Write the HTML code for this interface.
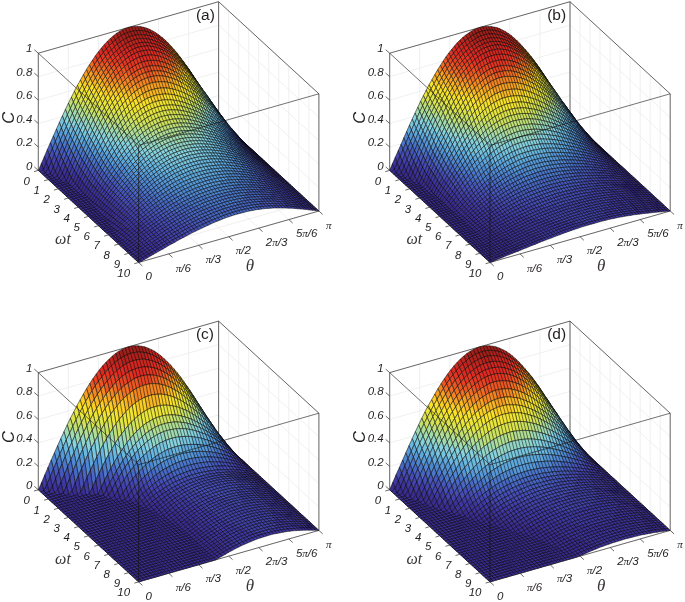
<!DOCTYPE html>
<html><head><meta charset="utf-8"><title>Concurrence surfaces</title>
<style>
html,body{margin:0;padding:0;background:#fff}
svg{display:block}
text{fill:#231f20}
.ti{font:italic 11.5px "Liberation Sans",Arial,sans-serif}
.pi{font-family:"Liberation Serif","DejaVu Serif",serif;font-size:11px}
.ax{font-family:"Liberation Serif","DejaVu Serif",serif;font-style:italic;fill:#3a3536}
.cc{font:italic 16.5px "Liberation Sans",Arial,sans-serif}
.lb{font:15.5px "Liberation Sans",Arial,sans-serif}
.a{fill:#392c8e}.b{fill:#3c3297}.c{fill:#3f38a0}.d{fill:#4242aa}.e{fill:#454cb4}.f{fill:#4659bb}.g{fill:#4767c2}.h{fill:#4a77ca}.i{fill:#4f88d1}.j{fill:#5698d7}.k{fill:#5fa8dc}.l{fill:#6ab7df}.m{fill:#78c5de}.n{fill:#86d2de}.o{fill:#93d6c7}.p{fill:#a0dbb0}.q{fill:#afde94}.r{fill:#bee077}.s{fill:#cde25e}.t{fill:#dbe44b}.u{fill:#e8e63a}.v{fill:#f1e431}.w{fill:#fae228}.x{fill:#f9cd26}.y{fill:#f7b724}.z{fill:#f59f23}.za{fill:#f28623}.zb{fill:#ee6e23}.zc{fill:#eb5723}.zd{fill:#e74323}.ze{fill:#e23623}.zf{fill:#de2a23}.zg{fill:#d02721}.zh{fill:#c2241f}.zi{fill:#b1211c}.zj{fill:#9f1f1a}
</style></head><body>
<svg width="685" height="602" viewBox="0 0 685 602"><rect width="685" height="602" fill="#fff"/><g stroke="#eaeaea" stroke-width=".7" fill="none"><path d="M38.3 170.4L218.6 118.9"/><path d="M218.6 118.9L218.6 1.7"/><path d="M48.3 179.6L228.6 128.1"/><path d="M228.6 128.1L228.6 10.9"/><path d="M58.4 188.8L238.7 137.3"/><path d="M238.7 137.3L238.7 20.1"/><path d="M68.4 198L248.7 146.5"/><path d="M248.7 146.5L248.7 29.3"/><path d="M78.4 207.2L258.7 155.7"/><path d="M258.7 155.7L258.7 38.5"/><path d="M88.4 216.4L268.8 164.9"/><path d="M268.8 164.9L268.8 47.7"/><path d="M98.5 225.7L278.8 174.2"/><path d="M278.8 174.2L278.8 57"/><path d="M108.5 234.9L288.8 183.4"/><path d="M288.8 183.4L288.8 66.2"/><path d="M118.5 244.1L298.8 192.6"/><path d="M298.8 192.6L298.8 75.4"/><path d="M128.6 253.3L308.9 201.8"/><path d="M308.9 201.8L308.9 84.6"/><path d="M138.6 262.5L318.9 211"/><path d="M318.9 211L318.9 93.8"/><path d="M38.3 170.4L138.6 262.5"/><path d="M38.3 170.4L38.3 53.2"/><path d="M68.3 161.8L168.7 253.9"/><path d="M68.3 161.8L68.3 44.6"/><path d="M98.4 153.2L198.7 245.3"/><path d="M98.4 153.2L98.4 36"/><path d="M128.4 144.7L228.8 236.8"/><path d="M128.4 144.7L128.4 27.5"/><path d="M158.5 136.1L258.8 228.2"/><path d="M158.5 136.1L158.5 18.9"/><path d="M188.6 127.5L288.9 219.6"/><path d="M188.6 127.5L188.6 10.3"/><path d="M218.6 118.9L318.9 211"/><path d="M218.6 118.9L218.6 1.7"/><path d="M38.3 170.4L218.6 118.9"/><path d="M218.6 118.9L318.9 211"/><path d="M38.3 147L218.6 95.5"/><path d="M218.6 95.5L318.9 187.6"/><path d="M38.3 123.5L218.6 72"/><path d="M218.6 72L318.9 164.1"/><path d="M38.3 100.1L218.6 48.6"/><path d="M218.6 48.6L318.9 140.7"/><path d="M38.3 76.6L218.6 25.1"/><path d="M218.6 25.1L318.9 117.2"/><path d="M38.3 53.2L218.6 1.7"/><path d="M218.6 1.7L318.9 93.8"/></g><g stroke="#3c3838" stroke-width=".75" fill="none"><path d="M38.3 170.4L218.6 118.9"/><path d="M218.6 118.9L318.9 211"/><path d="M218.6 118.9L218.6 1.7"/><path d="M38.3 53.2L218.6 1.7"/><path d="M218.6 1.7L318.9 93.8"/><path d="M38.3 170.4L38.3 53.2"/><path d="M318.9 211L318.9 93.8"/><path d="M38.3 170.4L138.6 262.5"/><path d="M138.6 262.5L318.9 211"/></g><g transform="scale(0.2)" stroke="#000" stroke-width="2.5" stroke-linejoin="round"><path class=s d="M943 344l15 23 10 15-15-22z"/><path class=t d="M928 323l15 21 10 16-15-22z"/><path class=v d="M913 302l15 21 10 15-15-20z"/><path class=w d="M898 282l15 20 10 16-15-20z"/><path class=y d="M883 262l15 20 10 16-15-18z"/><path class=z d="M868 245l15 17 10 18-15-18z"/><path class=za d="M853 228l15 17 10 17-15-16z"/><path class=zb d="M838 212l15 16 10 18-15-15z"/><path class=zd d="M823 198l15 14 10 19-15-14z"/><path class=ze d="M808 185l15 13 10 19-15-13z"/><path class=zf d="M792 173l16 12 10 19-15-12z"/><path class=zg d="M762 154l15 8 15 11 11 19-15-10-16-8z"/><path class=zh d="M747 146l15 8 10 20-15-8z"/><path class=zi d="M717 136l15 4 15 6 10 20-15-5-15-5z"/><path class=zj d="M582 167l15-10 15-8 15-7 15-5 15-3 15-2 15 0 15 1 15 3 10 20-15-3-15-1-15 1-15 2-15 3-15 5-15 7-15 8-15 10z"/><path class=zi d="M552 192l15-13 15-12 10 21-15 12-15 13z"/><path class=zh d="M537 206l15-14 10 21-15 15z"/><path class=zg d="M507 240l15-18 15-16 10 22-15 16-15 18z"/><path class=zf d="M492 259l15-19 10 22-15 19z"/><path class=ze d="M477 279l15-20 10 22-15 20z"/><path class=zd d="M462 301l15-22 10 22-15 22z"/><path class=zb d="M447 324l15-23 10 22-15 24z"/><path class=za d="M432 348l15-24 10 23-15 24z"/><path class=z d="M417 373l15-25 10 23-15 26z"/><path class=y d="M402 400l15-27 10 24-15 27z"/><path class=w d="M387 427l15-27 10 24-15 28z"/><path class=v d="M372 456l15-29 10 25-15 29z"/><path class=t d="M357 486l15-30 10 25-15 30z"/><path class=r d="M342 516l15-30 10 25-15 31z"/><path class=q d="M327 547l15-31 10 26-15 32z"/><path class=o d="M312 579l15-32 10 27-15 33z"/><path class=m d="M297 612l15-33 10 28-15 33z"/><path class=l d="M282 645l15-33 10 28-15 34z"/><path class=j d="M267 679l15-34 10 29-15 34z"/><path class=h d="M252 713l15-34 10 29-15 35z"/><path class=f d="M237 747l15-34 10 30-15 35z"/><path class=d d="M222 782l15-35 10 31-15 35z"/><path class=b d="M207 817l15-35 10 31-15 35z"/><path class=a d="M192 852l15-35 10 31-15 13z"/><path class=r d="M953 360l15 22 10 15-15-22z"/><path class=t d="M938 338l15 22 10 15-15-21z"/><path class=u d="M923 318l15 20 10 16-15-20z"/><path class=w d="M908 298l15 20 10 16-15-19z"/><path class=x d="M893 280l15 18 10 17-15-18z"/><path class=y d="M878 262l15 18 10 17-15-17z"/><path class=za d="M863 246l15 16 10 18-15-16z"/><path class=zb d="M848 231l15 15 10 18-15-15z"/><path class=zc d="M833 217l15 14 10 18-15-13z"/><path class=zd d="M818 204l15 13 10 19-15-13z"/><path class=ze d="M803 192l15 12 10 19-15-11z"/><path class=zf d="M788 182l15 10 10 20-15-10z"/><path class=zg d="M757 166l15 8 16 8 10 20-15-9-16-7z"/><path class=zh d="M742 161l15 5 10 20-15-5z"/><path class=zi d="M697 152l15 1 15 3 15 5 10 20-15-4-15-3-15-1z"/><path class=zj d="M622 170l15-7 15-5 15-3 15-2 15-1 10 21-15 0-15 2-15 4-15 5-15 7z"/><path class=zi d="M577 200l15-12 15-10 15-8 10 21-15 8-15 10-15 12z"/><path class=zh d="M562 213l15-13 10 21-15 13z"/><path class=zg d="M532 244l15-16 15-15 10 21-15 15-15 16z"/><path class=zf d="M517 262l15-18 10 21-15 18z"/><path class=ze d="M502 281l15-19 10 21-15 19z"/><path class=zd d="M487 301l15-20 10 21-15 21z"/><path class=zc d="M472 323l15-22 10 22-15 22z"/><path class=zb d="M457 347l15-24 10 22-15 24z"/><path class=z d="M442 371l15-24 10 22-15 25z"/><path class=y d="M427 397l15-26 10 23-15 26z"/><path class=x d="M412 424l15-27 10 23-15 27z"/><path class=v d="M397 452l15-28 10 23-15 29z"/><path class=u d="M382 481l15-29 10 24-15 29z"/><path class=s d="M367 511l15-30 10 24-15 31z"/><path class=q d="M352 542l15-31 10 25-15 31z"/><path class=p d="M337 574l15-32 10 25-15 33z"/><path class=n d="M322 607l15-33 10 26-15 33z"/><path class=l d="M307 640l15-33 10 26-15 33z"/><path class=j d="M292 674l15-34 10 26-15 35z"/><path class=i d="M277 708l15-34 10 27-15 35z"/><path class=g d="M262 743l15-35 10 28-15 35z"/><path class=e d="M247 778l15-35 10 28-15 36z"/><path class=c d="M232 813l15-35 10 29-15 35z"/><path class=a d="M202 861l15-13 15-35 10 29-15 24-15 4z"/><path class=r d="M963 375l15 22 10 14-15-21z"/><path class=s d="M948 354l15 21 10 15-15-20z"/><path class=u d="M933 334l15 20 10 16-15-19z"/><path class=v d="M918 315l15 19 10 17-15-19z"/><path class=x d="M903 297l15 18 10 17-15-18z"/><path class=y d="M888 280l15 17 10 17-15-16z"/><path class=z d="M873 264l15 16 10 18-15-16z"/><path class=za d="M858 249l15 15 10 18-15-14z"/><path class=zb d="M843 236l15 13 10 19-15-14z"/><path class=zc d="M828 223l15 13 10 18-15-12z"/><path class=zd d="M813 212l15 11 10 19-15-11z"/><path class=ze d="M798 202l15 10 10 19-15-10z"/><path class=zf d="M783 193l15 9 10 19-15-8z"/><path class=zg d="M752 181l15 5 16 7 10 20-15-7-16-6z"/><path class=zh d="M722 174l15 3 15 4 10 19-15-4-15-2z"/><path class=zi d="M617 199l15-8 15-7 15-5 15-4 15-2 15 0 15 1 10 20-15-1-15 0-15 2-15 4-15 5-15 7-15 8z"/><path class=zh d="M587 221l15-12 15-10 10 20-15 10-15 12z"/><path class=zg d="M557 249l15-15 15-13 10 20-15 13-15 15z"/><path class=zf d="M542 265l15-16 10 20-15 16z"/><path class=ze d="M527 283l15-18 10 20-15 18z"/><path class=zd d="M512 302l15-19 10 20-15 20z"/><path class=zc d="M497 323l15-21 10 21-15 21z"/><path class=zb d="M482 345l15-22 10 21-15 22z"/><path class=za d="M467 369l15-24 10 21-15 24z"/><path class=z d="M452 394l15-25 10 21-15 25z"/><path class=x d="M437 420l15-26 10 21-15 26z"/><path class=w d="M422 447l15-27 10 21-15 28z"/><path class=u d="M407 476l15-29 10 22-15 29z"/><path class=t d="M392 505l15-29 10 22-15 30z"/><path class=r d="M377 536l15-31 10 23-15 31z"/><path class=p d="M362 567l15-31 10 23-15 32z"/><path class=o d="M347 600l15-33 10 24-15 33z"/><path class=m d="M332 633l15-33 10 24-15 33z"/><path class=k d="M317 666l15-33 10 24-15 34z"/><path class=i d="M302 701l15-35 10 25-15 35z"/><path class=g d="M287 736l15-35 10 25-15 36z"/><path class=f d="M272 771l15-35 10 26-15 35z"/><path class=d d="M257 807l15-36 10 26-15 36z"/><path class=b d="M242 842l15-35 10 26-15 37z"/><path class=a d="M212 870l15-4 15-24 10 28-15 5-15 5z"/><path class=p d="M988 411l15 22 10 14-15-21z"/><path class=q d="M973 390l15 21 10 15-15-21z"/><path class=s d="M958 370l15 20 10 15-15-19z"/><path class=t d="M943 351l15 19 10 16-15-19z"/><path class=v d="M928 332l15 19 10 16-15-18z"/><path class=w d="M913 314l15 18 10 17-15-18z"/><path class=x d="M898 298l15 16 10 17-15-16z"/><path class=z d="M883 282l15 16 10 17-15-15z"/><path class=za d="M868 268l15 14 10 18-15-14z"/><path class=zb d="M853 254l15 14 10 18-15-14z"/><path class=zc d="M838 242l15 12 10 18-15-12z"/><path class=zd d="M823 231l15 11 10 18-15-10z"/><path class=ze d="M793 213l15 8 15 10 10 19-15-10-15-8z"/><path class=zf d="M778 206l15 7 10 19-15-7z"/><path class=zg d="M747 196l15 4 16 6 10 19-15-5-16-4z"/><path class=zh d="M612 229l15-10 15-8 15-7 15-5 15-4 15-2 15 0 15 1 15 2 10 20-15-3-15-1-15 0-15 2-15 4-15 5-15 7-15 8-15 10z"/><path class=zg d="M582 254l15-13 15-12 10 19-15 12-15 13z"/><path class=zf d="M567 269l15-15 10 19-15 15z"/><path class=ze d="M552 285l15-16 10 19-15 16z"/><path class=zd d="M537 303l15-18 10 19-15 18z"/><path class=zc d="M522 323l15-20 10 19-15 20z"/><path class=zb d="M507 344l15-21 10 19-15 21z"/><path class=za d="M492 366l15-22 10 19-15 23z"/><path class=z d="M477 390l15-24 10 20-15 24z"/><path class=y d="M462 415l15-25 10 20-15 25z"/><path class=w d="M447 441l15-26 10 20-15 27z"/><path class=v d="M432 469l15-28 10 21-15 28z"/><path class=u d="M417 498l15-29 10 21-15 29z"/><path class=s d="M402 528l15-30 10 21-15 30z"/><path class=q d="M387 559l15-31 10 21-15 31z"/><path class=p d="M372 591l15-32 10 21-15 33z"/><path class=n d="M357 624l15-33 10 22-15 33z"/><path class=l d="M342 657l15-33 10 22-15 34z"/><path class=j d="M327 691l15-34 10 23-15 34z"/><path class=h d="M312 726l15-35 10 23-15 36z"/><path class=f d="M297 762l15-36 10 24-15 35z"/><path class=d d="M282 797l15-35 10 23-15 37z"/><path class=c d="M267 833l15-36 10 25-15 36z"/><path class=a d="M222 880l15-5 15-5 15-37 10 25-15 22-15 5-15 4z"/><path class=q d="M983 405l15 21 10 14-15-20z"/><path class=r d="M968 386l15 19 10 15-15-19z"/><path class=t d="M953 367l15 19 10 15-15-19z"/><path class=u d="M938 349l15 18 10 15-15-17z"/><path class=w d="M923 331l15 18 10 16-15-17z"/><path class=x d="M908 315l15 16 10 17-15-16z"/><path class=y d="M893 300l15 15 10 17-15-15z"/><path class=z d="M878 286l15 14 10 17-15-14z"/><path class=za d="M863 272l15 14 10 17-15-13z"/><path class=zb d="M848 260l15 12 10 18-15-12z"/><path class=zc d="M833 250l15 10 10 18-15-10z"/><path class=zd d="M818 240l15 10 10 18-15-10z"/><path class=ze d="M803 232l15 8 10 18-15-8z"/><path class=zf d="M773 220l15 5 15 7 10 18-15-7-15-5z"/><path class=zg d="M727 212l15 1 15 3 16 4 10 18-15-4-16-3-15-1z"/><path class=zh d="M652 230l15-7 15-5 15-4 15-2 15 0 10 18-15 1-15 2-15 3-15 5-15 7z"/><path class=zg d="M607 260l15-12 15-10 15-8 10 18-15 8-15 10-15 12z"/><path class=zf d="M592 273l15-13 10 18-15 13z"/><path class=ze d="M562 304l15-16 15-15 10 18-15 15-15 16z"/><path class=zd d="M547 322l15-18 10 18-15 18z"/><path class=zc d="M532 342l15-20 10 18-15 20z"/><path class=zb d="M517 363l15-21 10 18-15 21z"/><path class=za d="M502 386l15-23 10 18-15 23z"/><path class=y d="M487 410l15-24 10 18-15 24z"/><path class=x d="M472 435l15-25 10 18-15 25z"/><path class=w d="M457 462l15-27 10 18-15 27z"/><path class=u d="M442 490l15-28 10 18-15 28z"/><path class=t d="M427 519l15-29 10 18-15 30z"/><path class=r d="M412 549l15-30 10 19-15 30z"/><path class=q d="M397 580l15-31 10 19-15 32z"/><path class=o d="M382 613l15-33 10 20-15 32z"/><path class=m d="M367 646l15-33 10 19-15 34z"/><path class=k d="M352 680l15-34 10 20-15 34z"/><path class=i d="M337 714l15-34 10 20-15 35z"/><path class=g d="M322 750l15-36 10 21-15 36z"/><path class=f d="M307 785l15-35 10 21-15 36z"/><path class=d d="M292 822l15-37 10 22-15 36z"/><path class=b d="M277 858l15-36 10 21-15 37z"/><path class=a d="M232 889l15-4 15-5 15-22 10 22-15 9-15 5-15 4z"/><path class=l d="M1038 481l15 22 10 14-15-21z"/><path class=n d="M1023 460l15 21 10 15-15-21z"/><path class=o d="M1008 440l15 20 10 15-15-20z"/><path class=q d="M993 420l15 20 10 15-15-19z"/><path class=r d="M978 401l15 19 10 16-15-18z"/><path class=t d="M963 382l15 19 10 17-15-18z"/><path class=u d="M948 365l15 17 10 18-15-18z"/><path class=v d="M933 348l15 17 10 17-15-16z"/><path class=w d="M918 332l15 16 10 18-15-15z"/><path class=y d="M903 317l15 15 10 19-15-15z"/><path class=z d="M888 303l15 14 10 19-15-14z"/><path class=za d="M873 290l15 13 10 19-15-12z"/><path class=zb d="M858 278l15 12 10 20-15-12z"/><path class=zc d="M843 268l15 10 10 20-15-10z"/><path class=zd d="M813 250l15 8 15 10 10 20-15-9-15-8z"/><path class=ze d="M798 243l15 7 10 21-15-7z"/><path class=zf d="M752 231l16 3 15 4 15 5 10 21-15-5-15-4-15-3z"/><path class=zg d="M647 256l15-8 15-7 15-5 15-3 15-2 15-1 15 1 11 21-15-1-16 0-15 2-15 3-15 5-15 7-15 8z"/><path class=zf d="M617 278l15-12 15-10 10 20-15 10-15 11z"/><path class=ze d="M587 306l15-15 15-13 10 19-15 13-15 15z"/><path class=zd d="M572 322l15-16 10 19-15 16z"/><path class=zc d="M557 340l15-18 10 19-15 18z"/><path class=zb d="M542 360l15-20 10 19-15 20z"/><path class=za d="M527 381l15-21 10 19-15 21z"/><path class=z d="M512 404l15-23 10 19-15 23z"/><path class=y d="M497 428l15-24 10 19-15 24z"/><path class=x d="M482 453l15-25 10 19-15 25z"/><path class=v d="M467 480l15-27 10 19-15 27z"/><path class=u d="M452 508l15-28 10 19-15 28z"/><path class=s d="M437 538l15-30 10 19-15 30z"/><path class=r d="M422 568l15-30 10 19-15 30z"/><path class=p d="M407 600l15-32 10 19-15 32z"/><path class=n d="M392 632l15-32 10 19-15 33z"/><path class=l d="M377 666l15-34 10 20-15 34z"/><path class=k d="M362 700l15-34 10 20-15 34z"/><path class=i d="M347 735l15-35 10 20-15 35z"/><path class=g d="M332 771l15-36 10 20-15 36z"/><path class=e d="M317 807l15-36 10 20-15 37z"/><path class=c d="M302 843l15-36 10 21-15 37z"/><path class=a d="M242 898l15-4 15-5 15-9 15-37 10 22-15 29-15 5-15 4-15 4z"/><path class=j d="M1063 517l15 21 10 14-15-20z"/><path class=l d="M1048 496l15 21 10 15-15-20z"/><path class=m d="M1033 475l15 21 10 16-15-20z"/><path class=o d="M1018 455l15 20 10 17-15-19z"/><path class=p d="M1003 436l15 19 10 18-15-18z"/><path class=r d="M988 418l15 18 10 19-15-18z"/><path class=s d="M973 400l15 18 10 19-15-17z"/><path class=t d="M958 382l15 18 10 20-15-17z"/><path class=v d="M943 366l15 16 10 21-15-16z"/><path class=w d="M928 351l15 15 10 21-15-14z"/><path class=x d="M913 336l15 15 10 22-15-15z"/><path class=y d="M898 322l15 14 10 22-15-13z"/><path class=z d="M883 310l15 12 10 23-15-12z"/><path class=za d="M868 298l15 12 10 23-15-11z"/><path class=zb d="M853 288l15 10 10 24-15-10z"/><path class=zc d="M838 279l15 9 10 24-15-9z"/><path class=zd d="M808 264l15 7 15 8 10 24-15-8-15-6z"/><path class=ze d="M778 255l15 4 15 5 10 25-15-6-15-4z"/><path class=zf d="M732 251l16 0 15 1 15 3 10 24-15-2-15-2-15 1z"/><path class=zg d="M687 261l15-5 15-3 15-2 11 25-16 1-15 4-15 4z"/><path class=zf d="M642 286l15-10 15-8 15-7 10 24-15 7-15 8-15 9z"/><path class=ze d="M612 310l15-13 15-11 10 23-15 11-15 13z"/><path class=zd d="M597 325l15-15 10 23-15 15z"/><path class=zc d="M567 359l15-18 15-16 10 23-15 16-15 18z"/><path class=zb d="M552 379l15-20 10 23-15 19z"/><path class=za d="M537 400l15-21 10 22-15 21z"/><path class=z d="M522 423l15-23 10 22-15 22z"/><path class=x d="M507 447l15-24 10 21-15 24z"/><path class=w d="M492 472l15-25 10 21-15 26z"/><path class=v d="M477 499l15-27 10 22-15 27z"/><path class=t d="M462 527l15-28 10 22-15 28z"/><path class=s d="M447 557l15-30 10 22-15 29z"/><path class=q d="M432 587l15-30 10 21-15 31z"/><path class=o d="M417 619l15-32 10 22-15 31z"/><path class=n d="M402 652l15-33 10 21-15 33z"/><path class=l d="M387 686l15-34 10 21-15 34z"/><path class=j d="M372 720l15-34 10 21-15 35z"/><path class=h d="M357 755l15-35 10 22-15 35z"/><path class=f d="M342 791l15-36 10 22-15 36z"/><path class=d d="M327 828l15-37 10 22-15 36z"/><path class=b d="M312 865l15-37 10 21-15 37z"/><path class=a d="M252 907l15-4 15-4 15-5 15-29 10 21-15 18-15 4-15 4-15 4z"/><path class=h d="M1088 552l15 21 10 13-15-19z"/><path class=j d="M1073 532l15 20 10 15-15-20z"/><path class=k d="M1058 512l15 20 10 15-15-19z"/><path class=m d="M1043 492l15 20 10 16-15-18z"/><path class=n d="M1028 473l15 19 10 18-15-18z"/><path class=p d="M1013 455l15 18 10 19-15-18z"/><path class=q d="M998 437l15 18 10 19-15-17z"/><path class=r d="M983 420l15 17 10 20-15-16z"/><path class=t d="M968 403l15 17 10 21-15-16z"/><path class=u d="M953 387l15 16 10 22-15-15z"/><path class=v d="M938 373l15 14 10 23-15-14z"/><path class=w d="M923 358l15 15 10 23-15-14z"/><path class=x d="M908 345l15 13 10 24-15-12z"/><path class=y d="M893 333l15 12 10 25-15-12z"/><path class=z d="M878 322l15 11 10 25-15-11z"/><path class=za d="M863 312l15 10 10 25-15-9z"/><path class=zb d="M848 303l15 9 10 26-15-9z"/><path class=zc d="M818 289l15 6 15 8 10 26-15-8-15-6z"/><path class=zd d="M788 279l15 4 15 6 10 26-15-5-15-4z"/><path class=ze d="M743 276l15-1 15 2 15 2 10 27-15-3-15-1-15 0z"/><path class=zf d="M697 285l15-4 15-4 16-1 10 26-15 2-16 3-15 5z"/><path class=ze d="M637 320l15-11 15-9 15-8 15-7 10 27-15 6-15 7-15 10-15 11z"/><path class=zd d="M622 333l15-13 10 26-15 12z"/><path class=zc d="M592 364l15-16 15-15 10 25-15 15-15 15z"/><path class=zb d="M577 382l15-18 10 24-15 18z"/><path class=za d="M562 401l15-19 10 24-15 19z"/><path class=z d="M547 422l15-21 10 24-15 21z"/><path class=y d="M532 444l15-22 10 24-15 22z"/><path class=x d="M517 468l15-24 10 24-15 23z"/><path class=v d="M502 494l15-26 10 23-15 26z"/><path class=u d="M487 521l15-27 10 23-15 26z"/><path class=s d="M472 549l15-28 10 22-15 28z"/><path class=r d="M457 578l15-29 10 22-15 29z"/><path class=p d="M442 609l15-31 10 22-15 31z"/><path class=o d="M427 640l15-31 10 22-15 31z"/><path class=m d="M412 673l15-33 10 22-15 33z"/><path class=k d="M397 707l15-34 10 22-15 33z"/><path class=i d="M382 742l15-35 10 21-15 35z"/><path class=g d="M367 777l15-35 10 21-15 35z"/><path class=e d="M352 813l15-36 10 21-15 36z"/><path class=c d="M337 849l15-36 10 21-15 36z"/><path class=a d="M262 916l15-4 15-4 15-4 15-18 15-37 10 21-15 37-15 6-15 4-15 4-15 5z"/><path class=g d="M1113 586l15 20 10 13-15-19z"/><path class=h d="M1098 567l15 19 10 14-15-19z"/><path class=j d="M1083 547l15 20 10 14-15-18z"/><path class=k d="M1068 528l15 19 10 16-15-18z"/><path class=l d="M1053 510l15 18 10 17-15-18z"/><path class=n d="M1038 492l15 18 10 17-15-17z"/><path class=o d="M1023 474l15 18 10 18-15-17z"/><path class=p d="M1008 457l15 17 10 19-15-16z"/><path class=r d="M993 441l15 16 10 20-15-15z"/><path class=s d="M978 425l15 16 10 21-15-15z"/><path class=t d="M963 410l15 15 10 22-15-15z"/><path class=u d="M948 396l15 14 10 22-15-13z"/><path class=v d="M933 382l15 14 10 23-15-13z"/><path class=w d="M918 370l15 12 10 24-15-12z"/><path class=x d="M903 358l15 12 10 24-15-11z"/><path class=y d="M888 347l15 11 10 25-15-10z"/><path class=z d="M873 338l15 9 10 26-15-10z"/><path class=za d="M858 329l15 9 10 25-15-8z"/><path class=zb d="M828 315l15 6 15 8 10 26-15-7-15-7z"/><path class=zc d="M798 306l15 4 15 5 10 26-15-5-15-3z"/><path class=zd d="M753 302l15 0 15 1 15 3 10 27-15-3-15-1-15 0z"/><path class=ze d="M707 312l15-5 16-3 15-2 10 27-15 1-15 3-16 5z"/><path class=zd d="M647 346l15-11 15-10 15-7 15-6 10 26-15 6-15 7-15 10-15 10z"/><path class=zc d="M632 358l15-12 10 25-15 13z"/><path class=zb d="M602 388l15-15 15-15 10 26-15 14-15 15z"/><path class=za d="M587 406l15-18 10 25-15 17z"/><path class=z d="M572 425l15-19 10 24-15 19z"/><path class=y d="M557 446l15-21 10 24-15 20z"/><path class=x d="M542 468l15-22 10 23-15 22z"/><path class=w d="M527 491l15-23 10 23-15 23z"/><path class=u d="M512 517l15-26 10 23-15 25z"/><path class=t d="M497 543l15-26 10 22-15 26z"/><path class=s d="M482 571l15-28 10 22-15 28z"/><path class=q d="M467 600l15-29 10 22-15 29z"/><path class=o d="M452 631l15-31 10 22-15 30z"/><path class=n d="M437 662l15-31 10 21-15 31z"/><path class=l d="M422 695l15-33 10 21-15 32z"/><path class=j d="M407 728l15-33 10 20-15 33z"/><path class=h d="M392 763l15-35 10 20-15 34z"/><path class=g d="M377 798l15-35 10 19-15 35z"/><path class=e d="M362 834l15-36 10 19-15 36z"/><path class=c d="M347 870l15-36 10 19-15 36z"/><path class=a d="M272 926l15-5 15-4 15-4 15-6 15-37 10 19-15 29-15 4-15 4-15 5-15 4z"/><path class=h d="M1108 581l15 19 10 12-15-18z"/><path class=i d="M1093 563l15 18 10 13-15-17z"/><path class=k d="M1078 545l15 18 10 14-15-17z"/><path class=l d="M1063 527l15 18 10 15-15-17z"/><path class=m d="M1048 510l15 17 10 16-15-16z"/><path class=n d="M1033 493l15 17 10 17-15-16z"/><path class=p d="M1018 477l15 16 10 18-15-16z"/><path class=q d="M1003 462l15 15 10 18-15-14z"/><path class=r d="M988 447l15 15 10 19-15-15z"/><path class=s d="M973 432l15 15 10 19-15-13z"/><path class=t d="M958 419l15 13 10 21-15-13z"/><path class=u d="M943 406l15 13 10 21-15-13z"/><path class=v d="M928 394l15 12 10 21-15-11z"/><path class=w d="M913 383l15 11 10 22-15-11z"/><path class=x d="M898 373l15 10 10 22-15-10z"/><path class=y d="M883 363l15 10 10 22-15-9z"/><path class=z d="M868 355l15 8 10 23-15-8z"/><path class=za d="M838 341l15 7 15 7 10 23-15-7-15-5z"/><path class=zb d="M808 333l15 3 15 5 10 25-15-5-15-4z"/><path class=zc d="M748 330l15-1 15 0 15 1 15 3 10 24-15-2-15-1-15 0-15 1z"/><path class=zd d="M717 338l16-5 15-3 10 25-15 3-15 5z"/><path class=zc d="M657 371l15-10 15-10 15-7 15-6 11 25-16 6-15 7-15 9-15 10z"/><path class=zb d="M642 384l15-13 10 24-15 12z"/><path class=za d="M612 413l15-15 15-14 10 23-15 14-15 15z"/><path class=z d="M597 430l15-17 10 23-15 17z"/><path class=y d="M582 449l15-19 10 23-15 18z"/><path class=x d="M567 469l15-20 10 22-15 20z"/><path class=w d="M552 491l15-22 10 22-15 22z"/><path class=v d="M537 514l15-23 10 22-15 23z"/><path class=u d="M522 539l15-25 10 22-15 24z"/><path class=s d="M507 565l15-26 10 21-15 26z"/><path class=r d="M492 593l15-28 10 21-15 27z"/><path class=p d="M477 622l15-29 10 20-15 28z"/><path class=o d="M462 652l15-30 10 19-15 30z"/><path class=m d="M447 683l15-31 10 19-15 30z"/><path class=k d="M432 715l15-32 10 18-15 32z"/><path class=j d="M417 748l15-33 10 18-15 33z"/><path class=h d="M402 782l15-34 10 18-15 33z"/><path class=f d="M387 817l15-35 10 17-15 35z"/><path class=d d="M372 853l15-36 10 17-15 34z"/><path class=b d="M357 889l15-36 10 15-15 36z"/><path class=a d="M282 935l15-4 15-5 15-4 15-4 15-29 10 15-15 23-15 4-15 5-15 4-15 4z"/><path class=g d="M1118 594l15 18 10 13-15-17z"/><path class=i d="M1103 577l15 17 10 14-15-17z"/><path class=j d="M1088 560l15 17 10 14-15-16z"/><path class=k d="M1073 543l15 17 10 15-15-16z"/><path class=m d="M1058 527l15 16 10 16-15-16z"/><path class=n d="M1043 511l15 16 10 16-15-15z"/><path class=o d="M1028 495l15 16 10 17-15-14z"/><path class=p d="M1013 481l15 14 10 19-15-14z"/><path class=q d="M998 466l15 15 10 19-15-14z"/><path class=s d="M983 453l15 13 10 20-15-13z"/><path class=t d="M968 440l15 13 10 20-15-12z"/><path class=u d="M953 427l15 13 10 21-15-12z"/><path class=v d="M938 416l15 11 10 22-15-11z"/><path class=w d="M908 395l15 10 15 11 10 22-15-10-15-9z"/><path class=x d="M893 386l15 9 10 24-15-9z"/><path class=y d="M878 378l15 8 10 24-15-8z"/><path class=z d="M848 366l15 5 15 7 10 24-15-6-15-6z"/><path class=za d="M818 357l15 4 15 5 10 24-15-4-15-4z"/><path class=zb d="M758 355l15-1 15 0 15 1 15 2 10 25-15-2-15-1-15 0-15 2z"/><path class=zc d="M728 363l15-5 15-3 10 26-15 3-15 4z"/><path class=zb d="M667 395l15-10 15-9 15-7 16-6 10 25-15 6-15 7-16 9-15 10z"/><path class=za d="M637 421l15-14 15-12 10 25-15 12-15 14z"/><path class=z d="M622 436l15-15 10 25-15 14z"/><path class=y d="M607 453l15-17 10 24-15 17z"/><path class=x d="M592 471l15-18 10 24-15 18z"/><path class=w d="M577 491l15-20 10 24-15 19z"/><path class=v d="M562 513l15-22 10 23-15 21z"/><path class=u d="M547 536l15-23 10 22-15 23z"/><path class=t d="M532 560l15-24 10 22-15 23z"/><path class=s d="M517 586l15-26 10 21-15 25z"/><path class=q d="M502 613l15-27 10 20-15 27z"/><path class=p d="M487 641l15-28 10 20-15 27z"/><path class=n d="M472 671l15-30 10 19-15 29z"/><path class=m d="M457 701l15-30 10 18-15 30z"/><path class=k d="M442 733l15-32 10 18-15 31z"/><path class=i d="M427 766l15-33 10 17-15 32z"/><path class=g d="M412 799l15-33 10 16-15 33z"/><path class=e d="M397 834l15-35 10 16-15 33z"/><path class=d d="M382 868l15-34 10 14-15 34z"/><path class=b d="M367 904l15-36 10 14-15 35z"/><path class=a d="M292 944l15-4 15-4 15-5 15-4 15-23 10 13-15 19-15 4-15 5-15 4-15 4z"/><path class=e d="M1158 642l15 18 10 11-15-16z"/><path class=f d="M1143 625l15 17 10 13-15-16z"/><path class=g d="M1128 608l15 17 10 14-15-16z"/><path class=h d="M1113 591l15 17 10 15-15-16z"/><path class=j d="M1098 575l15 16 10 16-15-15z"/><path class=k d="M1083 559l15 16 10 17-15-15z"/><path class=l d="M1068 543l15 16 10 18-15-15z"/><path class=m d="M1053 528l15 15 10 19-15-14z"/><path class=o d="M1038 514l15 14 10 20-15-14z"/><path class=p d="M1023 500l15 14 10 20-15-13z"/><path class=q d="M1008 486l15 14 10 21-15-13z"/><path class=r d="M993 473l15 13 10 22-15-12z"/><path class=s d="M978 461l15 12 10 23-15-11z"/><path class=t d="M963 449l15 12 10 24-15-11z"/><path class=u d="M948 438l15 11 10 25-15-11z"/><path class=v d="M933 428l15 10 10 25-15-9z"/><path class=w d="M903 410l15 9 15 9 10 26-15-9-15-8z"/><path class=x d="M888 402l15 8 10 27-15-7z"/><path class=y d="M858 390l15 6 15 6 10 28-15-6-15-5z"/><path class=z d="M828 382l15 4 15 4 10 29-15-5-15-3z"/><path class=za d="M768 381l15-2 15 0 15 1 15 2 10 29-15-2-15 0-15 0-15 2z"/><path class=zb d="M738 388l15-4 15-3 10 30-15 2-15 5z"/><path class=za d="M677 420l15-10 16-9 15-7 15-6 10 30-15 5-15 8-15 8-16 10z"/><path class=z d="M647 446l15-14 15-12 10 29-15 11-15 13z"/><path class=y d="M632 460l15-14 10 27-15 15z"/><path class=x d="M617 477l15-17 10 28-15 16z"/><path class=w d="M602 495l15-18 10 27-15 17z"/><path class=v d="M587 514l15-19 10 26-15 19z"/><path class=u d="M572 535l15-21 10 26-15 20z"/><path class=t d="M557 558l15-23 10 25-15 22z"/><path class=s d="M542 581l15-23 10 24-15 23z"/><path class=r d="M527 606l15-25 10 24-15 24z"/><path class=p d="M512 633l15-27 10 23-15 26z"/><path class=o d="M497 660l15-27 10 22-15 26z"/><path class=n d="M482 689l15-29 10 21-15 28z"/><path class=l d="M467 719l15-30 10 20-15 29z"/><path class=j d="M452 750l15-31 10 19-15 30z"/><path class=i d="M437 782l15-32 10 18-15 31z"/><path class=g d="M422 815l15-33 10 17-15 32z"/><path class=e d="M407 848l15-33 10 16-15 32z"/><path class=c d="M392 882l15-34 10 15-15 33z"/><path class=a d="M302 953l15-4 15-4 15-5 15-4 15-19 15-35 10 14-15 34-15 15-15 5-15 4-15 4-15 5z"/><path class=c d="M1183 671l15 17 10 11-15-16z"/><path class=d d="M1168 655l15 16 10 12-15-15z"/><path class=f d="M1153 639l15 16 10 13-15-15z"/><path class=g d="M1138 623l15 16 10 14-15-15z"/><path class=h d="M1123 607l15 16 10 15-15-15z"/><path class=i d="M1108 592l15 15 10 16-15-14z"/><path class=j d="M1093 577l15 15 10 17-15-14z"/><path class=l d="M1078 562l15 15 10 18-15-13z"/><path class=m d="M1063 548l15 14 10 20-15-13z"/><path class=n d="M1048 534l15 14 10 21-15-13z"/><path class=o d="M1033 521l15 13 10 22-15-12z"/><path class=p d="M1018 508l15 13 10 23-15-12z"/><path class=q d="M1003 496l15 12 10 24-15-11z"/><path class=r d="M988 485l15 11 10 25-15-11z"/><path class=s d="M973 474l15 11 10 25-15-10z"/><path class=t d="M958 463l15 11 10 26-15-10z"/><path class=u d="M928 445l15 9 15 9 10 27-15-9-15-8z"/><path class=v d="M913 437l15 8 10 28-15-7z"/><path class=w d="M898 430l15 7 10 29-15-7z"/><path class=x d="M868 419l15 5 15 6 10 29-15-5-15-5z"/><path class=y d="M838 411l15 3 15 5 10 30-15-4-15-3z"/><path class=z d="M703 439l15-8 15-8 15-5 15-5 15-2 15-2 15 0 15 0 15 2 10 31-15-2-15 0-15 0-15 2-15 3-15 4-15 5-15 7-15 8z"/><path class=y d="M672 460l15-11 16-10 10 30-15 10-16 11z"/><path class=x d="M642 488l15-15 15-13 10 30-15 12-15 14z"/><path class=w d="M627 504l15-16 10 28-15 16z"/><path class=v d="M612 521l15-17 10 28-15 16z"/><path class=u d="M597 540l15-19 10 27-15 18z"/><path class=t d="M582 560l15-20 10 26-15 20z"/><path class=s d="M567 582l15-22 10 26-15 21z"/><path class=r d="M552 605l15-23 10 25-15 22z"/><path class=q d="M537 629l15-24 10 24-15 23z"/><path class=p d="M522 655l15-26 10 23-15 25z"/><path class=n d="M507 681l15-26 10 22-15 26z"/><path class=m d="M492 709l15-28 10 22-15 27z"/><path class=k d="M477 738l15-29 10 21-15 28z"/><path class=j d="M462 768l15-30 10 20-15 29z"/><path class=h d="M447 799l15-31 10 19-15 29z"/><path class=f d="M432 831l15-32 10 17-15 31z"/><path class=e d="M417 863l15-32 10 16-15 31z"/><path class=c d="M402 896l15-33 10 15-15 32z"/><path class=a d="M312 963l15-5 15-4 15-4 15-5 15-15 15-34 10 14-15 32-15 13-15 4-15 4-15 4-15 5z"/><path class=c d="M1193 683l15 16 10 10-15-14z"/><path class=d d="M1178 668l15 15 10 12-15-14z"/><path class=e d="M1163 653l15 15 10 13-15-14z"/><path class=g d="M1148 638l15 15 10 14-15-14z"/><path class=h d="M1133 623l15 15 10 15-15-13z"/><path class=i d="M1118 609l15 14 10 17-15-13z"/><path class=j d="M1103 595l15 14 10 18-15-13z"/><path class=k d="M1088 582l15 13 10 19-15-13z"/><path class=l d="M1073 569l15 13 10 19-15-12z"/><path class=m d="M1058 556l15 13 10 20-15-11z"/><path class=n d="M1043 544l15 12 10 22-15-12z"/><path class=o d="M1028 532l15 12 10 22-15-11z"/><path class=p d="M1013 521l15 11 10 23-15-10z"/><path class=q d="M998 510l15 11 10 24-15-10z"/><path class=r d="M983 500l15 10 10 25-15-9z"/><path class=s d="M968 490l15 10 10 26-15-9z"/><path class=t d="M938 473l15 8 15 9 10 27-15-8-15-8z"/><path class=u d="M923 466l15 7 10 28-15-7z"/><path class=v d="M893 454l15 5 15 7 10 28-15-6-15-5z"/><path class=w d="M863 445l15 4 15 5 10 29-15-4-15-4z"/><path class=x d="M818 440l15 0 15 2 15 3 10 30-15-3-15-1-15-1z"/><path class=y d="M713 469l15-8 15-7 15-5 15-4 15-3 15-2 15 0 10 30-15 1-15 2-15 2-15 4-15 6-15 6-15 8z"/><path class=x d="M682 490l16-11 15-10 10 30-15 10-15 10z"/><path class=w d="M652 516l15-14 15-12 11 29-16 12-15 13z"/><path class=v d="M637 532l15-16 10 28-15 15z"/><path class=u d="M622 548l15-16 10 27-15 16z"/><path class=t d="M607 566l15-18 10 27-15 18z"/><path class=s d="M592 586l15-20 10 27-15 18z"/><path class=r d="M577 607l15-21 10 25-15 20z"/><path class=q d="M562 629l15-22 10 24-15 22z"/><path class=p d="M547 652l15-23 10 24-15 22z"/><path class=o d="M532 677l15-25 10 23-15 24z"/><path class=n d="M517 703l15-26 10 22-15 25z"/><path class=l d="M502 730l15-27 10 21-15 26z"/><path class=k d="M487 758l15-28 10 20-15 27z"/><path class=i d="M472 787l15-29 10 19-15 27z"/><path class=h d="M457 816l15-29 10 17-15 29z"/><path class=f d="M442 847l15-31 10 17-15 30z"/><path class=d d="M427 878l15-31 10 16-15 30z"/><path class=c d="M412 910l15-32 10 15-15 30z"/><path class=a d="M322 972l15-5 15-4 15-4 15-4 15-13 15-32 10 13-15 31-15 10-15 4-15 4-15 5-15 4z"/><path class=b d="M1218 709l15 14 10 10-15-14z"/><path class=c d="M1203 695l15 14 10 10-15-13z"/><path class=d d="M1188 681l15 14 10 11-15-13z"/><path class=e d="M1173 667l15 14 10 12-15-13z"/><path class=f d="M1158 653l15 14 10 13-15-12z"/><path class=g d="M1143 640l15 13 10 15-15-13z"/><path class=h d="M1128 627l15 13 10 15-15-12z"/><path class=i d="M1113 614l15 13 10 16-15-12z"/><path class=j d="M1098 601l15 13 10 17-15-11z"/><path class=k d="M1083 589l15 12 10 19-15-11z"/><path class=l d="M1068 578l15 11 10 20-15-11z"/><path class=m d="M1053 566l15 12 10 20-15-11z"/><path class=n d="M1038 555l15 11 10 21-15-10z"/><path class=o d="M1023 545l15 10 10 22-15-9z"/><path class=p d="M1008 535l15 10 10 23-15-9z"/><path class=q d="M993 526l15 9 10 24-15-9z"/><path class=r d="M963 509l15 8 15 9 10 24-15-8-15-8z"/><path class=s d="M948 501l15 8 10 25-15-7z"/><path class=t d="M918 488l15 6 15 7 10 26-15-6-15-6z"/><path class=u d="M903 483l15 5 10 27-15-5z"/><path class=v d="M873 475l15 4 15 4 10 27-15-4-15-3z"/><path class=w d="M813 471l15-1 15 1 15 1 15 3 10 28-15-2-15-2-15 0-15 0z"/><path class=x d="M753 485l15-6 15-4 15-2 15-2 10 28-15 2-15 3-15 4-15 5z"/><path class=w d="M693 519l15-10 15-10 15-8 15-6 10 28-15 6-15 8-15 9-15 10z"/><path class=v d="M662 544l15-13 16-12 10 27-15 12-16 12z"/><path class=u d="M647 559l15-15 10 26-15 15z"/><path class=t d="M632 575l15-16 10 26-15 15z"/><path class=s d="M617 593l15-18 10 25-15 17z"/><path class=r d="M602 611l15-18 10 24-15 18z"/><path class=q d="M587 631l15-20 10 24-15 19z"/><path class=p d="M572 653l15-22 10 23-15 21z"/><path class=o d="M557 675l15-22 10 22-15 21z"/><path class=n d="M542 699l15-24 10 21-15 23z"/><path class=m d="M527 724l15-25 10 20-15 24z"/><path class=l d="M512 750l15-26 10 19-15 25z"/><path class=j d="M497 777l15-27 10 18-15 26z"/><path class=i d="M482 804l15-27 10 17-15 27z"/><path class=g d="M467 833l15-29 10 17-15 28z"/><path class=f d="M452 863l15-30 10 16-15 28z"/><path class=d d="M437 893l15-30 10 14-15 29z"/><path class=b d="M422 923l15-30 10 13-15 30z"/><path class=a d="M332 981l15-4 15-5 15-4 15-4 15-10 15-31 10 13-15 30-15 7-15 4-15 5-15 4-15 4z"/><path class=b d="M1228 719l15 14 10 9-15-13z"/><path class=c d="M1213 706l15 13 10 10-15-12z"/><path class=d d="M1198 693l15 13 10 11-15-12z"/><path class=e d="M1183 680l15 13 10 12-15-12z"/><path class=f d="M1168 668l15 12 10 13-15-12z"/><path class=g d="M1153 655l15 13 10 13-15-11z"/><path class=h d="M1138 643l15 12 10 15-15-11z"/><path class=i d="M1123 631l15 12 10 16-15-11z"/><path class=j d="M1108 620l15 11 10 17-15-11z"/><path class=k d="M1093 609l15 11 10 17-15-10z"/><path class=l d="M1078 598l15 11 10 18-15-11z"/><path class=m d="M1048 577l15 10 15 11 10 18-15-9-15-10z"/><path class=n d="M1033 568l15 9 10 20-15-9z"/><path class=o d="M1018 559l15 9 10 20-15-8z"/><path class=p d="M1003 550l15 9 10 21-15-8z"/><path class=q d="M973 534l15 8 15 8 10 22-15-8-15-7z"/><path class=r d="M958 527l15 7 10 23-15-6z"/><path class=s d="M928 515l15 6 15 6 10 24-15-6-15-5z"/><path class=t d="M898 506l15 4 15 5 10 25-15-5-15-4z"/><path class=u d="M868 501l15 2 15 3 10 25-15-3-15-2z"/><path class=v d="M718 536l15-9 15-8 15-6 15-5 15-4 15-3 15-2 15 0 15 0 15 2 10 25-15-1-15 0-15 1-15 1-15 3-15 4-15 5-15 6-15 8-15 8z"/><path class=u d="M688 558l15-12 15-10 10 25-15 10-15 11z"/><path class=t d="M657 585l15-15 16-12 10 24-15 13-15 13z"/><path class=s d="M642 600l15-15 11 23-16 15z"/><path class=r d="M612 635l15-18 15-17 10 23-15 17-15 17z"/><path class=q d="M597 654l15-19 10 22-15 19z"/><path class=p d="M582 675l15-21 10 22-15 19z"/><path class=o d="M567 696l15-21 10 20-15 21z"/><path class=m d="M552 719l15-23 10 20-15 22z"/><path class=l d="M537 743l15-24 10 19-15 24z"/><path class=k d="M522 768l15-25 10 19-15 24z"/><path class=j d="M507 794l15-26 10 18-15 25z"/><path class=h d="M492 821l15-27 10 17-15 26z"/><path class=g d="M477 849l15-28 10 16-15 26z"/><path class=e d="M462 877l15-28 10 14-15 28z"/><path class=d d="M447 906l15-29 10 14-15 28z"/><path class=b d="M432 936l15-30 10 13-15 28z"/><path class=a d="M342 990l15-4 15-4 15-5 15-4 15-7 15-30 10 11-15 29-15 6-15 4-15 5-15 4-15 4z"/><path class=b d="M1238 729l15 13 11 9-16-12z"/><path class=c d="M1223 717l15 12 10 10-15-11z"/><path class=d d="M1208 705l15 12 10 11-15-12z"/><path class=e d="M1193 693l15 12 10 11-15-11z"/><path class=f d="M1178 681l15 12 10 12-15-11z"/><path class=g d="M1148 659l15 11 15 11 10 13-15-11-15-10z"/><path class=h d="M1133 648l15 11 10 14-15-10z"/><path class=i d="M1118 637l15 11 10 15-15-10z"/><path class=j d="M1103 627l15 10 10 16-15-10z"/><path class=k d="M1088 616l15 11 10 16-15-10z"/><path class=l d="M1073 607l15 9 10 17-15-9z"/><path class=m d="M1058 597l15 10 10 17-15-8z"/><path class=n d="M1028 580l15 8 15 9 10 19-15-9-15-8z"/><path class=o d="M1013 572l15 8 10 19-15-7z"/><path class=p d="M998 564l15 8 10 20-15-7z"/><path class=q d="M968 551l15 6 15 7 10 21-15-7-15-6z"/><path class=r d="M938 540l15 5 15 6 10 21-15-5-15-5z"/><path class=s d="M908 531l15 4 15 5 10 22-15-4-15-3z"/><path class=t d="M878 526l15 2 15 3 10 24-15-3-15-2z"/><path class=u d="M728 561l15-8 15-8 15-6 15-5 15-4 15-3 15-1 15-1 15 0 15 1 10 24-15 0-15-1-15 1-15 2-15 3-15 4-15 5-15 6-15 8-15 8z"/><path class=t d="M683 595l15-13 15-11 15-10 10 25-15 10-15 11-15 12z"/><path class=s d="M668 608l15-13 10 24-15 13z"/><path class=r d="M637 640l15-17 16-15 10 24-15 14-16 16z"/><path class=q d="M622 657l15-17 10 22-15 17z"/><path class=p d="M607 676l15-19 10 22-15 18z"/><path class=o d="M592 695l15-19 10 21-15 19z"/><path class=n d="M577 716l15-21 10 21-15 20z"/><path class=m d="M562 738l15-22 10 20-15 21z"/><path class=l d="M547 762l15-24 10 19-15 23z"/><path class=j d="M532 786l15-24 10 18-15 23z"/><path class=i d="M517 811l15-25 10 17-15 24z"/><path class=h d="M502 837l15-26 10 16-15 25z"/><path class=f d="M487 863l15-26 10 15-15 25z"/><path class=e d="M472 891l15-28 10 14-15 27z"/><path class=d d="M457 919l15-28 10 13-15 26z"/><path class=b d="M442 947l15-28 10 11-15 28z"/><path class=a d="M352 999l15-4 15-4 15-5 15-4 15-6 15-29 10 11-15 28-15 5-15 5-15 4-15 4-15 5z"/><path class=a d="M1248 739l16 12 10 9-15-11z"/><path class=b d="M1233 728l15 11 11 10-16-11z"/><path class=c d="M1218 716l15 12 10 10-15-11z"/><path class=d d="M1203 705l15 11 10 11-15-10z"/><path class=e d="M1188 694l15 11 10 12-15-11z"/><path class=f d="M1173 683l15 11 10 12-15-10z"/><path class=g d="M1158 673l15 10 10 13-15-10z"/><path class=h d="M1143 663l15 10 10 13-15-9z"/><path class=i d="M1128 653l15 10 10 14-15-10z"/><path class=j d="M1113 643l15 10 10 14-15-9z"/><path class=k d="M1083 624l15 9 15 10 10 15-15-9-15-8z"/><path class=l d="M1068 616l15 8 10 17-15-8z"/><path class=m d="M1053 607l15 9 10 17-15-8z"/><path class=n d="M1038 599l15 8 10 18-15-8z"/><path class=o d="M1008 585l15 7 15 7 10 18-15-7-15-6z"/><path class=p d="M978 572l15 6 15 7 10 19-15-6-15-6z"/><path class=q d="M963 567l15 5 10 20-15-4z"/><path class=r d="M933 558l15 4 15 5 10 21-15-5-15-3z"/><path class=s d="M888 550l15 2 15 3 15 3 10 22-15-3-15-2-15-2z"/><path class=t d="M723 596l15-10 15-8 15-8 15-6 15-5 15-4 15-3 15-2 15-1 15 1 15 0 10 23-15 0-15 0-15 1-15 2-15 3-15 4-15 5-15 6-15 8-15 8-15 10z"/><path class=s d="M693 619l15-12 15-11 10 24-15 10-15 12z"/><path class=r d="M678 632l15-13 10 23-15 13z"/><path class=q d="M647 662l16-16 15-14 10 23-15 14-15 15z"/><path class=p d="M632 679l15-17 11 22-16 16z"/><path class=o d="M617 697l15-18 10 21-15 18z"/><path class=n d="M602 716l15-19 10 21-15 18z"/><path class=m d="M587 736l15-20 10 20-15 19z"/><path class=l d="M572 757l15-21 10 19-15 21z"/><path class=k d="M557 780l15-23 10 19-15 21z"/><path class=j d="M542 803l15-23 10 17-15 22z"/><path class=i d="M527 827l15-24 10 16-15 24z"/><path class=h d="M512 852l15-25 10 16-15 23z"/><path class=f d="M497 877l15-25 10 14-15 25z"/><path class=e d="M482 904l15-27 10 14-15 25z"/><path class=c d="M467 930l15-26 10 12-15 26z"/><path class=b d="M452 958l15-28 10 12-15 26z"/><path class=a d="M362 1009l15-5 15-4 15-4 15-5 15-5 15-28 10 10-15 27-15 6-15 4-15 4-15 4-15 5z"/><path class=a d="M1259 749l15 11 10 9-15-10z"/><path class=b d="M1243 738l16 11 10 10-15-10z"/><path class=c d="M1228 727l15 11 11 11-16-11z"/><path class=d d="M1213 717l15 10 10 11-15-10z"/><path class=e d="M1198 706l15 11 10 11-15-10z"/><path class=f d="M1183 696l15 10 10 12-15-9z"/><path class=g d="M1168 686l15 10 10 13-15-10z"/><path class=h d="M1153 677l15 9 10 13-15-9z"/><path class=i d="M1123 658l15 9 15 10 10 13-15-9-15-8z"/><path class=j d="M1108 649l15 9 10 15-15-9z"/><path class=k d="M1093 641l15 8 10 15-15-8z"/><path class=l d="M1078 633l15 8 10 15-15-7z"/><path class=m d="M1048 617l15 8 15 8 10 16-15-8-15-7z"/><path class=n d="M1033 610l15 7 10 17-15-6z"/><path class=o d="M1003 598l15 6 15 6 10 18-15-6-15-6z"/><path class=p d="M973 588l15 4 15 6 10 18-15-5-15-4z"/><path class=q d="M943 580l15 3 15 5 10 19-15-4-15-3z"/><path class=r d="M913 575l15 2 15 3 10 20-15-3-15-1z"/><path class=s d="M838 576l15-2 15-1 15 0 15 0 15 2 10 21-15-1-15-1-15 1-15 1-15 3z"/><path class=t d="M793 588l15-5 15-4 15-3 10 23-15 3-15 4-15 5z"/><path class=s d="M733 620l15-10 15-8 15-8 15-6 10 23-15 6-15 8-15 8-15 9z"/><path class=r d="M703 642l15-12 15-10 10 22-15 11-15 11z"/><path class=q d="M673 669l15-14 15-13 10 22-15 13-15 13z"/><path class=p d="M658 684l15-15 10 21-15 15z"/><path class=o d="M642 700l16-16 10 21-15 16z"/><path class=n d="M612 736l15-18 15-18 11 21-16 16-15 18z"/><path class=m d="M597 755l15-19 10 19-15 19z"/><path class=l d="M582 776l15-21 10 19-15 20z"/><path class=k d="M567 797l15-21 10 18-15 20z"/><path class=j d="M552 819l15-22 10 17-15 21z"/><path class=h d="M537 843l15-24 10 16-15 23z"/><path class=g d="M522 866l15-23 10 15-15 22z"/><path class=f d="M507 891l15-25 10 14-15 24z"/><path class=e d="M492 916l15-25 10 13-15 24z"/><path class=c d="M477 942l15-26 10 12-15 25z"/><path class=b d="M462 968l15-26 10 11-15 25z"/><path class=a d="M372 1018l15-5 15-4 15-4 15-4 15-6 15-27 10 10-15 25-15 7-15 4-15 4-15 5-15 4z"/><path class=a d="M1269 759l15 10 10 10-15-10z"/><path class=b d="M1254 749l15 10 10 10-15-10z"/><path class=c d="M1238 738l16 11 10 10-15-10z"/><path class=d d="M1223 728l15 10 11 11-15-10z"/><path class=e d="M1208 718l15 10 11 11-16-9z"/><path class=f d="M1193 709l15 9 10 12-15-9z"/><path class=g d="M1163 690l15 9 15 10 10 12-15-9-15-9z"/><path class=h d="M1148 681l15 9 10 13-15-8z"/><path class=i d="M1133 673l15 8 10 14-15-8z"/><path class=j d="M1118 664l15 9 10 14-15-8z"/><path class=k d="M1088 649l15 7 15 8 10 15-15-8-15-7z"/><path class=l d="M1073 641l15 8 10 15-15-7z"/><path class=m d="M1043 628l15 6 15 7 10 16-15-6-15-6z"/><path class=n d="M1028 622l15 6 10 17-15-6z"/><path class=o d="M998 611l15 5 15 6 10 17-15-5-15-4z"/><path class=p d="M968 603l15 4 15 4 10 19-15-4-15-4z"/><path class=q d="M938 597l15 3 15 3 10 19-15-3-15-2z"/><path class=r d="M878 595l15-1 15 1 15 1 15 1 10 20-15-1-15-1-15 0-15 1z"/><path class=s d="M788 617l15-6 15-5 15-4 15-3 15-3 15-1 10 21-15 1-15 3-15 3-15 5-15 5-15 6z"/><path class=r d="M743 642l15-9 15-8 15-8 10 22-15 7-15 8-15 10z"/><path class=q d="M713 664l15-11 15-11 10 22-15 10-15 11z"/><path class=p d="M683 690l15-13 15-13 10 21-15 12-15 13z"/><path class=o d="M653 721l15-16 15-15 10 20-15 15-15 15z"/><path class=n d="M637 737l16-16 10 19-15 16z"/><path class=m d="M622 755l15-18 11 19-16 17z"/><path class=l d="M607 774l15-19 10 18-15 18z"/><path class=k d="M592 794l15-20 10 17-15 19z"/><path class=j d="M577 814l15-20 10 16-15 20z"/><path class=i d="M562 835l15-21 10 16-15 21z"/><path class=h d="M547 858l15-23 10 16-15 21z"/><path class=g d="M532 880l15-22 10 14-15 22z"/><path class=f d="M517 904l15-24 10 14-15 22z"/><path class=d d="M502 928l15-24 10 12-15 24z"/><path class=c d="M487 953l15-25 10 12-15 23z"/><path class=b d="M472 978l15-25 10 10-15 24z"/><path class=a d="M382 1027l15-4 15-5 15-4 15-4 15-7 15-25 10 9-15 25-15 7-15 4-15 5-15 4-15 4z"/><path class=a d="M1279 769l15 10 10 9-15-10z"/><path class=b d="M1264 759l15 10 10 9-15-9z"/><path class=c d="M1249 749l15 10 10 10-15-9z"/><path class=d d="M1234 739l15 10 10 11-15-10z"/><path class=e d="M1218 730l16 9 10 11-15-8z"/><path class=f d="M1188 712l15 9 15 9 11 12-16-9-15-9z"/><path class=g d="M1173 703l15 9 10 12-15-8z"/><path class=h d="M1158 695l15 8 10 13-15-8z"/><path class=i d="M1143 687l15 8 10 13-15-8z"/><path class=j d="M1113 671l15 8 15 8 10 13-15-7-15-7z"/><path class=k d="M1098 664l15 7 10 15-15-7z"/><path class=l d="M1068 651l15 6 15 7 10 15-15-6-15-6z"/><path class=m d="M1053 645l15 6 10 16-15-6z"/><path class=n d="M1023 634l15 5 15 6 10 16-15-5-15-5z"/><path class=o d="M993 626l15 4 15 4 10 17-15-4-15-4z"/><path class=p d="M948 617l15 2 15 3 15 4 10 17-15-3-15-2-15-2z"/><path class=q d="M903 615l15 0 15 1 15 1 10 19-15-1-15-1-15 0z"/><path class=r d="M783 646l15-7 15-6 15-5 15-5 15-3 15-3 15-1 15-1 10 19-15 1-15 2-15 3-15 3-15 5-15 5-15 6-15 7z"/><path class=q d="M738 674l15-10 15-10 15-8 10 20-15 8-15 10-15 10z"/><path class=p d="M708 697l15-12 15-11 10 20-15 10-15 12z"/><path class=o d="M678 725l15-15 15-13 10 19-15 13-15 14z"/><path class=n d="M663 740l15-15 10 18-15 15z"/><path class=m d="M648 756l15-16 10 18-15 16z"/><path class=l d="M617 791l15-18 16-17 10 18-15 16-15 18z"/><path class=k d="M602 810l15-19 11 17-16 18z"/><path class=j d="M587 830l15-20 10 16-15 19z"/><path class=i d="M572 851l15-21 10 15-15 20z"/><path class=h d="M557 872l15-21 10 14-15 20z"/><path class=g d="M542 894l15-22 10 13-15 22z"/><path class=e d="M527 916l15-22 10 13-15 21z"/><path class=d d="M512 940l15-24 10 12-15 23z"/><path class=c d="M497 963l15-23 10 11-15 22z"/><path class=b d="M482 987l15-24 10 10-15 23z"/><path class=a d="M392 1036l15-4 15-4 15-5 15-4 15-7 15-25 10 9-15 24-15 8-15 5-15 4-15 4-15 4z"/><path class=a d="M1289 778l15 10 10 9-15-9z"/><path class=b d="M1274 769l15 9 10 10-15-9z"/><path class=c d="M1259 760l15 9 10 10-15-9z"/><path class=d d="M1244 750l15 10 10 10-15-9z"/><path class=e d="M1213 733l16 9 15 8 10 11-15-8-15-8z"/><path class=f d="M1198 724l15 9 11 12-16-9z"/><path class=g d="M1183 716l15 8 10 12-15-7z"/><path class=h d="M1168 708l15 8 10 13-15-8z"/><path class=i d="M1138 693l15 7 15 8 10 13-15-7-15-7z"/><path class=j d="M1123 686l15 7 10 14-15-7z"/><path class=k d="M1093 673l15 6 15 7 10 14-15-7-15-6z"/><path class=l d="M1078 667l15 6 10 14-15-5z"/><path class=m d="M1048 656l15 5 15 6 10 15-15-6-15-4z"/><path class=n d="M1018 647l15 4 15 5 10 16-15-5-15-4z"/><path class=o d="M988 640l15 3 15 4 10 16-15-3-15-3z"/><path class=p d="M943 635l15 1 15 2 15 2 10 17-15-2-15-1-15-1z"/><path class=q d="M778 674l15-8 15-7 15-6 15-5 15-5 15-3 15-3 15-2 15-1 15 0 15 1 10 18-15 0-15 0-15 1-15 2-15 3-15 4-15 4-15 5-15 7-15 7-15 8z"/><path class=p d="M733 704l15-10 15-10 15-10 10 20-15 9-15 9-15 11z"/><path class=o d="M703 729l15-13 15-12 10 19-15 12-15 12z"/><path class=n d="M688 743l15-14 10 18-15 14z"/><path class=m d="M658 774l15-16 15-15 10 18-15 14-15 15z"/><path class=l d="M643 790l15-16 10 16-15 17z"/><path class=k d="M628 808l15-18 10 17-15 16z"/><path class=j d="M612 826l16-18 10 15-15 18z"/><path class=i d="M597 845l15-19 11 15-16 19z"/><path class=h d="M582 865l15-20 10 15-15 19z"/><path class=g d="M567 885l15-20 10 14-15 19z"/><path class=f d="M552 907l15-22 10 13-15 21z"/><path class=e d="M537 928l15-21 10 12-15 21z"/><path class=d d="M522 951l15-23 10 12-15 21z"/><path class=c d="M507 973l15-22 10 10-15 22z"/><path class=b d="M492 996l15-23 10 10-15 22z"/><path class=a d="M402 1045l15-4 15-4 15-4 15-5 15-8 15-24 10 9-15 23-15 9-15 5-15 4-15 4-15 5z"/><path class=a d="M1299 788l15 9 10 9-15-8z"/><path class=b d="M1284 779l15 9 10 10-15-9z"/><path class=c d="M1269 770l15 9 10 10-15-9z"/><path class=d d="M1254 761l15 9 10 10-15-8z"/><path class=e d="M1224 745l15 8 15 8 10 11-15-8-15-8z"/><path class=f d="M1208 736l16 9 10 11-15-8z"/><path class=g d="M1193 729l15 7 11 12-16-7z"/><path class=h d="M1163 714l15 7 15 8 10 12-15-8-15-7z"/><path class=i d="M1148 707l15 7 10 12-15-6z"/><path class=j d="M1118 693l15 7 15 7 10 13-15-7-15-6z"/><path class=k d="M1103 687l15 6 10 14-15-6z"/><path class=l d="M1073 676l15 6 15 5 10 14-15-5-15-5z"/><path class=m d="M1043 667l15 5 15 4 10 15-15-4-15-4z"/><path class=n d="M1013 660l15 3 15 4 10 16-15-4-15-3z"/><path class=o d="M968 654l15 1 15 2 15 3 10 16-15-2-15-2-15-1z"/><path class=p d="M908 654l15-1 15 0 15 0 15 1 10 17-15-1-15 0-15 1-15 1z"/><path class=q d="M833 672l15-5 15-4 15-4 15-3 15-2 10 18-15 2-15 3-15 4-15 5-15 5z"/><path class=p d="M773 703l15-9 15-8 15-7 15-7 10 19-15 6-15 7-15 8-15 9z"/><path class=o d="M728 735l15-12 15-11 15-9 10 18-15 10-15 10-15 11z"/><path class=n d="M698 761l15-14 15-12 10 17-15 13-15 13z"/><path class=m d="M683 775l15-14 10 17-15 14z"/><path class=l d="M653 807l15-17 15-15 10 17-15 15-15 15z"/><path class=k d="M638 823l15-16 10 15-15 17z"/><path class=j d="M623 841l15-18 10 16-15 17z"/><path class=i d="M607 860l16-19 10 15-15 17z"/><path class=h d="M592 879l15-19 11 13-16 19z"/><path class=g d="M577 898l15-19 10 13-15 19z"/><path class=f d="M562 919l15-21 10 13-15 20z"/><path class=e d="M547 940l15-21 10 12-15 20z"/><path class=d d="M532 961l15-21 10 11-15 20z"/><path class=c d="M517 983l15-22 10 10-15 21z"/><path class=b d="M502 1005l15-22 10 9-15 22z"/><path class=a d="M412 1055l15-5 15-4 15-4 15-5 15-9 15-23 10 9-15 21-15 12-15 4-15 4-15 5-15 4z"/><path class=a d="M1309 798l15 8 10 10-15-9z"/><path class=b d="M1294 789l15 9 10 9-15-8z"/><path class=c d="M1279 780l15 9 10 10-15-8z"/><path class=d d="M1249 764l15 8 15 8 10 11-15-8-15-8z"/><path class=e d="M1234 756l15 8 10 11-15-8z"/><path class=f d="M1219 748l15 8 10 11-15-7z"/><path class=g d="M1188 733l15 8 16 7 10 12-15-7-16-7z"/><path class=h d="M1173 726l15 7 10 13-15-7z"/><path class=i d="M1143 713l15 7 15 6 10 13-15-6-15-7z"/><path class=j d="M1128 707l15 6 10 13-15-5z"/><path class=k d="M1098 696l15 5 15 6 10 14-15-6-15-5z"/><path class=l d="M1068 687l15 4 15 5 10 14-15-4-15-4z"/><path class=m d="M1038 679l15 4 15 4 10 15-15-4-15-3z"/><path class=n d="M1008 674l15 2 15 3 10 16-15-3-15-2z"/><path class=o d="M948 670l15 0 15 1 15 1 15 2 10 16-15-2-15-1-15 0-15 0z"/><path class=p d="M798 712l15-8 15-7 15-6 15-5 15-5 15-4 15-3 15-2 15-1 15-1 10 17-15 1-15 2-15 2-15 3-15 4-15 4-15 6-15 6-15 7-15 8z"/><path class=o d="M753 741l15-10 15-10 15-9 10 18-15 9-15 9-15 10z"/><path class=n d="M723 765l15-13 15-11 10 17-15 12-15 12z"/><path class=m d="M708 778l15-13 10 17-15 12z"/><path class=l d="M678 807l15-15 15-14 10 16-15 14-15 14z"/><path class=k d="M663 822l15-15 10 15-15 15z"/><path class=j d="M633 856l15-17 15-17 10 15-15 16-15 17z"/><path class=i d="M618 873l15-17 10 14-15 17z"/><path class=h d="M602 892l16-19 10 14-15 18z"/><path class=g d="M587 911l15-19 11 13-16 18z"/><path class=f d="M572 931l15-20 10 12-15 19z"/><path class=e d="M557 951l15-20 10 11-15 19z"/><path class=d d="M542 971l15-20 10 10-15 20z"/><path class=c d="M527 992l15-21 10 10-15 21z"/><path class=b d="M512 1014l15-22 10 10-15 20z"/><path class=a d="M422 1064l15-4 15-5 15-4 15-4 15-12 15-21 10 8-15 21-15 13-15 4-15 4-15 5-15 4z"/><path class=a d="M1319 807l15 9 10 9-15-8z"/><path class=b d="M1304 799l15 8 10 10-15-8z"/><path class=c d="M1289 791l15 8 10 10-15-8z"/><path class=d d="M1259 775l15 8 15 8 10 10-15-8-15-7z"/><path class=e d="M1244 767l15 8 10 11-15-8z"/><path class=f d="M1214 753l15 7 15 7 10 11-15-7-15-7z"/><path class=g d="M1198 746l16 7 10 11-15-6z"/><path class=h d="M1183 739l15 7 11 12-15-7z"/><path class=i d="M1153 726l15 7 15 6 11 12-16-6-15-5z"/><path class=j d="M1123 715l15 6 15 5 10 14-15-6-15-5z"/><path class=k d="M1093 706l15 4 15 5 10 14-15-5-15-4z"/><path class=l d="M1063 698l15 4 15 4 10 14-15-4-15-3z"/><path class=m d="M1033 692l15 3 15 3 10 15-15-3-15-3z"/><path class=n d="M988 687l15 1 15 2 15 2 10 15-15-1-15-2-15-1z"/><path class=o d="M913 692l15-2 15-2 15-1 15 0 15 0 10 16-15 0-15 1-15 1-15 2-15 2z"/><path class=p d="M868 703l15-4 15-4 15-3 10 17-15 3-15 4-15 5z"/><path class=o d="M793 739l15-9 15-8 15-7 15-6 15-6 10 18-15 5-15 6-15 7-15 8-15 9z"/><path class=n d="M748 770l15-12 15-10 15-9 10 17-15 9-15 10-15 11z"/><path class=m d="M718 794l15-12 15-12 10 16-15 12-15 12z"/><path class=l d="M703 808l15-14 10 16-15 14z"/><path class=k d="M673 837l15-15 15-14 10 16-15 14-15 14z"/><path class=j d="M658 853l15-16 10 15-15 16z"/><path class=i d="M628 887l15-17 15-17 10 15-15 16-15 16z"/><path class=h d="M613 905l15-18 10 13-15 17z"/><path class=g d="M597 923l16-18 10 12-15 18z"/><path class=f d="M582 942l15-19 11 12-16 18z"/><path class=e d="M567 961l15-19 10 11-15 19z"/><path class=d d="M552 981l15-20 10 11-15 19z"/><path class=c d="M537 1002l15-21 10 10-15 20z"/><path class=b d="M522 1022l15-20 10 9-15 20z"/><path class=a d="M432 1073l15-4 15-5 15-4 15-4 15-13 15-21 10 9-15 20-15 14-15 4-15 5-15 4-15 4z"/><path class=a d="M1329 817l15 8 10 9-15-8z"/><path class=b d="M1314 809l15 8 10 9-15-7z"/><path class=c d="M1284 793l15 8 15 8 10 10-15-8-15-7z"/><path class=d d="M1269 786l15 7 10 11-15-8z"/><path class=e d="M1254 778l15 8 10 10-15-7z"/><path class=f d="M1224 764l15 7 15 7 10 11-15-6-15-7z"/><path class=g d="M1209 758l15 6 10 12-15-6z"/><path class=h d="M1178 745l16 6 15 7 10 12-15-6-15-6z"/><path class=i d="M1148 734l15 6 15 5 11 13-16-6-15-5z"/><path class=j d="M1133 729l15 5 10 13-15-5z"/><path class=k d="M1103 720l15 4 15 5 10 13-15-4-15-4z"/><path class=l d="M1073 713l15 3 15 4 10 14-15-4-15-3z"/><path class=m d="M1028 706l15 1 15 3 15 3 10 14-15-2-15-3-15-1z"/><path class=n d="M983 703l15 0 15 1 15 2 10 15-15-1-15-1-15 0z"/><path class=o d="M833 739l15-7 15-6 15-5 15-5 15-4 15-3 15-2 15-2 15-1 15-1 10 16-15 1-15 1-15 2-15 3-15 3-15 4-15 5-15 5-15 6-15 7z"/><path class=n d="M773 775l15-10 15-9 15-9 15-8 10 17-15 8-15 9-15 9-15 10z"/><path class=m d="M743 798l15-12 15-11 10 17-15 10-15 12z"/><path class=l d="M713 824l15-14 15-12 10 16-15 12-15 13z"/><path class=k d="M698 838l15-14 10 15-15 14z"/><path class=j d="M668 868l15-16 15-14 10 15-15 14-15 15z"/><path class=i d="M653 884l15-16 10 14-15 15z"/><path class=h d="M638 900l15-16 10 13-15 16z"/><path class=g d="M608 935l15-18 15-17 10 13-15 17-15 17z"/><path class=f d="M592 953l16-18 10 12-15 18z"/><path class=e d="M577 972l15-19 11 12-15 18z"/><path class=d d="M562 991l15-19 11 11-16 18z"/><path class=c d="M547 1011l15-20 10 10-15 19z"/><path class=b d="M532 1031l15-20 10 9-15 19z"/><path class=a d="M442 1082l15-4 15-4 15-5 15-4 15-14 15-20 10 8-15 19-15 16-15 5-15 4-15 4-15 4z"/><path class=a d="M1339 826l15 8 10 9-15-7z"/><path class=b d="M1324 819l15 7 10 10-15-8z"/><path class=c d="M1294 804l15 7 15 8 10 9-15-7-15-7z"/><path class=d d="M1279 796l15 8 10 10-15-7z"/><path class=e d="M1249 783l15 6 15 7 10 11-15-7-15-6z"/><path class=f d="M1234 776l15 7 10 11-15-6z"/><path class=g d="M1204 764l15 6 15 6 10 12-15-7-15-5z"/><path class=h d="M1189 758l15 6 10 12-15-6z"/><path class=i d="M1158 747l15 5 16 6 10 12-15-5-16-5z"/><path class=j d="M1128 738l15 4 15 5 10 13-15-4-15-5z"/><path class=k d="M1098 730l15 4 15 4 10 13-15-3-15-4z"/><path class=l d="M1068 725l15 2 15 3 10 14-15-3-15-2z"/><path class=m d="M1023 720l15 1 15 1 15 3 10 14-15-2-15-1-15-1z"/><path class=n d="M948 723l15-2 15-1 15-1 15 0 15 1 10 15-15 0-15 0-15 1-15 1-15 2z"/><path class=o d="M873 743l15-5 15-5 15-4 15-3 15-3 10 16-15 3-15 3-15 4-15 5-15 6z"/><path class=n d="M813 773l15-9 15-8 15-7 15-6 10 17-15 6-15 7-15 7-15 9z"/><path class=m d="M768 802l15-10 15-10 15-9 10 16-15 9-15 10-15 10z"/><path class=l d="M738 826l15-12 15-12 10 16-15 11-15 12z"/><path class=k d="M708 853l15-14 15-13 10 15-15 13-15 13z"/><path class=j d="M693 867l15-14 10 14-15 14z"/><path class=i d="M663 897l15-15 15-15 10 14-15 14-15 15z"/><path class=h d="M648 913l15-16 10 13-15 16z"/><path class=g d="M633 930l15-17 10 13-15 16z"/><path class=f d="M603 965l15-18 15-17 10 12-15 17-15 17z"/><path class=e d="M588 983l15-18 10 11-15 17z"/><path class=d d="M572 1001l16-18 10 10-15 18z"/><path class=c d="M557 1020l15-19 11 10-16 18z"/><path class=b d="M542 1039l15-19 10 9-15 19z"/><path class=a d="M452 1091l15-4 15-4 15-4 15-5 15-16 15-19 10 9-15 18-15 18-15 4-15 4-15 4-15 5z"/><path class=a d="M1349 836l15 7 10 9-15-7z"/><path class=b d="M1334 828l15 8 10 9-15-7z"/><path class=c d="M1304 814l15 7 15 7 10 10-15-7-15-7z"/><path class=d d="M1289 807l15 7 10 10-15-6z"/><path class=e d="M1259 794l15 6 15 7 10 11-15-7-15-6z"/><path class=f d="M1244 788l15 6 10 11-15-6z"/><path class=g d="M1214 776l15 5 15 7 10 11-15-6-15-5z"/><path class=h d="M1184 765l15 5 15 6 10 12-15-6-15-5z"/><path class=i d="M1168 760l16 5 10 12-15-4z"/><path class=j d="M1138 751l15 5 15 4 11 13-16-4-15-4z"/><path class=k d="M1093 741l15 3 15 4 15 3 10 14-15-4-15-3-15-3z"/><path class=l d="M1063 737l15 2 15 2 10 14-15-2-15-1z"/><path class=m d="M1003 735l15 0 15 0 15 1 15 1 10 15-15-2-15 0-15 0-15 0z"/><path class=n d="M838 780l15-7 15-7 15-6 15-6 15-5 15-4 15-3 15-3 15-2 15-1 15-1 10 15-15 1-15 2-15 2-15 3-15 3-15 4-15 5-15 6-15 6-15 7-15 7z"/><path class=m d="M793 808l15-10 15-9 15-9 10 16-15 9-15 9-15 9z"/><path class=l d="M763 829l15-11 15-10 10 15-15 11-15 11z"/><path class=k d="M733 854l15-13 15-12 10 16-15 11-15 12z"/><path class=j d="M703 881l15-14 15-13 10 14-15 13-15 14z"/><path class=i d="M688 895l15-14 10 14-15 14z"/><path class=h d="M658 926l15-16 15-15 10 14-15 15-15 15z"/><path class=g d="M643 942l15-16 10 13-15 15z"/><path class=f d="M613 976l15-17 15-17 10 12-15 16-15 17z"/><path class=e d="M598 993l15-17 10 11-15 17z"/><path class=d d="M583 1011l15-18 10 11-15 17z"/><path class=c d="M567 1029l16-18 10 10-15 18z"/><path class=b d="M552 1048l15-19 11 10-16 17z"/><path class=a d="M462 1101l15-5 15-4 15-4 15-4 15-18 15-18 10 8-15 18-15 19-15 4-15 4-15 5-15 4z"/><path class=a d="M1359 845l15 7 10 10-15-7z"/><path class=b d="M1344 838l15 7 10 10-15-7z"/><path class=c d="M1314 824l15 7 15 7 10 10-15-7-15-6z"/><path class=d d="M1299 818l15 6 10 11-15-7z"/><path class=e d="M1269 805l15 6 15 7 10 10-15-6-15-6z"/><path class=f d="M1254 799l15 6 10 11-15-6z"/><path class=g d="M1224 788l15 5 15 6 10 11-15-5-15-5z"/><path class=h d="M1194 777l15 5 15 6 10 12-15-5-15-5z"/><path class=i d="M1163 769l16 4 15 4 10 13-15-4-15-4z"/><path class=j d="M1133 761l15 4 15 4 11 13-16-4-15-3z"/><path class=k d="M1103 755l15 3 15 3 10 14-15-3-15-3z"/><path class=l d="M1058 750l15 2 15 1 15 2 10 14-15-2-15-1-15-1z"/><path class=m d="M983 753l15-2 15-1 15 0 15 0 15 0 10 15-15 0-15 0-15 0-15 1-15 2z"/><path class=n d="M878 782l15-6 15-6 15-5 15-4 15-3 15-3 15-2 10 15-15 3-15 2-15 4-15 4-15 5-15 6-15 6z"/><path class=m d="M818 814l15-9 15-9 15-7 15-7 10 16-15 7-15 7-15 8-15 9z"/><path class=l d="M773 845l15-11 15-11 15-9 10 15-15 10-15 10-15 11z"/><path class=k d="M743 868l15-12 15-11 10 15-15 11-15 12z"/><path class=j d="M728 881l15-13 10 15-15 12z"/><path class=i d="M698 909l15-14 15-14 10 14-15 14-15 13z"/><path class=h d="M668 939l15-15 15-15 10 13-15 14-15 15z"/><path class=g d="M653 954l15-15 10 12-15 15z"/><path class=f d="M638 970l15-16 10 12-15 16z"/><path class=e d="M608 1004l15-17 15-17 10 12-15 16-15 16z"/><path class=d d="M593 1021l15-17 10 10-15 17z"/><path class=c d="M578 1039l15-18 10 10-15 17z"/><path class=b d="M562 1056l16-17 10 9-15 17z"/><path class=a d="M472 1110l15-4 15-5 15-4 15-4 15-19 15-18 11 9-16 17-15 18-15 6-15 5-15 4-15 4z"/><path class=a d="M1369 855l15 7 10 9-15-7z"/><path class=b d="M1354 848l15 7 10 9-15-6z"/><path class=c d="M1324 835l15 6 15 7 10 10-15-7-15-6z"/><path class=d d="M1309 828l15 7 10 10-15-6z"/><path class=e d="M1279 816l15 6 15 6 10 11-15-6-15-6z"/><path class=f d="M1249 805l15 5 15 6 10 11-15-5-15-5z"/><path class=g d="M1234 800l15 5 10 12-15-5z"/><path class=h d="M1204 790l15 5 15 5 10 12-15-5-15-4z"/><path class=i d="M1174 782l15 4 15 4 10 13-15-5-15-3z"/><path class=j d="M1128 772l15 3 15 3 16 4 10 13-15-4-15-3-16-2z"/><path class=k d="M1098 767l15 2 15 3 10 14-15-2-15-2z"/><path class=l d="M1053 765l15 0 15 1 15 1 10 15-15-1-15-1-15 0z"/><path class=m d="M843 820l15-8 15-7 15-7 15-6 15-6 15-5 15-4 15-4 15-2 15-3 15-2 15-1 15 0 15 0 10 15-15 0-15 1-15 1-15 2-15 2-15 3-15 4-15 4-15 5-15 6-15 6-15 7-15 7-15 8z"/><path class=l d="M798 849l15-10 15-10 15-9 10 16-15 9-15 9-15 10z"/><path class=k d="M768 871l15-11 15-11 10 15-15 11-15 11z"/><path class=j d="M738 895l15-12 15-12 10 15-15 11-15 13z"/><path class=i d="M708 922l15-13 15-14 10 15-15 12-15 14z"/><path class=h d="M693 936l15-14 10 14-15 13z"/><path class=g d="M663 966l15-15 15-15 10 13-15 15-15 14z"/><path class=f d="M648 982l15-16 10 12-15 15z"/><path class=e d="M618 1014l15-16 15-16 10 11-15 16-15 15z"/><path class=d d="M603 1031l15-17 10 10-15 17z"/><path class=c d="M588 1048l15-17 10 10-15 16z"/><path class=b d="M573 1065l15-17 10 9-15 16z"/><path class=a d="M482 1119l15-4 15-4 15-5 15-6 15-18 16-17 10 8-15 17-16 17-15 8-15 5-15 4-15 4z"/><path class=a d="M1379 864l15 7 10 9-15-6z"/><path class=b d="M1349 851l15 7 15 6 10 10-15-6-15-6z"/><path class=c d="M1334 845l15 6 10 11-15-6z"/><path class=d d="M1304 833l15 6 15 6 10 11-15-6-15-6z"/><path class=e d="M1289 827l15 6 10 11-15-5z"/><path class=f d="M1259 817l15 5 15 5 10 12-15-5-15-5z"/><path class=g d="M1229 807l15 5 15 5 10 12-15-5-15-4z"/><path class=h d="M1199 798l15 5 15 4 10 13-15-5-15-3z"/><path class=i d="M1169 791l15 4 15 3 10 14-15-4-15-3z"/><path class=j d="M1138 786l16 2 15 3 10 14-15-3-15-2z"/><path class=k d="M1093 781l15 1 15 2 15 2 11 14-16-2-15-2-15-1z"/><path class=l d="M1033 781l15-1 15 0 15 0 15 1 10 14-15 0-15 0-15 0-15 1z"/><path class=m d="M883 821l15-7 15-6 15-6 15-5 15-4 15-4 15-3 15-2 15-2 15-1 10 15-15 2-15 2-15 2-15 4-15 3-15 5-15 5-15 5-15 6-15 7z"/><path class=l d="M823 854l15-9 15-9 15-8 15-7 10 16-15 7-15 8-15 9-15 9z"/><path class=k d="M793 875l15-11 15-10 10 16-15 10-15 10z"/><path class=j d="M763 897l15-11 15-11 10 15-15 11-15 11z"/><path class=i d="M733 922l15-12 15-13 10 15-15 12-15 12z"/><path class=h d="M703 949l15-13 15-14 10 14-15 13-15 13z"/><path class=g d="M673 978l15-14 15-15 10 13-15 14-15 14z"/><path class=f d="M658 993l15-15 10 12-15 15z"/><path class=e d="M628 1024l15-15 15-16 10 12-15 14-15 16z"/><path class=d d="M613 1041l15-17 10 11-15 15z"/><path class=c d="M598 1057l15-16 10 9-15 16z"/><path class=b d="M568 1090l15-17 15-16 10 9-15 16-15 16z"/><path class=a d="M492 1128l15-4 15-4 15-5 15-8 16-17 10 8-15 16-15 11-16 4-15 4-15 5z"/><path class=a d="M1389 874l15 6 10 9-15-6z"/><path class=b d="M1359 862l15 6 15 6 10 9-15-5-15-6z"/><path class=c d="M1344 856l15 6 10 10-15-6z"/><path class=d d="M1314 844l15 6 15 6 10 10-15-5-15-6z"/><path class=e d="M1284 834l15 5 15 5 10 11-15-5-15-5z"/><path class=f d="M1269 829l15 5 10 11-15-4z"/><path class=g d="M1239 820l15 4 15 5 10 12-15-5-15-4z"/><path class=h d="M1209 812l15 3 15 5 10 12-15-4-15-3z"/><path class=i d="M1164 802l15 3 15 3 15 4 10 13-15-3-15-3-15-3z"/><path class=j d="M1133 798l16 2 15 2 10 14-15-2-15-1z"/><path class=k d="M1088 795l15 0 15 1 15 2 11 15-16-2-15-1-15 0z"/><path class=l d="M863 852l15-8 15-7 15-7 15-6 15-5 15-5 15-5 15-3 15-4 15-2 15-2 15-2 15-1 15 0 15 0 10 15-15 0-15 1-15 1-15 2-15 2-15 3-15 3-15 4-15 4-15 5-15 6-15 6-15 6-15 8-15 7z"/><path class=k d="M818 880l15-10 15-9 15-9 10 16-15 9-15 9-15 9z"/><path class=j d="M773 912l15-11 15-11 15-10 10 15-15 10-15 11-15 11z"/><path class=i d="M743 936l15-12 15-12 10 15-15 11-15 12z"/><path class=h d="M713 962l15-13 15-13 10 14-15 12-15 13z"/><path class=g d="M698 976l15-14 10 13-15 13z"/><path class=f d="M668 1005l15-15 15-14 10 12-15 14-15 14z"/><path class=e d="M653 1019l15-14 10 11-15 14z"/><path class=d d="M623 1050l15-15 15-16 10 11-15 15-15 15z"/><path class=c d="M608 1066l15-16 10 10-15 15z"/><path class=b d="M578 1098l15-16 15-16 10 9-15 15-15 15z"/><path class=a d="M502 1138l15-5 15-4 16-4 15-11 15-16 10 7-15 16-15 13-15 4-16 4-15 5z"/><path class=a d="M1399 883l15 6 10 9-15-5z"/><path class=b d="M1369 872l15 6 15 5 10 10-15-6-15-5z"/><path class=c d="M1354 866l15 6 10 10-15-5z"/><path class=d d="M1324 855l15 6 15 5 10 11-15-5-15-5z"/><path class=e d="M1294 845l15 5 15 5 10 12-15-5-15-5z"/><path class=f d="M1264 836l15 5 15 4 10 12-15-4-15-4z"/><path class=g d="M1234 828l15 4 15 4 10 13-15-4-15-4z"/><path class=h d="M1204 822l15 3 15 3 10 13-15-3-15-3z"/><path class=i d="M1174 816l15 3 15 3 10 13-15-2-15-3z"/><path class=j d="M1128 811l16 2 15 1 15 2 10 14-15-1-15-2-15-1z"/><path class=k d="M1068 811l15-1 15 0 15 0 15 1 11 15-16 0-15-1-15 1-15 1z"/><path class=l d="M903 853l15-6 15-6 15-6 15-5 15-4 15-4 15-3 15-3 15-2 15-2 15-1 10 16-15 1-15 2-15 2-15 3-15 3-15 4-15 5-15 4-15 6-15 6-15 7z"/><path class=k d="M843 886l15-9 15-9 15-7 15-8 10 17-15 7-15 7-15 9-15 8z"/><path class=j d="M798 916l15-11 15-10 15-9 10 15-15 9-15 10-15 10z"/><path class=i d="M768 938l15-11 15-11 10 14-15 11-15 11z"/><path class=h d="M738 962l15-12 15-12 10 14-15 12-15 12z"/><path class=g d="M708 988l15-13 15-13 10 14-15 12-15 13z"/><path class=f d="M678 1016l15-14 15-14 10 13-15 13-15 13z"/><path class=e d="M663 1030l15-14 10 11-15 14z"/><path class=d d="M633 1060l15-15 15-15 10 11-15 14-15 14z"/><path class=c d="M618 1075l15-15 10 9-15 14z"/><path class=b d="M588 1105l15-15 15-15 10 8-15 15-15 15z"/><path class=a d="M512 1147l15-5 16-4 15-4 15-13 15-16 10 8-15 15-15 15-15 4-15 5-16 4z"/><path class=a d="M1409 893l15 5 10 10-15-6z"/><path class=b d="M1379 882l15 5 15 6 10 9-15-5-15-5z"/><path class=c d="M1349 872l15 5 15 5 10 10-15-5-15-5z"/><path class=d d="M1334 867l15 5 10 10-15-4z"/><path class=e d="M1304 857l15 5 15 5 10 11-15-5-15-4z"/><path class=f d="M1274 849l15 4 15 4 10 12-15-4-15-4z"/><path class=g d="M1244 841l15 4 15 4 10 12-15-4-15-3z"/><path class=h d="M1214 835l15 3 15 3 10 13-15-3-15-2z"/><path class=i d="M1169 829l15 1 15 3 15 2 10 14-15-3-15-2-15-1z"/><path class=j d="M1123 826l16 0 15 1 15 2 10 14-15-1-15-1-15-1z"/><path class=k d="M1033 832l15-2 15-2 15-1 15-1 15-1 15 1 11 14-16 0-15 1-15 1-15 2-15 1-15 3z"/><path class=l d="M958 851l15-4 15-5 15-4 15-3 15-3 10 16-15 3-15 3-15 4-15 5-15 5z"/><path class=k d="M868 893l15-9 15-7 15-7 15-7 15-6 15-6 10 17-15 5-15 6-15 7-15 7-15 7-15 8z"/><path class=j d="M823 920l15-10 15-9 15-8 10 15-15 9-15 9-15 9z"/><path class=i d="M778 952l15-11 15-11 15-10 10 15-15 10-15 10-15 11z"/><path class=h d="M748 976l15-12 15-12 10 14-15 11-15 12z"/><path class=g d="M718 1001l15-13 15-12 10 13-15 12-15 12z"/><path class=f d="M688 1027l15-13 15-13 10 12-15 13-15 12z"/><path class=e d="M673 1041l15-14 10 11-15 14z"/><path class=d d="M643 1069l15-14 15-14 10 11-15 13-15 14z"/><path class=c d="M628 1083l15-14 10 10-15 13z"/><path class=b d="M598 1113l15-15 15-15 10 9-15 14-15 15z"/><path class=a d="M522 1156l16-4 15-5 15-4 15-15 15-15 10 8-15 14-15 14-15 8-15 4-15 4z"/><path class=a d="M1419 902l15 6 10 9-15-5z"/><path class=b d="M1389 892l15 5 15 5 10 10-15-5-15-5z"/><path class=c d="M1359 882l15 5 15 5 10 10-15-4-15-5z"/><path class=d d="M1329 873l15 5 15 4 10 11-15-4-15-4z"/><path class=e d="M1299 865l15 4 15 4 10 12-15-4-15-4z"/><path class=f d="M1269 857l15 4 15 4 10 12-15-4-15-3z"/><path class=g d="M1239 851l15 3 15 3 10 13-15-3-15-3z"/><path class=h d="M1209 846l15 3 15 2 10 13-15-2-15-2z"/><path class=i d="M1164 842l15 1 15 1 15 2 10 14-15-2-15-1-15-1z"/><path class=j d="M1103 841l15-1 16 0 15 1 15 1 10 14-15-1-15 0-15 0-15 1z"/><path class=k d="M908 893l15-7 15-7 15-6 15-5 15-5 15-5 15-4 15-3 15-3 15-3 15-1 15-2 15-1 11 15-16 1-15 2-15 2-15 2-15 4-15 3-15 4-15 5-15 5-15 5-15 6-15 7-15 6z"/><path class=j d="M848 926l15-9 15-9 15-8 15-7 10 15-15 8-15 8-15 8-15 9z"/><path class=i d="M803 955l15-10 15-10 15-9 10 15-15 9-15 10-15 10z"/><path class=h d="M773 977l15-11 15-11 10 15-15 10-15 11z"/><path class=g d="M743 1001l15-12 15-12 10 14-15 11-15 12z"/><path class=f d="M713 1026l15-13 15-12 10 13-15 11-15 13z"/><path class=e d="M683 1052l15-14 15-12 10 12-15 12-15 13z"/><path class=d d="M653 1079l15-14 15-13 10 11-15 13-15 13z"/><path class=c d="M623 1106l15-14 15-13 10 10-15 13-15 13z"/><path class=b d="M608 1121l15-15 10 9-15 14z"/><path class=a d="M533 1165l15-4 15-4 15-8 15-14 15-14 10 8-15 14-15 13-15 10-15 4-15 4z"/><path class=a d="M1429 912l15 5 10 9-15-5z"/><path class=b d="M1399 902l15 5 15 5 10 9-15-4-15-5z"/><path class=c d="M1369 893l15 5 15 4 10 10-15-4-15-4z"/><path class=d d="M1339 885l15 4 15 4 10 11-15-4-15-4z"/><path class=e d="M1309 877l15 4 15 4 10 11-15-4-15-3z"/><path class=f d="M1279 870l15 3 15 4 10 12-15-4-15-3z"/><path class=g d="M1249 864l15 3 15 3 10 12-15-2-15-3z"/><path class=h d="M1204 858l15 2 15 2 15 2 10 13-15-2-15-2-15-1z"/><path class=i d="M1159 855l15 1 15 1 15 1 10 14-15-2-15 0-15-1z"/><path class=j d="M1083 859l15-2 16-1 15-1 15 0 15 0 10 14-15 0-15 1-15 1-15 1-16 2z"/><path class=k d="M948 895l15-6 15-5 15-5 15-5 15-4 15-3 15-4 15-2 15-2 10 15-15 2-15 3-15 3-15 4-15 4-15 4-15 5-15 6-15 6z"/><path class=j d="M873 932l15-8 15-8 15-8 15-6 15-7 10 16-15 6-15 7-15 7-15 8-15 8z"/><path class=i d="M828 960l15-10 15-9 15-9 10 15-15 9-15 9-15 9z"/><path class=h d="M783 991l15-11 15-10 15-10 10 14-15 10-15 10-15 11z"/><path class=g d="M753 1014l15-12 15-11 10 14-15 10-15 12z"/><path class=f d="M723 1038l15-13 15-11 10 13-15 11-15 12z"/><path class=e d="M693 1063l15-13 15-12 10 12-15 12-15 12z"/><path class=d d="M663 1089l15-13 15-13 10 11-15 12-15 13z"/><path class=c d="M633 1115l15-13 15-13 10 10-15 13-15 13z"/><path class=b d="M618 1129l15-14 10 10-15 13z"/><path class=a d="M543 1174l15-4 15-4 15-10 15-13 15-14 10 9-15 13-15 13-15 11-15 4-15 5z"/><path class=a d="M1439 921l15 5 10 9-15-4z"/><path class=b d="M1409 912l15 5 15 4 10 10-15-4-15-4z"/><path class=c d="M1379 904l15 4 15 4 10 11-15-5-15-3z"/><path class=d d="M1349 896l15 4 15 4 10 11-15-4-15-4z"/><path class=e d="M1319 889l15 3 15 4 10 11-15-3-15-4z"/><path class=f d="M1289 882l15 3 15 4 10 11-15-3-15-2z"/><path class=g d="M1244 875l15 2 15 3 15 2 10 13-15-3-15-2-15-2z"/><path class=h d="M1199 870l15 2 15 1 15 2 10 13-15-2-15-1-15-1z"/><path class=i d="M1139 870l15-1 15 0 15 1 15 0 10 14-15 0-15-1-15 1-15 0z"/><path class=j d="M913 931l15-7 15-7 15-6 15-6 15-6 15-5 15-4 15-4 15-4 15-3 15-3 15-2 16-2 15-1 15-1 10 14-15 1-15 2-15 2-16 2-15 3-15 3-15 4-15 4-15 5-15 5-15 5-15 6-15 6-15 7-15 7z"/><path class=i d="M853 965l15-9 15-9 15-8 15-8 10 15-15 8-15 8-15 9-15 8z"/><path class=h d="M808 994l15-10 15-10 15-9 10 14-15 10-15 9-15 10z"/><path class=g d="M778 1015l15-10 15-11 10 14-15 10-15 11z"/><path class=f d="M733 1050l15-12 15-11 15-12 10 14-15 10-15 12-15 11z"/><path class=e d="M703 1074l15-12 15-12 10 12-15 12-15 11z"/><path class=d d="M673 1099l15-13 15-12 10 11-15 12-15 12z"/><path class=c d="M643 1125l15-13 15-13 10 10-15 13-15 12z"/><path class=b d="M628 1138l15-13 10 9-15 13z"/><path class=a d="M553 1184l15-5 15-4 15-11 15-13 15-13 10 9-15 12-15 13-15 12-15 4-15 5z"/><path class=a d="M1449 931l15 4 10 9-15-4z"/><path class=b d="M1419 923l15 4 15 4 10 9-15-4-15-3z"/><path class=c d="M1389 915l15 3 15 5 10 10-15-4-15-4z"/><path class=d d="M1359 907l15 4 15 4 10 10-15-3-15-4z"/><path class=e d="M1314 897l15 3 15 4 15 3 10 11-15-3-15-3-15-3z"/><path class=f d="M1284 892l15 3 15 2 10 12-15-2-15-3z"/><path class=g d="M1239 886l15 2 15 2 15 2 10 12-15-2-15-1-15-2z"/><path class=h d="M1194 884l15 0 15 1 15 1 10 13-15-1-15 0-15-1z"/><path class=i d="M1134 885l15-1 15 0 15-1 15 1 10 13-15 0-15 1-15 1-15 1z"/><path class=j d="M953 932l15-6 15-6 15-5 15-5 15-5 15-4 15-4 15-3 15-3 16-2 15-2 15-2 10 15-15 1-15 3-15 2-16 3-15 3-15 4-15 4-15 5-15 5-15 5-15 6-15 7z"/><path class=i d="M878 971l15-9 15-8 15-8 15-7 15-7 10 16-15 6-15 7-15 8-15 8-15 8z"/><path class=h d="M833 998l15-9 15-10 15-8 10 14-15 9-15 9-15 9z"/><path class=g d="M788 1029l15-11 15-10 15-10 10 14-15 10-15 10-15 10z"/><path class=f d="M758 1051l15-12 15-10 10 13-15 10-15 11z"/><path class=e d="M728 1074l15-12 15-11 10 12-15 11-15 11z"/><path class=d d="M683 1109l15-12 15-12 15-11 10 11-15 12-15 11-15 12z"/><path class=c d="M653 1134l15-12 15-13 10 11-15 12-15 12z"/><path class=b d="M638 1147l15-13 10 10-15 12z"/><path class=a d="M563 1193l15-5 15-4 15-12 15-13 15-12 10 9-15 12-15 12-15 13-15 5-15 4z"/><path class=a d="M1459 940l15 4 10 10-15-4z"/><path class=b d="M1429 933l15 3 15 4 10 10-15-4-15-3z"/><path class=c d="M1384 922l15 3 15 4 15 4 10 10-15-4-15-3-15-4z"/><path class=d d="M1354 915l15 3 15 4 10 10-15-3-15-3z"/><path class=e d="M1324 909l15 3 15 3 10 11-15-3-15-2z"/><path class=f d="M1294 904l15 3 15 2 10 12-15-2-15-3z"/><path class=g d="M1249 899l15 2 15 1 15 2 10 12-15-1-15-2-15-1z"/><path class=h d="M1189 897l15 0 15 1 15 0 15 1 10 13-15-1-15 0-15 0-15 0z"/><path class=i d="M1099 906l15-2 15-3 15-1 15-1 15-1 15-1 10 14-15 0-15 1-15 2-15 2-15 2-15 2z"/><path class=j d="M1008 930l15-5 15-5 15-4 15-4 15-3 16-3 10 14-15 3-16 4-15 4-15 4-15 5-15 5z"/><path class=i d="M903 977l15-8 15-8 15-7 15-6 15-7 15-6 15-5 10 15-15 5-15 6-15 6-15 7-15 7-15 7-15 8z"/><path class=h d="M858 1003l15-9 15-9 15-8 10 14-15 8-15 9-15 9z"/><path class=g d="M813 1032l15-10 15-10 15-9 10 14-15 9-15 9-15 10z"/><path class=f d="M768 1063l15-11 15-10 15-10 10 13-15 10-15 10-15 10z"/><path class=e d="M738 1085l15-11 15-11 10 12-15 11-15 11z"/><path class=d d="M708 1108l15-11 15-12 10 12-15 11-15 11z"/><path class=c d="M678 1132l15-12 15-12 10 11-15 12-15 11z"/><path class=b d="M633 1168l15-12 15-12 15-12 10 10-15 12-15 11-15 12z"/><path class=a d="M573 1202l15-4 15-5 15-13 15-12 10 9-15 12-15 12-15 6-15 4z"/><path class=a d="M1454 946l15 4 15 4 10 9-15-4-15-3z"/><path class=b d="M1424 939l15 4 15 3 10 10-15-4-15-3z"/><path class=c d="M1394 932l15 4 15 3 10 10-15-3-15-3z"/><path class=d d="M1364 926l15 3 15 3 10 11-15-3-15-3z"/><path class=e d="M1334 921l15 2 15 3 10 11-15-2-15-3z"/><path class=f d="M1289 915l15 1 15 3 15 2 10 11-15-2-15-2-15-1z"/><path class=g d="M1244 911l15 1 15 1 15 2 10 12-15-1-15-1-15-1z"/><path class=h d="M1184 911l15 0 15 0 15 0 15 0 10 13-15 0-15 0-15 0-15 1z"/><path class=i d="M943 976l15-7 15-7 15-6 15-6 15-5 15-5 15-5 15-4 15-4 16-4 15-3 15-2 15-2 15-2 15-2 15-1 10 14-15 1-15 1-15 2-15 3-15 2-15 4-15 3-15 4-16 4-15 5-15 5-15 6-15 5-15 7-15 6-15 7z"/><path class=h d="M883 1008l15-9 15-8 15-8 15-7 10 14-15 8-15 7-15 8-15 9z"/><path class=g d="M823 1045l15-10 15-9 15-9 15-9 10 14-15 8-15 9-15 9-15 10z"/><path class=f d="M793 1065l15-10 15-10 10 13-15 9-15 10z"/><path class=e d="M748 1097l15-11 15-11 15-10 10 12-15 11-15 10-15 10z"/><path class=d d="M718 1119l15-11 15-11 10 11-15 11-15 11z"/><path class=c d="M688 1142l15-11 15-12 10 11-15 11-15 11z"/><path class=b d="M643 1177l15-12 15-11 15-12 10 10-15 11-15 12-15 11z"/><path class=a d="M583 1211l15-4 15-6 15-12 15-12 10 9-15 12-15 11-15 7-15 4z"/><path class=a d="M1464 956l15 3 15 4 10 9-15-3-15-3z"/><path class=b d="M1434 949l15 3 15 4 10 10-15-4-15-3z"/><path class=c d="M1404 943l15 3 15 3 10 10-15-3-15-3z"/><path class=d d="M1374 937l15 3 15 3 10 10-15-2-15-3z"/><path class=e d="M1329 930l15 2 15 3 15 2 10 11-15-2-15-3-15-1z"/><path class=f d="M1284 926l15 1 15 1 15 2 10 12-15-2-15-1-15-2z"/><path class=g d="M1239 924l15 0 15 1 15 1 10 11-15 0-15-1-15 0z"/><path class=h d="M1164 927l15-1 15-1 15-1 15 0 15 0 10 12-15 0-15 1-15 1-15 1-15 2z"/><path class=i d="M983 977l15-7 15-5 15-6 15-5 15-5 16-4 15-4 15-3 15-4 15-2 15-3 15-2 10 14-15 2-15 2-15 3-15 3-15 4-15 4-15 4-16 5-15 5-15 5-15 6-15 6z"/><path class=h d="M908 1013l15-8 15-7 15-8 15-7 15-6 10 13-15 7-15 7-15 7-15 8-15 8z"/><path class=g d="M848 1048l15-9 15-9 15-8 15-9 10 14-15 8-15 8-15 9-15 9z"/><path class=f d="M803 1077l15-10 15-9 15-10 10 13-15 9-15 10-15 10z"/><path class=e d="M773 1098l15-10 15-11 10 13-15 9-15 11z"/><path class=d d="M728 1130l15-11 15-11 15-10 10 12-15 10-15 10-15 11z"/><path class=c d="M698 1152l15-11 15-11 10 11-15 11-15 10z"/><path class=b d="M653 1186l15-11 15-12 15-11 10 10-15 11-15 11-15 11z"/><path class=a d="M593 1220l15-4 15-7 15-11 15-12 10 9-15 11-15 12-15 7-15 5z"/><path class=a d="M1474 966l15 3 15 3 10 9-15-3-15-3z"/><path class=b d="M1444 959l15 3 15 4 10 9-15-3-15-3z"/><path class=c d="M1414 953l15 3 15 3 10 10-15-3-15-2z"/><path class=d d="M1369 946l15 2 15 3 15 2 10 11-15-3-15-2-15-2z"/><path class=e d="M1339 942l15 1 15 3 10 11-15-2-15-2z"/><path class=f d="M1294 937l15 2 15 1 15 2 10 11-15-2-15-1-15-1z"/><path class=g d="M1234 936l15 0 15 0 15 1 15 0 10 12-15 0-15-1-15 0-15 1z"/><path class=h d="M1144 945l15-2 15-2 15-2 15-1 15-1 15-1 10 13-15 0-15 1-15 2-15 1-15 3-15 2z"/><path class=i d="M1023 978l15-5 15-5 16-5 15-4 15-4 15-4 15-3 15-3 10 13-15 3-15 3-15 4-15 4-15 4-15 5-16 5-15 6z"/><path class=h d="M933 1019l15-8 15-7 15-7 15-7 15-6 15-6 10 14-15 6-15 6-15 7-15 6-15 8-15 7z"/><path class=g d="M873 1052l15-9 15-8 15-8 15-8 10 13-15 8-15 8-15 8-15 9z"/><path class=f d="M828 1080l15-10 15-9 15-9 10 13-15 9-15 9-15 9z"/><path class=e d="M783 1110l15-11 15-9 15-10 10 12-15 10-15 9-15 10z"/><path class=d d="M738 1141l15-11 15-10 15-10 10 11-15 10-15 10-15 11z"/><path class=c d="M708 1162l15-10 15-11 10 11-15 10-15 10z"/><path class=b d="M663 1195l15-11 15-11 15-11 10 10-15 11-15 11-15 11z"/><path class=a d="M603 1230l15-5 15-7 15-12 15-11 10 10-15 10-15 11-15 9-15 4z"/><path class=a d="M1484 975l15 3 15 3 10 10-15-3-15-3z"/><path class=b d="M1454 969l15 3 15 3 10 10-15-3-15-3z"/><path class=c d="M1424 964l15 2 15 3 10 10-15-3-15-2z"/><path class=d d="M1379 957l15 2 15 2 15 3 10 10-15-3-15-2-15-2z"/><path class=e d="M1349 953l15 2 15 2 10 10-15-2-15-1z"/><path class=f d="M1289 949l15 0 15 1 15 1 15 2 10 11-15-1-15-2-15 0-15-1z"/><path class=g d="M1229 949l15 0 15-1 15 0 15 1 10 11-15 0-15 0-15 1-15 1z"/><path class=h d="M958 1025l15-8 15-6 15-7 15-6 15-6 15-6 16-5 15-5 15-4 15-4 15-4 15-3 15-3 15-2 15-3 15-1 15-2 15-1 10 13-15 1-15 1-15 2-15 2-15 3-15 3-15 3-15 4-15 4-15 5-15 4-15 6-16 5-15 6-15 6-15 7-15 7-15 7z"/><path class=g d="M898 1056l15-8 15-8 15-8 15-7 10 13-15 7-15 8-15 8-15 8z"/><path class=f d="M838 1092l15-9 15-9 15-9 15-9 10 13-15 8-15 9-15 9-15 9z"/><path class=e d="M793 1121l15-10 15-9 15-10 10 12-15 9-15 10-15 9z"/><path class=d d="M763 1141l15-10 15-10 10 11-15 10-15 10z"/><path class=c d="M718 1172l15-10 15-10 15-11 10 11-15 10-15 10-15 11z"/><path class=b d="M673 1205l15-11 15-11 15-11 10 11-15 10-15 10-15 11z"/><path class=a d="M613 1239l15-4 15-9 15-11 15-10 10 9-15 10-15 11-15 9-15 4z"/><path class=a d="M1494 985l15 3 15 3 10 9-15-3-15-3z"/><path class=b d="M1464 979l15 3 15 3 10 9-15-2-15-3z"/><path class=c d="M1434 974l15 2 15 3 10 10-15-3-15-2z"/><path class=d d="M1389 967l15 2 15 2 15 3 10 10-15-2-15-2-15-2z"/><path class=e d="M1344 963l15 1 15 1 15 2 10 11-15-2-15-1-15-1z"/><path class=f d="M1299 960l15 1 15 0 15 2 10 11-15-1-15-1-15 0z"/><path class=g d="M1224 963l15-1 15-1 15-1 15 0 15 0 10 12-15 0-15 0-15 1-15 1-15 1z"/><path class=h d="M983 1031l15-7 15-7 15-6 15-6 16-5 15-6 15-4 15-5 15-4 15-4 15-3 15-3 15-3 15-2 15-2 15-1 10 12-15 2-15 2-15 2-15 3-15 3-15 3-15 4-15 4-15 5-15 5-15 5-15 5-16 6-15 6-15 7-15 7z"/><path class=g d="M923 1061l15-8 15-8 15-7 15-7 10 13-15 7-15 7-15 8-15 7z"/><path class=f d="M863 1095l15-9 15-9 15-8 15-8 10 12-15 8-15 9-15 8-15 9z"/><path class=e d="M818 1123l15-10 15-9 15-9 10 12-15 9-15 9-15 9z"/><path class=d d="M773 1152l15-10 15-10 15-9 10 11-15 10-15 9-15 10z"/><path class=c d="M728 1183l15-11 15-10 15-10 10 11-15 10-15 10-15 10z"/><path class=b d="M683 1214l15-11 15-10 15-10 10 10-15 10-15 10-15 10z"/><path class=a d="M623 1248l15-4 15-9 15-11 15-10 10 9-15 10-15 11-15 9-15 4z"/><path class=a d="M1504 994l15 3 15 3 10 9-15-3-15-2z"/><path class=b d="M1474 989l15 3 15 2 10 10-15-3-15-2z"/><path class=c d="M1429 982l15 2 15 2 15 3 10 10-15-3-15-2-15-2z"/><path class=d d="M1399 978l15 2 15 2 10 10-15-2-15-1z"/><path class=e d="M1354 974l15 1 15 1 15 2 10 11-15-2-15-1-15-1z"/><path class=f d="M1294 972l15 0 15 0 15 1 15 1 10 11-15-1-15 0-15-1-15 0z"/><path class=g d="M1219 977l15-2 15-1 15-1 15-1 15 0 10 11-15 1-15 1-15 1-15 1-15 2z"/><path class=h d="M1023 1030l15-6 16-6 15-5 15-5 15-5 15-5 15-4 15-4 15-3 15-3 15-3 15-2 15-2 10 12-15 2-15 2-15 3-15 3-15 4-15 4-15 4-15 5-15 5-15 5-15 5-15 6-15 6z"/><path class=g d="M933 1073l15-7 15-8 15-7 15-7 15-7 15-7 11 13-16 7-15 6-15 7-15 8-15 7-15 8z"/><path class=f d="M873 1107l15-9 15-8 15-9 15-8 10 13-15 8-15 8-15 9-15 8z"/><path class=e d="M828 1134l15-9 15-9 15-9 10 12-15 9-15 9-15 9z"/><path class=d d="M783 1163l15-10 15-9 15-10 10 12-15 9-15 10-15 9z"/><path class=c d="M738 1193l15-10 15-10 15-10 10 11-15 10-15 9-15 10z"/><path class=b d="M693 1223l15-10 15-10 15-10 10 10-15 10-15 10-15 9z"/><path class=a d="M633 1257l15-4 15-9 15-11 15-10 10 9-15 10-15 10-15 10-15 4z"/><path class=a d="M1514 1004l15 2 15 3 10 9-15-2-15-3z"/><path class=b d="M1484 999l15 2 15 3 10 9-15-2-15-2z"/><path class=c d="M1439 992l15 2 15 2 15 3 10 10-15-2-15-3-15-1z"/><path class=d d="M1394 987l15 2 15 1 15 2 10 11-15-2-15-2-15-1z"/><path class=e d="M1349 984l15 1 15 1 15 1 10 11-15-1-15-1-15-1z"/><path class=f d="M1304 983l15 0 15 1 15 0 10 11-15 0-15 0-15 0z"/><path class=g d="M1214 991l15-2 15-2 15-1 15-1 15-1 15-1 10 12-15 1-15 1-15 1-15 1-15 2-15 2z"/><path class=h d="M1064 1031l15-5 15-5 15-5 15-5 15-4 15-4 15-4 15-3 15-3 15-2 10 12-15 3-15 3-15 3-15 4-15 4-15 4-15 5-15 4-15 6-15 5z"/><path class=g d="M958 1078l15-7 15-8 15-7 15-6 16-7 15-6 15-6 10 13-15 6-15 6-15 7-16 6-15 7-15 8-15 7z"/><path class=f d="M898 1111l15-9 15-8 15-8 15-8 10 13-15 8-15 8-15 8-15 8z"/><path class=e d="M853 1137l15-9 15-9 15-8 10 12-15 8-15 9-15 9z"/><path class=d d="M793 1174l15-9 15-10 15-9 15-9 10 12-15 9-15 9-15 9-15 9z"/><path class=c d="M748 1203l15-10 15-9 15-10 10 11-15 9-15 10-15 9z"/><path class=b d="M703 1232l15-9 15-10 15-10 10 10-15 10-15 9-15 10z"/><path class=a d="M643 1266l15-4 15-10 15-10 15-10 10 10-15 10-15 9-15 10-15 5z"/><path class=a d="M1524 1013l15 3 15 2 10 9-15-2-15-2z"/><path class=b d="M1494 1009l15 2 15 2 10 10-15-2-15-2z"/><path class=c d="M1449 1003l15 1 15 3 15 2 10 10-15-3-15-1-15-2z"/><path class=d d="M1404 998l15 1 15 2 15 2 10 10-15-2-15-1-15-1z"/><path class=e d="M1359 995l15 1 15 1 15 1 10 11-15-1-15-1-15-1z"/><path class=f d="M1299 996l15-1 15 0 15 0 15 0 10 11-15 0-15 0-15 1-15 0z"/><path class=g d="M1179 1012l15-3 15-3 15-3 15-2 15-2 15-1 15-1 15-1 10 11-15 1-15 2-15 1-15 2-15 3-15 2-15 3-15 4z"/><path class=h d="M1119 1029l15-5 15-4 15-4 15-4 10 13-15 3-15 4-15 5-15 4z"/><path class=g d="M983 1084l15-8 15-7 16-6 15-7 15-6 15-6 15-5 15-6 15-4 10 12-15 5-15 6-15 5-15 6-15 6-15 7-15 6-16 7-15 7z"/><path class=f d="M923 1115l15-8 15-8 15-8 15-7 10 12-15 8-15 7-15 8-15 8z"/><path class=e d="M863 1149l15-9 15-9 15-8 15-8 10 12-15 8-15 8-15 9-15 8z"/><path class=d d="M818 1176l15-9 15-9 15-9 10 11-15 9-15 9-15 9z"/><path class=c d="M773 1204l15-10 15-9 15-9 10 11-15 9-15 9-15 9z"/><path class=b d="M713 1242l15-10 15-9 15-10 15-9 10 10-15 9-15 10-15 9-15 9z"/><path class=a d="M653 1276l15-5 15-10 15-9 15-10 10 9-15 10-15 9-15 10-15 5z"/><path class=a d="M1534 1023l15 2 15 2 10 10-15-3-15-2z"/><path class=b d="M1489 1016l15 3 15 2 15 2 10 9-15-2-15-2-15-2z"/><path class=c d="M1459 1013l15 2 15 1 10 10-15-1-15-2z"/><path class=d d="M1414 1009l15 1 15 1 15 2 10 10-15-1-15-2-15-1z"/><path class=e d="M1354 1006l15 0 15 1 15 1 15 1 10 10-15 0-15-1-15 0-15 0z"/><path class=f d="M1294 1008l15-1 15 0 15-1 15 0 10 12-15 0-15 0-15 1-15 1z"/><path class=g d="M1024 1082l15-6 15-7 15-6 15-6 15-5 15-6 15-5 15-4 15-5 15-4 15-3 15-4 15-3 15-2 15-3 15-2 15-1 15-2 10 12-15 2-15 1-15 2-15 3-15 3-15 3-15 3-15 4-15 4-15 4-15 5-15 5-15 5-15 6-15 6-15 6-15 6-15 7z"/><path class=f d="M948 1119l15-8 15-7 15-8 15-7 16-7 10 13-15 7-16 7-15 7-15 8-15 7z"/><path class=e d="M888 1152l15-9 15-8 15-8 15-8 10 12-15 8-15 8-15 8-15 9z"/><path class=d d="M828 1187l15-9 15-9 15-9 15-8 10 12-15 8-15 9-15 8-15 9z"/><path class=c d="M783 1214l15-9 15-9 15-9 10 11-15 9-15 9-15 9z"/><path class=b d="M723 1251l15-9 15-9 15-10 15-9 10 11-15 9-15 9-15 9-15 9z"/><path class=a d="M663 1285l15-5 15-10 15-9 15-10 10 10-15 9-15 9-15 9-15 6z"/><path class=a d="M1544 1032l15 2 15 3 10 9-15-2-15-2z"/><path class=b d="M1499 1026l15 2 15 2 15 2 10 10-15-2-15-2-15-2z"/><path class=c d="M1469 1023l15 2 15 1 10 10-15-1-15-2z"/><path class=d d="M1424 1019l15 1 15 2 15 1 10 10-15-1-15-1-15-1z"/><path class=e d="M1364 1018l15 0 15 0 15 1 15 0 10 11-15-1-15 0-15 0-15 0z"/><path class=f d="M1289 1022l15-2 15-1 15-1 15 0 15 0 10 11-15 0-15 1-15 1-15 1-15 1z"/><path class=g d="M1049 1088l15-6 15-6 15-6 15-6 15-5 15-5 15-5 15-4 15-4 15-4 15-3 15-3 15-3 15-3 15-2 15-1 10 11-15 2-15 2-15 3-15 3-15 3-15 3-15 4-15 4-15 5-15 5-15 5-15 5-15 6-15 5-15 7-15 6z"/><path class=f d="M973 1124l15-8 15-7 16-7 15-7 15-7 10 13-15 7-15 6-15 7-16 8-15 7z"/><path class=e d="M898 1164l15-9 15-8 15-8 15-8 15-7 10 12-15 8-15 7-15 8-15 8-15 8z"/><path class=d d="M838 1198l15-9 15-8 15-9 15-8 10 11-15 9-15 8-15 8-15 9z"/><path class=c d="M793 1225l15-9 15-9 15-9 10 11-15 9-15 8-15 9z"/><path class=b d="M748 1252l15-9 15-9 15-9 10 10-15 9-15 9-15 9z"/><path class=a d="M673 1294l15-6 15-9 15-9 15-9 15-9 10 10-15 8-15 9-15 9-15 9-15 6z"/><path class=a d="M1554 1042l15 2 15 2 10 9-15-2-15-2z"/><path class=b d="M1509 1036l15 2 15 2 15 2 10 9-15-1-15-2-15-2z"/><path class=c d="M1464 1032l15 1 15 2 15 1 10 10-15-1-15-1-15-2z"/><path class=d d="M1419 1029l15 1 15 1 15 1 10 10-15-1-15 0-15-1z"/><path class=e d="M1359 1029l15 0 15 0 15 0 15 0 10 11-15 0-15 0-15 0-15 0z"/><path class=f d="M1284 1035l15-2 15-1 15-1 15-1 15-1 10 11-15 1-15 1-15 1-15 2-15 2z"/><path class=g d="M1089 1088l15-5 15-6 15-5 15-5 15-5 15-5 15-4 15-4 15-3 15-3 15-3 15-3 15-2 10 12-15 2-15 3-15 3-15 3-15 4-15 4-15 4-15 4-15 5-15 5-15 5-15 6-15 6z"/><path class=f d="M983 1136l15-7 16-8 15-7 15-6 15-7 15-6 15-7 10 13-15 6-15 6-15 7-15 7-15 7-15 7-15 7z"/><path class=e d="M923 1167l15-8 15-8 15-7 15-8 11 12-16 8-15 7-15 8-15 8z"/><path class=d d="M863 1200l15-8 15-8 15-9 15-8 10 12-15 8-15 8-15 8-15 9z"/><path class=c d="M803 1235l15-9 15-8 15-9 15-9 10 12-15 8-15 8-15 9-15 9z"/><path class=b d="M758 1262l15-9 15-9 15-9 10 11-15 8-15 9-15 8z"/><path class=a d="M683 1303l15-6 15-9 15-9 15-9 15-8 10 9-15 9-15 9-15 8-15 9-15 6z"/><path fill="none" d="M217 848l10 18 10 9 10 10 10 9 10 9 10 9 10 9 10 10 10 9 10 9 10 9 10 9 10 10 10 9 10 9 10 9 10 9 10 10 10 9 10 9 10 9 10 10 10 9 10 9 10 9 10 9 10 10 10 9 10 9 10 9 10 9 11 10 10 9 10 9 10 9 10 9 10 10 10 9 10 9 10 9 10 10 10 9 10 9 10 9 10 9 10 9 10 8 10 9 10 9M252 870l10 10 10 9 10 10 10 9 10 9 10 9 10 10 10 9 10 9 10 9 10 9 10 10 10 9 10 9 10 9 10 9 10 10 10 9 10 9 10 9 10 9 10 10 10 9 10 9 10 9 10 10 10 9 10 9 11 9 10 9 10 10 10 9 10 9 10 9 10 9 10 8 10 8 10 9 10 8 10 9 10 9 10 8 10 9 10 9 10 9 10 9 10 9M287 880l10 14 10 10 10 9 10 9 10 9 10 9 10 10 10 9 10 9 10 9 10 9 10 10 10 9 10 9 10 9 10 10 10 9 10 9 10 9 10 9 10 10 10 9 10 9 10 9 10 9 11 10 10 9 10 9 10 6 10 7 10 8 10 8 10 8 10 9 10 9 10 8 10 9 10 9 10 9 10 9 10 10 10 9 10 9 10 9 10 10M322 886l10 21 10 11 10 9 10 9 10 9 10 10 10 9 10 9 10 9 10 9 10 10 10 9 10 9 10 9 10 9 10 10 10 9 10 9 10 9 10 10 10 9 10 7 10 7 11 7 10 7 10 7 10 7 10 8 10 8 10 8 10 9M733 1261l10 9 10 10M377 917l10 13 10 12 10 12 10 12 10 10 10 10 10 9 10 8 10 9 10 8 10 8 10 7 10 8 10 8 10 7 10 8 10 8 10 8 11 8M648 1156l10 9 10 10 10 9 10 10 10 9 10 10 10 10 10 9 10 10 10 10M583 1073l10 9 10 8 10 8 10 8M663 1144l10 10 10 9 10 10 10 10 10 10 10 10 10 10 10 10 10 10 10 10 10 10 10 10M638 1092l10 10 10 10 10 10 10 10M758 1213l10 10 10 11 10 10 10 10M693 1120l10 11 10 10 10 11 10 10 10 10 10 11 10 10 10 11M638 1035l10 10 10 10 10 10 10 11 10 10 10 11 10 11M748 1152l10 10 10 11 10 11 10 10 10 11 10 11 10 10 10 11M623 987l10 11 10 11 10 10M713 1085l10 12 10 11 10 11 10 11 10 11M803 1185l10 11 10 11 10 11 10 10M618 947l10 12 10 11M698 1038l10 12 10 12 10 12M758 1108l10 12 10 11 10 11 10 11 10 12 10 11M848 1209l10 11M623 917l10 13M683 990l10 12 10 12 10 12M743 1062l10 12 10 12 10 12M803 1132l10 12 10 11 10 12 10 11 10 11 10 11M678 951l10 13 10 12M728 1013l10 12 10 13 10 13M778 1075l10 13 10 11 10 12 10 12M838 1146l10 12 10 11 10 12 10 11 10 11M643 870l10 14M673 910l10 14 10 12M723 975l10 13 10 13M763 1027l10 12 10 13 10 13M813 1090l10 12 10 11 10 12 10 12M873 1160l10 12 10 12 10 11M648 839l10 14M678 882l10 13M718 936l10 13 10 13M758 989l10 13 10 13M798 1042l10 13 10 12 10 13M848 1104l10 12 10 12 10 12 10 12M908 1175l10 12M632 773l11 17M683 852l10 15M713 895l10 14 10 13M753 950l10 14 10 13M793 1005l10 13 10 14M833 1058l10 12 10 13 10 12M883 1119l10 12 10 12 10 12 10 12M627 718l10 19M668 790l10 17M688 822l10 16M718 867l10 14M748 910l10 14 10 14M788 966l10 14 10 14M818 1008l10 14 10 13 10 13M858 1061l10 13 10 12 10 12 10 13M908 1123l10 12 10 12 10 12 10 12M673 758l10 17M693 792l10 16M723 839l10 15M753 883l10 14M783 927l10 14 10 14M813 970l10 14 10 14M843 1012l10 14 10 13 10 13M883 1065l10 12 10 13 10 12 10 13M933 1127l10 12 10 12 10 12M627 617l10 23M668 705l10 20M728 810l10 16M748 841l10 15 10 15M778 886l10 15 10 15M808 930l10 15 10 15M838 974l10 15 10 14M868 1017l10 13 10 13 10 13M908 1069l10 12 10 13 10 13 10 12M958 1131l10 13 10 12M652 623l11 23 10 23M693 710l10 19M713 747l10 18M733 782l10 16M753 814l10 15M783 860l10 15M803 890l10 15 10 15M833 935l10 15 10 15M863 979l10 15 10 14M893 1022l10 13 10 13 10 13M943 1086l10 13 10 12 10 13M688 655l10 22 10 20M718 716l10 19M738 752l10 18M758 786l10 16M778 818l10 16 10 15M808 864l10 16M828 895l10 15 10 16M858 941l10 15 10 15M888 985l10 14 10 14M918 1027l10 13 10 13 10 13 10 12M968 1091l10 13 10 12 10 13 11 12M522 222l10 22M582 341l10 23M672 570l11 25M723 685l10 19M743 723l10 18M763 758l10 17M783 792l10 16M803 823l10 16 10 15M833 870l10 16M853 901l10 16 10 15M883 947l10 15 10 15M913 991l10 14 10 14M943 1032l10 13 10 13 10 13 10 13M993 1096l10 13 11 12 10 13M547 228l10 21M577 288l10 18M607 348l10 25 10 25 10 23M657 473l10 29 10 29 11 27M698 582l10 25 10 23 10 23 10 21M748 694l10 18 10 19 10 17 10 17 10 17 10 16 10 16M828 829l10 16 10 16 10 16 10 16M878 908l10 16 10 15 10 15 10 15 10 14 10 15 10 13 10 14M968 1038l10 13 10 12 10 13 10 13 11 13 10 12 10 13M572 234l10 20M602 291l10 19M652 407l10 25 10 28M703 546l10 25 10 25M753 664l10 20 10 19M783 721l10 18M803 756l10 17M823 789l10 16 10 15M853 836l10 16M873 868l10 16 10 16 10 16 10 15M923 946l10 15 10 15M953 990l10 14 10 13 10 14M993 1044l10 12 10 13 11 13M1034 1095l10 13 10 12M567 179l10 21M597 241l10 19M627 297l10 23M687 449l11 30 10 30 10 27M738 586l10 24 10 23 10 21 10 20M788 694l10 18M808 730l10 17 10 17 10 16M848 796l10 16 10 16 10 16 10 17 10 16 10 16M918 908l10 16 10 15 10 15 10 15 10 14 10 14 10 14 10 13 10 13 10 13 11 13 10 13 10 12M1059 1101l10 12M592 188l10 21 10 20M622 248l10 18 10 20M652 309l10 26 10 26 10 24 10 25 11 29M723 499l10 28 10 26 10 25 10 24 10 23 10 21M793 666l10 20 10 18 10 18 10 17M843 756l10 17 10 16 10 16 10 16M893 837l10 16M913 870l10 16 10 16 10 15 10 15M963 948l10 14 10 15M993 990l10 14 10 13 10 13M1034 1043l10 13 10 13 10 13 10 13 10 12M597 157l10 21 10 21M627 219l10 19 10 18M657 276l10 24 10 25 10 26 10 25 11 25 10 30 10 30 10 30 10 28 10 26 10 25 10 24 10 23M798 639l10 20 10 20 10 18 10 18 10 17 10 17 10 17 10 16M888 798l10 16 10 16 10 17 10 16 10 16 10 16M958 911l10 15 10 15 10 15 10 14 10 14 10 14 10 13 10 13 11 13 10 13 10 13 10 13 10 12M612 149l10 21M632 191l10 20 10 19M662 248l10 20 10 24 10 26 10 26 10 25 11 25 10 29 10 31 10 31M763 513l10 26 10 25 10 24M803 611l10 22 10 20 10 19M843 691l10 18 10 17 10 17M883 760l10 16 10 16 10 16 10 16 10 17 10 16 10 16 10 16 10 16 10 15 10 15 10 15 10 15 10 13M1033 992l10 13 11 13 10 13M1074 1044l10 13 10 13 10 13 10 12M627 142l10 21 10 21 10 20 10 19 10 18 10 20M748 418l10 31 10 30 10 29 10 26 10 25 10 24 10 23 10 22 10 20 10 19 10 19 10 17M878 721l10 17 10 16 10 16 10 16 10 16 10 17 10 16 10 16M968 868l10 16 10 15 10 16 10 15M1018 945l10 14 10 14 10 13 11 14 10 13 10 13 10 13 10 13 10 12 10 13 10 12M642 137l10 21 10 21 10 20 10 19 10 18 10 20 10 25 10 26 11 26 10 25 10 26 10 29 10 32 10 30 10 29 10 26 10 25 10 24 10 23 10 21 10 20 10 20 10 18 10 18 10 17 10 17 10 16 10 16 10 16 10 16 10 17 10 16 10 17 10 16 10 16 10 15 10 16 10 15 10 15 10 14 10 14 11 13 10 13 10 14 10 13 10 12 10 13 10 13 10 13 10 12M657 134l10 21 10 20 10 20 10 19 10 19 10 20 10 24 11 27 10 26M778 411l10 31 10 31 10 28 10 26 10 25 10 24M848 599l10 21 10 20 10 19 10 18 10 18 10 17 10 17 10 16 10 16 10 16 10 16 10 16 10 17 10 16 10 16 10 16 10 16 10 15 10 15 10 15 10 14 11 14 10 13 10 14 10 13 10 13 10 13M1129 1041l10 13 10 13 10 12M672 132l10 21 10 20 10 20 10 19 10 19 10 20M763 329l10 25 10 25 10 30 10 31 10 31M823 499l10 27 10 24 10 24 10 22 10 21 10 20 10 19 10 18 10 18M923 709l10 17 10 16 10 16 10 15 10 16 10 17 10 16 10 16 10 16 10 16 10 16 10 15 10 15 10 15 11 14 10 14 10 13 10 13 10 13 10 13 10 13 10 13 10 12 10 13 10 12M687 132l10 20M707 173l10 20 10 19M737 230l11 21 10 24 10 27 10 27 10 25 10 25 10 30 10 31M828 470l10 29 10 26 10 24 10 24 10 22M888 616l10 19 10 19M918 672l10 18 10 17 10 16M958 739l10 16 10 16 10 15 10 16 10 17 10 16 10 16 10 16 10 15 10 15 10 15 10 15 11 14 10 14 10 13 10 13 10 13 10 13 10 13 10 12 10 13 10 12 10 13M702 133l10 20 10 21M732 194l10 19 10 18M763 252l10 25 10 26 10 27 10 25 10 25 10 29 10 31 10 31 10 28 10 26 10 25 10 23 10 21 10 21M913 634l10 19 10 18 10 17 10 17 10 16 10 16 10 16M993 768l10 16 10 16 10 16 10 16M1043 848l10 15 10 16 10 15 10 15 11 14 10 15 10 13 10 13 10 13 10 13 10 13 10 13 10 12 10 13 10 12 10 13M727 156l10 21 10 19M757 216l11 18 10 21M848 442l10 30 10 29M898 573l10 22 10 20 10 19 10 19 10 17M958 687l10 17 10 16 10 16 10 15 10 15 10 16 10 16 10 16 10 16 10 15 10 16 10 15 10 15 11 15M1109 920l10 14 10 14 10 13 10 13 10 13 10 12 10 13M1189 1025l10 12 10 12 10 13M732 140l10 21M762 200l11 20M783 238l10 21 10 24 10 27 10 26 10 25 10 25 10 28 10 31M883 503l10 25 10 24 10 23M923 596l10 20 10 19M953 653l10 17 10 17 10 16M993 719l10 16M1013 750l10 15 10 16M1043 796l10 16 10 16 10 16 10 15M1093 874l11 15 10 15 10 14 10 14 10 13M1154 958l10 13 10 13 10 12 10 13 10 12 10 13 10 12 10 12M767 186l11 20M788 225l10 18M878 449l10 30 10 27M918 555l10 22 10 20M958 636l10 18M978 671l10 16M998 703l10 16 10 16 10 15 10 15 10 15 10 15 10 16M1078 827l10 15 10 15 11 15 10 15 10 14 10 15 10 13 10 14 10 13 10 12 10 13 10 12 10 13 10 12 10 13 10 12 10 12M772 174l11 19M823 271l10 24 10 26 10 27 10 23 10 25 10 28 10 30M913 510l10 25 10 23M953 600l10 19 10 19 10 17 10 17 10 16 10 16 10 16M1033 735l10 15 10 15M1063 780l10 15 10 15 10 16 10 15M1114 856l10 15 10 14M1144 900l10 14 10 13M1174 941l10 12 10 13 10 13 10 12M1224 1003l10 13 10 12 10 12 10 12M777 162l11 20M808 221l10 19M828 258l10 21M908 459l10 29M948 562l10 21 10 20M978 622l10 18M998 657l10 17M1018 690l10 16M1038 721l10 15 10 14M1068 765l10 15 10 15M1098 810l10 15 10 15 11 15 10 15M1149 884l10 15 10 13 10 14 10 13 10 13 10 12 10 13M1229 989l10 12 10 12 10 12 10 12 10 12M933 494l10 27 10 24 10 22M983 607l10 19M1003 643l10 17M1023 676l10 16M1043 707l10 15 10 15M1073 752l10 14 10 15M1103 795l10 15 10 16M1134 840l10 15 10 14 10 15 10 14 10 13M1194 925l10 13 10 12 10 13M1234 975l10 12 10 12 10 12 10 12 10 12M918 419l10 26M988 592l10 19M1008 630l10 17M1028 663l10 16M1048 695l10 15 10 15M1078 739l10 14 10 14M1108 782l10 14 10 15M1139 826l10 15 10 14M1169 869l10 14 10 14M1199 911l10 13 10 13 10 12M1239 962l10 12 10 12 10 12 10 12 10 12M1299 1033l10 12M923 405l10 23M943 454l10 27 10 28M983 557l10 21 10 20M1013 616l10 18M1033 651l10 16M1053 683l10 15M1083 727l10 14M1113 769l10 15 10 14M1144 813l10 14 10 15M1174 856l10 14 10 14M1204 897l10 14 10 13 10 12M1244 949l10 12 10 12 10 12 10 12 10 11M1304 1020l10 12 10 11M978 517l10 25 10 22M1018 604l10 18M1038 639l10 17M1058 672l10 15M1078 702l10 14 10 14M1108 744l10 14 10 14M1149 800l10 14 10 15M1179 843l10 14 10 13M1209 884l10 14 10 13 10 13M1249 936l10 12 10 12 10 12 10 12 10 12M1309 1007l10 12 10 12 10 11M1023 592l10 18M1063 661l10 15M1083 691l10 15M1113 734l10 14 10 13M1143 775l11 13 10 14M1184 830l10 14 10 14M1214 872l10 13 10 13 10 13M1254 924l10 12 10 12 10 12 10 12M1314 995l10 12 10 11 10 12 10 11M1058 634l10 17M1088 682l10 14M1108 710l10 14 10 14M1148 765l10 13 11 13M1179 805l10 14 10 14 10 13M1219 860l10 13 10 13M1259 912l10 13 10 12 10 12M1309 972l10 11 10 12 10 11 10 12 10 11M1043 588l10 19M1063 625l10 16M1083 657l10 16M1113 701l10 14M1143 742l10 14 10 13M1184 795l10 13 10 14M1224 849l10 13 10 13M1254 888l10 13 10 12 10 13M1304 949l10 12 10 11 10 12 10 11 10 11M1374 1029l10 11M1108 679l10 14M1138 721l10 13M1179 773l10 13 10 12M1219 825l10 13 10 13M1259 877l10 13 10 12 10 13M1299 927l10 12 10 11 10 11 10 12 10 11M1369 1006l10 12 10 11 10 11M1063 587l10 20M1103 656l10 15M1133 700l10 13M1163 740l10 12 11 13M1214 803l10 12 10 13M1254 854l10 13 10 13 10 12M1304 916l10 12 10 12 10 11 10 12M1364 985l10 11 10 11 10 11 10 11 10 11M1098 633l10 16M1128 679l10 14M1158 720l10 13 10 12M1199 770l10 12 10 13 10 12M1249 832l10 13 10 12M1299 895l10 12 10 12 10 11M1359 964l10 11 10 11 10 11 10 11 10 11 10 10M1153 700l10 14M1194 751l10 13M1244 812l10 12 10 12M1284 861l10 12 10 12 10 12M1344 932l10 11 10 12 10 10 10 11 10 11M1434 1030l10 11M1138 667l10 14M1178 721l10 12M1219 770l10 11 10 12 10 12M1279 841l10 12 10 12M1329 900l10 12 10 11 10 12 10 11M1409 989l10 10 10 11 10 10 10 11 10 10M1203 741l11 12M1264 810l10 12 10 12M1314 869l10 12 10 11 10 12 10 11M1384 948l10 11 10 10 10 11 10 10 10 11 10 10 10 11 10 10M1178 699l10 13M1229 760l10 11 10 12M1299 839l10 11 10 12 10 11M1369 918l10 11 10 11 10 11 10 10 10 10 10 11M1479 1033l10 11M1163 670l10 13M1203 721l10 12M1264 789l10 11 10 11 10 11 10 11M1344 878l10 11 10 11 10 11 10 11M1444 984l10 10 10 10 10 11 10 10 10 10 10 10M1229 742l10 11 10 11M1319 839l10 11 10 11 10 11M1399 925l10 11 10 10 10 10 10 10 10 10 10 10 10 10 10 11 10 9M1264 772l10 11 10 10M1364 877l10 10 10 11 10 10 10 10 10 11 10 10M1504 1019l10 9 10 10 10 10M1299 801l10 10 10 10 10 10 10 10 10 10M1439 943l10 9 10 10 10 10 10 10 10 10 10 9 10 10 10 10 10 9 10 10 10 10M1364 858l10 10 10 10 10 9 10 10 10 10 10 10 10 10 10 9 10 10M1469 950l10 9 10 10 10 9 10 10 10 9 10 9 10 10 10 9 10 9 10 10 10 9"/></g><g stroke="#151212" stroke-width=".6" fill="none"><path d="M38.3 53.2L138.6 145.3"/><path d="M138.6 145.3L318.9 93.8"/><path d="M138.6 262.5L138.6 145.3"/></g><g stroke="#3c3838" stroke-width=".75" fill="none"><path d="M38.3 170.4L34 171.6"/><path d="M48.3 179.6L44 180.8"/><path d="M58.4 188.8L54 190.1"/><path d="M68.4 198L64.1 199.3"/><path d="M78.4 207.2L74.1 208.5"/><path d="M88.4 216.4L84.1 217.7"/><path d="M98.5 225.7L94.2 226.9"/><path d="M108.5 234.9L104.2 236.1"/><path d="M118.5 244.1L114.2 245.3"/><path d="M128.6 253.3L124.2 254.5"/><path d="M138.6 262.5L134.3 263.7"/><path d="M138.6 262.5L142.4 266"/><path d="M168.7 253.9L172.5 257.4"/><path d="M198.7 245.3L202.5 248.9"/><path d="M228.8 236.8L232.6 240.3"/><path d="M258.8 228.2L262.6 231.7"/><path d="M288.9 219.6L292.7 223.1"/><path d="M318.9 211L322.7 214.5"/><path d="M38.3 170.4L34.3 166.9"/><path d="M38.3 147L34.3 143.5"/><path d="M38.3 123.5L34.3 120"/><path d="M38.3 100.1L34.3 96.6"/><path d="M38.3 76.6L34.3 73.1"/><path d="M38.3 53.2L34.3 49.7"/></g><g class="ti" text-anchor="end"><text x="29.8" y="184.9">0</text><text x="39.8" y="194.1">1</text><text x="49.9" y="203.3">2</text><text x="59.9" y="212.5">3</text><text x="69.9" y="221.7">4</text><text x="79.9" y="230.9">5</text><text x="90" y="240.2">6</text><text x="100" y="249.4">7</text><text x="110" y="258.6">8</text><text x="120.1" y="267.8">9</text><text x="130.1" y="277">10</text><text x="32.3" y="169.5">0</text><text x="32.3" y="146.1">0.2</text><text x="32.3" y="122.6">0.4</text><text x="32.3" y="99.2">0.6</text><text x="32.3" y="75.7">0.8</text><text x="32.3" y="52.3">1</text></g><g class="ti"><text x="145.6" y="280.2">0</text><text x="175.7" y="271.6"><tspan class="pi">π</tspan>/6</text><text x="205.7" y="263"><tspan class="pi">π</tspan>/3</text><text x="235.8" y="254.4"><tspan class="pi">π</tspan>/2</text><text x="265.8" y="245.9">2<tspan class="pi">π</tspan>/3</text><text x="295.9" y="237.3">5<tspan class="pi">π</tspan>/6</text><text x="325.9" y="228.7"><tspan class="pi">π</tspan></text></g><text class="ax" x="55.1" y="244.4" font-size="16">ωt</text><text class="ax" x="245.7" y="271.1" font-size="17">θ</text><text class="cc" transform="translate(13.9 117.7) rotate(-90)" text-anchor="middle">C</text><text class="lb" x="195.9" y="19.9">(a)</text><g stroke="#eaeaea" stroke-width=".7" fill="none"><path d="M389.7 170.4L570 118.9"/><path d="M570 118.9L570 1.7"/><path d="M399.7 179.6L580 128.1"/><path d="M580 128.1L580 10.9"/><path d="M409.7 188.8L590 137.3"/><path d="M590 137.3L590 20.1"/><path d="M419.7 198L600 146.5"/><path d="M600 146.5L600 29.3"/><path d="M429.8 207.2L610.1 155.7"/><path d="M610.1 155.7L610.1 38.5"/><path d="M439.8 216.4L620.1 164.9"/><path d="M620.1 164.9L620.1 47.7"/><path d="M449.8 225.7L630.1 174.2"/><path d="M630.1 174.2L630.1 57"/><path d="M459.9 234.9L640.2 183.4"/><path d="M640.2 183.4L640.2 66.2"/><path d="M469.9 244.1L650.2 192.6"/><path d="M650.2 192.6L650.2 75.4"/><path d="M479.9 253.3L660.2 201.8"/><path d="M660.2 201.8L660.2 84.6"/><path d="M490 262.5L670.2 211"/><path d="M670.2 211L670.2 93.8"/><path d="M389.7 170.4L490 262.5"/><path d="M389.7 170.4L389.7 53.2"/><path d="M419.7 161.8L520 253.9"/><path d="M419.7 161.8L419.7 44.6"/><path d="M449.8 153.2L550.1 245.3"/><path d="M449.8 153.2L449.8 36"/><path d="M479.8 144.7L580.1 236.8"/><path d="M479.8 144.7L479.8 27.5"/><path d="M509.9 136.1L610.2 228.2"/><path d="M509.9 136.1L509.9 18.9"/><path d="M539.9 127.5L640.2 219.6"/><path d="M539.9 127.5L539.9 10.3"/><path d="M570 118.9L670.2 211"/><path d="M570 118.9L570 1.7"/><path d="M389.7 170.4L570 118.9"/><path d="M570 118.9L670.2 211"/><path d="M389.7 147L570 95.5"/><path d="M570 95.5L670.2 187.6"/><path d="M389.7 123.5L570 72"/><path d="M570 72L670.2 164.1"/><path d="M389.7 100.1L570 48.6"/><path d="M570 48.6L670.2 140.7"/><path d="M389.7 76.6L570 25.1"/><path d="M570 25.1L670.2 117.2"/><path d="M389.7 53.2L570 1.7"/><path d="M570 1.7L670.2 93.8"/></g><g stroke="#3c3838" stroke-width=".75" fill="none"><path d="M389.7 170.4L570 118.9"/><path d="M570 118.9L670.2 211"/><path d="M570 118.9L570 1.7"/><path d="M389.7 53.2L570 1.7"/><path d="M570 1.7L670.2 93.8"/><path d="M389.7 170.4L389.7 53.2"/><path d="M670.2 211L670.2 93.8"/><path d="M389.7 170.4L490 262.5"/><path d="M490 262.5L670.2 211"/></g><g transform="scale(0.2)" stroke="#000" stroke-width="2.5" stroke-linejoin="round"><path class=s d="M2695 337l14 21 10 15-14-20z"/><path class=u d="M2681 317l14 20 10 16-14-20z"/><path class=v d="M2667 298l14 19 10 16-14-19z"/><path class=w d="M2653 279l14 19 10 16-14-18z"/><path class=y d="M2638 261l15 18 10 17-15-18z"/><path class=z d="M2624 245l14 16 10 17-14-16z"/><path class=za d="M2610 229l14 16 10 17-14-16z"/><path class=zb d="M2596 214l14 15 10 17-14-14z"/><path class=zc d="M2582 200l14 14 10 18-14-13z"/><path class=zd d="M2568 188l14 12 10 19-14-13z"/><path class=ze d="M2554 176l14 12 10 18-14-11z"/><path class=zf d="M2540 166l14 10 10 19-14-10z"/><path class=zg d="M2526 157l14 9 10 19-14-9z"/><path class=zh d="M2498 143l14 7 14 7 10 19-14-7-14-6z"/><path class=zi d="M2469 135l15 3 14 5 10 20-14-5-15-4z"/><path class=zj d="M2343 165l14-9 14-8 14-6 14-5 14-3 14-2 14 0 14 0 14 3 10 19-14-2-14-1-14 0-14 2-14 3-14 5-14 6-14 8-14 9z"/><path class=zi d="M2314 187l15-12 14-10 10 19-14 10-14 12z"/><path class=zh d="M2286 214l14-14 14-13 11 19-15 13-14 14z"/><path class=zg d="M2272 230l14-16 10 19-14 16z"/><path class=zf d="M2258 247l14-17 10 19-14 17z"/><path class=ze d="M2244 265l14-18 10 19-14 18z"/><path class=zd d="M2230 284l14-19 10 19-14 20z"/><path class=zc d="M2216 305l14-21 10 20-14 21z"/><path class=zb d="M2202 327l14-22 10 20-14 22z"/><path class=za d="M2188 349l14-22 10 20-14 23z"/><path class=z d="M2174 373l14-24 10 21-14 24z"/><path class=y d="M2160 398l14-25 10 21-14 25z"/><path class=w d="M2145 424l15-26 10 21-15 26z"/><path class=v d="M2131 451l14-27 10 21-14 28z"/><path class=u d="M2117 478l14-27 10 22-14 27z"/><path class=s d="M2103 506l14-28 10 22-14 29z"/><path class=q d="M2089 536l14-30 10 23-14 30z"/><path class=p d="M2075 565l14-29 10 23-14 30z"/><path class=n d="M2061 596l14-31 10 24-14 31z"/><path class=m d="M2047 626l14-30 10 24-14 31z"/><path class=k d="M2033 658l14-32 10 25-14 32z"/><path class=i d="M2019 689l14-31 10 25-14 32z"/><path class=h d="M2005 722l14-33 10 26-14 33z"/><path class=f d="M1991 754l14-32 10 26-14 33z"/><path class=d d="M1976 787l15-33 10 27-15 33z"/><path class=b d="M1962 819l14-32 10 27-14 33z"/><path class=a d="M1948 852l14-33 10 28-14 14z"/><path class=s d="M2705 353l14 20 10 15-14-20z"/><path class=t d="M2691 333l14 20 10 15-14-19z"/><path class=v d="M2677 314l14 19 10 16-14-19z"/><path class=w d="M2663 296l14 18 10 16-14-18z"/><path class=x d="M2648 278l15 18 10 16-14-17z"/><path class=y d="M2634 262l14 16 11 17-15-16z"/><path class=za d="M2620 246l14 16 10 17-14-15z"/><path class=zb d="M2606 232l14 14 10 18-14-14z"/><path class=zc d="M2592 219l14 13 10 18-14-13z"/><path class=zd d="M2578 206l14 13 10 18-14-12z"/><path class=ze d="M2564 195l14 11 10 19-14-11z"/><path class=zf d="M2536 176l14 9 14 10 10 19-14-10-14-9z"/><path class=zg d="M2522 169l14 7 10 19-14-7z"/><path class=zh d="M2494 158l14 5 14 6 10 19-14-6-14-5z"/><path class=zi d="M2451 151l14 1 14 2 15 4 10 19-15-4-14-2-14-1z"/><path class=zj d="M2367 175l14-8 14-6 14-5 14-3 14-2 14 0 10 19-14 0-14 2-14 3-14 5-14 6-14 8z"/><path class=zi d="M2339 194l14-10 14-9 10 19-14 9-14 10z"/><path class=zh d="M2310 219l15-13 14-12 10 19-14 12-15 13z"/><path class=zg d="M2296 233l14-14 10 19-14 14z"/><path class=zf d="M2268 266l14-17 14-16 10 19-14 16-14 17z"/><path class=ze d="M2254 284l14-18 10 19-14 19z"/><path class=zd d="M2240 304l14-20 10 20-14 19z"/><path class=zc d="M2226 325l14-21 10 19-14 21z"/><path class=zb d="M2212 347l14-22 10 19-14 23z"/><path class=z d="M2198 370l14-23 10 20-14 23z"/><path class=y d="M2184 394l14-24 10 20-14 24z"/><path class=x d="M2170 419l14-25 10 20-14 26z"/><path class=w d="M2155 445l15-26 10 21-14 26z"/><path class=u d="M2141 473l14-28 11 21-15 28z"/><path class=t d="M2127 500l14-27 10 21-14 28z"/><path class=r d="M2113 529l14-29 10 22-14 29z"/><path class=q d="M2099 559l14-30 10 22-14 30z"/><path class=o d="M2085 589l14-30 10 22-14 31z"/><path class=m d="M2071 620l14-31 10 23-14 31z"/><path class=l d="M2057 651l14-31 10 23-14 32z"/><path class=j d="M2043 683l14-32 10 24-14 33z"/><path class=h d="M2029 715l14-32 10 25-14 32z"/><path class=f d="M2015 748l14-33 10 25-14 33z"/><path class=e d="M2001 781l14-33 10 25-14 34z"/><path class=c d="M1986 814l15-33 10 26-15 33z"/><path class=a d="M1958 861l14-14 14-33 10 26-14 26-14 4z"/><path class=r d="M2715 368l14 20 10 15-14-20z"/><path class=t d="M2701 349l14 19 10 15-14-19z"/><path class=u d="M2687 330l14 19 10 15-14-18z"/><path class=v d="M2673 312l14 18 10 16-14-17z"/><path class=x d="M2659 295l14 17 10 17-14-17z"/><path class=y d="M2644 279l15 16 10 17-15-16z"/><path class=z d="M2630 264l14 15 10 17-14-14z"/><path class=za d="M2616 250l14 14 10 18-14-14z"/><path class=zb d="M2602 237l14 13 10 18-14-13z"/><path class=zc d="M2588 225l14 12 10 18-14-12z"/><path class=zd d="M2574 214l14 11 10 18-14-11z"/><path class=ze d="M2560 204l14 10 10 18-14-10z"/><path class=zf d="M2546 195l14 9 10 18-14-8z"/><path class=zg d="M2518 182l14 6 14 7 10 19-14-7-14-7z"/><path class=zh d="M2489 173l15 4 14 5 10 18-14-4-14-4z"/><path class=zi d="M2363 203l14-9 14-8 14-6 14-5 14-3 14-2 14 0 14 1 14 2 11 19-15-2-14-1-14 0-14 2-14 3-14 5-14 6-14 7-14 9z"/><path class=zh d="M2335 225l14-12 14-10 10 18-14 10-14 12z"/><path class=zg d="M2306 252l14-14 15-13 10 18-15 13-14 15z"/><path class=zf d="M2292 268l14-16 10 19-14 16z"/><path class=ze d="M2278 285l14-17 10 19-14 17z"/><path class=zd d="M2264 304l14-19 10 19-14 18z"/><path class=zc d="M2250 323l14-19 10 18-14 20z"/><path class=zb d="M2236 344l14-21 10 19-14 21z"/><path class=za d="M2222 367l14-23 10 19-14 23z"/><path class=z d="M2208 390l14-23 10 19-14 23z"/><path class=y d="M2194 414l14-24 10 19-14 25z"/><path class=w d="M2180 440l14-26 10 20-14 26z"/><path class=v d="M2166 466l14-26 10 20-14 26z"/><path class=t d="M2151 494l15-28 10 20-15 28z"/><path class=s d="M2137 522l14-28 10 20-14 29z"/><path class=q d="M2123 551l14-29 10 21-14 29z"/><path class=p d="M2109 581l14-30 10 21-14 31z"/><path class=n d="M2095 612l14-31 10 22-14 31z"/><path class=l d="M2081 643l14-31 10 22-14 32z"/><path class=k d="M2067 675l14-32 10 23-14 32z"/><path class=i d="M2053 708l14-33 10 23-14 33z"/><path class=g d="M2039 740l14-32 10 23-14 33z"/><path class=e d="M2025 773l14-33 10 24-14 34z"/><path class=d d="M2011 807l14-34 10 25-14 33z"/><path class=b d="M1996 840l15-33 10 24-14 34z"/><path class=a d="M1968 870l14-4 14-26 11 25-15 11-14 4z"/><path class=r d="M2725 383l14 20 10 14-14-19z"/><path class=s d="M2711 364l14 19 10 15-14-18z"/><path class=u d="M2697 346l14 18 10 16-14-18z"/><path class=v d="M2683 329l14 17 10 16-14-17z"/><path class=w d="M2669 312l14 17 10 16-14-16z"/><path class=x d="M2654 296l15 16 10 17-15-16z"/><path class=z d="M2640 282l14 14 10 17-14-14z"/><path class=za d="M2626 268l14 14 10 17-14-14z"/><path class=zb d="M2612 255l14 13 10 17-14-12z"/><path class=zc d="M2598 243l14 12 10 18-14-12z"/><path class=zd d="M2570 222l14 10 14 11 10 18-14-11-14-9z"/><path class=ze d="M2556 214l14 8 10 19-14-9z"/><path class=zf d="M2542 207l14 7 10 18-14-7z"/><path class=zg d="M2514 196l14 4 14 7 10 18-14-6-14-5z"/><path class=zh d="M2471 189l14 1 15 2 14 4 10 18-14-3-15-3-14-1z"/><path class=zi d="M2401 205l14-6 14-5 14-3 14-2 14 0 10 18-14 1-14 1-14 4-14 4-14 6z"/><path class=zh d="M2359 231l14-10 14-9 14-7 10 18-14 7-14 9-14 10z"/><path class=zg d="M2330 256l15-13 14-12 10 18-14 12-14 13z"/><path class=zf d="M2316 271l14-15 11 18-15 15z"/><path class=ze d="M2302 287l14-16 10 18-14 15z"/><path class=zd d="M2274 322l14-18 14-17 10 17-14 18-14 18z"/><path class=zc d="M2260 342l14-20 10 18-14 20z"/><path class=zb d="M2246 363l14-21 10 18-14 21z"/><path class=z d="M2232 386l14-23 10 18-14 23z"/><path class=y d="M2218 409l14-23 10 18-14 24z"/><path class=x d="M2204 434l14-25 10 19-14 25z"/><path class=w d="M2190 460l14-26 10 19-14 25z"/><path class=u d="M2176 486l14-26 10 18-14 28z"/><path class=t d="M2161 514l15-28 10 20-15 28z"/><path class=r d="M2147 543l14-29 10 20-14 29z"/><path class=q d="M2133 572l14-29 10 20-14 29z"/><path class=o d="M2119 603l14-31 10 20-14 31z"/><path class=m d="M2105 634l14-31 10 20-14 32z"/><path class=l d="M2091 666l14-32 10 21-14 32z"/><path class=j d="M2077 698l14-32 10 21-14 32z"/><path class=h d="M2063 731l14-33 10 21-14 34z"/><path class=f d="M2049 764l14-33 10 22-14 33z"/><path class=e d="M2035 798l14-34 10 22-14 34z"/><path class=c d="M2021 831l14-33 10 22-14 34z"/><path class=a d="M1978 880l14-4 15-11 14-34 10 23-14 27-15 4-14 4z"/><path class=p d="M2749 417l14 20 10 14-14-19z"/><path class=r d="M2735 398l14 19 10 15-14-19z"/><path class=s d="M2721 380l14 18 10 15-14-18z"/><path class=t d="M2707 362l14 18 10 15-14-17z"/><path class=v d="M2693 345l14 17 10 16-14-17z"/><path class=w d="M2679 329l14 16 10 16-14-16z"/><path class=x d="M2664 313l15 16 10 16-14-15z"/><path class=y d="M2650 299l14 14 11 17-15-14z"/><path class=z d="M2636 285l14 14 10 17-14-13z"/><path class=za d="M2622 273l14 12 10 18-14-13z"/><path class=zb d="M2608 261l14 12 10 17-14-11z"/><path class=zc d="M2594 250l14 11 10 18-14-11z"/><path class=zd d="M2580 241l14 9 10 18-14-9z"/><path class=ze d="M2552 225l14 7 14 9 10 18-14-9-14-7z"/><path class=zf d="M2538 219l14 6 10 18-14-6z"/><path class=zg d="M2495 208l15 3 14 3 14 5 10 18-14-5-14-3-15-3z"/><path class=zh d="M2397 230l14-7 14-6 14-4 14-4 14-1 14-1 14 1 10 18-14-1-14 0-14 2-14 3-14 5-14 5-14 8z"/><path class=zg d="M2355 261l14-12 14-10 14-9 10 18-14 8-14 11-14 11z"/><path class=zf d="M2341 274l14-13 10 17-14 13z"/><path class=ze d="M2312 304l14-15 15-15 10 17-15 15-14 16z"/><path class=zd d="M2298 322l14-18 10 18-14 17z"/><path class=zc d="M2284 340l14-18 10 17-14 18z"/><path class=zb d="M2270 360l14-20 10 17-14 20z"/><path class=za d="M2256 381l14-21 10 17-14 22z"/><path class=z d="M2242 404l14-23 10 18-14 22z"/><path class=y d="M2228 428l14-24 10 17-14 24z"/><path class=w d="M2214 453l14-25 10 17-14 25z"/><path class=v d="M2200 478l14-25 10 17-14 26z"/><path class=u d="M2186 506l14-28 10 18-14 27z"/><path class=s d="M2171 534l15-28 10 17-14 29z"/><path class=r d="M2157 563l14-29 11 18-15 29z"/><path class=p d="M2143 592l14-29 10 18-14 30z"/><path class=n d="M2129 623l14-31 10 19-14 31z"/><path class=m d="M2115 655l14-32 10 19-14 32z"/><path class=k d="M2101 687l14-32 10 19-14 32z"/><path class=i d="M2087 719l14-32 10 19-14 33z"/><path class=g d="M2073 753l14-34 10 20-14 34z"/><path class=f d="M2059 786l14-33 10 20-14 34z"/><path class=d d="M2045 820l14-34 10 21-14 34z"/><path class=b d="M2031 854l14-34 10 21-14 35z"/><path class=a d="M1988 889l14-4 15-4 14-27 10 22-14 14-15 4-14 4z"/><path class=n d="M2773 451l14 19 10 15-14-19z"/><path class=p d="M2759 432l14 19 10 15-14-18z"/><path class=q d="M2745 413l14 19 10 16-14-18z"/><path class=s d="M2731 395l14 18 10 17-14-18z"/><path class=t d="M2717 378l14 17 10 17-14-17z"/><path class=u d="M2703 361l14 17 10 17-14-16z"/><path class=v d="M2689 345l14 16 10 18-14-15z"/><path class=x d="M2675 330l14 15 10 19-14-15z"/><path class=y d="M2660 316l15 14 10 19-15-14z"/><path class=z d="M2646 303l14 13 10 19-14-13z"/><path class=za d="M2632 290l14 13 10 19-14-12z"/><path class=zb d="M2618 279l14 11 10 20-14-11z"/><path class=zc d="M2590 259l14 9 14 11 10 20-14-11-14-9z"/><path class=zd d="M2576 250l14 9 10 20-14-8z"/><path class=ze d="M2548 237l14 6 14 7 10 21-14-7-14-6z"/><path class=zf d="M2520 229l14 3 14 5 10 21-14-5-14-4z"/><path class=zg d="M2477 225l14 0 14 1 15 3 10 20-14-2-15-1-14 0z"/><path class=zh d="M2435 235l14-5 14-3 14-2 10 21-14 2-14 3-14 4z"/><path class=zg d="M2379 267l14-11 14-8 14-8 14-5 10 20-14 6-14 7-14 8-14 10z"/><path class=zf d="M2351 291l14-13 14-11 10 19-14 12-14 13z"/><path class=ze d="M2336 306l15-15 10 20-15 14z"/><path class=zd d="M2322 322l14-16 10 19-14 16z"/><path class=zc d="M2294 357l14-18 14-17 10 19-14 17-14 18z"/><path class=zb d="M2280 377l14-20 10 19-14 20z"/><path class=z d="M2266 399l14-22 10 19-14 22z"/><path class=y d="M2252 421l14-22 10 19-14 22z"/><path class=x d="M2238 445l14-24 10 19-14 24z"/><path class=w d="M2224 470l14-25 10 19-14 25z"/><path class=u d="M2210 496l14-26 10 19-14 26z"/><path class=t d="M2196 523l14-27 10 19-14 28z"/><path class=s d="M2182 552l14-29 10 20-14 28z"/><path class=q d="M2167 581l15-29 10 19-15 29z"/><path class=o d="M2153 611l14-30 10 19-14 31z"/><path class=n d="M2139 642l14-31 10 20-14 31z"/><path class=l d="M2125 674l14-32 10 20-14 32z"/><path class=j d="M2111 706l14-32 10 20-14 32z"/><path class=i d="M2097 739l14-33 10 20-14 33z"/><path class=g d="M2083 773l14-34 10 20-14 34z"/><path class=e d="M2069 807l14-34 10 20-14 34z"/><path class=c d="M2055 841l14-34 10 20-14 35z"/><path class=a d="M1998 898l14-4 15-4 14-14 14-35 10 21-14 33-14 4-14 4-15 4z"/><path class=j d="M2825 524l15 21 10 14-15-20z"/><path class=k d="M2811 505l14 19 10 15-14-19z"/><path class=m d="M2797 485l14 20 10 15-14-18z"/><path class=n d="M2783 466l14 19 10 17-14-18z"/><path class=o d="M2769 448l14 18 10 18-14-18z"/><path class=q d="M2755 430l14 18 10 18-14-17z"/><path class=r d="M2741 412l14 18 10 19-14-17z"/><path class=s d="M2727 395l14 17 10 20-14-16z"/><path class=u d="M2713 379l14 16 10 21-14-15z"/><path class=v d="M2699 364l14 15 10 22-14-15z"/><path class=w d="M2685 349l14 15 10 22-14-14z"/><path class=x d="M2670 335l15 14 10 23-15-14z"/><path class=y d="M2656 322l14 13 10 23-14-12z"/><path class=z d="M2642 310l14 12 10 24-14-12z"/><path class=za d="M2628 299l14 11 10 24-14-11z"/><path class=zb d="M2614 288l14 11 10 24-14-10z"/><path class=zc d="M2586 271l14 8 14 9 10 25-14-9-14-8z"/><path class=zd d="M2572 264l14 7 10 25-14-7z"/><path class=ze d="M2544 253l14 5 14 6 10 25-14-6-14-4z"/><path class=zf d="M2501 246l15 1 14 2 14 4 10 26-14-4-14-2-15-2z"/><path class=zg d="M2417 268l14-7 14-6 14-4 14-3 14-2 14 0 10 25-14 1-14 1-14 3-14 4-14 5-14 7z"/><path class=zf d="M2375 298l14-12 14-10 14-8 10 24-14 9-14 10-14 11z"/><path class=ze d="M2361 311l14-13 10 24-14 12z"/><path class=zd d="M2332 341l14-16 15-14 10 23-14 15-15 15z"/><path class=zc d="M2318 358l14-17 10 23-14 17z"/><path class=zb d="M2304 376l14-18 10 23-14 18z"/><path class=za d="M2290 396l14-20 10 23-14 20z"/><path class=z d="M2276 418l14-22 10 23-14 21z"/><path class=y d="M2262 440l14-22 10 22-14 23z"/><path class=x d="M2248 464l14-24 10 23-14 23z"/><path class=v d="M2234 489l14-25 10 22-14 25z"/><path class=u d="M2220 515l14-26 10 22-14 26z"/><path class=s d="M2206 543l14-28 10 22-14 27z"/><path class=r d="M2192 571l14-28 10 21-14 29z"/><path class=p d="M2177 600l15-29 10 22-15 29z"/><path class=o d="M2163 631l14-31 10 22-14 30z"/><path class=m d="M2149 662l14-31 10 21-14 31z"/><path class=k d="M2135 694l14-32 10 21-14 32z"/><path class=j d="M2121 726l14-32 10 21-14 33z"/><path class=h d="M2107 759l14-33 10 22-14 33z"/><path class=f d="M2093 793l14-34 10 22-14 34z"/><path class=d d="M2079 827l14-34 10 22-14 34z"/><path class=b d="M2065 862l14-35 10 22-14 35z"/><path class=a d="M2008 907l15-4 14-4 14-4 14-33 10 22-14 20-14 4-14 4-15 4z"/><path class=h d="M2850 559l14 19 10 14-14-19z"/><path class=i d="M2835 539l15 20 10 14-15-18z"/><path class=k d="M2821 520l14 19 10 16-14-18z"/><path class=l d="M2807 502l14 18 10 17-14-18z"/><path class=m d="M2793 484l14 18 10 17-14-17z"/><path class=o d="M2779 466l14 18 10 18-14-16z"/><path class=p d="M2765 449l14 17 10 20-14-17z"/><path class=q d="M2751 432l14 17 10 20-14-16z"/><path class=s d="M2737 416l14 16 10 21-14-15z"/><path class=t d="M2723 401l14 15 10 22-14-14z"/><path class=u d="M2709 386l14 15 10 23-14-15z"/><path class=v d="M2695 372l14 14 10 23-14-13z"/><path class=w d="M2680 358l15 14 10 24-14-13z"/><path class=x d="M2666 346l14 12 11 25-15-12z"/><path class=y d="M2652 334l14 12 10 25-14-11z"/><path class=z d="M2638 323l14 11 10 26-14-10z"/><path class=za d="M2624 313l14 10 10 27-14-10z"/><path class=zb d="M2596 296l14 8 14 9 10 27-14-9-14-7z"/><path class=zc d="M2582 289l14 7 10 28-14-7z"/><path class=zd d="M2554 279l14 4 14 6 10 28-14-6-14-4z"/><path class=ze d="M2511 271l15 2 14 2 14 4 10 28-14-4-14-2-15-1z"/><path class=zf d="M2427 292l14-7 14-5 14-4 14-3 14-1 14-1 10 29-14 0-14 1-14 3-14 4-14 5-14 7z"/><path class=ze d="M2385 322l14-11 14-10 14-9 10 28-14 8-14 9-14 11z"/><path class=zd d="M2371 334l14-12 10 26-14 13z"/><path class=zc d="M2342 364l15-15 14-15 10 27-14 13-15 16z"/><path class=zb d="M2328 381l14-17 10 26-14 16z"/><path class=za d="M2314 399l14-18 10 25-14 18z"/><path class=z d="M2300 419l14-20 10 25-14 20z"/><path class=y d="M2286 440l14-21 10 25-14 21z"/><path class=x d="M2272 463l14-23 10 25-14 22z"/><path class=w d="M2258 486l14-23 10 24-14 23z"/><path class=u d="M2244 511l14-25 10 24-14 25z"/><path class=t d="M2230 537l14-26 10 24-14 26z"/><path class=s d="M2216 564l14-27 10 24-14 27z"/><path class=q d="M2202 593l14-29 10 24-14 28z"/><path class=p d="M2187 622l15-29 10 23-14 29z"/><path class=n d="M2173 652l14-30 11 23-15 30z"/><path class=l d="M2159 683l14-31 10 23-14 31z"/><path class=k d="M2145 715l14-32 10 23-14 31z"/><path class=i d="M2131 748l14-33 10 22-14 33z"/><path class=g d="M2117 781l14-33 10 22-14 33z"/><path class=e d="M2103 815l14-34 10 22-14 33z"/><path class=c d="M2089 849l14-34 10 21-14 34z"/><path class=b d="M2075 884l14-35 10 21-14 35z"/><path class=a d="M2018 916l15-4 14-4 14-4 14-20 10 21-14 9-14 4-14 4-15 4z"/><path class=h d="M2860 573l14 19 10 13-14-17z"/><path class=i d="M2845 555l15 18 10 15-14-18z"/><path class=j d="M2831 537l14 18 11 15-15-17z"/><path class=l d="M2817 519l14 18 10 16-14-16z"/><path class=m d="M2803 502l14 17 10 18-14-16z"/><path class=n d="M2789 486l14 16 10 19-14-16z"/><path class=o d="M2775 469l14 17 10 19-14-15z"/><path class=q d="M2761 453l14 16 10 21-14-15z"/><path class=r d="M2747 438l14 15 10 22-14-15z"/><path class=s d="M2733 424l14 14 10 22-14-14z"/><path class=t d="M2719 409l14 15 10 22-14-13z"/><path class=u d="M2705 396l14 13 10 24-14-13z"/><path class=v d="M2691 383l14 13 10 24-14-12z"/><path class=w d="M2676 371l15 12 10 25-15-11z"/><path class=x d="M2662 360l14 11 10 26-14-11z"/><path class=y d="M2648 350l14 10 10 26-14-10z"/><path class=z d="M2634 340l14 10 10 26-14-9z"/><path class=za d="M2606 324l14 7 14 9 10 27-14-9-14-7z"/><path class=zb d="M2592 317l14 7 10 27-14-6z"/><path class=zc d="M2564 307l14 4 14 6 10 28-14-6-14-4z"/><path class=zd d="M2521 300l15 1 14 2 14 4 10 28-14-4-14-2-14-1z"/><path class=ze d="M2437 320l14-7 14-5 14-4 14-3 14-1 14 0 11 28-15 0-14 1-14 3-14 4-14 5-14 6z"/><path class=zd d="M2395 348l14-11 14-9 14-8 10 27-14 8-14 10-14 10z"/><path class=zc d="M2381 361l14-13 10 27-14 12z"/><path class=zb d="M2352 390l15-16 14-13 10 26-14 14-15 15z"/><path class=za d="M2338 406l14-16 10 26-14 16z"/><path class=z d="M2324 424l14-18 10 26-14 18z"/><path class=y d="M2310 444l14-20 10 26-14 19z"/><path class=x d="M2296 465l14-21 10 25-14 20z"/><path class=w d="M2282 487l14-22 10 24-14 22z"/><path class=v d="M2268 510l14-23 10 24-14 23z"/><path class=u d="M2254 535l14-25 10 24-14 24z"/><path class=s d="M2240 561l14-26 10 23-14 26z"/><path class=r d="M2226 588l14-27 10 23-14 26z"/><path class=p d="M2212 616l14-28 10 22-14 28z"/><path class=o d="M2198 645l14-29 10 22-14 29z"/><path class=m d="M2183 675l15-30 10 22-15 29z"/><path class=l d="M2169 706l14-31 10 21-14 31z"/><path class=j d="M2155 737l14-31 10 21-14 31z"/><path class=h d="M2141 770l14-33 10 21-14 32z"/><path class=f d="M2127 803l14-33 10 20-14 33z"/><path class=e d="M2113 836l14-33 10 20-14 33z"/><path class=c d="M2099 870l14-34 10 20-14 34z"/><path class=a d="M2028 926l15-4 14-4 14-4 14-9 14-35 10 20-14 29-14 4-14 4-14 4-14 4z"/><path class=g d="M2870 588l14 17 10 13-14-17z"/><path class=i d="M2856 570l14 18 10 13-14-16z"/><path class=j d="M2841 553l15 17 10 15-15-16z"/><path class=k d="M2827 537l14 16 10 16-14-16z"/><path class=l d="M2813 521l14 16 10 16-14-15z"/><path class=n d="M2799 505l14 16 10 17-14-15z"/><path class=o d="M2785 490l14 15 10 18-14-15z"/><path class=p d="M2771 475l14 15 10 18-14-14z"/><path class=q d="M2757 460l14 15 10 19-14-14z"/><path class=r d="M2743 446l14 14 10 20-14-13z"/><path class=s d="M2729 433l14 13 10 21-14-13z"/><path class=t d="M2715 420l14 13 10 21-14-12z"/><path class=u d="M2701 408l14 12 10 22-14-11z"/><path class=v d="M2686 397l15 11 10 23-14-11z"/><path class=w d="M2672 386l14 11 11 23-15-11z"/><path class=x d="M2658 376l14 10 10 23-14-9z"/><path class=y d="M2644 367l14 9 10 24-14-9z"/><path class=z d="M2616 351l14 7 14 9 10 24-14-8-14-7z"/><path class=za d="M2588 339l14 6 14 6 10 25-14-6-14-5z"/><path class=zb d="M2560 331l14 4 14 4 10 26-14-4-14-4z"/><path class=zc d="M2517 328l15 0 14 1 14 2 10 26-14-2-14-1-15 0z"/><path class=zd d="M2461 341l14-5 14-4 14-3 14-1 10 26-14 2-14 2-14 4-14 5z"/><path class=zc d="M2419 365l14-10 14-8 14-6 10 26-14 7-14 7-14 9z"/><path class=zb d="M2391 387l14-12 14-10 10 25-14 11-14 12z"/><path class=za d="M2362 416l15-15 14-14 10 26-14 13-14 14z"/><path class=z d="M2348 432l14-16 11 24-15 16z"/><path class=y d="M2334 450l14-18 10 24-14 18z"/><path class=x d="M2320 469l14-19 10 24-14 18z"/><path class=w d="M2306 489l14-20 10 23-14 20z"/><path class=v d="M2292 511l14-22 10 23-14 22z"/><path class=u d="M2278 534l14-23 10 23-14 22z"/><path class=t d="M2264 558l14-24 10 22-14 24z"/><path class=r d="M2250 584l14-26 10 22-14 25z"/><path class=q d="M2236 610l14-26 10 21-14 26z"/><path class=p d="M2222 638l14-28 10 21-14 27z"/><path class=n d="M2208 667l14-29 10 20-14 28z"/><path class=l d="M2193 696l15-29 10 19-15 29z"/><path class=k d="M2179 727l14-31 10 19-14 30z"/><path class=i d="M2165 758l14-31 10 18-14 31z"/><path class=g d="M2151 790l14-32 10 18-14 31z"/><path class=f d="M2137 823l14-33 10 17-14 32z"/><path class=d d="M2123 856l14-33 10 16-14 33z"/><path class=b d="M2109 890l14-34 10 16-14 33z"/><path class=a d="M2039 935l14-4 14-4 14-4 14-4 14-29 10 15-14 23-14 4-14 4-14 4-14 4z"/><path class=f d="M2894 618l14 17 10 12-14-16z"/><path class=g d="M2880 601l14 17 10 13-14-16z"/><path class=h d="M2866 585l14 16 10 14-14-16z"/><path class=i d="M2851 569l15 16 10 14-15-15z"/><path class=k d="M2837 553l14 16 10 15-14-15z"/><path class=l d="M2823 538l14 15 10 16-14-14z"/><path class=m d="M2809 523l14 15 10 17-14-14z"/><path class=n d="M2795 508l14 15 10 18-14-14z"/><path class=o d="M2781 494l14 14 10 19-14-14z"/><path class=p d="M2767 480l14 14 10 19-14-13z"/><path class=q d="M2753 467l14 13 10 20-14-12z"/><path class=r d="M2739 454l14 13 10 21-14-12z"/><path class=s d="M2725 442l14 12 10 22-14-12z"/><path class=t d="M2711 431l14 11 10 22-14-11z"/><path class=u d="M2697 420l14 11 10 22-14-10z"/><path class=v d="M2682 409l15 11 10 23-15-10z"/><path class=w d="M2668 400l14 9 10 24-14-9z"/><path class=x d="M2654 391l14 9 10 24-14-8z"/><path class=y d="M2626 376l14 7 14 8 10 25-14-7-14-7z"/><path class=z d="M2598 365l14 5 14 6 10 26-14-6-14-5z"/><path class=za d="M2570 357l14 4 14 4 10 26-14-4-14-3z"/><path class=zb d="M2513 356l14-2 15 0 14 1 14 2 10 27-14-2-14 0-14 0-15 1z"/><path class=zc d="M2471 367l14-5 14-4 14-2 10 27-14 3-14 3-14 6z"/><path class=zb d="M2429 390l14-9 14-7 14-7 10 28-14 6-14 7-14 9z"/><path class=za d="M2401 413l14-12 14-11 10 27-14 10-14 12z"/><path class=z d="M2373 440l14-14 14-13 10 26-14 13-14 14z"/><path class=y d="M2358 456l15-16 10 26-15 16z"/><path class=x d="M2344 474l14-18 10 26-14 16z"/><path class=w d="M2330 492l14-18 10 24-14 19z"/><path class=v d="M2316 512l14-20 10 25-14 19z"/><path class=u d="M2302 534l14-22 10 24-14 21z"/><path class=t d="M2288 556l14-22 10 23-14 22z"/><path class=s d="M2274 580l14-24 10 23-14 23z"/><path class=r d="M2260 605l14-25 10 22-14 24z"/><path class=p d="M2246 631l14-26 10 21-14 26z"/><path class=o d="M2232 658l14-27 10 21-14 26z"/><path class=m d="M2218 686l14-28 10 20-14 27z"/><path class=l d="M2203 715l15-29 10 19-14 29z"/><path class=j d="M2189 745l14-30 11 19-15 29z"/><path class=i d="M2175 776l14-31 10 18-14 30z"/><path class=g d="M2161 807l14-31 10 17-14 30z"/><path class=e d="M2147 839l14-32 10 16-14 31z"/><path class=c d="M2133 872l14-33 10 15-14 32z"/><path class=b d="M2119 905l14-33 10 14-14 32z"/><path class=a d="M2049 944l14-4 14-4 14-4 14-4 14-23 10 13-14 19-14 4-14 4-14 4-14 4z"/><path class=d d="M2918 647l14 16 10 11-14-15z"/><path class=e d="M2904 631l14 16 10 12-14-15z"/><path class=g d="M2890 615l14 16 10 13-14-14z"/><path class=h d="M2876 599l14 16 10 15-14-15z"/><path class=i d="M2861 584l15 15 10 16-14-14z"/><path class=j d="M2847 569l14 15 11 17-15-14z"/><path class=k d="M2833 555l14 14 10 18-14-14z"/><path class=m d="M2819 541l14 14 10 18-14-13z"/><path class=n d="M2805 527l14 14 10 19-14-13z"/><path class=o d="M2791 513l14 14 10 20-14-12z"/><path class=p d="M2777 500l14 13 10 22-14-12z"/><path class=q d="M2763 488l14 12 10 23-14-12z"/><path class=r d="M2749 476l14 12 10 23-14-11z"/><path class=s d="M2735 464l14 12 10 24-14-11z"/><path class=t d="M2707 443l14 10 14 11 10 25-14-10-14-10z"/><path class=u d="M2692 433l15 10 10 26-15-9z"/><path class=v d="M2678 424l14 9 10 27-14-8z"/><path class=w d="M2664 416l14 8 10 28-14-8z"/><path class=x d="M2636 402l14 7 14 7 10 28-14-7-14-6z"/><path class=y d="M2608 391l14 5 14 6 10 29-14-5-14-5z"/><path class=z d="M2580 384l14 3 14 4 10 30-14-3-14-3z"/><path class=za d="M2439 417l14-9 14-7 14-6 14-6 14-3 14-3 15-1 14 0 14 0 14 2 10 31-14-2-14 0-14 0-15 2-14 2-14 4-14 5-14 6-14 7-14 9z"/><path class=z d="M2411 439l14-12 14-10 10 31-14 10-14 11z"/><path class=y d="M2383 466l14-14 14-13 10 30-14 12-14 14z"/><path class=x d="M2368 482l15-16 10 29-14 15z"/><path class=w d="M2354 498l14-16 11 28-15 16z"/><path class=v d="M2340 517l14-19 10 28-14 18z"/><path class=u d="M2326 536l14-19 10 27-14 19z"/><path class=t d="M2312 557l14-21 10 27-14 20z"/><path class=s d="M2298 579l14-22 10 26-14 21z"/><path class=r d="M2284 602l14-23 10 25-14 22z"/><path class=q d="M2270 626l14-24 10 24-14 24z"/><path class=p d="M2256 652l14-26 10 24-14 24z"/><path class=n d="M2242 678l14-26 10 22-14 26z"/><path class=m d="M2228 705l14-27 10 22-14 26z"/><path class=k d="M2214 734l14-29 10 21-14 27z"/><path class=j d="M2199 763l15-29 10 19-15 28z"/><path class=h d="M2185 793l14-30 10 18-14 29z"/><path class=g d="M2171 823l14-30 10 17-14 30z"/><path class=e d="M2157 854l14-31 10 17-14 30z"/><path class=c d="M2143 886l14-32 10 16-14 30z"/><path class=a d="M2059 953l14-4 14-4 14-4 14-4 14-19 14-32 10 14-14 31-14 15-14 4-14 4-14 4-14 5z"/><path class=c d="M2942 674l14 16 10 10-14-14z"/><path class=d d="M2928 659l14 15 10 12-14-14z"/><path class=e d="M2914 644l14 15 10 13-14-14z"/><path class=f d="M2900 630l14 14 10 14-14-13z"/><path class=h d="M2886 615l14 15 10 15-14-14z"/><path class=i d="M2872 601l14 14 10 16-14-13z"/><path class=j d="M2857 587l15 14 10 17-15-13z"/><path class=k d="M2843 573l14 14 10 18-14-12z"/><path class=l d="M2829 560l14 13 10 20-14-12z"/><path class=m d="M2815 547l14 13 10 21-14-12z"/><path class=n d="M2801 535l14 12 10 22-14-12z"/><path class=o d="M2787 523l14 12 10 22-14-11z"/><path class=p d="M2773 511l14 12 10 23-14-11z"/><path class=q d="M2759 500l14 11 10 24-14-10z"/><path class=r d="M2745 489l14 11 10 25-14-10z"/><path class=s d="M2717 469l14 10 14 10 10 26-14-9-14-9z"/><path class=t d="M2702 460l15 9 10 28-14-8z"/><path class=u d="M2688 452l14 8 11 29-15-8z"/><path class=v d="M2660 437l14 7 14 8 10 29-14-7-14-6z"/><path class=w d="M2646 431l14 6 10 31-14-6z"/><path class=x d="M2618 421l14 5 14 5 10 31-14-5-14-4z"/><path class=y d="M2576 413l14 2 14 3 14 3 10 32-14-3-14-2-14-2z"/><path class=z d="M2463 439l14-7 14-6 14-5 14-4 14-2 15-2 14 0 14 0 10 33-14 0-14 0-15 2-14 3-14 3-14 5-14 6-14 7z"/><path class=y d="M2421 469l14-11 14-10 14-9 10 33-14 9-14 9-14 11z"/><path class=x d="M2393 495l14-14 14-12 10 32-14 12-14 13z"/><path class=w d="M2379 510l14-15 10 31-14 14z"/><path class=v d="M2364 526l15-16 10 30-15 16z"/><path class=u d="M2350 544l14-18 10 30-14 17z"/><path class=t d="M2336 563l14-19 10 29-14 18z"/><path class=s d="M2322 583l14-20 10 28-14 19z"/><path class=r d="M2308 604l14-21 10 27-14 21z"/><path class=q d="M2294 626l14-22 10 27-14 21z"/><path class=p d="M2280 650l14-24 10 26-14 22z"/><path class=o d="M2266 674l14-24 10 24-14 24z"/><path class=m d="M2252 700l14-26 10 24-14 24z"/><path class=l d="M2238 726l14-26 10 22-14 26z"/><path class=k d="M2224 753l14-27 10 22-14 26z"/><path class=i d="M2209 781l15-28 10 21-15 27z"/><path class=h d="M2195 810l14-29 10 20-14 27z"/><path class=f d="M2181 840l14-30 10 18-14 29z"/><path class=d d="M2167 870l14-30 10 17-14 28z"/><path class=c d="M2153 900l14-30 10 15-14 30z"/><path class=a d="M2069 963l14-5 14-4 14-4 14-4 14-15 14-31 10 15-14 29-14 12-14 4-14 4-14 4-14 4z"/><path class=c d="M2952 686l14 14 10 10-14-13z"/><path class=d d="M2938 672l14 14 10 11-14-12z"/><path class=e d="M2924 658l14 14 10 13-14-13z"/><path class=f d="M2910 645l14 13 10 14-14-12z"/><path class=g d="M2896 631l14 14 10 15-14-13z"/><path class=h d="M2882 618l14 13 10 16-14-11z"/><path class=i d="M2867 605l15 13 10 18-15-12z"/><path class=j d="M2853 593l14 12 10 19-14-12z"/><path class=k d="M2839 581l14 12 10 19-14-11z"/><path class=l d="M2825 569l14 12 10 20-14-11z"/><path class=m d="M2811 557l14 12 10 21-14-10z"/><path class=n d="M2797 546l14 11 10 23-14-10z"/><path class=o d="M2783 535l14 11 10 24-14-10z"/><path class=p d="M2769 525l14 10 10 25-14-10z"/><path class=q d="M2741 506l14 9 14 10 10 25-14-8-14-9z"/><path class=r d="M2727 497l14 9 10 27-14-8z"/><path class=s d="M2713 489l14 8 10 28-14-8z"/><path class=t d="M2684 474l14 7 15 8 10 28-15-7-14-6z"/><path class=u d="M2670 468l14 6 10 30-14-6z"/><path class=v d="M2642 457l14 5 14 6 10 30-14-5-14-4z"/><path class=w d="M2614 450l14 3 14 4 10 32-14-4-14-3z"/><path class=x d="M2558 446l14 0 14 0 14 2 14 2 10 32-14-2-14-1-14 0-14 1z"/><path class=y d="M2501 459l14-5 14-3 14-3 15-2 10 34-14 1-15 3-14 4-14 4z"/><path class=x d="M2445 490l14-9 14-9 14-7 14-6 10 33-14 6-14 7-14 8-14 9z"/><path class=w d="M2417 513l14-12 14-11 10 32-14 11-14 11z"/><path class=v d="M2389 540l14-14 14-13 10 31-14 13-14 14z"/><path class=u d="M2374 556l15-16 10 31-15 15z"/><path class=t d="M2360 573l14-17 10 30-14 16z"/><path class=s d="M2346 591l14-18 10 29-14 17z"/><path class=r d="M2332 610l14-19 10 28-14 19z"/><path class=q d="M2318 631l14-21 10 28-14 19z"/><path class=p d="M2304 652l14-21 10 26-14 21z"/><path class=o d="M2290 674l14-22 10 26-14 21z"/><path class=n d="M2276 698l14-24 10 25-14 22z"/><path class=m d="M2262 722l14-24 10 23-14 24z"/><path class=k d="M2248 748l14-26 10 23-14 24z"/><path class=j d="M2234 774l14-26 10 21-14 25z"/><path class=i d="M2219 801l15-27 10 20-14 26z"/><path class=g d="M2205 828l14-27 11 19-15 26z"/><path class=f d="M2191 857l14-29 10 18-14 27z"/><path class=d d="M2177 885l14-28 10 16-14 28z"/><path class=c d="M2163 915l14-30 10 16-14 28z"/><path class=a d="M2079 972l14-4 14-4 14-4 14-4 14-12 14-29 10 14-14 28-14 8-14 4-14 4-14 4-14 4z"/><path class=b d="M2976 710l14 13 10 10-14-12z"/><path class=c d="M2962 697l14 13 10 11-14-12z"/><path class=d d="M2948 685l14 12 10 12-14-12z"/><path class=e d="M2934 672l14 13 10 12-14-11z"/><path class=f d="M2920 660l14 12 10 14-14-12z"/><path class=g d="M2906 647l14 13 10 14-14-11z"/><path class=h d="M2892 636l14 11 10 16-14-11z"/><path class=i d="M2877 624l15 12 10 16-14-11z"/><path class=j d="M2849 601l14 11 14 12 11 17-15-10-14-10z"/><path class=k d="M2835 590l14 11 10 20-14-10z"/><path class=l d="M2821 580l14 10 10 21-14-10z"/><path class=m d="M2807 570l14 10 10 21-14-9z"/><path class=n d="M2793 560l14 10 10 22-14-9z"/><path class=o d="M2779 550l14 10 10 23-14-8z"/><path class=p d="M2751 533l14 9 14 8 10 25-14-9-14-7z"/><path class=q d="M2737 525l14 8 10 26-14-8z"/><path class=r d="M2723 517l14 8 10 26-14-7z"/><path class=s d="M2694 504l14 6 15 7 10 27-15-6-14-6z"/><path class=t d="M2666 493l14 5 14 6 10 28-14-5-14-4z"/><path class=u d="M2638 485l14 4 14 4 10 30-14-4-14-3z"/><path class=v d="M2596 479l14 1 14 2 14 3 10 31-14-3-14-2-14-1z"/><path class=w d="M2469 513l14-8 14-7 14-6 14-4 14-4 15-3 14-1 14-1 14 0 10 31-14 0-14 1-14 2-15 3-14 3-14 5-14 6-14 6-14 8z"/><path class=v d="M2441 533l14-11 14-9 10 31-14 9-14 10z"/><path class=u d="M2413 557l14-13 14-11 10 30-14 11-14 12z"/><path class=t d="M2384 586l15-15 14-14 10 29-14 14-14 14z"/><path class=s d="M2370 602l14-16 11 28-15 15z"/><path class=r d="M2356 619l14-17 10 27-14 17z"/><path class=q d="M2342 638l14-19 10 27-14 18z"/><path class=p d="M2328 657l14-19 10 26-14 18z"/><path class=o d="M2314 678l14-21 10 25-14 20z"/><path class=n d="M2300 699l14-21 10 24-14 20z"/><path class=m d="M2286 721l14-22 10 23-14 22z"/><path class=l d="M2272 745l14-24 10 23-14 22z"/><path class=k d="M2258 769l14-24 10 21-14 23z"/><path class=i d="M2244 794l14-25 10 20-14 24z"/><path class=h d="M2230 820l14-26 10 19-14 25z"/><path class=g d="M2215 846l15-26 10 18-15 25z"/><path class=e d="M2201 873l14-27 10 17-14 26z"/><path class=d d="M2187 901l14-28 10 16-14 26z"/><path class=b d="M2173 929l14-28 10 14-14 27z"/><path class=a d="M2089 981l14-4 14-4 14-4 14-4 14-8 14-28 10 13-14 27-14 5-14 4-14 4-14 4-14 4z"/><path class=a d="M2986 721l14 12 10 9-14-11z"/><path class=b d="M2972 709l14 12 10 10-14-11z"/><path class=c d="M2958 697l14 12 10 11-14-11z"/><path class=d d="M2944 686l14 11 10 12-14-10z"/><path class=e d="M2930 674l14 12 10 13-14-11z"/><path class=f d="M2916 663l14 11 10 14-14-10z"/><path class=g d="M2902 652l14 11 10 15-14-10z"/><path class=h d="M2888 641l14 11 10 16-14-10z"/><path class=i d="M2873 631l15 10 10 17-15-9z"/><path class=j d="M2859 621l14 10 10 18-14-10z"/><path class=k d="M2845 611l14 10 10 18-14-9z"/><path class=l d="M2817 592l14 9 14 10 10 19-14-9-14-8z"/><path class=m d="M2803 583l14 9 10 21-14-8z"/><path class=n d="M2789 575l14 8 10 22-14-8z"/><path class=o d="M2761 559l14 7 14 9 10 22-14-8-14-7z"/><path class=p d="M2747 551l14 8 10 23-14-6z"/><path class=q d="M2718 538l15 6 14 7 10 25-14-6-14-6z"/><path class=r d="M2704 532l14 6 11 26-15-5z"/><path class=s d="M2676 523l14 4 14 5 10 27-14-5-14-4z"/><path class=t d="M2634 513l14 3 14 3 14 4 10 27-14-4-14-2-14-2z"/><path class=u d="M2592 510l14 0 14 1 14 2 10 29-14-2-14-1-14 1z"/><path class=v d="M2507 530l14-6 14-5 14-3 15-3 14-2 14-1 10 30-14 1-14 1-15 3-14 4-14 4-14 6z"/><path class=u d="M2451 563l14-10 14-9 14-8 14-6 10 29-14 7-14 7-14 9-14 9z"/><path class=t d="M2423 586l14-12 14-11 10 28-14 11-14 12z"/><path class=s d="M2409 600l14-14 10 28-14 13z"/><path class=r d="M2380 629l15-15 14-14 10 27-14 13-15 15z"/><path class=q d="M2366 646l14-17 10 26-14 16z"/><path class=p d="M2352 664l14-18 10 25-14 17z"/><path class=o d="M2338 682l14-18 10 24-14 18z"/><path class=n d="M2324 702l14-20 10 24-14 19z"/><path class=m d="M2310 722l14-20 10 23-14 19z"/><path class=l d="M2296 744l14-22 10 22-14 21z"/><path class=k d="M2282 766l14-22 10 21-14 21z"/><path class=j d="M2268 789l14-23 10 20-14 22z"/><path class=i d="M2254 813l14-24 10 19-14 23z"/><path class=g d="M2240 838l14-25 10 18-14 24z"/><path class=f d="M2225 863l15-25 10 17-14 24z"/><path class=e d="M2211 889l14-26 11 16-15 25z"/><path class=c d="M2197 915l14-26 10 15-14 25z"/><path class=b d="M2183 942l14-27 10 14-14 25z"/><path class=a d="M2099 990l14-4 14-4 14-4 14-4 14-5 14-27 10 12-14 25-14 4-14 4-14 4-14 4-14 4z"/><path class=a d="M2996 731l14 11 10 9-14-10z"/><path class=b d="M2982 720l14 11 10 10-14-10z"/><path class=c d="M2968 709l14 11 10 11-14-10z"/><path class=d d="M2954 699l14 10 10 12-14-10z"/><path class=e d="M2940 688l14 11 10 12-14-9z"/><path class=f d="M2926 678l14 10 10 14-14-10z"/><path class=g d="M2912 668l14 10 10 14-14-9z"/><path class=h d="M2883 649l15 9 14 10 10 15-14-9-15-9z"/><path class=i d="M2869 639l14 10 10 16-14-8z"/><path class=j d="M2855 630l14 9 10 18-14-9z"/><path class=k d="M2841 621l14 9 10 18-14-8z"/><path class=l d="M2813 605l14 8 14 8 10 19-14-7-14-8z"/><path class=m d="M2799 597l14 8 10 20-14-7z"/><path class=n d="M2785 589l14 8 10 21-14-7z"/><path class=o d="M2757 576l14 6 14 7 10 22-14-6-14-6z"/><path class=p d="M2729 564l14 6 14 6 10 23-14-6-14-5z"/><path class=q d="M2700 554l14 5 15 5 10 24-15-4-14-5z"/><path class=r d="M2672 546l14 4 14 4 10 25-14-3-14-3z"/><path class=s d="M2644 542l14 2 14 2 10 27-14-2-14-2z"/><path class=t d="M2559 545l15-3 14-1 14-1 14-1 14 1 14 2 10 27-14-1-14-1-14 1-14 1-14 2-14 3z"/><path class=u d="M2545 549l14-4 11 29-15 4z"/><path class=t d="M2475 582l14-9 14-7 14-7 14-6 14-4 10 29-14 4-14 6-14 6-14 8-14 8z"/><path class=s d="M2447 602l14-11 14-9 10 28-14 9-14 11z"/><path class=r d="M2419 627l14-13 14-12 10 28-14 11-14 12z"/><path class=q d="M2390 655l15-15 14-13 10 26-14 13-15 15z"/><path class=p d="M2376 671l14-16 10 26-14 15z"/><path class=o d="M2362 688l14-17 10 25-14 16z"/><path class=n d="M2348 706l14-18 10 24-14 17z"/><path class=m d="M2334 725l14-19 10 23-14 18z"/><path class=l d="M2320 744l14-19 10 22-14 19z"/><path class=k d="M2306 765l14-21 10 22-14 19z"/><path class=j d="M2292 786l14-21 10 20-14 21z"/><path class=i d="M2278 808l14-22 10 20-14 21z"/><path class=h d="M2264 831l14-23 10 19-14 22z"/><path class=g d="M2250 855l14-24 10 18-14 22z"/><path class=f d="M2236 879l14-24 10 16-14 23z"/><path class=d d="M2221 904l15-25 10 15-15 23z"/><path class=c d="M2207 929l14-25 10 13-14 24z"/><path class=b d="M2193 954l14-25 10 12-14 25z"/><path class=a d="M2109 999l14-4 14-4 14-4 14-4 14-4 14-25 10 12-14 22-14 4-14 4-14 5-14 4-14 4z"/><path class=a d="M3006 741l14 10 10 9-14-9z"/><path class=b d="M2992 731l14 10 10 10-14-9z"/><path class=c d="M2978 721l14 10 10 11-14-9z"/><path class=d d="M2964 711l14 10 10 12-14-9z"/><path class=e d="M2950 702l14 9 10 13-14-9z"/><path class=f d="M2922 683l14 9 14 10 10 13-14-9-14-8z"/><path class=g d="M2908 674l14 9 10 15-14-8z"/><path class=h d="M2893 665l15 9 10 16-14-8z"/><path class=i d="M2879 657l14 8 11 17-15-8z"/><path class=j d="M2851 640l14 8 14 9 10 17-14-8-14-7z"/><path class=k d="M2837 633l14 7 10 19-14-7z"/><path class=l d="M2809 618l14 7 14 8 10 19-14-7-14-6z"/><path class=m d="M2795 611l14 7 10 21-14-7z"/><path class=n d="M2767 599l14 6 14 6 10 21-14-5-14-6z"/><path class=o d="M2739 588l14 5 14 6 10 22-14-5-14-4z"/><path class=p d="M2710 579l14 5 15 4 10 24-15-4-14-4z"/><path class=q d="M2682 573l14 3 14 3 10 25-14-3-14-3z"/><path class=r d="M2640 568l14 1 14 2 14 2 10 25-14-2-14-1-14-1z"/><path class=s d="M2485 610l14-8 14-8 14-6 14-6 14-4 15-4 14-3 14-2 14-1 14-1 14 1 10 26-14 0-14 1-14 2-14 2-14 3-15 3-14 5-14 6-14 6-14 7-14 8z"/><path class=r d="M2457 630l14-11 14-9 10 27-14 9-14 10z"/><path class=q d="M2429 653l14-12 14-11 10 26-14 11-14 12z"/><path class=p d="M2400 681l15-15 14-13 10 26-14 13-14 13z"/><path class=o d="M2386 696l14-15 11 24-15 15z"/><path class=n d="M2372 712l14-16 10 24-14 15z"/><path class=m d="M2344 747l14-18 14-17 10 23-14 17-14 17z"/><path class=l d="M2330 766l14-19 10 22-14 18z"/><path class=k d="M2316 785l14-19 10 21-14 18z"/><path class=j d="M2302 806l14-21 10 20-14 20z"/><path class=i d="M2288 827l14-21 10 19-14 20z"/><path class=h d="M2274 849l14-22 10 18-14 20z"/><path class=f d="M2260 871l14-22 10 16-14 21z"/><path class=e d="M2246 894l14-23 10 15-14 22z"/><path class=d d="M2231 917l15-23 10 14-15 23z"/><path class=c d="M2217 941l14-24 10 14-14 22z"/><path class=b d="M2203 966l14-25 10 12-14 23z"/><path class=a d="M2119 1009l14-4 14-4 14-5 14-4 14-4 14-22 10 10-14 22-14 4-14 4-14 4-14 4-14 4z"/><path class=a d="M3016 751l14 9 10 9-14-8z"/><path class=b d="M3002 742l14 9 10 10-14-9z"/><path class=c d="M2988 733l14 9 10 10-14-8z"/><path class=d d="M2974 724l14 9 10 11-14-8z"/><path class=e d="M2946 706l14 9 14 9 10 12-14-8-14-8z"/><path class=f d="M2932 698l14 8 10 14-14-8z"/><path class=g d="M2918 690l14 8 10 14-14-7z"/><path class=h d="M2889 674l15 8 14 8 10 15-14-8-15-7z"/><path class=i d="M2875 666l14 8 10 16-14-7z"/><path class=j d="M2847 652l14 7 14 7 10 17-14-6-14-7z"/><path class=k d="M2833 645l14 7 10 18-14-6z"/><path class=l d="M2805 632l14 7 14 6 10 19-14-6-14-5z"/><path class=m d="M2777 621l14 6 14 5 10 21-14-5-14-5z"/><path class=n d="M2763 616l14 5 10 22-14-4z"/><path class=o d="M2734 608l15 4 14 4 10 23-14-4-14-4z"/><path class=p d="M2692 598l14 3 14 3 14 4 11 23-15-3-14-3-14-2z"/><path class=q d="M2650 594l14 1 14 1 14 2 10 25-14-1-14-1-14-1z"/><path class=r d="M2509 629l14-7 14-6 14-6 14-5 15-3 14-3 14-2 14-2 14-1 14 0 10 26-14 1-14 1-14 1-14 3-14 3-15 4-14 4-14 6-14 6-14 7z"/><path class=q d="M2467 656l14-10 14-9 14-8 10 27-14 8-14 9-14 10z"/><path class=p d="M2439 679l14-12 14-11 10 27-14 10-14 11z"/><path class=o d="M2411 705l14-13 14-13 10 25-14 13-14 13z"/><path class=n d="M2396 720l15-15 10 25-15 14z"/><path class=m d="M2368 752l14-17 14-15 10 24-14 14-14 16z"/><path class=l d="M2354 769l14-17 10 22-14 16z"/><path class=k d="M2340 787l14-18 10 21-14 17z"/><path class=j d="M2326 805l14-18 10 20-14 18z"/><path class=i d="M2312 825l14-20 10 20-14 18z"/><path class=h d="M2298 845l14-20 10 18-14 19z"/><path class=g d="M2284 865l14-20 10 17-14 20z"/><path class=f d="M2270 886l14-21 10 17-14 20z"/><path class=e d="M2256 908l14-22 10 16-14 20z"/><path class=d d="M2241 931l15-23 10 14-14 21z"/><path class=c d="M2227 953l14-22 11 12-15 22z"/><path class=b d="M2213 976l14-23 10 12-14 22z"/><path class=a d="M2129 1018l14-4 14-4 14-4 14-4 14-4 14-22 10 11-14 20-14 4-14 4-14 4-14 4-14 4z"/><path class=a d="M3026 761l14 8 10 10-14-8z"/><path class=b d="M3012 752l14 9 10 10-14-8z"/><path class=c d="M2998 744l14 8 10 11-14-8z"/><path class=d d="M2970 728l14 8 14 8 10 11-14-7-14-7z"/><path class=e d="M2956 720l14 8 10 13-14-8z"/><path class=f d="M2928 705l14 7 14 8 10 13-14-7-14-6z"/><path class=g d="M2914 697l14 8 10 15-14-7z"/><path class=h d="M2899 690l15 7 10 16-15-6z"/><path class=i d="M2871 677l14 6 14 7 10 17-14-7-14-6z"/><path class=j d="M2843 664l14 6 14 7 10 17-14-5-14-6z"/><path class=k d="M2829 658l14 6 10 19-14-5z"/><path class=l d="M2801 648l14 5 14 5 10 20-14-5-14-4z"/><path class=m d="M2773 639l14 4 14 5 10 21-14-5-14-4z"/><path class=n d="M2745 631l14 4 14 4 10 21-14-3-14-3z"/><path class=o d="M2702 623l14 2 14 3 15 3 10 23-15-3-14-2-14-1z"/><path class=p d="M2660 620l14 1 14 1 14 1 10 25-14-1-14-1-14 0z"/><path class=q d="M2519 656l14-7 14-6 14-6 14-4 15-4 14-3 14-3 14-1 14-1 14-1 10 26-14 1-14 1-14 2-14 2-14 3-14 4-15 5-14 6-14 6-14 7z"/><path class=p d="M2477 683l14-10 14-9 14-8 10 27-14 7-14 9-14 9z"/><path class=o d="M2449 704l14-11 14-10 10 25-14 11-14 10z"/><path class=n d="M2421 730l14-13 14-13 10 25-14 12-14 13z"/><path class=m d="M2392 758l14-14 15-14 10 24-15 13-14 14z"/><path class=l d="M2378 774l14-16 10 23-14 15z"/><path class=k d="M2364 790l14-16 10 22-14 15z"/><path class=j d="M2350 807l14-17 10 21-14 16z"/><path class=i d="M2322 843l14-18 14-18 10 20-14 17-14 18z"/><path class=h d="M2308 862l14-19 10 19-14 18z"/><path class=g d="M2294 882l14-20 10 18-14 18z"/><path class=f d="M2280 902l14-20 10 16-14 19z"/><path class=e d="M2266 922l14-20 10 15-14 20z"/><path class=d d="M2252 943l14-21 10 15-14 20z"/><path class=c d="M2237 965l15-22 10 14-15 20z"/><path class=a d="M2139 1027l14-4 14-4 14-4 14-4 14-4 14-20 14-22 10 12-14 21-14 18-14 4-14 4-14 4-14 4-14 4z"/><path class=a d="M3036 771l14 8 10 9-14-7z"/><path class=b d="M3022 763l14 8 10 10-14-7z"/><path class=c d="M2994 748l14 7 14 8 10 11-14-7-14-7z"/><path class=d d="M2980 741l14 7 10 12-14-7z"/><path class=e d="M2952 726l14 7 14 8 10 12-14-6-14-6z"/><path class=f d="M2938 720l14 6 10 15-14-7z"/><path class=g d="M2909 707l15 6 14 7 10 14-14-6-14-5z"/><path class=h d="M2895 700l14 7 11 16-15-6z"/><path class=i d="M2867 689l14 5 14 6 10 17-14-5-14-5z"/><path class=j d="M2839 678l14 5 14 6 10 18-14-5-14-5z"/><path class=k d="M2811 669l14 4 14 5 10 19-14-4-14-4z"/><path class=l d="M2783 660l14 4 14 5 10 20-14-4-14-3z"/><path class=m d="M2755 654l14 3 14 3 10 22-14-3-14-2z"/><path class=n d="M2712 648l14 1 14 2 15 3 10 23-15-2-14-2-14-1z"/><path class=o d="M2670 646l14 0 14 1 14 1 10 24-14-1-14 0-14 0z"/><path class=p d="M2529 683l14-7 14-6 14-6 15-5 14-4 14-3 14-2 14-2 14-1 14-1 10 25-14 1-14 2-14 2-14 2-14 4-14 4-15 5-14 5-14 6-14 7z"/><path class=o d="M2487 708l14-9 14-9 14-7 10 26-14 8-14 8-14 9z"/><path class=n d="M2459 729l14-10 14-11 10 26-14 10-14 10z"/><path class=m d="M2431 754l14-13 14-12 10 25-14 12-14 12z"/><path class=l d="M2402 781l14-14 15-13 10 24-14 12-15 14z"/><path class=k d="M2388 796l14-15 10 23-14 14z"/><path class=j d="M2360 827l14-16 14-15 10 22-14 15-14 15z"/><path class=i d="M2346 844l14-17 10 21-14 16z"/><path class=h d="M2332 862l14-18 10 20-14 16z"/><path class=g d="M2318 880l14-18 10 18-14 17z"/><path class=f d="M2304 898l14-18 10 17-14 18z"/><path class=e d="M2290 917l14-19 10 17-14 18z"/><path class=d d="M2276 937l14-20 10 16-14 18z"/><path class=c d="M2262 957l14-20 10 14-14 19z"/><path class=b d="M2247 977l15-20 10 13-15 19z"/><path class=a d="M2149 1036l14-4 14-4 14-4 14-4 14-4 14-18 14-21 10 12-14 20-14 16-14 4-14 4-14 4-14 4-14 4z"/><path class=a d="M3046 781l14 7 10 9-14-6z"/><path class=b d="M3032 774l14 7 10 10-14-7z"/><path class=c d="M3004 760l14 7 14 7 10 10-14-6-14-6z"/><path class=d d="M2976 747l14 6 14 7 10 12-14-6-14-6z"/><path class=e d="M2962 741l14 6 10 13-14-5z"/><path class=f d="M2934 728l14 6 14 7 10 14-14-6-14-5z"/><path class=g d="M2920 723l14 5 10 16-14-5z"/><path class=h d="M2891 712l14 5 15 6 10 16-15-5-14-5z"/><path class=i d="M2863 702l14 5 14 5 10 17-14-4-14-5z"/><path class=j d="M2835 693l14 4 14 5 10 18-14-4-14-3z"/><path class=k d="M2807 685l14 4 14 4 10 20-14-4-14-3z"/><path class=l d="M2779 679l14 3 14 3 10 21-14-3-14-2z"/><path class=m d="M2736 673l14 2 15 2 14 2 10 22-14-2-14-2-15-1z"/><path class=n d="M2680 671l14 0 14 0 14 1 14 1 10 23-14 0-14-1-14 0-14 1z"/><path class=o d="M2553 702l14-6 14-5 15-5 14-4 14-4 14-2 14-2 14-2 14-1 10 25-14 1-14 2-14 3-14 2-14 4-14 4-15 5-14 5-14 6z"/><path class=n d="M2497 734l14-9 14-8 14-8 14-7 10 26-14 7-14 8-14 8-14 9z"/><path class=m d="M2469 754l14-10 14-10 10 26-14 9-14 10z"/><path class=l d="M2441 778l14-12 14-12 10 25-14 11-14 11z"/><path class=k d="M2412 804l15-14 14-12 10 23-14 13-15 12z"/><path class=j d="M2384 833l14-15 14-14 10 22-14 14-14 14z"/><path class=i d="M2370 848l14-15 10 21-14 14z"/><path class=h d="M2356 864l14-16 10 20-14 16z"/><path class=g d="M2328 897l14-17 14-16 10 20-14 15-14 16z"/><path class=f d="M2314 915l14-18 10 18-14 17z"/><path class=e d="M2300 933l14-18 10 17-14 17z"/><path class=d d="M2286 951l14-18 10 16-14 17z"/><path class=c d="M2272 970l14-19 10 15-14 18z"/><path class=b d="M2257 989l15-19 10 14-14 18z"/><path class=a d="M2159 1045l14-4 14-4 14-4 14-4 14-4 14-16 14-20 11 13-15 18-14 15-14 4-14 4-14 4-14 4-14 4z"/><path class=a d="M3056 791l14 6 10 9-14-5z"/><path class=b d="M3028 778l14 6 14 7 10 10-14-6-14-6z"/><path class=c d="M3014 772l14 6 10 11-14-5z"/><path class=d d="M2986 760l14 6 14 6 10 12-14-5-14-6z"/><path class=e d="M2958 749l14 6 14 5 10 13-14-5-14-5z"/><path class=f d="M2944 744l14 5 10 14-14-4z"/><path class=g d="M2915 734l15 5 14 5 10 15-14-5-15-4z"/><path class=h d="M2887 725l14 4 14 5 10 16-14-4-14-4z"/><path class=i d="M2859 716l14 4 14 5 10 17-14-4-14-3z"/><path class=j d="M2831 709l14 4 14 3 10 19-14-3-14-3z"/><path class=k d="M2789 701l14 2 14 3 14 3 10 20-14-3-14-2-14-2z"/><path class=l d="M2746 696l15 1 14 2 14 2 10 21-14-1-14-1-15-1z"/><path class=m d="M2690 696l14-1 14 0 14 1 14 0 10 23-14 0-14 0-14 0-14 1z"/><path class=n d="M2563 728l14-6 14-5 15-5 14-4 14-4 14-2 14-3 14-2 14-1 10 24-14 2-14 2-14 3-14 3-14 3-14 5-14 5-15 5-14 6z"/><path class=m d="M2507 760l14-9 14-8 14-8 14-7 10 26-14 7-14 7-14 8-14 8z"/><path class=l d="M2465 790l14-11 14-10 14-9 10 24-14 10-14 9-14 11z"/><path class=k d="M2437 814l14-13 14-11 10 24-14 11-14 11z"/><path class=j d="M2422 826l15-12 10 22-15 13z"/><path class=i d="M2394 854l14-14 14-14 10 23-14 12-14 14z"/><path class=h d="M2366 884l14-16 14-14 10 21-14 14-14 14z"/><path class=g d="M2352 899l14-15 10 19-14 15z"/><path class=f d="M2338 915l14-16 10 19-14 15z"/><path class=e d="M2310 949l14-17 14-17 10 18-14 16-14 16z"/><path class=d d="M2296 966l14-17 10 16-14 16z"/><path class=c d="M2282 984l14-18 10 15-14 17z"/><path class=b d="M2268 1002l14-18 10 14-14 17z"/><path class=a d="M2169 1055l14-4 14-4 14-4 14-4 14-4 14-15 15-18 10 13-15 17-14 12-14 4-14 4-14 4-14 4-14 4z"/><path class=a d="M3066 801l14 5 10 10-14-6z"/><path class=b d="M3038 789l14 6 14 6 10 9-14-5-14-5z"/><path class=c d="M3010 779l14 5 14 5 10 11-14-4-14-5z"/><path class=d d="M2996 773l14 6 10 12-14-5z"/><path class=e d="M2968 763l14 5 14 5 10 13-14-4-14-4z"/><path class=f d="M2940 754l14 5 14 4 10 15-14-5-14-4z"/><path class=g d="M2911 746l14 4 15 4 10 15-14-3-15-4z"/><path class=h d="M2883 738l14 4 14 4 10 16-14-3-14-3z"/><path class=i d="M2841 729l14 3 14 3 14 3 10 18-14-3-14-3-14-2z"/><path class=j d="M2813 724l14 2 14 3 10 19-14-2-14-2z"/><path class=k d="M2771 720l14 1 14 1 14 2 10 20-14-1-14-1-14-1z"/><path class=l d="M2700 720l14-1 14 0 14 0 14 0 15 1 10 21-15 0-14 0-14 0-14 1-14 2z"/><path class=m d="M2573 754l14-6 15-5 14-5 14-5 14-3 14-3 14-3 14-2 14-2 10 24-14 2-14 2-14 3-14 3-14 4-14 4-14 5-15 5-14 6z"/><path class=l d="M2517 784l14-8 14-8 14-7 14-7 10 24-14 7-14 7-14 8-14 8z"/><path class=k d="M2475 814l14-11 14-9 14-10 10 24-14 9-14 10-14 10z"/><path class=j d="M2447 836l14-11 14-11 10 23-14 10-14 11z"/><path class=i d="M2418 861l14-12 15-13 10 22-14 12-15 12z"/><path class=h d="M2390 889l14-14 14-14 10 21-14 13-14 13z"/><path class=g d="M2376 903l14-14 10 19-14 13z"/><path class=f d="M2348 933l14-15 14-15 10 18-14 14-14 15z"/><path class=e d="M2334 949l14-16 10 17-14 15z"/><path class=d d="M2320 965l14-16 10 16-14 15z"/><path class=c d="M2292 998l14-17 14-16 10 15-14 15-14 16z"/><path class=b d="M2278 1015l14-17 10 13-14 16z"/><path class=a d="M2179 1064l14-4 14-4 14-4 14-4 14-4 14-12 15-17 10 12-15 16-14 10-14 4-14 4-14 4-14 4-14 4z"/><path class=a d="M3076 810l14 6 10 9-14-5z"/><path class=b d="M3048 800l14 5 14 5 10 10-14-4-14-5z"/><path class=c d="M3020 791l14 5 14 4 10 11-14-4-14-4z"/><path class=d d="M2992 782l14 4 14 5 10 12-14-4-14-4z"/><path class=e d="M2964 773l14 5 14 4 10 13-14-4-14-3z"/><path class=f d="M2936 766l14 3 14 4 10 15-14-4-14-3z"/><path class=g d="M2907 759l14 3 15 4 10 15-15-3-14-3z"/><path class=h d="M2865 750l14 3 14 3 14 3 10 16-14-2-14-3-14-2z"/><path class=i d="M2837 746l14 2 14 2 10 18-14-2-14-1z"/><path class=j d="M2795 742l14 1 14 1 14 2 10 19-14-1-14-1-14-1z"/><path class=k d="M2724 742l14-1 14 0 14 0 15 0 14 1 10 20-14 0-14 0-15 0-14 1-14 1z"/><path class=l d="M2569 785l14-7 14-6 15-5 14-5 14-4 14-4 14-3 14-3 14-2 14-2 14-2 10 22-14 2-14 2-14 2-14 3-14 4-14 4-14 4-14 5-15 5-14 6-14 7z"/><path class=k d="M2513 817l14-9 14-8 14-8 14-7 10 23-14 7-14 7-14 8-14 9z"/><path class=j d="M2485 837l14-10 14-10 10 22-14 9-14 10z"/><path class=i d="M2443 870l14-12 14-11 14-10 10 21-14 10-14 10-14 12z"/><path class=h d="M2414 895l14-13 15-12 10 20-15 11-14 12z"/><path class=g d="M2400 908l14-13 10 18-14 13z"/><path class=f d="M2372 935l14-14 14-13 10 18-14 13-14 13z"/><path class=e d="M2358 950l14-15 10 17-14 14z"/><path class=d d="M2330 980l14-15 14-15 10 16-14 14-14 14z"/><path class=c d="M2316 995l14-15 10 14-14 14z"/><path class=b d="M2288 1027l14-16 14-16 10 13-14 15-14 15z"/><path class=a d="M2189 1073l14-4 14-4 14-4 14-4 14-4 14-10 15-16 10 11-14 16-15 8-14 4-14 4-14 4-14 4-14 4z"/><path class=a d="M3086 820l14 5 11 9-15-4z"/><path class=b d="M3058 811l14 5 14 4 10 10-14-4-14-4z"/><path class=c d="M3030 803l14 4 14 4 10 11-14-4-14-3z"/><path class=d d="M3002 795l14 4 14 4 10 12-14-4-14-3z"/><path class=e d="M2960 784l14 4 14 3 14 4 10 13-14-3-14-3-14-3z"/><path class=f d="M2931 778l15 3 14 3 10 15-14-3-15-3z"/><path class=g d="M2903 773l14 2 14 3 10 15-14-2-14-2z"/><path class=h d="M2861 766l14 2 14 2 14 3 10 16-14-2-14-2-14-1z"/><path class=i d="M2819 763l14 1 14 1 14 1 10 18-14-1-14-1-14-1z"/><path class=j d="M2748 763l14-1 15 0 14 0 14 0 14 1 10 18-14 0-14 0-14 0-15 1-14 1z"/><path class=k d="M2565 815l14-7 14-7 14-6 15-5 14-5 14-4 14-4 14-4 14-3 14-2 14-2 14-2 14-1 10 20-14 2-14 2-14 2-14 2-14 4-14 3-14 4-14 5-14 4-14 6-15 6-14 6-14 7z"/><path class=j d="M2523 839l14-9 14-8 14-7 10 21-14 7-14 8-14 8z"/><path class=i d="M2481 868l14-10 14-10 14-9 10 20-14 9-14 9-14 10z"/><path class=h d="M2453 890l14-12 14-10 10 19-14 10-14 11z"/><path class=g d="M2424 913l14-12 15-11 10 18-15 11-14 11z"/><path class=f d="M2396 939l14-13 14-13 10 17-14 12-14 13z"/><path class=e d="M2368 966l14-14 14-13 10 16-14 12-14 13z"/><path class=d d="M2354 980l14-14 10 14-14 13z"/><path class=c d="M2326 1008l14-14 14-14 10 13-14 14-14 14z"/><path class=b d="M2312 1023l14-15 10 13-14 14z"/><path class=a d="M2199 1082l14-4 14-4 14-4 14-4 14-4 15-8 14-16 14-15 10 12-14 14-14 14-15 8-14 4-14 4-14 4-14 4-14 4z"/><path class=a d="M3082 826l14 4 15 4 10 9-15-3-14-4z"/><path class=b d="M3054 818l14 4 14 4 10 10-14-3-14-3z"/><path class=c d="M3026 811l14 4 14 3 10 12-14-3-14-3z"/><path class=d d="M2998 805l14 3 14 3 10 13-14-3-14-3z"/><path class=e d="M2970 799l14 3 14 3 10 13-14-3-14-2z"/><path class=f d="M2927 791l14 2 15 3 14 3 10 14-14-2-14-2-15-2z"/><path class=g d="M2885 785l14 2 14 2 14 2 10 16-14-2-14-2-14-1z"/><path class=h d="M2843 782l14 1 14 1 14 1 10 17-14-1-14-1-14 0z"/><path class=i d="M2787 781l14 0 14 0 14 0 14 1 10 18-14 0-14 0-14 0-14 1z"/><path class=j d="M2561 843l14-7 14-7 14-6 15-6 14-6 14-4 14-5 14-4 14-3 14-4 14-2 14-2 14-2 14-2 14-1 15-1 10 20-15 1-14 1-14 2-14 2-14 2-14 3-14 3-14 4-14 4-14 4-14 5-14 5-15 6-14 6-14 7-14 7z"/><path class=i d="M2519 868l14-9 14-8 14-8 10 20-14 8-14 8-14 8z"/><path class=h d="M2477 897l14-10 14-10 14-9 10 19-14 9-14 9-14 10z"/><path class=g d="M2448 919l15-11 14-11 10 18-14 10-14 11z"/><path class=f d="M2420 942l14-12 14-11 11 17-15 11-14 11z"/><path class=e d="M2392 967l14-12 14-13 10 16-14 12-14 12z"/><path class=d d="M2364 993l14-13 14-13 10 15-14 12-14 12z"/><path class=c d="M2336 1021l14-14 14-14 10 13-14 13-14 13z"/><path class=b d="M2322 1035l14-14 10 11-14 14z"/><path class=a d="M2209 1091l14-4 14-4 14-4 14-4 14-4 15-8 14-14 14-14 10 11-14 13-14 14-15 8-14 4-14 4-14 4-14 4-14 4z"/><path class=a d="M3092 836l14 4 15 3 10 9-14-3-15-3z"/><path class=b d="M3064 830l14 3 14 3 10 10-14-2-14-3z"/><path class=c d="M3036 824l14 3 14 3 10 11-14-3-14-2z"/><path class=d d="M2994 815l14 3 14 3 14 3 10 12-14-3-14-2-14-2z"/><path class=e d="M2966 811l14 2 14 2 10 14-14-2-14-2z"/><path class=f d="M2923 805l14 2 15 2 14 2 10 14-14-2-15-1-14-2z"/><path class=g d="M2881 801l14 1 14 1 14 2 10 15-14-1-14-1-14 0z"/><path class=h d="M2825 800l14 0 14 0 14 0 14 1 10 17-14-1-14 0-14 0-14 0z"/><path class=i d="M2740 807l14-2 14-2 14-1 15-1 14-1 14 0 10 17-14 1-14 1-14 1-15 2-14 2-14 2z"/><path class=j d="M2628 837l14-5 14-5 14-4 14-4 14-4 14-3 14-3 14-2 10 19-14 2-14 3-14 4-14 3-14 4-14 5-14 5-14 5z"/><path class=i d="M2557 871l14-8 14-7 14-7 14-6 15-6 10 20-15 6-14 6-14 6-14 7-14 8z"/><path class=h d="M2501 905l14-9 14-9 14-8 14-8 10 19-14 7-14 8-14 9-14 9z"/><path class=g d="M2473 925l14-10 14-10 10 18-14 9-14 10z"/><path class=f d="M2430 958l14-11 15-11 14-11 10 17-14 10-15 10-14 11z"/><path class=e d="M2402 982l14-12 14-12 10 15-14 11-14 12z"/><path class=d d="M2374 1006l14-12 14-12 10 14-14 11-14 12z"/><path class=c d="M2360 1019l14-13 10 13-14 12z"/><path class=b d="M2332 1046l14-14 14-13 10 12-14 13-14 12z"/><path class=a d="M2219 1101l14-4 14-4 14-4 14-4 14-4 15-8 14-14 14-13 10 10-14 13-14 13-14 8-15 4-14 4-14 4-14 4-14 4z"/><path class=a d="M3102 846l15 3 14 3 10 10-14-3-15-2z"/><path class=b d="M3074 841l14 3 14 2 10 11-14-3-14-2z"/><path class=c d="M3032 833l14 3 14 2 14 3 10 11-14-2-14-3-14-2z"/><path class=d d="M3004 829l14 2 14 2 10 12-14-1-14-2z"/><path class=e d="M2962 823l14 2 14 2 14 2 10 13-14-2-14-1-14-2z"/><path class=f d="M2919 819l14 1 14 2 15 1 10 14-14-1-15-1-14 0z"/><path class=g d="M2863 817l14 0 14 1 14 0 14 1 10 16-14-1-14 0-14 0-14 0z"/><path class=h d="M2793 820l14-1 14-1 14-1 14 0 14 0 10 17-14 0-14 1-14 1-14 1-14 1z"/><path class=i d="M2609 869l14-6 15-6 14-5 14-5 14-5 14-4 14-3 14-4 14-3 14-2 14-2 14-2 15-2 10 18-15 2-14 2-14 2-14 3-14 3-14 4-14 3-14 4-14 5-14 5-14 5-14 5-15 6z"/><path class=h d="M2539 905l14-8 14-7 14-8 14-7 14-6 10 18-14 7-14 7-14 7-14 7-14 8z"/><path class=g d="M2497 932l14-9 14-9 14-9 10 18-14 8-14 9-14 9z"/><path class=f d="M2454 962l15-10 14-10 14-10 10 17-14 9-14 10-15 10z"/><path class=e d="M2426 984l14-11 14-11 10 16-14 10-14 10z"/><path class=d d="M2398 1007l14-11 14-12 10 14-14 11-14 11z"/><path class=c d="M2370 1031l14-12 14-12 10 13-14 11-14 12z"/><path class=b d="M2342 1056l14-12 14-13 10 12-14 11-14 12z"/><path class=a d="M2229 1110l14-4 14-4 14-4 14-4 15-4 14-8 14-13 14-13 10 10-14 12-14 12-14 9-15 4-14 4-14 4-14 4-14 4z"/><path class=a d="M3112 857l15 2 14 3 10 9-14-2-15-2z"/><path class=b d="M3070 850l14 2 14 2 14 3 10 10-14-2-14-2-14-2z"/><path class=c d="M3042 845l14 2 14 3 10 11-14-2-14-2z"/><path class=d d="M3000 840l14 2 14 2 14 1 10 12-14-1-14-1-14-2z"/><path class=e d="M2958 836l14 1 14 2 14 1 10 13-14-1-14-1-14-1z"/><path class=f d="M2901 834l14 0 14 1 14 0 15 1 10 14-15 0-14-1-14 0-14 0z"/><path class=g d="M2845 835l14-1 14 0 14 0 14 0 10 15-14 0-14 1-14 0-14 1z"/><path class=h d="M2577 908l14-7 14-7 14-7 15-6 14-5 14-5 14-5 14-5 14-4 14-3 14-4 14-3 14-3 14-2 14-2 15-2 14-1 14-1 14-1 10 16-14 1-14 2-14 1-14 2-15 2-14 3-14 3-14 3-14 3-14 4-14 4-14 5-14 5-14 5-14 5-15 6-14 7-14 6-14 7z"/><path class=g d="M2521 940l14-9 14-8 14-8 14-7 10 17-14 7-14 8-14 8-14 8z"/><path class=f d="M2479 968l14-10 14-9 14-9 10 16-14 9-14 8-14 10z"/><path class=e d="M2450 988l14-10 15-10 10 15-14 9-15 10z"/><path class=d d="M2408 1020l14-11 14-11 14-10 10 14-14 10-14 10-14 11z"/><path class=c d="M2380 1043l14-12 14-11 10 13-14 10-14 11z"/><path class=b d="M2352 1066l14-12 14-11 10 11-14 11-14 12z"/><path class=a d="M2239 1119l14-4 14-4 14-4 14-4 15-4 14-9 14-12 14-12 10 11-14 11-14 11-14 9-15 4-14 4-14 4-14 4-14 4z"/><path class=a d="M3122 867l15 2 14 2 10 9-14-2-14-1z"/><path class=b d="M3080 861l14 2 14 2 14 2 11 10-15-2-14-2-14-1z"/><path class=c d="M3038 856l14 1 14 2 14 2 10 11-14-2-14-1-14-1z"/><path class=d d="M2996 852l14 1 14 2 14 1 10 12-14-1-14-1-14-1z"/><path class=e d="M2953 850l15 0 14 1 14 1 10 13-14 0-14-1-15 0z"/><path class=f d="M2883 850l14-1 14 0 14 0 14 0 14 1 10 14-14 0-14 0-14 0-14 0-14 1z"/><path class=g d="M2813 855l14-1 14-2 14-1 14-1 14 0 10 15-14 1-14 1-14 1-14 2-14 2z"/><path class=h d="M2629 905l15-6 14-5 14-5 14-5 14-5 14-4 14-4 14-3 14-3 14-3 14-3 15-2 14-2 10 17-14 2-15 2-14 3-14 3-14 3-14 4-14 4-14 4-14 4-14 5-14 5-14 6-14 6z"/><path class=g d="M2559 940l14-8 14-7 14-7 14-6 14-7 11 18-15 6-14 6-14 7-14 7-14 7z"/><path class=f d="M2503 973l14-8 14-9 14-8 14-8 10 16-14 8-14 8-14 8-14 9z"/><path class=e d="M2460 1002l15-10 14-9 14-10 10 16-14 8-14 9-15 10z"/><path class=d d="M2432 1022l14-10 14-10 10 14-14 9-14 10z"/><path class=c d="M2390 1054l14-11 14-10 14-11 10 13-14 10-14 10-14 11z"/><path class=b d="M2362 1077l14-12 14-11 10 12-14 10-14 11z"/><path class=a d="M2249 1128l14-4 14-4 14-4 14-4 15-4 14-9 14-11 14-11 10 10-14 11-14 10-14 9-14 4-15 4-14 4-14 4-14 5z"/><path class=a d="M3133 877l14 1 14 2 10 9-14-1-14-2z"/><path class=b d="M3090 872l14 1 14 2 15 2 10 9-15-1-14-1-14-1z"/><path class=c d="M3048 868l14 1 14 1 14 2 10 11-14-1-14-1-14-1z"/><path class=d d="M2992 865l14 0 14 1 14 1 14 1 10 12-14-1-14-1-14 0-14 0z"/><path class=e d="M2935 864l14 0 14 0 15 0 14 1 10 13-14-1-14 0-15 1-14 0z"/><path class=f d="M2865 867l14-1 14-1 14-1 14 0 14 0 10 14-14 0-14 1-14 1-14 1-14 1z"/><path class=g d="M2597 942l14-7 14-6 15-6 14-6 14-6 14-5 14-5 14-4 14-4 14-4 14-4 14-3 14-3 14-3 15-2 14-2 14-2 14-2 14-1 10 15-14 2-14 2-14 2-14 2-15 3-14 2-14 4-14 3-14 4-14 3-14 5-14 4-14 5-14 5-14 6-14 5-15 6-14 6-14 7z"/><path class=f d="M2541 972l14-8 14-8 14-7 14-7 10 16-14 7-14 7-14 7-14 8z"/><path class=e d="M2485 1006l14-9 14-8 14-9 14-8 10 15-14 8-14 8-14 9-14 8z"/><path class=d d="M2442 1035l14-10 14-9 15-10 10 14-15 9-14 9-14 10z"/><path class=c d="M2414 1055l14-10 14-10 10 13-14 9-14 10z"/><path class=b d="M2372 1087l14-11 14-10 14-11 10 12-14 10-14 10-14 10z"/><path class=a d="M2259 1138l14-5 14-4 14-4 15-4 14-4 14-9 14-10 14-11 10 10-14 10-14 10-14 10-14 4-15 4-14 4-14 4-14 4z"/><path class=a d="M3128 885l15 1 14 2 14 1 10 9-14-1-14-1-15-1z"/><path class=b d="M3086 882l14 1 14 1 14 1 10 10-14-1-14 0-14-1z"/><path class=c d="M3044 879l14 1 14 1 14 1 10 11-14-1-14-1-14 0z"/><path class=d d="M2988 877l14 1 14 0 14 0 14 1 10 12-14 0-14-1-14 0-14 0z"/><path class=e d="M2931 878l14 0 14 0 15-1 14 0 10 13-14 1-15 0-14 1-14 0z"/><path class=f d="M2847 886l14-2 14-2 14-1 14-1 14-1 14-1 10 14-14 1-14 1-14 2-14 1-14 2-14 2z"/><path class=g d="M2650 939l14-5 14-6 14-5 14-5 14-4 14-5 14-3 14-4 14-3 14-4 14-2 15-3 14-2 14-2 10 15-14 2-14 3-14 2-15 3-14 4-14 3-14 4-14 4-14 4-14 5-14 4-14 5-14 6-14 5z"/><path class=f d="M2565 979l14-7 14-7 14-7 14-7 14-6 15-6 10 16-15 6-14 6-14 7-14 6-14 7-14 8z"/><path class=e d="M2509 1012l14-9 14-8 14-8 14-8 10 16-14 7-14 8-14 8-14 8z"/><path class=d d="M2466 1038l14-9 15-9 14-8 10 14-14 8-14 8-15 9z"/><path class=c d="M2424 1067l14-10 14-9 14-10 10 13-14 9-14 9-14 9z"/><path class=b d="M2382 1097l14-10 14-10 14-10 10 11-14 10-14 9-14 10z"/><path class=a d="M2269 1147l14-4 14-4 14-4 15-4 14-4 14-10 14-10 14-10 10 10-14 9-14 10-14 10-14 4-15 4-14 4-14 4-14 4z"/><path class=a d="M3138 895l15 1 14 1 14 1 10 10-14-1-14-1-14-1z"/><path class=b d="M3096 893l14 1 14 0 14 1 11 10-15 0-14-1-14 0z"/><path class=c d="M3040 891l14 0 14 0 14 1 14 1 10 11-14-1-14 0-14 0-14 0z"/><path class=d d="M2984 891l14-1 14 0 14 0 14 1 10 12-14 0-14 0-14 0-14 1z"/><path class=e d="M2913 894l14-1 14-1 14 0 14-1 15 0 10 13-15 0-14 1-14 1-14 1-14 1z"/><path class=f d="M2603 980l14-6 14-7 14-6 15-6 14-5 14-6 14-5 14-4 14-5 14-4 14-4 14-4 14-3 14-4 15-3 14-2 14-3 14-2 14-2 14-2 14-1 14-2 10 14-14 2-14 2-14 2-14 2-14 2-14 3-14 3-15 3-14 3-14 4-14 3-14 4-14 5-14 4-14 5-14 5-14 5-14 6-14 6-15 6-14 6-14 7z"/><path class=e d="M2533 1018l14-8 14-8 14-7 14-8 14-7 10 16-14 6-14 7-14 7-14 8-14 7z"/><path class=d d="M2491 1042l14-8 14-8 14-8 10 13-14 8-14 8-14 8z"/><path class=c d="M2434 1078l14-9 14-9 14-9 15-9 10 13-15 9-14 8-14 9-14 9z"/><path class=b d="M2392 1107l14-10 14-9 14-10 10 12-14 9-14 9-14 9z"/><path class=a d="M2279 1156l14-4 14-4 14-4 15-4 14-4 14-10 14-10 14-9 10 10-14 9-14 9-14 9-14 5-14 4-15 4-14 4-14 4z"/><path class=a d="M3149 905l14 1 14 1 14 1 10 9-14-1-14 0-14-1z"/><path class=b d="M3106 904l14 0 14 1 15 0 10 10-15 0-14 0-14-1z"/><path class=c d="M3050 903l14 0 14 0 14 0 14 1 10 10-14 0-14 0-14 0-14 0z"/><path class=d d="M2979 904l15 0 14-1 14 0 14 0 14 0 10 11-14 0-14 1-14 0-14 1-14 1z"/><path class=e d="M2895 912l14-2 14-2 14-1 14-1 14-1 14-1 11 13-15 1-14 1-14 1-14 2-14 1-14 2z"/><path class=f d="M2641 983l15-6 14-6 14-6 14-5 14-5 14-5 14-4 14-5 14-4 14-3 14-4 14-3 15-3 14-3 14-3 14-2 14-2 14-2 10 13-14 3-14 2-14 2-14 3-14 3-15 3-14 4-14 3-14 4-14 4-14 5-14 4-14 5-14 5-14 5-14 6-14 6-15 5z"/><path class=e d="M2571 1016l14-7 14-7 14-6 14-7 14-6 10 14-14 7-14 6-14 7-14 6-14 7z"/><path class=d d="M2501 1055l14-8 14-8 14-8 14-7 14-8 10 14-14 8-14 7-14 7-14 8-14 8z"/><path class=c d="M2458 1081l14-9 14-8 15-9 10 13-14 8-15 8-14 8z"/><path class=b d="M2402 1117l14-9 14-9 14-9 14-9 10 11-14 9-14 8-14 9-14 9z"/><path class=a d="M2289 1165l14-4 14-4 15-4 14-4 14-5 14-9 14-9 14-9 10 10-14 8-14 9-14 9-14 5-14 4-15 4-14 4-14 4z"/><path class=a d="M3159 915l14 1 14 0 14 1 10 9-14 0-14-1-14 0z"/><path class=b d="M3102 914l14 0 14 1 14 0 15 0 10 10-15 0-14 0-14 0-14 0z"/><path class=c d="M3046 914l14 0 14 0 14 0 14 0 10 11-14 0-14 0-14 0-14 1z"/><path class=d d="M2975 918l15-1 14-1 14-1 14 0 14-1 10 12-14 0-14 1-14 1-14 1-15 1z"/><path class=e d="M2863 932l14-2 14-2 14-3 14-2 14-1 14-2 14-1 14-1 10 12-14 1-14 2-14 2-14 2-14 2-14 2-14 2-14 3z"/><path class=f d="M2708 975l14-5 14-5 14-4 14-5 14-4 14-4 14-3 14-4 15-3 14-3 14-3 10 14-14 3-14 3-14 3-15 4-14 4-14 3-14 5-14 4-14 5-14 4-14 6z"/><path class=e d="M2595 1023l14-6 14-7 14-6 14-7 15-5 14-6 14-6 14-5 10 15-14 5-14 5-14 6-15 6-14 6-14 6-14 7-14 6z"/><path class=d d="M2525 1060l14-8 14-7 14-7 14-8 14-7 10 14-14 7-14 7-14 7-14 7-14 8z"/><path class=c d="M2468 1092l14-8 15-8 14-8 14-8 10 13-14 8-14 7-15 8-14 8z"/><path class=b d="M2426 1118l14-9 14-8 14-9 10 12-14 8-14 8-14 9z"/><path class=a d="M2299 1174l14-4 14-4 15-4 14-4 14-5 14-9 14-9 14-8 14-9 10 11-14 8-14 8-14 9-14 8-14 5-14 4-14 5-15 4-14 4z"/><path class=a d="M3169 925l14 0 14 1 14 0 10 9-14 0-14 0-14 0z"/><path class=b d="M3112 925l14 0 14 0 14 0 15 0 10 10-14 0-15 0-14 0-14 0z"/><path class=c d="M3042 926l14 0 14-1 14 0 14 0 14 0 10 10-14 0-14 1-14 0-14 1-14 1z"/><path class=d d="M2971 931l14-1 15-1 14-1 14-1 14-1 10 12-14 1-14 1-14 1-15 1-14 2z"/><path class=e d="M2633 1024l14-6 14-6 15-6 14-6 14-5 14-5 14-6 14-4 14-5 14-4 14-5 14-3 14-4 15-4 14-3 14-3 14-3 14-3 14-2 14-2 14-2 14-2 14-2 14-2 10 13-14 1-14 2-14 2-14 2-14 3-14 2-14 3-14 3-14 4-14 3-15 4-14 3-14 4-14 5-14 4-14 5-14 5-14 5-14 5-14 5-14 6-14 6-15 6-14 6z"/><path class=d d="M2549 1065l14-7 14-7 14-7 14-7 14-6 14-7 10 14-14 6-14 7-14 7-14 6-14 7-14 7z"/><path class=c d="M2492 1096l15-8 14-7 14-8 14-8 10 13-14 8-14 7-14 7-15 8z"/><path class=b d="M2436 1129l14-9 14-8 14-8 14-8 10 12-14 8-14 7-14 8-14 8z"/><path class=a d="M2309 1184l14-4 15-4 14-5 14-4 14-5 14-8 14-9 14-8 14-8 10 10-14 8-14 8-14 8-14 8-14 6-14 4-14 4-15 4-14 4z"/><path class=a d="M3179 935l14 0 14 0 14 0 10 9-14 0-14 1-14 0z"/><path class=b d="M3108 935l14 0 14 0 14 0 15 0 14 0 10 10-14 0-15 0-14 0-14 1-14 0z"/><path class=c d="M3052 938l14-1 14-1 14 0 14-1 10 11-14 0-14 1-14 1-14 1z"/><path class=d d="M2953 947l14-2 14-1 14-2 15-1 14-1 14-1 14-1 10 11-14 1-14 1-14 1-14 2-15 2-14 1-14 2z"/><path class=e d="M2672 1026l14-6 14-6 14-5 14-5 14-5 14-5 14-5 14-4 14-5 14-4 14-3 15-4 14-3 14-4 14-3 14-3 14-2 14-3 14-2 14-2 10 12-14 3-14 2-14 2-14 3-14 3-14 3-14 4-14 3-15 4-14 4-14 4-14 4-14 5-14 4-14 5-14 5-14 6-14 5-14 6-14 5z"/><path class=d d="M2573 1071l14-7 14-6 14-7 14-7 14-6 14-6 15-6 10 13-15 6-14 6-14 7-14 6-14 7-14 6-14 7z"/><path class=c d="M2517 1100l14-7 14-7 14-8 14-7 10 13-14 7-14 7-14 7-14 7z"/><path class=b d="M2446 1139l14-8 14-8 14-7 14-8 15-8 10 12-14 8-15 7-14 8-14 7-14 8z"/><path class=a d="M2319 1193l14-4 15-4 14-4 14-4 14-6 14-8 14-8 14-8 14-8 10 11-14 7-14 8-14 8-14 7-14 6-14 4-14 4-15 4-14 4z"/><path class=a d="M3175 945l14 0 14 0 14-1 14 0 10 10-14 0-14 0-14 0-14 1z"/><path class=b d="M3118 946l14 0 14-1 14 0 15 0 10 10-15 0-14 0-14 1-14 0z"/><path class=c d="M3048 950l14-1 14-1 14-1 14-1 14 0 10 10-14 1-14 1-14 1-14 1-14 1z"/><path class=d d="M2935 964l14-2 14-3 14-2 14-1 15-2 14-2 14-1 14-1 10 11-14 1-14 2-14 1-15 2-14 2-14 2-14 3-14 2z"/><path class=e d="M2710 1028l14-5 14-6 14-5 14-5 14-4 14-5 14-4 14-4 14-4 15-4 14-3 14-4 14-3 14-3 14-3 14-2 10 12-14 3-14 3-14 3-14 3-14 3-14 4-14 4-15 4-14 4-14 4-14 5-14 5-14 4-14 6-14 5-14 5z"/><path class=d d="M2611 1071l14-7 14-6 14-7 14-6 15-6 14-5 14-6 10 13-14 6-14 6-15 5-14 6-14 7-14 6-14 6z"/><path class=c d="M2527 1112l14-7 14-7 14-7 14-7 14-7 14-6 10 12-14 7-14 6-14 7-14 7-14 7-14 7z"/><path class=b d="M2470 1142l14-7 14-8 15-7 14-8 10 12-14 7-15 7-14 7-14 8z"/><path class=a d="M2329 1202l14-4 15-4 14-4 14-4 14-6 14-7 14-8 14-8 14-7 14-8 10 11-14 7-14 7-14 8-14 7-14 8-14 5-14 4-14 4-14 4-15 4z"/><path class=a d="M3185 955l14-1 14 0 14 0 14 0 10 9-14 0-14 1-14 0-14 0z"/><path class=b d="M3128 956l14 0 14-1 14 0 15 0 10 9-14 1-15 0-14 1-14 1z"/><path class=c d="M3044 962l14-1 14-1 14-1 14-1 14-1 14-1 10 11-14 0-14 1-14 1-14 2-14 1-14 1z"/><path class=d d="M2917 982l14-3 14-3 14-2 14-3 14-2 14-2 15-2 14-1 14-2 10 11-14 2-14 2-15 2-14 2-14 2-14 2-14 3-14 3-14 3z"/><path class=e d="M2776 1021l14-5 14-5 14-4 14-4 15-4 14-4 14-4 14-3 14-3 14-3 10 12-14 3-14 3-14 4-14 3-14 4-15 4-14 4-14 5-14 4-14 5z"/><path class=d d="M2635 1077l14-6 14-7 14-6 15-5 14-6 14-6 14-5 14-5 14-6 14-4 10 12-14 5-14 5-14 5-14 6-14 5-14 6-14 6-15 6-14 6-14 6z"/><path class=c d="M2551 1117l14-7 14-7 14-7 14-6 14-7 14-6 10 12-14 6-14 6-14 7-14 7-14 6-14 7z"/><path class=b d="M2480 1153l14-8 14-7 15-7 14-7 14-7 10 11-14 7-14 7-15 7-14 7-14 7z"/><path class=a d="M2339 1211l15-4 14-4 14-4 14-4 14-5 14-8 14-7 14-8 14-7 14-7 10 10-14 7-14 7-14 7-14 7-14 7-14 6-14 4-14 4-14 4-15 4z"/><path class=a d="M3195 964l14 0 14 0 14-1 14 0 10 9-14 1-14 0-14 0-14 1z"/><path class=b d="M3124 967l14 0 14-1 14-1 15 0 14-1 10 10-14 1-15 0-14 1-14 1-14 1z"/><path class=c d="M3040 975l14-2 14-1 14-1 14-2 14-1 14-1 10 11-14 1-14 1-14 1-14 2-14 1-14 2z"/><path class=d d="M2659 1083l14-6 15-6 14-6 14-6 14-5 14-6 14-5 14-5 14-5 14-5 14-4 14-5 14-4 15-4 14-4 14-3 14-4 14-3 14-3 14-3 14-3 14-3 14-2 14-2 14-2 15-2 14-2 10 11-14 2-14 2-15 2-14 2-14 3-14 2-14 3-14 3-14 4-14 3-14 3-14 4-14 4-15 4-14 4-14 5-14 4-14 5-14 5-14 5-14 5-14 6-14 5-14 6-14 5-15 6-14 6z"/><path class=c d="M2575 1121l14-6 14-7 14-7 14-6 14-6 14-6 10 11-14 6-14 6-14 7-14 6-14 7-14 6z"/><path class=b d="M2490 1163l14-7 14-7 15-7 14-7 14-7 14-7 10 11-14 7-14 6-14 7-14 7-15 7-14 6z"/><path class=a d="M2349 1220l15-4 14-4 14-4 14-4 14-6 14-7 14-7 14-7 14-7 14-7 10 9-14 7-14 7-14 7-14 7-14 7-14 7-14 4-14 4-14 4-15 4z"/><path class=a d="M3205 974l14-1 14 0 14 0 14-1 10 9-14 1-14 0-14 1-14 1z"/><path class=b d="M3134 978l14-1 14-1 14-1 15 0 14-1 10 10-14 0-15 1-14 1-14 1-14 1z"/><path class=c d="M3036 988l14-2 14-2 14-1 14-2 14-1 14-1 14-1 10 10-14 1-14 1-14 2-14 1-14 2-14 2-14 2z"/><path class=d d="M2683 1088l15-6 14-5 14-6 14-5 14-6 14-5 14-5 14-5 14-5 14-4 14-5 14-4 15-4 14-4 14-4 14-3 14-3 14-4 14-3 14-3 14-2 14-3 14-2 15-2 14-2 10 11-14 2-15 2-14 2-14 3-14 3-14 3-14 3-14 3-14 3-14 4-14 4-14 4-14 4-15 4-14 4-14 5-14 5-14 5-14 5-14 5-14 5-14 6-14 5-14 6-15 6z"/><path class=c d="M2585 1132l14-6 14-7 14-6 14-7 14-6 14-6 14-6 10 12-14 5-14 6-14 6-14 7-14 6-14 6-14 7z"/><path class=b d="M2500 1172l14-6 15-7 14-7 14-7 14-6 14-7 10 11-14 6-14 7-14 6-14 7-15 6-14 7z"/><path class=a d="M2359 1230l15-4 14-4 14-4 14-4 14-7 14-7 14-7 14-7 14-7 14-7 10 10-14 7-14 7-14 6-14 7-14 7-14 7-14 4-14 4-14 4-14 4z"/><path class=a d="M3215 984l14-1 14-1 14 0 14-1 10 10-14 0-14 1-14 1-14 0z"/><path class=b d="M3130 989l14-1 14-1 14-1 14-1 15-1 14 0 10 9-14 1-14 1-15 1-14 1-14 1-14 1z"/><path class=c d="M3046 999l14-2 14-2 14-2 14-1 14-2 14-1 10 10-14 2-14 1-14 2-14 2-14 2-14 2z"/><path class=d d="M2722 1088l14-5 14-6 14-5 14-5 14-5 14-5 14-5 14-5 14-4 15-4 14-4 14-4 14-4 14-4 14-3 14-3 14-3 14-3 14-3 14-3 14-2 15-2 14-2 10 11-14 2-15 2-14 2-14 3-14 3-14 3-14 3-14 3-14 4-14 3-14 4-14 4-14 4-15 4-14 5-14 4-14 5-14 5-14 5-14 5-14 5-14 6-14 5z"/><path class=c d="M2609 1136l14-6 14-6 14-7 14-6 14-6 14-5 15-6 14-6 10 11-14 6-14 6-15 5-14 6-14 6-14 6-14 6-14 7z"/><path class=b d="M2510 1182l14-7 15-6 14-7 14-6 14-7 14-6 14-7 10 11-14 6-14 6-14 7-14 6-14 7-15 6-14 7z"/><path class=a d="M2370 1239l14-4 14-4 14-4 14-4 14-7 14-7 14-7 14-6 14-7 14-7 10 10-14 6-14 7-14 6-14 7-14 7-14 6-14 5-14 4-14 4-14 4z"/><path class=a d="M3225 993l14 0 14-1 14-1 14 0 10 9-14 1-14 0-14 1-14 1z"/><path class=b d="M3140 999l14-1 14-1 14-1 15-1 14-1 14-1 10 10-14 1-14 1-15 1-14 1-14 1-14 2z"/><path class=c d="M3042 1012l14-2 14-2 14-2 14-2 14-2 14-1 14-2 10 11-14 1-14 2-14 1-14 2-14 2-14 2-14 2z"/><path class=d d="M2746 1094l14-6 14-5 14-5 14-5 14-5 14-5 14-4 14-5 15-4 14-4 14-4 14-4 14-3 14-4 14-3 14-3 14-3 14-3 14-3 14-2 15-2 10 10-14 3-15 2-14 3-14 3-14 3-14 3-14 3-14 4-14 3-14 4-14 4-14 4-15 5-14 4-14 5-14 4-14 5-14 5-14 5-14 5-14 6z"/><path class=c d="M2619 1147l14-7 14-6 14-6 14-6 14-6 15-5 14-6 14-6 14-5 10 11-14 5-14 6-14 5-15 6-14 6-14 6-14 6-14 6-14 6z"/><path class=b d="M2534 1185l15-6 14-7 14-6 14-7 14-6 14-6 10 10-14 6-14 6-14 7-14 6-14 6-14 7z"/><path class=a d="M2380 1248l14-4 14-4 14-4 14-5 14-6 14-7 14-7 14-6 14-7 14-6 14-7 11 10-15 6-14 6-14 7-14 6-14 7-14 6-14 7-14 5-14 4-14 4-14 4z"/><path class=a d="M3221 1004l14-1 14-1 14-1 14 0 14-1 10 9-14 1-14 1-14 1-14 1-14 1z"/><path class=b d="M3150 1010l14-2 14-1 14-1 15-1 14-1 10 10-14 1-15 1-14 1-14 1-14 2z"/><path class=c d="M3038 1025l14-3 14-2 14-2 14-2 14-2 14-1 14-2 14-1 10 10-14 1-14 2-14 2-14 1-14 2-14 3-14 2-14 2z"/><path class=d d="M2770 1099l14-5 14-5 14-5 14-5 14-4 14-5 14-4 15-5 14-4 14-4 14-4 14-3 14-4 14-3 14-3 14-3 14-3 14-3 15-2 10 10-15 3-14 3-14 3-14 3-14 3-14 3-14 4-14 3-14 4-14 4-14 4-14 5-15 4-14 5-14 4-14 5-14 5-14 5-14 5z"/><path class=c d="M2643 1151l14-6 14-6 14-6 14-6 15-6 14-5 14-6 14-5 14-6 10 11-14 6-14 5-14 5-14 6-15 6-14 5-14 6-14 6-14 6z"/><path class=b d="M2545 1195l14-7 14-6 14-6 14-7 14-6 14-6 14-6 10 10-14 6-14 6-14 6-14 6-14 7-14 6-14 6z"/><path class=a d="M2390 1257l14-4 14-4 14-4 14-5 14-7 14-6 14-7 14-6 14-7 14-6 15-6 10 9-15 6-14 7-14 6-14 6-14 6-14 7-14 6-14 6-14 4-14 4-14 4z"/><path class=a d="M3231 1014l14-1 14-1 14-1 14-1 14-1 10 9-14 1-14 1-14 1-14 1-14 1z"/><path class=b d="M3146 1021l14-1 14-2 14-1 14-1 15-1 14-1 10 9-14 1-14 2-15 1-14 1-14 2-14 1z"/><path class=c d="M3019 1041l14-3 15-3 14-2 14-2 14-3 14-2 14-1 14-2 14-2 10 10-14 2-14 2-14 2-14 2-14 2-14 2-14 3-15 2-14 3z"/><path class=d d="M2808 1100l14-5 14-5 14-4 14-5 15-4 14-5 14-4 14-4 14-4 14-3 14-4 14-3 14-3 14-3 14-3 10 10-14 3-14 3-14 3-14 4-14 3-14 4-14 4-14 4-14 4-14 4-15 5-14 4-14 5-14 5-14 5z"/><path class=c d="M2653 1161l14-6 14-6 14-6 14-5 15-6 14-6 14-5 14-5 14-6 14-5 14-5 10 11-14 5-14 5-14 5-14 6-14 5-14 6-14 5-15 6-14 6-14 5-14 6z"/><path class=b d="M2555 1204l14-6 14-6 14-7 14-6 14-6 14-6 14-6 10 10-14 6-14 6-14 6-14 6-14 6-14 6-14 6z"/><path class=a d="M2400 1266l14-4 14-4 14-4 14-6 14-6 14-7 14-6 14-6 14-6 14-7 15-6 10 9-15 6-14 7-14 6-14 6-14 6-14 6-14 7-14 6-14 5-14 4-14 4z"/><path class=a d="M3241 1023l14-1 14-1 14-1 14-1 14-1 10 9-14 1-14 1-14 2-14 1-14 1z"/><path class=b d="M3156 1031l14-1 14-2 14-1 15-1 14-2 14-1 10 10-14 1-14 1-15 2-14 1-14 2-14 1z"/><path class=c d="M3015 1054l14-3 14-3 15-2 14-3 14-2 14-2 14-2 14-2 14-2 14-2 10 10-14 2-14 2-14 2-14 2-14 2-14 3-14 2-14 3-15 3-14 3z"/><path class=d d="M2832 1106l14-5 14-5 14-4 15-5 14-4 14-4 14-4 14-4 14-4 14-3 14-4 14-3 14-3 10 11-14 3-14 3-14 3-14 4-14 4-14 4-14 4-14 4-14 4-15 4-14 5-14 5-14 5z"/><path class=c d="M2677 1165l14-5 14-6 15-6 14-5 14-6 14-5 14-6 14-5 14-5 14-5 14-5 10 11-14 4-14 5-14 6-14 5-14 5-14 5-14 6-14 5-15 6-14 6-14 5z"/><path class=b d="M2565 1213l14-6 14-6 14-6 14-6 14-6 14-6 14-6 14-6 10 10-14 6-14 6-14 6-14 6-14 6-14 6-14 6-14 6z"/><path class=a d="M2410 1276l14-4 14-4 14-5 14-6 14-7 14-6 14-6 14-6 14-6 14-7 15-6 10 10-14 6-15 6-14 6-14 6-14 6-14 6-14 6-14 6-14 6-14 4-14 4z"/><path class=a d="M3251 1033l14-1 14-1 14-2 14-1 14-1 10 10-14 1-14 1-14 1-14 1-14 1z"/><path class=b d="M3166 1041l14-1 14-2 14-1 15-2 14-1 14-1 10 9-14 2-14 1-14 1-15 2-14 1-14 2z"/><path class=c d="M3011 1068l14-3 14-3 15-3 14-3 14-2 14-3 14-2 14-2 14-2 14-2 14-2 10 10-14 2-14 2-14 2-14 2-14 2-14 3-14 2-14 3-15 3-14 3-14 3z"/><path class=d d="M2870 1107l14-5 15-4 14-4 14-4 14-4 14-4 14-4 14-4 14-3 14-3 10 10-14 3-14 4-14 3-14 4-14 4-14 4-14 4-14 5-14 4-15 5z"/><path class=c d="M2687 1175l14-5 14-6 15-6 14-5 14-6 14-5 14-5 14-5 14-6 14-5 14-4 14-5 14-5 10 11-14 4-14 5-14 5-14 5-14 5-14 5-14 5-14 6-14 5-14 6-15 5-14 6-14 5z"/><path class=b d="M2575 1223l14-6 14-6 14-6 14-6 14-6 14-6 14-6 14-6 10 10-14 6-14 6-14 6-14 5-14 6-14 6-14 6-14 6z"/><path class=a d="M2420 1285l14-4 14-4 14-6 14-6 14-6 14-6 14-6 14-6 14-6 15-6 14-6 10 9-14 6-15 6-14 6-14 5-14 6-14 6-14 6-14 6-14 6-14 5-14 4z"/><path class=a d="M3261 1042l14-1 14-1 14-1 14-1 14-1 10 9-14 1-14 1-14 1-14 2-14 1z"/><path class=b d="M3162 1053l14-2 14-2 14-1 15-2 14-1 14-1 14-2 10 10-14 1-14 2-14 1-15 2-14 1-14 2-14 2z"/><path class=c d="M2979 1088l14-3 14-4 14-3 14-3 14-3 15-3 14-3 14-2 14-3 14-2 14-2 14-2 14-2 10 10-14 2-14 2-14 2-14 2-14 3-14 2-14 3-14 3-15 3-14 3-14 4-14 3-14 4z"/><path class=d d="M2923 1104l14-4 14-4 14-4 14-4 10 11-14 4-14 3-14 4-14 5z"/><path class=c d="M2711 1180l14-6 15-5 14-6 14-5 14-6 14-5 14-5 14-5 14-5 14-5 14-5 14-4 15-5 14-4 14-5 10 11-14 4-14 4-15 5-14 5-14 4-14 5-14 5-14 5-14 5-14 6-14 5-14 5-14 6-14 5-15 6z"/><path class=b d="M2585 1232l14-6 14-6 14-6 14-6 14-5 14-6 14-6 14-6 14-5 10 10-14 5-14 6-14 6-14 5-14 6-14 6-14 5-14 6-14 6z"/><path class=a d="M2430 1294l14-4 14-5 14-6 14-6 14-6 14-6 14-6 14-5 14-6 15-6 14-6 10 9-14 6-15 5-14 6-14 6-14 6-14 6-14 5-14 6-14 6-14 6-14 4z"/><path class=a d="M3271 1052l14-1 14-2 14-1 14-1 14-1 10 9-14 1-14 1-14 2-14 1-14 1z"/><path class=b d="M3172 1063l14-2 14-2 14-1 15-2 14-1 14-2 14-1 10 9-14 2-14 1-14 2-15 1-14 2-14 2-14 1z"/><path class=c d="M2721 1190l15-6 14-5 14-6 14-5 14-5 14-6 14-5 14-5 14-5 14-5 14-4 14-5 15-5 14-4 14-4 14-5 14-4 14-3 14-4 14-4 14-3 14-4 14-3 15-3 14-3 14-3 14-2 14-3 14-2 14-2 14-2 14-2 10 9-14 2-14 3-14 2-14 2-14 3-14 2-14 3-14 3-15 3-14 3-14 4-14 3-14 4-14 4-14 4-14 4-14 4-14 4-14 4-15 5-14 5-14 4-14 5-14 5-14 5-14 5-14 6-14 5-14 5-14 6-14 5-15 5z"/><path class=b d="M2581 1247l14-6 14-6 14-6 14-5 14-6 14-6 14-5 14-6 14-6 14-5 10 9-14 6-14 5-14 6-14 6-14 5-14 6-14 6-14 5-14 6-14 6z"/><path class=a d="M2440 1303l14-4 14-6 14-6 14-6 14-5 14-6 14-6 14-6 14-6 15-5 10 9-14 5-15 6-14 6-14 5-14 6-14 6-14 5-14 6-14 6-14 5z"/><path fill="none" d="M1972 847l10 19 10 10 10 9 10 9 11 9 10 9 10 10 10 9 10 9 10 9 10 9 10 10 10 9 10 9 10 9 10 10 10 9 10 9 10 9 10 9 10 10 10 9 10 9 10 9 10 9 10 10 10 9 10 9 10 9 10 9 10 10 10 9 10 9 10 9 10 10 10 9 10 9 11 9 10 9 10 10 10 9 10 9 10 9 10 9 10 10 10 9 10 9 10 9 10 8M2007 865l10 16 10 9 10 9 10 9 10 10 10 9 10 9 10 9 10 9 10 10 10 9 10 9 10 9 10 10 10 9 10 9 10 9 10 9 10 10 10 9 10 9 10 9 10 9 10 10 10 9 10 9 10 9 10 9 10 10 10 9 10 9 10 9 11 10 10 9 10 9 10 9 10 9 10 10 10 9 10 9 10 9 10 9 10 10 10 9 10 8 10 8 10 8M2041 876l10 19 10 9 10 10 10 9 10 9 10 9 10 9 10 10 10 9 10 9 10 9 10 9 10 10 10 9 10 9 10 9 10 10 10 9 10 9 10 9 10 9 10 10 10 9 10 9 10 9 10 9 10 10 10 9 11 9 10 9 10 9 10 10 10 9 10 9 10 9 10 10 10 9 10 9 10 9 10 9 10 9 10 8 10 8 10 8 10 8M2085 905l10 14 10 9 10 9 10 9 10 10 10 9 10 9 10 9 10 9 10 10 10 9 10 9 10 9 10 10 10 9 10 9 10 9 10 9 10 10 10 9 10 9 10 9 11 9 10 10 10 9 10 9 10 9 10 9 10 10 10 9 10 9 10 9 10 10 10 9 10 8 10 9 10 8 10 9 10 8 10 8 10 8 10 9M2129 918l10 13 10 13 10 13 10 12 10 10 10 9 10 10 10 9 10 9 10 9 10 10 10 9 10 9 10 9 10 9 10 10 11 9 10 9 10 9 10 9 10 10 10 9 10 8 10 9 10 9 10 9 10 9 10 10 10 8 10 9 10 9 10 9 10 8 10 9 10 8 10 9 10 8 10 9 10 8M2223 987l10 11 10 11 10 11 10 12 10 11 11 11 10 9 10 10 10 9 10 8 10 9 10 9 10 9 10 9 10 9 10 9 10 10 10 9 10 10 10 9 10 9 10 9 10 9 10 9 10 9 10 8 10 9 10 9 10 8 10 9 10 8M2298 1038l10 11 10 10 10 10 10 9 10 10 10 10 10 9 10 9 10 10 10 9 10 10 10 10 10 10 10 10 10 9 10 9 10 9 10 9 10 9 10 9 10 9 10 9 10 8 10 9 10 9M2302 1011l10 12M2412 1127l10 10 10 10 10 10 10 10 10 10 10 9 10 10 10 9 10 9 10 9 10 9 10 9 10 9 10 8 10 9M2306 981l10 14M2346 1032l10 12 10 10 10 11 10 11 10 11 10 10 10 11 10 10M2456 1150l10 10 10 10 10 9 10 10 10 9 10 9 10 10 10 9 10 9 10 9 10 8 11 9M2340 994l10 13 10 12M2400 1066l10 11 10 11 10 11 10 10 10 11 10 11 10 11M2520 1192l10 9 10 9 10 9 11 10 10 9 10 9M2324 932l10 17M2344 965l10 15M2384 1019l10 12 10 12 10 12M2444 1090l10 11 10 11 10 11 10 12 10 10 10 11 10 10 10 9 10 10M2595 1241l10 9M2378 980l10 14 10 13M2418 1033l10 12 10 12 10 12 10 12M2478 1104l10 12 10 11 10 11 10 11 11 10 10 10 10 10 10 9 10 10 10 9 10 10 10 9 10 9 10 9M2342 880l10 19M2362 918l10 17M2382 952l10 15M2412 996l10 13 10 13M2452 1048l10 12 10 12 10 12 10 12M2502 1108l11 12 10 11 10 11 10 10 10 10 10 10 10 10 10 10 10 9 10 10 10 9 10 9 10 10M2336 825l10 19M2386 921l10 18M2406 955l10 15 10 14M2436 998l10 14 10 13 10 13M2476 1051l10 13 11 12 10 12 10 12M2537 1124l10 11 10 10 10 11 10 10 10 10 10 9 10 10 10 10 10 9 10 10 10 9M2380 868l10 21M2410 926l10 16M2440 973l10 15M2470 1016l10 13 11 13M2511 1068l10 13 10 12 10 12 10 12M2561 1128l10 11 10 10 10 10 10 10 10 10 10 10 10 10 10 9 10 10 10 9M2374 811l10 22M2404 875l10 20M2434 930l10 17 10 15M2464 978l11 14 10 14M2495 1020l10 14 10 13 10 13M2535 1073l10 13 10 12 10 12 10 11M2595 1143l10 10 10 10 10 10 10 10 10 10 10 10 10 9 10 10M2358 729l10 23M2398 818l10 22 10 21M2428 882l10 19 10 18M2459 936l10 16 10 16M2489 983l10 14 10 15M2519 1026l10 13 10 13 10 13M2559 1078l10 13 10 12 10 12 10 11 10 10M2629 1157l10 10 10 10 10 10 10 10 10 10 10 9M2382 735l10 23M2432 849l11 21M2463 908l10 17M2483 942l10 16 10 15M2513 989l10 14 10 15M2543 1031l10 14 10 13 10 13M2583 1084l10 12 10 12 10 11 10 11 10 10 10 11M2663 1171l10 10 10 10 10 10 10 9M2406 744l10 23 11 23 10 24M2457 858l10 20 10 19M2487 915l10 17M2507 949l10 16 10 15 10 15 10 15 10 14 10 14 10 13 10 13 10 13 10 13 10 11 10 12 10 11 10 10 10 11 10 10 10 10M2697 1185l10 10 10 10M2451 801l10 24 10 22 10 21M2491 887l10 18M2511 923l10 17M2531 956l10 16M2551 987l10 15 10 14M2581 1030l10 14 10 14 10 13M2621 1083l10 12 10 11 10 11 10 11 10 11 10 10 10 11 10 10 10 10M2395 614l10 26 10 26 10 26 10 25 10 24 10 25 10 24M2495 858l10 19 10 19 10 18 10 17 10 17 10 16 10 15M2575 995l10 14 10 14M2605 1037l10 14 10 13 10 13M2645 1089l10 11 10 11 10 11 10 11 10 10 10 11 10 10 10 10 11 10 10 10M2288 304l10 18M2308 339l10 19M2399 571l10 29M2479 779l10 24 10 24 10 21 10 20M2529 887l10 18M2549 923l10 17M2569 956l10 16 10 15 10 15 10 15 10 14 10 13 10 14 10 13 10 12M2669 1094l10 11 10 11 10 11 10 11 11 10 10 10 10 11 10 10 10 10M2282 249l10 19M2403 526l10 31M2433 614l10 27 10 26 10 26 10 26 10 25 10 25 10 25 10 23M2533 859l10 20 10 18 10 18 10 17 10 17 10 16 10 15M2613 996l10 14 10 14M2643 1038l10 13 10 13 10 13 10 11M2693 1100l11 11 10 10 10 11 10 11 10 10 10 10 10 10 10 10M2326 289l10 17M2346 325l11 24 10 25 10 27 10 25 10 26 10 29 10 32M2427 544l10 30 10 28M2527 808l10 22 10 21 10 20M2567 890l10 18M2587 925l10 17M2607 958l10 16 10 15 10 15 10 14 10 14 10 13 10 13 11 13 10 11 10 12 10 11 10 11 10 10 10 11 10 10 10 11 10 10 10 10M2300 200l10 19M2320 238l10 18M2431 501l10 32M2461 591l10 28 10 27 10 27 10 26 10 26 10 26 10 25 10 24 10 22 10 21M2571 863l10 19 10 19 10 17 10 17 10 16 10 16 10 16M2651 997l10 15 11 14M2682 1039l10 14 10 12 10 12 10 11M2732 1099l10 11 10 11 10 11 10 10 10 10 10 11 10 10M2325 206l10 19M2345 243l10 18M2365 278l10 20M2405 375l10 26 10 26 10 31 10 32M2455 522l10 31 10 29M2495 637l10 27 10 26 10 27 10 26 10 25 10 24 10 23M2575 836l10 20 10 19 10 19 10 18 10 17 10 16 10 16 11 16 10 15 10 14 10 14 10 14 10 13 10 12 10 12 10 12 10 11M2756 1105l10 11 10 10 10 11 10 10 10 10 10 10M2329 175l10 19M2349 213l10 18M2369 249l10 18M2389 286l10 25 10 26 10 28M2449 448l10 33 10 32M2479 544l10 29 10 29 10 27M2539 709l10 26 10 26 10 24M2579 808l10 21 10 20 10 20M2619 887l10 18M2640 923l10 16M2660 955l10 16 10 15 10 14 10 14 10 14M2720 1041l10 13 10 12 10 11 10 11 10 11M2780 1110l10 11 10 11 10 10 10 10 10 10M2353 184l10 19M2373 221l10 18 10 17 10 20 10 25 10 27 10 27 10 26 10 27 10 31M2473 472l10 33 10 31 10 30 10 28 10 28 10 27 10 27 10 26M2583 778l10 23 10 22 10 20 10 20 11 18 10 18 10 18 10 17 10 16 10 15 10 15 10 15 10 14 10 14 10 13 10 12 10 12 10 12 10 11 10 11 10 11 10 11 10 10 10 11 10 10 10 10M2357 156l10 19M2377 194l10 18 10 18M2407 248l10 20M2447 347l10 27 10 27 10 31 10 33 10 33 10 32M2517 559l10 29 10 28 10 27 10 27 10 26 10 26 10 26 10 24 10 23 11 22 10 20M2638 857l10 19 10 18 10 17 10 17 10 16 10 16 10 15M2718 990l10 14 10 13 10 14 10 12 10 12 10 12 10 11 10 11 10 11M2818 1111l10 10 10 11 10 10 10 10M2371 148l10 19 10 19 10 19M2411 223l10 17 10 21 10 24 10 28 10 28M2481 395l10 31 10 33M2511 492l10 32 10 29 10 29 10 28 10 27 10 27 10 27 10 26 11 26 10 24 10 23 10 21 10 21 10 20 10 19 10 18 10 17 10 17 10 16 10 16 10 15 10 14 10 15 10 13 10 13 10 13 10 12 10 12 10 11 10 11 10 11 10 11M2842 1117l10 10 10 10 10 10M2385 142l10 19 10 19 10 19 10 18 10 18M2445 255l10 25 10 28 10 28 10 26 10 27 10 32 10 33 10 34 10 31 10 30M2555 578l10 27 10 28 11 26 10 27 10 26 10 26 10 24 10 23 10 22 10 20 10 20 10 19 10 18 10 17 10 17 10 17 10 15 10 15 10 15 10 14 10 13 10 14M2786 1033l10 12 10 12 10 11 10 11 10 11 10 11 10 11 10 10 10 11 10 10M2399 137l10 19 10 19 10 19 10 19 10 17 10 21 10 25 10 28 10 28 10 26 10 28 10 31 10 34 10 33 10 32 10 29M2570 574l10 28 10 27 10 26 10 27 10 26 10 25 10 25 10 23 10 21 10 21 10 19 10 19 10 18 10 18 10 17 10 16 10 16 10 15 10 14 10 14 10 14 10 13 10 12 10 12 10 12 10 11 10 12 10 11 10 10 10 11M2880 1118l10 10 10 10M2413 134l10 19 10 19 10 19 10 18 10 18 10 21 10 25 10 28 10 28 10 27M2523 383l10 32 10 33 11 33 10 32 10 29 10 29 10 28 10 27 10 26 10 26 10 26 10 26 10 24 10 23 10 21 10 21 10 19 10 19 10 18 10 18 10 16 10 17 10 15 10 15 10 15 10 14 10 13 10 13 10 13 10 12 10 11 10 12 10 11 10 11 10 11 10 10 11 11 10 10 10 10M2427 132l10 19 10 19 10 19 10 19 10 17M2487 246l10 26 10 28 10 28M2527 354l11 28 10 31 10 33M2568 480l10 31 10 30 10 28 10 28 10 26 10 27 10 26 10 26 10 25 10 24 10 22 10 22 10 20 10 20 10 19 10 17 10 18 10 17 10 16 10 15 10 15 10 14 10 14 10 14 10 13 10 12 10 12 10 12 10 11 10 12 11 11 10 10 10 11 10 11 10 10 10 10M2441 132l10 19M2461 170l10 19M2481 207l10 18 10 21M2532 328l10 26 10 28 10 31 10 33 10 33 10 31M2602 540l10 28 10 27 10 27 10 26 10 26 10 25 10 25 10 24 10 22 10 21 10 21 10 19 10 19 10 18 10 17 10 17 10 16 10 16 10 14 10 15 10 13 10 14 10 13 10 12 10 12 11 12 10 11 10 11 10 11 10 11 10 11 10 10M2933 1115l10 10M2455 132l10 20 10 19 10 19 10 18M2505 226l11 21 10 26 10 28 10 28 10 26 10 27 10 31M2586 446l10 33M2606 510l10 29 10 28 10 27 10 27 10 26 10 25 10 25 10 25 10 24 10 22 10 21 10 20 10 19 10 19 10 18 10 17 10 17 10 16 10 15 10 15 10 14 10 14 10 13 11 13 10 12 10 12 10 12 10 11 10 11 10 11 10 11 10 11 10 10 10 10 10 11M2479 154l10 19M2500 192l10 19 10 18M2530 249l10 26 10 28 10 28M2590 415l10 33 10 32 10 31 10 29 10 28M2710 744l10 22 10 21 10 20M2750 826l10 18 10 18 10 17 10 16 10 16 10 16 10 14 11 14 10 14 10 13 10 13 10 12 10 12 10 12 10 11 10 11 10 11 10 11 10 11 10 10 10 10 10 11M2484 138l10 20M2504 177l10 19M2524 214l10 18 10 21M2574 335l10 26 10 26 10 31 10 32M2624 482l10 31M2654 569l10 26 10 26 10 25 10 25 10 24 10 24 10 23M2734 764l10 21 10 20 10 19 10 18 10 17 10 17 10 17 11 15 10 16 10 14 10 14 10 14 10 13 10 12 10 13 10 11 10 12 10 11 10 11 10 11 10 11 10 11 10 10 10 11 10 10M2508 163l10 19M2528 200l10 19M2558 258l10 25 10 28 10 28M2628 453l10 32M2648 516l10 28 10 27 10 25 10 26 10 25 10 24 10 24 10 24 10 22 10 22M2758 783l10 20 10 19 10 18 11 17 10 17 10 16 10 16 10 15 10 14 10 14 10 13 10 13 10 13 10 12 10 12 10 11 10 12 10 11 10 11 10 10 10 11 10 10M2989 1099l10 10M2512 150l10 19M2532 188l10 19M2562 243l10 21M2602 345l10 25 10 26 10 30 10 31M2652 489l10 30 10 27M2722 672l10 24 10 23 10 22 10 21 10 20 10 20 11 18M2803 838l10 17M2823 872l10 16 10 15 10 15 10 14M2873 946l10 13 10 13 10 13 10 12 10 12 10 11 10 11 10 11 10 11 10 11 10 10 10 11 10 10 10 10M2566 232l10 18M2656 462l10 31M2686 550l10 26 10 25 10 24 10 24 10 24M2756 719l10 22 11 21 10 19M2797 801l10 18 10 18 10 17 10 16 10 16M2857 901l10 15 10 14 10 13 10 13 10 13 10 13M2927 994l10 11 10 12 10 11 10 11 10 11 10 10 10 11 10 10 10 11 10 10M2550 185l10 19M2600 279l10 25 10 27 10 27 10 25 10 26 10 28M2680 498l10 29 10 27M2720 604l10 24 10 23 10 24 11 22 10 23M2781 741l10 21 10 19 10 19 10 18 10 18 10 16 10 16 10 16 10 15 10 15 10 14 10 13 10 13 10 12 10 13 10 12 10 11 10 12 10 11 10 11 10 11 10 10 10 11M3021 1078l10 10 10 10M2584 232l10 18M2604 268l10 20M2674 444l10 30M2714 559l10 25 10 24M2765 677l10 22 10 22 10 21M2805 762l10 19 10 19M2835 817l10 18M2855 851l10 16M2875 882l10 15 10 15M2905 925l10 14 10 12 10 13M2945 976l10 12 10 11 10 12 10 11 10 11 10 11 10 10M3025 1065l10 10 10 10 10 10M2698 481l10 29 10 28M2749 612l10 23 10 22 10 22M2799 722l10 21 10 20M2829 781l10 19 10 17 10 17 10 16 10 16 10 15 10 15 10 14 10 13 10 14 10 12 10 13 10 12 10 11 10 12 10 11 10 11 10 11 10 11M3029 1051l10 11 10 10 11 10 10 10M2733 544l10 26 10 23 10 23M2793 682l10 21 10 21M2823 744l10 20 10 18M2853 800l10 17M2873 834l10 16M2893 865l10 15 10 14M2923 908l10 14 10 13 10 12M2963 959l10 12 10 12 10 11 10 11 10 11 10 11 10 11 10 10 11 11 10 10 10 10 10 10M2787 643l10 21 10 21M2817 706l10 20 10 20M2847 765l10 18 10 17 10 17 10 17 10 15 10 15 10 15 10 14 10 14 10 13 10 13 10 12 10 12 10 12 10 12 10 11 10 11 10 11 11 11M3048 1035l10 11 10 10 10 10 10 10 10 10M2721 453l10 26 10 27M2771 582l10 23 10 22 10 21M2821 689l10 20M2851 748l10 18M2871 784l10 17M2891 818l10 16M2911 849l10 15 10 14M2941 892l10 14 10 13 10 12M2981 944l10 12 10 11 10 12 11 11 10 11 10 11M3052 1022l10 11 10 10 10 11 10 10 10 10 10 10M2755 515l10 27 10 24 10 23M2815 653l10 20 10 20M2845 713l10 19 10 18M2875 768l10 17M2895 802l10 16 10 16 10 15 10 15M2945 878l10 14 10 13 10 13M2985 930l10 12 11 12 10 11 10 12 10 11M3056 1010l10 10 10 11 10 10 10 10 10 10 10 10 10 10M2819 639l10 19M2849 697l10 19M2869 735l10 18 10 17 10 17 10 16 10 16M2929 835l10 14 10 15 10 14 10 13 10 13M2990 917l10 12 10 12 10 11 10 12 10 11M3050 986l10 11 10 11 10 10 10 10 10 11 10 10 10 10 10 10 10 10M2823 625l10 20M2853 683l10 19M2873 720l10 18M2893 756l10 17M2913 789l10 16M2933 820l10 15 10 15M2963 864l11 13 10 14M2994 904l10 12 10 12 10 12 10 11 10 11M3054 973l10 11 10 11 10 11 10 10 10 10 10 11 10 10 10 10 10 10 10 10M2827 613l10 20M2857 670l10 19M2877 707l10 18M2897 742l10 17M2917 775l10 16M2937 807l10 15 11 14M2968 850l10 14 10 13M2998 890l10 13 10 12 10 12 10 12 10 11M3058 961l10 11 10 11 10 10 10 11 10 10 10 11 10 10 10 10 10 10 10 10 10 9M2831 601l10 20M2861 659l10 18M2881 694l10 18M2901 729l10 17M2921 762l10 16M2941 793l11 16 10 14M2972 837l10 14 10 14M3002 878l10 12 10 13 10 12 10 11M3062 949l10 11 10 11 10 10 10 11 10 10 10 11 10 10 10 10 10 10 10 10M2865 648l10 18M2885 683l10 17M2905 717l10 17M2925 750l11 16M2946 781l10 15 10 15M2976 825l10 14 10 13M3006 865l10 13 10 12 10 13 10 11M3056 926l10 11 10 11 10 11 10 10 10 11 10 10 10 11 10 10 10 10M3176 1051l10 10 10 10M2930 739l10 15M2950 769l10 15M2980 813l10 14 10 13M3010 853l10 13 10 12 10 13M3060 914l10 11 10 11 10 11 10 11 10 10 10 11 10 10M3160 1020l10 10 10 10 10 9 10 10 10 10M2863 612l10 19M2904 682l10 15M2924 713l10 15M2954 759l10 14M2974 788l10 14 10 13M3014 842l10 13 10 12 10 12M3054 891l10 12 10 11 10 11 10 11 10 10 10 11 10 10M3144 988l10 10 10 10 10 10 10 10 10 10 10 10 10 10 10 9M2898 658l10 16M2948 734l10 15M2978 778l10 13 10 14M3008 818l10 13 10 13 10 12M3058 880l10 11 10 12 10 11 10 11 10 10M3138 967l10 10 10 10 10 10 10 10 10 10 10 10 10 10 11 9 10 10 10 10M2942 712l10 14M2972 755l10 13 10 14M3012 808l10 13 10 12M3052 857l10 12 10 12 10 11 10 11 10 11M3122 935l10 11 10 10 10 10 10 10 10 10 10 10 10 10 10 10 11 10 10 9 10 10 10 10 10 9M2936 692l10 14M2966 733l10 14M3006 786l10 13 10 12M3046 836l10 11 10 12 10 11 10 12M3116 914l10 11 10 10 10 10 10 10 10 10 10 10 10 10 11 10 10 10 10 10 10 9 10 10 10 10 10 9 10 10M2960 715l10 13M2990 753l10 13 10 13M3040 815l10 12 10 11 10 12M3100 883l10 11 10 10 10 11 10 10 10 10 10 10 10 10 11 10 10 10 10 9 10 10 10 10M2984 736l10 12M3024 784l10 12 10 11 10 11M3084 852l10 11 10 10 10 11 10 10 10 11 10 10 10 10 11 10 10 10M3235 1003l10 10 10 9 10 10 10 9 10 10 10 9M3008 755l10 12 10 11M3068 822l10 11 10 11 10 10 10 11 10 10 10 10M3189 945l10 9 10 10 10 9 10 10 10 10 10 9 10 10 10 9 10 10 10 9 10 9 10 10M3042 784l10 11 10 10 10 11 10 10M3143 886l10 10 10 10 10 10 10 9 10 10 10 10 10 9 10 10 10 9 10 9 10 10 10 9 10 10 10 9 10 9 10 10 10 9 10 9M3096 830l10 10 11 9 10 10 10 10 10 9 10 10 10 9 10 10 10 9 10 10 10 9 10 9 10 10 10 9 10 10 10 9 10 9 10 10 10 9 10 9 10 9 10 10 10 9 10 9"/></g><g stroke="#151212" stroke-width=".6" fill="none"><path d="M389.7 53.2L490 145.3"/><path d="M490 145.3L670.2 93.8"/><path d="M490 262.5L490 145.3"/></g><g stroke="#3c3838" stroke-width=".75" fill="none"><path d="M389.7 170.4L385.3 171.6"/><path d="M399.7 179.6L395.4 180.8"/><path d="M409.7 188.8L405.4 190.1"/><path d="M419.7 198L415.4 199.3"/><path d="M429.8 207.2L425.4 208.5"/><path d="M439.8 216.4L435.5 217.7"/><path d="M449.8 225.7L445.5 226.9"/><path d="M459.9 234.9L455.5 236.1"/><path d="M469.9 244.1L465.6 245.3"/><path d="M479.9 253.3L475.6 254.5"/><path d="M490 262.5L485.6 263.7"/><path d="M490 262.5L493.8 266"/><path d="M520 253.9L523.8 257.4"/><path d="M550.1 245.3L553.9 248.9"/><path d="M580.1 236.8L583.9 240.3"/><path d="M610.2 228.2L614 231.7"/><path d="M640.2 219.6L644 223.1"/><path d="M670.2 211L674.1 214.5"/><path d="M389.7 170.4L385.7 166.9"/><path d="M389.7 147L385.7 143.5"/><path d="M389.7 123.5L385.7 120"/><path d="M389.7 100.1L385.7 96.6"/><path d="M389.7 76.6L385.7 73.1"/><path d="M389.7 53.2L385.7 49.7"/></g><g class="ti" text-anchor="end"><text x="381.2" y="184.9">0</text><text x="391.2" y="194.1">1</text><text x="401.2" y="203.3">2</text><text x="411.2" y="212.5">3</text><text x="421.3" y="221.7">4</text><text x="431.3" y="230.9">5</text><text x="441.3" y="240.2">6</text><text x="451.4" y="249.4">7</text><text x="461.4" y="258.6">8</text><text x="471.4" y="267.8">9</text><text x="481.5" y="277">10</text><text x="383.7" y="169.5">0</text><text x="383.7" y="146.1">0.2</text><text x="383.7" y="122.6">0.4</text><text x="383.7" y="99.2">0.6</text><text x="383.7" y="75.7">0.8</text><text x="383.7" y="52.3">1</text></g><g class="ti"><text x="497" y="280.2">0</text><text x="527" y="271.6"><tspan class="pi">π</tspan>/6</text><text x="557.1" y="263"><tspan class="pi">π</tspan>/3</text><text x="587.1" y="254.4"><tspan class="pi">π</tspan>/2</text><text x="617.2" y="245.9">2<tspan class="pi">π</tspan>/3</text><text x="647.2" y="237.3">5<tspan class="pi">π</tspan>/6</text><text x="677.2" y="228.7"><tspan class="pi">π</tspan></text></g><text class="ax" x="406.5" y="244.4" font-size="16">ωt</text><text class="ax" x="597.1" y="271.1" font-size="17">θ</text><text class="cc" transform="translate(365.2 117.7) rotate(-90)" text-anchor="middle">C</text><text class="lb" x="547.2" y="19.9">(b)</text><g stroke="#eaeaea" stroke-width=".7" fill="none"><path d="M38.3 489.8L218.6 438.3"/><path d="M218.6 438.3L218.6 321.1"/><path d="M48.3 499L228.6 447.5"/><path d="M228.6 447.5L228.6 330.3"/><path d="M58.4 508.2L238.7 456.7"/><path d="M238.7 456.7L238.7 339.5"/><path d="M68.4 517.4L248.7 465.9"/><path d="M248.7 465.9L248.7 348.7"/><path d="M78.4 526.6L258.7 475.1"/><path d="M258.7 475.1L258.7 357.9"/><path d="M88.4 535.8L268.8 484.3"/><path d="M268.8 484.3L268.8 367.1"/><path d="M98.5 545.1L278.8 493.6"/><path d="M278.8 493.6L278.8 376.4"/><path d="M108.5 554.3L288.8 502.8"/><path d="M288.8 502.8L288.8 385.6"/><path d="M118.5 563.5L298.8 512"/><path d="M298.8 512L298.8 394.8"/><path d="M128.6 572.7L308.9 521.2"/><path d="M308.9 521.2L308.9 404"/><path d="M138.6 581.9L318.9 530.4"/><path d="M318.9 530.4L318.9 413.2"/><path d="M38.3 489.8L138.6 581.9"/><path d="M38.3 489.8L38.3 372.6"/><path d="M68.3 481.2L168.7 573.3"/><path d="M68.3 481.2L68.3 364"/><path d="M98.4 472.6L198.7 564.7"/><path d="M98.4 472.6L98.4 355.4"/><path d="M128.4 464L228.8 556.1"/><path d="M128.4 464L128.4 346.8"/><path d="M158.5 455.5L258.8 547.6"/><path d="M158.5 455.5L158.5 338.3"/><path d="M188.6 446.9L288.9 539"/><path d="M188.6 446.9L188.6 329.7"/><path d="M218.6 438.3L318.9 530.4"/><path d="M218.6 438.3L218.6 321.1"/><path d="M38.3 489.8L218.6 438.3"/><path d="M218.6 438.3L318.9 530.4"/><path d="M38.3 466.4L218.6 414.9"/><path d="M218.6 414.9L318.9 507"/><path d="M38.3 442.9L218.6 391.4"/><path d="M218.6 391.4L318.9 483.5"/><path d="M38.3 419.5L218.6 368"/><path d="M218.6 368L318.9 460.1"/><path d="M38.3 396L218.6 344.5"/><path d="M218.6 344.5L318.9 436.6"/><path d="M38.3 372.6L218.6 321.1"/><path d="M218.6 321.1L318.9 413.2"/></g><g stroke="#3c3838" stroke-width=".75" fill="none"><path d="M38.3 489.8L218.6 438.3"/><path d="M218.6 438.3L318.9 530.4"/><path d="M218.6 438.3L218.6 321.1"/><path d="M38.3 372.6L218.6 321.1"/><path d="M218.6 321.1L318.9 413.2"/><path d="M38.3 489.8L38.3 372.6"/><path d="M318.9 530.4L318.9 413.2"/><path d="M38.3 489.8L138.6 581.9"/><path d="M138.6 581.9L318.9 530.4"/></g><g transform="scale(0.2)" stroke="#000" stroke-width="2.5" stroke-linejoin="round"><path class=p d="M964 1974l16 25 11 18-16-24z"/><path class=r d="M948 1949l16 25 11 19-16-24z"/><path class=t d="M932 1926l16 23 11 20-16-22z"/><path class=u d="M916 1903l16 23 11 21-16-22z"/><path class=w d="M900 1881l16 22 11 22-16-20z"/><path class=x d="M884 1861l16 20 11 24-16-20z"/><path class=z d="M868 1842l16 19 11 24-16-18z"/><path class=za d="M852 1824l16 18 11 25-16-17z"/><path class=zc d="M835 1807l17 17 11 26-16-16z"/><path class=zd d="M819 1792l16 15 12 27-17-15z"/><path class=ze d="M803 1778l16 14 11 27-16-13z"/><path class=zf d="M787 1766l16 12 11 28-16-11z"/><path class=zg d="M771 1755l16 11 11 29-16-10z"/><path class=zh d="M739 1740l16 7 16 8 11 30-16-8-16-7z"/><path class=zi d="M723 1734l16 6 11 30-16-5z"/><path class=zj d="M578 1767l16-11 16-9 16-7 16-6 16-3 16-2 17 0 16 2 16 3 11 31-16-3-16-1-16 0-17 2-16 4-16 6-16 8-16 9-16 11z"/><path class=zi d="M562 1780l16-13 11 34-16 14z"/><path class=zh d="M530 1811l16-16 16-15 11 35-16 14-16 17z"/><path class=zg d="M513 1829l17-18 11 35-16 18z"/><path class=zf d="M497 1849l16-20 12 35-16 21z"/><path class=ze d="M481 1870l16-21 12 36-17 21z"/><path class=zd d="M465 1893l16-23 11 36-16 24z"/><path class=zc d="M449 1917l16-24 11 37-16 24z"/><path class=za d="M433 1943l16-26 11 37-16 27z"/><path class=z d="M417 1970l16-27 11 38-16 27z"/><path class=x d="M401 1999l16-29 11 38-16 30z"/><path class=w d="M385 2028l16-29 11 39-16 30z"/><path class=u d="M369 2059l16-31 11 40-16 31z"/><path class=t d="M352 2091l17-32 11 40-16 33z"/><path class=r d="M336 2124l16-33 12 41-16 34z"/><path class=p d="M320 2158l16-34 12 42-17 34z"/><path class=n d="M304 2193l16-35 11 42-16 35z"/><path class=l d="M288 2228l16-35 11 42-16 36z"/><path class=j d="M272 2264l16-36 11 43-16 37z"/><path class=i d="M256 2300l16-36 11 44-16 37z"/><path class=g d="M240 2337l16-37 11 45-16 38z"/><path class=e d="M224 2374l16-37 11 46-16 37z"/><path class=c d="M208 2412l16-38 11 46-16 35z"/><path class=a d="M192 2449l16-37 11 43-16 4z"/><path class=n d="M991 2017l17 25 11 18-16-24z"/><path class=p d="M975 1993l16 24 12 19-16-23z"/><path class=q d="M959 1969l16 24 12 20-17-22z"/><path class=s d="M943 1947l16 22 11 22-16-22z"/><path class=u d="M927 1925l16 22 11 22-16-20z"/><path class=v d="M911 1905l16 20 11 24-16-20z"/><path class=x d="M895 1885l16 20 11 24-16-18z"/><path class=y d="M879 1867l16 18 11 26-16-17z"/><path class=z d="M863 1850l16 17 11 27-16-17z"/><path class=zb d="M847 1834l16 16 11 27-16-14z"/><path class=zc d="M830 1819l17 15 11 29-16-14z"/><path class=zd d="M814 1806l16 13 12 30-16-12z"/><path class=ze d="M798 1795l16 11 12 31-17-11z"/><path class=zf d="M782 1785l16 10 11 31-16-9z"/><path class=zg d="M750 1770l16 7 16 8 11 32-16-7-16-6z"/><path class=zh d="M718 1762l16 3 16 5 11 34-16-4-16-3z"/><path class=zi d="M605 1790l16-9 16-8 16-6 16-4 17-2 16 0 16 1 11 35-16-1-16 1-16 3-16 4-17 6-16 8-16 10z"/><path class=zh d="M573 1815l16-14 16-11 11 38-16 12-16 13z"/><path class=zg d="M557 1829l16-14 11 38-16 16z"/><path class=zf d="M541 1846l16-17 11 40-16 17z"/><path class=ze d="M525 1864l16-18 11 40-16 19z"/><path class=zd d="M509 1885l16-21 11 41-16 20z"/><path class=zc d="M492 1906l17-21 11 40-16 22z"/><path class=zb d="M476 1930l16-24 12 41-17 24z"/><path class=za d="M460 1954l16-24 11 41-16 26z"/><path class=z d="M444 1981l16-27 11 43-16 26z"/><path class=x d="M428 2008l16-27 11 42-16 29z"/><path class=w d="M412 2038l16-30 11 44-16 29z"/><path class=u d="M396 2068l16-30 11 43-16 31z"/><path class=s d="M380 2099l16-31 11 44-16 33z"/><path class=r d="M364 2132l16-33 11 46-16 33z"/><path class=p d="M348 2166l16-34 11 46-16 34z"/><path class=n d="M331 2200l17-34 11 46-16 35z"/><path class=l d="M315 2235l16-35 12 47-17 36z"/><path class=j d="M299 2271l16-36 11 48-16 37z"/><path class=h d="M283 2308l16-37 11 49-16 37z"/><path class=f d="M267 2345l16-37 11 49-16 38z"/><path class=d d="M251 2383l16-38 11 50-16 38z"/><path class=b d="M235 2420l16-37 11 50-16 27z"/><path class=a d="M203 2459l16-4 16-35 11 40-16 5-16 4z"/><path class=l d="M1019 2060l16 24 11 16-16-22z"/><path class=m d="M1003 2036l16 24 11 18-16-23z"/><path class=o d="M987 2013l16 23 11 19-16-21z"/><path class=q d="M970 1991l17 22 11 21-16-21z"/><path class=r d="M954 1969l16 22 12 22-17-20z"/><path class=t d="M938 1949l16 20 11 24-16-20z"/><path class=u d="M922 1929l16 20 11 24-16-18z"/><path class=w d="M906 1911l16 18 11 26-16-17z"/><path class=x d="M890 1894l16 17 11 27-16-16z"/><path class=y d="M874 1877l16 17 11 28-16-15z"/><path class=z d="M858 1863l16 14 11 30-16-14z"/><path class=zb d="M842 1849l16 14 11 30-16-12z"/><path class=zc d="M826 1837l16 12 11 32-16-11z"/><path class=zd d="M793 1817l16 9 17 11 11 33-16-10-17-8z"/><path class=ze d="M777 1810l16 7 11 35-16-7z"/><path class=zf d="M745 1800l16 4 16 6 11 35-16-5-16-3z"/><path class=zg d="M616 1828l16-10 16-8 17-6 16-4 16-3 16-1 16 1 16 3 11 37-16-2-16-1-16 2-16 3-16 5-16 7-17 8-16 11z"/><path class=zf d="M584 1853l16-13 16-12 11 42-16 12-16 14z"/><path class=ze d="M568 1869l16-16 11 43-16 16z"/><path class=zd d="M536 1905l16-19 16-17 11 43-16 18-16 19z"/><path class=zc d="M520 1925l16-20 11 44-16 21z"/><path class=za d="M504 1947l16-22 11 45-16 23z"/><path class=z d="M487 1971l17-24 11 46-16 24z"/><path class=y d="M471 1997l16-26 12 46-16 26z"/><path class=x d="M455 2023l16-26 12 46-17 28z"/><path class=v d="M439 2052l16-29 11 48-16 28z"/><path class=u d="M423 2081l16-29 11 47-16 31z"/><path class=s d="M407 2112l16-31 11 49-16 31z"/><path class=q d="M391 2145l16-33 11 49-16 33z"/><path class=p d="M375 2178l16-33 11 49-16 34z"/><path class=n d="M359 2212l16-34 11 50-16 35z"/><path class=l d="M343 2247l16-35 11 51-16 36z"/><path class=j d="M326 2283l17-36 11 52-16 36z"/><path class=h d="M310 2320l16-37 12 52-16 38z"/><path class=f d="M294 2357l16-37 12 53-17 38z"/><path class=d d="M278 2395l16-38 11 54-16 38z"/><path class=b d="M262 2433l16-38 11 54-16 17z"/><path class=a d="M214 2469l16-4 16-5 16-27 11 33-16 5-16 4-16 5z"/><path class=i d="M1046 2100l16 24 11 15-16-22z"/><path class=k d="M1030 2078l16 22 11 17-16-21z"/><path class=m d="M1014 2055l16 23 11 18-16-21z"/><path class=n d="M998 2034l16 21 11 20-16-20z"/><path class=p d="M982 2013l16 21 11 21-16-20z"/><path class=q d="M965 1993l17 20 11 22-16-18z"/><path class=s d="M949 1973l16 20 12 24-17-18z"/><path class=t d="M933 1955l16 18 11 26-16-17z"/><path class=v d="M917 1938l16 17 11 27-16-16z"/><path class=w d="M901 1922l16 16 11 28-16-14z"/><path class=x d="M885 1907l16 15 11 30-16-14z"/><path class=y d="M869 1893l16 14 11 31-16-13z"/><path class=z d="M853 1881l16 12 11 32-16-11z"/><path class=za d="M837 1870l16 11 11 33-16-10z"/><path class=zb d="M821 1860l16 10 11 34-16-8z"/><path class=zc d="M804 1852l17 8 11 36-16-8z"/><path class=zd d="M772 1840l16 5 16 7 12 36-16-5-17-5z"/><path class=ze d="M724 1834l16 1 16 2 16 3 11 38-16-2-16-1-16 0z"/><path class=zf d="M660 1851l16-7 16-5 16-3 16-2 11 41-16 2-16 4-16 6-16 7z"/><path class=ze d="M627 1870l16-11 17-8 11 43-16 10-16 11z"/><path class=zd d="M595 1896l16-14 16-12 12 45-17 12-16 15z"/><path class=zc d="M579 1912l16-16 11 46-16 16z"/><path class=zb d="M563 1930l16-18 11 46-16 19z"/><path class=za d="M547 1949l16-19 11 47-16 20z"/><path class=z d="M531 1970l16-21 11 48-16 21z"/><path class=y d="M515 1993l16-23 11 48-16 24z"/><path class=x d="M499 2017l16-24 11 49-16 25z"/><path class=w d="M483 2043l16-26 11 50-16 26z"/><path class=u d="M466 2071l17-28 11 50-16 28z"/><path class=t d="M450 2099l16-28 12 50-17 30z"/><path class=r d="M434 2130l16-31 11 52-16 31z"/><path class=q d="M418 2161l16-31 11 52-16 32z"/><path class=o d="M402 2194l16-33 11 53-16 34z"/><path class=m d="M386 2228l16-34 11 54-16 34z"/><path class=k d="M370 2263l16-35 11 54-16 36z"/><path class=i d="M354 2299l16-36 11 55-16 36z"/><path class=g d="M338 2335l16-36 11 55-16 38z"/><path class=e d="M322 2373l16-38 11 57-16 37z"/><path class=c d="M305 2411l17-38 11 56-16 38z"/><path class=a d="M225 2480l16-5 16-4 16-5 16-17 16-38 12 56-17 5-16 4-16 5-16 4-16 5z"/><path class=i d="M1057 2117l16 22 11 16-16-20z"/><path class=k d="M1041 2096l16 21 11 18-16-20z"/><path class=l d="M1025 2075l16 21 11 19-16-19z"/><path class=n d="M1009 2055l16 20 11 21-16-19z"/><path class=o d="M993 2035l16 20 11 22-16-18z"/><path class=q d="M977 2017l16 18 11 24-16-17z"/><path class=r d="M960 1999l17 18 11 25-16-16z"/><path class=s d="M944 1982l16 17 12 27-16-15z"/><path class=u d="M928 1966l16 16 12 29-17-15z"/><path class=v d="M912 1952l16 14 11 30-16-13z"/><path class=w d="M896 1938l16 14 11 31-16-12z"/><path class=x d="M880 1925l16 13 11 33-16-11z"/><path class=y d="M864 1914l16 11 11 35-16-10z"/><path class=z d="M848 1904l16 10 11 36-16-9z"/><path class=za d="M816 1888l16 8 16 8 11 37-16-7-16-6z"/><path class=zb d="M783 1878l17 5 16 5 11 40-16-5-16-3z"/><path class=zc d="M751 1875l16 1 16 2 12 42-17-2-16 0z"/><path class=zd d="M687 1887l16-6 16-4 16-2 16 0 11 43-16 2-16 3-16 5-16 6z"/><path class=zc d="M639 1915l16-11 16-10 16-7 11 47-16 8-16 10-16 12z"/><path class=zb d="M606 1942l16-15 17-12 11 49-16 14-17 15z"/><path class=za d="M590 1958l16-16 11 51-16 17z"/><path class=z d="M574 1977l16-19 11 52-16 19z"/><path class=y d="M558 1997l16-20 11 52-16 21z"/><path class=x d="M542 2018l16-21 11 53-16 22z"/><path class=w d="M526 2042l16-24 11 54-16 24z"/><path class=v d="M510 2067l16-25 11 54-16 26z"/><path class=t d="M494 2093l16-26 11 55-16 27z"/><path class=s d="M478 2121l16-28 11 56-16 29z"/><path class=q d="M461 2151l17-30 11 57-16 31z"/><path class=p d="M445 2182l16-31 12 58-17 31z"/><path class=n d="M429 2214l16-32 11 58-16 33z"/><path class=l d="M413 2248l16-34 11 59-16 35z"/><path class=j d="M397 2282l16-34 11 60-16 35z"/><path class=i d="M381 2318l16-36 11 61-16 36z"/><path class=g d="M365 2354l16-36 11 61-16 37z"/><path class=e d="M349 2392l16-38 11 62-16 38z"/><path class=c d="M333 2429l16-37 11 62-16 19z"/><path class=a d="M236 2490l16-5 16-4 16-5 16-4 17-5 16-38 11 44-16 4-16 5-16 4-17 5-16 5-16 4z"/><path class=e d="M1100 2176l17 22 11 14-16-20z"/><path class=g d="M1084 2155l16 21 12 16-17-20z"/><path class=i d="M1068 2135l16 20 11 17-16-18z"/><path class=j d="M1052 2115l16 20 11 19-16-18z"/><path class=l d="M1036 2096l16 19 11 21-16-18z"/><path class=m d="M1020 2077l16 19 11 22-16-16z"/><path class=n d="M1004 2059l16 18 11 25-16-16z"/><path class=p d="M988 2042l16 17 11 27-16-15z"/><path class=q d="M972 2026l16 16 11 29-16-14z"/><path class=r d="M956 2011l16 15 11 31-16-13z"/><path class=s d="M939 1996l17 15 11 33-16-12z"/><path class=t d="M923 1983l16 13 12 36-17-12z"/><path class=u d="M907 1971l16 12 11 37-16-10z"/><path class=v d="M891 1960l16 11 11 39-16-9z"/><path class=w d="M875 1950l16 10 11 41-16-8z"/><path class=x d="M859 1941l16 9 11 43-16-7z"/><path class=y d="M827 1928l16 6 16 7 11 45-16-6-16-4z"/><path class=z d="M811 1923l16 5 11 48-16-3z"/><path class=za d="M666 1952l16-10 16-8 16-6 16-5 16-3 16-2 16 0 17 2 16 3 11 50-16-2-16 0-16 1-17 3-16 5-16 6-16 8-16 9-16 11z"/><path class=z d="M634 1978l16-14 16-12 11 62-16 13-16 15z"/><path class=y d="M617 1993l17-15 11 64-16 17z"/><path class=x d="M585 2029l16-19 16-17 12 66-16 18-17 20z"/><path class=w d="M569 2050l16-21 11 68-16 22z"/><path class=u d="M553 2072l16-22 11 69-16 23z"/><path class=t d="M537 2096l16-24 11 70-16 26z"/><path class=s d="M521 2122l16-26 11 72-16 27z"/><path class=r d="M505 2149l16-27 11 73-16 28z"/><path class=p d="M489 2178l16-29 11 74-16 30z"/><path class=n d="M473 2209l16-31 11 75-16 32z"/><path class=m d="M456 2240l17-31 11 76-16 33z"/><path class=k d="M440 2273l16-33 12 78-16 34z"/><path class=i d="M424 2308l16-35 12 79-17 35z"/><path class=g d="M408 2343l16-35 11 79-16 37z"/><path class=e d="M392 2379l16-36 11 81-16 37z"/><path class=c d="M376 2416l16-37 11 82-16 13z"/><path class=a d="M247 2500l16-4 16-5 17-5 16-4 16-5 16-4 16-19 16-38 11 58-16 4-16 5-16 4-16 5-16 5-16 4-17 5-16 4z"/><path class=e d="M1112 2192l16 20 11 13-16-18z"/><path class=g d="M1095 2172l17 20 11 15-16-17z"/><path class=h d="M1079 2154l16 18 12 18-16-17z"/><path class=i d="M1063 2136l16 18 12 19-17-15z"/><path class=k d="M1047 2118l16 18 11 22-16-16z"/><path class=l d="M1031 2102l16 16 11 24-16-14z"/><path class=m d="M1015 2086l16 16 11 26-16-14z"/><path class=n d="M999 2071l16 15 11 28-16-12z"/><path class=p d="M983 2057l16 14 11 31-16-12z"/><path class=q d="M967 2044l16 13 11 33-16-11z"/><path class=r d="M951 2032l16 12 11 35-16-10z"/><path class=s d="M934 2020l17 12 11 37-16-9z"/><path class=t d="M918 2010l16 10 12 40-16-9z"/><path class=u d="M886 1993l16 8 16 9 12 41-17-7-16-6z"/><path class=v d="M870 1986l16 7 11 45-16-5z"/><path class=w d="M838 1976l16 4 16 6 11 47-16-3-16-3z"/><path class=x d="M790 1971l16 0 16 2 16 3 11 51-16-1-16 0-16 2z"/><path class=y d="M725 1986l16-6 16-5 17-3 16-1 11 57-16 3-16 4-17 6-16 8z"/><path class=x d="M677 2014l16-11 16-9 16-8 11 63-16 9-16 11-16 12z"/><path class=w d="M661 2027l16-13 11 67-16 15z"/><path class=v d="M629 2059l16-17 16-15 11 69-16 16-16 17z"/><path class=u d="M613 2077l16-18 11 70-16 20z"/><path class=t d="M596 2097l17-20 11 72-16 21z"/><path class=s d="M580 2119l16-22 12 73-17 23z"/><path class=r d="M564 2142l16-23 11 74-16 25z"/><path class=p d="M548 2168l16-26 11 76-16 27z"/><path class=o d="M532 2195l16-27 11 77-16 28z"/><path class=n d="M516 2223l16-28 11 78-16 30z"/><path class=l d="M500 2253l16-30 11 80-16 31z"/><path class=j d="M484 2285l16-32 11 81-16 33z"/><path class=i d="M468 2318l16-33 11 82-16 34z"/><path class=g d="M452 2352l16-34 11 83-16 35z"/><path class=e d="M435 2387l17-35 11 84-16 34z"/><path class=c d="M419 2424l16-37 12 83-17 5z"/><path class=a d="M258 2510l16-4 17-5 16-4 16-5 16-5 16-4 16-5 16-4 16-13 16-37 11 51-16 4-16 5-16 4-16 5-16 5-16 4-16 5-16 4-16 5-16 5z"/><path class=c d="M1139 2225l16 19 11 12-16-17z"/><path class=e d="M1123 2207l16 18 11 14-16-16z"/><path class=f d="M1107 2190l16 17 11 16-16-16z"/><path class=g d="M1091 2173l16 17 11 17-16-15z"/><path class=i d="M1074 2158l17 15 11 19-16-14z"/><path class=j d="M1058 2142l16 16 12 20-17-13z"/><path class=k d="M1042 2128l16 14 11 23-16-12z"/><path class=l d="M1026 2114l16 14 11 25-16-12z"/><path class=m d="M1010 2102l16 12 11 27-16-10z"/><path class=n d="M994 2090l16 12 11 29-16-10z"/><path class=o d="M978 2079l16 11 11 31-16-9z"/><path class=p d="M962 2069l16 10 11 33-16-8z"/><path class=q d="M946 2060l16 9 11 35-16-8z"/><path class=r d="M913 2044l17 7 16 9 11 36-16-6-16-5z"/><path class=s d="M897 2038l16 6 12 41-17-5z"/><path class=t d="M865 2030l16 3 16 5 11 42-16-3-16-2z"/><path class=u d="M801 2028l16-2 16 0 16 1 16 3 11 45-16-1-16 1-16 1-16 3z"/><path class=v d="M769 2035l16-4 16-3 11 51-16 5-16 5z"/><path class=u d="M704 2069l16-11 16-9 16-8 17-6 11 54-16 8-16 9-17 10-16 12z"/><path class=t d="M672 2096l16-15 16-12 11 59-16 14-16 15z"/><path class=s d="M656 2112l16-16 11 61-16 17z"/><path class=r d="M640 2129l16-17 11 62-16 19z"/><path class=q d="M624 2149l16-20 11 64-16 20z"/><path class=p d="M608 2170l16-21 11 64-16 23z"/><path class=o d="M591 2193l17-23 11 66-16 24z"/><path class=n d="M575 2218l16-25 12 67-16 25z"/><path class=l d="M559 2245l16-27 12 67-17 28z"/><path class=k d="M543 2273l16-28 11 68-16 29z"/><path class=i d="M527 2303l16-30 11 69-16 30z"/><path class=h d="M511 2334l16-31 11 69-16 32z"/><path class=f d="M495 2367l16-33 11 70-16 34z"/><path class=d d="M479 2401l16-34 11 71-16 33z"/><path class=b d="M463 2436l16-35 11 70-16 5z"/><path class=a d="M270 2521l16-5 16-5 16-4 16-5 16-4 16-5 16-5 16-4 16-5 16-4 17-5 16-34 11 40-16 4-16 5-16 4-17 5-16 5-16 4-16 5-16 4-16 5-16 5-16 4-16 5z"/><path class=c d="M1150 2239l16 17 11 11-16-15z"/><path class=d d="M1134 2223l16 16 11 13-16-15z"/><path class=f d="M1118 2207l16 16 11 14-16-14z"/><path class=g d="M1102 2192l16 15 11 16-16-14z"/><path class=h d="M1086 2178l16 14 11 17-16-12z"/><path class=i d="M1069 2165l17 13 11 19-16-12z"/><path class=j d="M1053 2153l16 12 12 20-16-11z"/><path class=k d="M1037 2141l16 12 12 21-17-10z"/><path class=l d="M1021 2131l16 10 11 23-16-9z"/><path class=m d="M1005 2121l16 10 11 24-16-9z"/><path class=n d="M989 2112l16 9 11 25-16-8z"/><path class=o d="M957 2096l16 8 16 8 11 26-16-6-16-6z"/><path class=p d="M941 2090l16 6 11 30-16-5z"/><path class=q d="M908 2080l17 5 16 5 11 31-16-5-16-3z"/><path class=r d="M860 2074l16 1 16 2 16 3 12 33-16-2-17-1-16 0z"/><path class=s d="M764 2097l16-8 16-5 16-5 16-3 16-1 16-1 11 36-16 2-16 2-16 4-16 5-16 6-16 8z"/><path class=r d="M715 2128l16-12 17-10 16-9 11 40-16 10-16 10-17 13z"/><path class=q d="M699 2142l16-14 11 42-16 14z"/><path class=p d="M667 2174l16-17 16-15 11 42-16 16-16 17z"/><path class=o d="M651 2193l16-19 11 43-16 19z"/><path class=n d="M635 2213l16-20 11 43-16 21z"/><path class=m d="M619 2236l16-23 11 44-16 22z"/><path class=l d="M603 2260l16-24 11 43-16 24z"/><path class=j d="M587 2285l16-25 11 43-16 26z"/><path class=i d="M570 2313l17-28 11 44-16 27z"/><path class=g d="M554 2342l16-29 12 43-17 29z"/><path class=f d="M538 2372l16-30 11 43-16 31z"/><path class=d d="M522 2404l16-32 11 44-16 32z"/><path class=b d="M506 2438l16-34 11 44-16 29z"/><path class=a d="M281 2531l16-5 16-4 16-5 16-5 16-4 16-5 16-4 16-5 17-5 16-4 16-5 16-4 16-5 16-33 11 39-16 4-16 5-16 5-16 4-16 5-16 4-17 5-16 5-16 4-16 5-16 4-16 5-16 5-16 4z"/><path class=c d="M1161 2252l16 15 11 12-16-14z"/><path class=d d="M1145 2237l16 15 11 13-16-14z"/><path class=e d="M1129 2223l16 14 11 14-16-12z"/><path class=f d="M1113 2209l16 14 11 16-16-12z"/><path class=h d="M1097 2197l16 12 11 18-16-11z"/><path class=i d="M1065 2174l16 11 16 12 11 19-16-11-16-10z"/><path class=j d="M1048 2164l17 10 11 21-16-8z"/><path class=k d="M1032 2155l16 9 12 23-17-9z"/><path class=l d="M1016 2146l16 9 11 23-16-7z"/><path class=m d="M1000 2138l16 8 11 25-16-6z"/><path class=n d="M968 2126l16 6 16 6 11 27-16-6-16-5z"/><path class=o d="M936 2116l16 5 16 5 11 28-16-4-16-3z"/><path class=p d="M904 2111l16 2 16 3 11 31-16-3-16-1z"/><path class=q d="M759 2147l16-10 16-8 16-6 16-5 16-4 16-2 16-2 16 0 17 1 11 32-16 0-17 1-16 2-16 3-16 4-16 5-16 7-16 8-16 10z"/><path class=p d="M726 2170l17-13 16-10 11 36-16 10-16 13z"/><path class=o d="M710 2184l16-14 12 36-17 14z"/><path class=n d="M678 2217l16-17 16-16 11 36-16 15-16 17z"/><path class=m d="M662 2236l16-19 11 35-16 19z"/><path class=l d="M646 2257l16-21 11 35-16 20z"/><path class=k d="M630 2279l16-22 11 34-16 22z"/><path class=i d="M614 2303l16-24 11 34-16 23z"/><path class=h d="M598 2329l16-26 11 33-16 25z"/><path class=g d="M582 2356l16-27 11 32-16 27z"/><path class=e d="M565 2385l17-29 11 32-16 28z"/><path class=d d="M549 2416l16-31 12 31-16 29z"/><path class=b d="M533 2448l16-32 12 29-17 31z"/><path class=a d="M292 2541l16-4 16-5 16-5 16-4 16-5 16-4 16-5 17-5 16-4 16-5 16-4 16-5 16-5 16-4 16-29 11 28-16 11-16 5-16 4-16 5-16 4-16 5-16 5-16 4-16 5-17 4-16 5-16 5-16 4-16 5-16 4z"/><path class=b d="M1188 2279l16 15 12 10-17-13z"/><path class=c d="M1172 2265l16 14 11 12-16-12z"/><path class=d d="M1156 2251l16 14 11 14-16-12z"/><path class=e d="M1140 2239l16 12 11 16-16-11z"/><path class=f d="M1124 2227l16 12 11 17-16-10z"/><path class=g d="M1108 2216l16 11 11 19-16-9z"/><path class=h d="M1092 2205l16 11 11 21-16-9z"/><path class=i d="M1076 2195l16 10 11 23-16-8z"/><path class=j d="M1043 2178l17 9 16 8 11 25-16-7-16-6z"/><path class=k d="M1027 2171l16 7 12 29-16-6z"/><path class=l d="M995 2159l16 6 16 6 12 30-17-5-16-5z"/><path class=m d="M979 2154l16 5 11 32-16-3z"/><path class=n d="M931 2144l16 3 16 3 16 4 11 34-16-3-16-2-16-1z"/><path class=o d="M882 2144l17-1 16 0 16 1 11 38-16 0-16 1-16 1z"/><path class=p d="M818 2158l16-5 16-4 16-3 16-2 12 40-16 3-17 4-16 5-16 6z"/><path class=o d="M754 2193l16-10 16-10 16-8 16-7 11 44-16 7-16 8-16 10-16 11z"/><path class=n d="M721 2220l17-14 16-13 11 45-16 12-16 14z"/><path class=m d="M705 2235l16-15 12 44-16 15z"/><path class=l d="M689 2252l16-17 12 44-17 16z"/><path class=k d="M673 2271l16-19 11 43-16 18z"/><path class=j d="M657 2291l16-20 11 42-16 20z"/><path class=i d="M641 2313l16-22 11 42-16 21z"/><path class=h d="M625 2336l16-23 11 41-16 22z"/><path class=g d="M609 2361l16-25 11 40-16 24z"/><path class=e d="M593 2388l16-27 11 39-16 25z"/><path class=d d="M577 2416l16-28 11 37-16 27z"/><path class=c d="M561 2445l16-29 11 36-16 27z"/><path class=a d="M303 2551l16-4 16-5 16-4 16-5 16-5 17-4 16-5 16-4 16-5 16-5 16-4 16-5 16-4 16-5 16-11 17-31 11 34-16 14-17 4-16 5-16 4-16 5-16 5-16 4-16 5-16 4-16 5-16 5-17 4-16 5-16 4-16 5-16 5z"/><path class=b d="M1199 2291l17 13 11 10-16-11z"/><path class=c d="M1183 2279l16 12 12 12-16-10z"/><path class=d d="M1167 2267l16 12 12 14-17-9z"/><path class=e d="M1135 2246l16 10 16 11 11 17-16-9-16-8z"/><path class=f d="M1119 2237l16 9 11 21-16-8z"/><path class=g d="M1103 2228l16 9 11 22-16-7z"/><path class=h d="M1087 2220l16 8 11 24-16-6z"/><path class=i d="M1055 2207l16 6 16 7 11 26-16-5-16-5z"/><path class=j d="M1039 2201l16 6 11 29-16-4z"/><path class=k d="M1006 2191l16 5 17 5 11 31-16-4-17-2z"/><path class=l d="M958 2183l16 2 16 3 16 3 11 35-16-2-16-2-16 0z"/><path class=m d="M894 2184l16-1 16-1 16 0 16 1 11 39-16 0-16 1-16 2-16 2z"/><path class=n d="M829 2202l16-6 16-5 17-4 16-3 11 43-16 4-16 4-17 6-16 6z"/><path class=m d="M781 2227l16-10 16-8 16-7 11 45-16 8-16 9-16 9z"/><path class=l d="M749 2250l16-12 16-11 11 46-16 11-16 13z"/><path class=k d="M717 2279l16-15 16-14 11 47-16 13-16 15z"/><path class=j d="M700 2295l17-16 11 46-16 16z"/><path class=i d="M684 2313l16-18 12 46-17 17z"/><path class=h d="M668 2333l16-20 11 45-16 18z"/><path class=g d="M652 2354l16-21 11 43-16 20z"/><path class=f d="M636 2376l16-22 11 42-16 21z"/><path class=e d="M620 2400l16-24 11 41-16 23z"/><path class=d d="M604 2425l16-25 11 40-16 23z"/><path class=b d="M588 2452l16-27 11 38-16 25z"/><path class=a d="M314 2562l16-5 16-5 16-4 16-5 17-4 16-5 16-5 16-4 16-5 16-4 16-5 16-5 16-4 16-5 17-4 16-14 16-27 11 36-16 10-16 5-16 4-16 5-17 5-16 4-16 5-16 4-16 5-16 5-16 4-16 5-16 4-16 5-17 5-16 4-16 5z"/><path class=a d="M1211 2303l16 11 11 11-16-9z"/><path class=b d="M1195 2293l16 10 11 13-16-9z"/><path class=c d="M1178 2284l17 9 11 14-16-7z"/><path class=d d="M1162 2275l16 9 12 16-17-8z"/><path class=e d="M1146 2267l16 8 11 17-16-6z"/><path class=f d="M1114 2252l16 7 16 8 11 19-16-6-16-5z"/><path class=g d="M1098 2246l16 6 11 23-16-4z"/><path class=h d="M1066 2236l16 5 16 5 11 25-16-4-16-3z"/><path class=i d="M1034 2228l16 4 16 4 11 28-16-3-16-2z"/><path class=j d="M985 2222l16 2 16 2 17 2 11 31-16-1-16-1-17 0z"/><path class=k d="M905 2227l16-2 16-2 16-1 16 0 16 0 11 35-16 0-16 2-16 2-16 3-16 3z"/><path class=l d="M856 2241l17-6 16-4 16-4 11 40-16 4-16 6-16 6z"/><path class=k d="M792 2273l16-9 16-9 16-8 16-6 12 42-16 7-17 8-16 8-16 10z"/><path class=j d="M760 2297l16-13 16-11 11 43-16 11-16 12z"/><path class=i d="M728 2325l16-15 16-13 11 42-16 13-16 15z"/><path class=h d="M712 2341l16-16 11 42-16 15z"/><path class=g d="M695 2358l17-17 11 41-16 16z"/><path class=f d="M679 2376l16-18 12 40-16 18z"/><path class=e d="M663 2396l16-20 12 40-17 19z"/><path class=d d="M647 2417l16-21 11 39-16 20z"/><path class=c d="M631 2440l16-23 11 38-16 21z"/><path class=b d="M615 2463l16-23 11 36-16 22z"/><path class=a d="M325 2572l16-5 16-4 17-5 16-5 16-4 16-5 16-4 16-5 16-5 16-4 16-5 16-4 17-5 16-5 16-4 16-5 16-10 16-25 11 35-16 6-16 4-16 5-16 5-16 4-16 5-17 4-16 5-16 5-16 4-16 5-16 4-16 5-16 5-16 4-16 5-17 4-16 5z"/><path class=a d="M1222 2316l16 9 11 10-16-8z"/><path class=b d="M1206 2307l16 9 11 11-16-7z"/><path class=c d="M1190 2300l16 7 11 13-16-6z"/><path class=d d="M1157 2286l16 6 17 8 11 14-16-5-16-5z"/><path class=e d="M1141 2280l16 6 12 18-17-5z"/><path class=f d="M1109 2271l16 4 16 5 11 19-16-4-16-3z"/><path class=g d="M1077 2264l16 3 16 4 11 21-16-3-16-2z"/><path class=h d="M1029 2258l16 1 16 2 16 3 11 23-16-1-16-1-16-1z"/><path class=i d="M964 2259l16-2 16 0 17 0 16 1 11 26-16 1-16 1-17 1-16 2z"/><path class=j d="M868 2283l16-6 16-6 16-4 16-3 16-3 16-2 11 30-16 3-16 3-16 4-16 5-16 6-16 6z"/><path class=i d="M803 2316l16-10 16-8 17-8 16-7 11 33-16 8-16 8-17 9-16 9z"/><path class=h d="M771 2339l16-12 16-11 11 34-16 11-16 12z"/><path class=g d="M739 2367l16-15 16-13 11 34-16 13-16 14z"/><path class=f d="M723 2382l16-15 11 33-16 14z"/><path class=e d="M707 2398l16-16 11 32-16 16z"/><path class=d d="M674 2435l17-19 16-18 11 32-16 17-16 18z"/><path class=c d="M658 2455l16-20 12 30-17 19z"/><path class=b d="M642 2476l16-21 11 29-16 19z"/><path class=a d="M336 2582l16-5 17-4 16-5 16-4 16-5 16-5 16-4 16-5 16-4 16-5 16-5 17-4 16-5 16-4 16-5 16-5 16-4 16-6 16-22 11 27-16 6-16 5-16 5-16 4-16 5-16 4-16 5-16 5-16 4-17 5-16 4-16 5-16 5-16 4-16 5-16 4-16 5-16 5-16 4z"/><path class=a d="M1233 2327l16 8 11 10-16-6z"/><path class=b d="M1217 2320l16 7 11 12-16-6z"/><path class=c d="M1185 2309l16 5 16 6 11 13-16-4-16-5z"/><path class=d d="M1152 2299l17 5 16 5 11 15-16-4-16-3z"/><path class=e d="M1120 2292l16 3 16 4 12 18-17-2-16-3z"/><path class=f d="M1088 2287l16 2 16 3 11 20-16-1-16-1z"/><path class=g d="M1040 2284l16 1 16 1 16 1 11 23-16-1-16 0-16 0z"/><path class=h d="M847 2332l16-8 16-8 16-6 16-6 16-5 16-4 16-3 16-3 16-2 17-1 16-1 16-1 11 25-16 1-16 2-16 2-17 3-16 3-16 4-16 4-16 5-16 6-16 7-16 7-16 8z"/><path class=g d="M798 2361l16-11 16-9 17-9 11 29-16 9-16 9-17 11z"/><path class=f d="M766 2386l16-13 16-12 11 29-16 11-16 12z"/><path class=e d="M734 2414l16-14 16-14 11 27-16 13-16 14z"/><path class=d d="M718 2430l16-16 11 26-16 15z"/><path class=c d="M702 2447l16-17 11 25-16 15z"/><path class=b d="M669 2484l17-19 16-18 11 23-16 17-16 17z"/><path class=a d="M348 2592l16-4 16-5 16-5 16-4 16-5 16-4 16-5 16-5 16-4 17-5 16-4 16-5 16-5 16-4 16-5 16-4 16-5 16-5 16-6 16-19 12 20-16 11-17 5-16 4-16 5-16 5-16 4-16 5-16 4-16 5-16 5-16 4-17 5-16 4-16 5-16 5-16 4-16 5-16 4-16 5-16 4z"/><path class=a d="M1244 2339l16 6 11 10-16-5z"/><path class=b d="M1212 2329l16 4 16 6 11 11-16-4-16-3z"/><path class=c d="M1180 2320l16 4 16 5 11 14-16-4-16-2z"/><path class=d d="M1147 2315l17 2 16 3 11 17-16-3-16-1z"/><path class=e d="M1099 2310l16 1 16 1 16 3 12 18-16-2-17 0-16-1z"/><path class=f d="M1051 2309l16 0 16 0 16 1 11 20-16 0-16 1-16 1z"/><path class=g d="M858 2361l16-8 16-7 16-7 16-6 16-5 16-4 16-4 16-3 17-3 16-2 16-2 16-1 11 23-16 2-16 2-16 2-16 3-16 4-17 4-16 5-16 5-16 6-16 6-16 7-16 8z"/><path class=f d="M809 2390l17-11 16-9 16-9 11 25-16 9-16 9-16 10z"/><path class=e d="M777 2413l16-12 16-11 12 24-17 10-16 12z"/><path class=d d="M745 2440l16-14 16-13 11 23-16 12-16 13z"/><path class=c d="M729 2455l16-15 11 21-16 13z"/><path class=b d="M697 2487l16-17 16-15 11 19-16 15-16 15z"/><path class=a d="M359 2602l16-4 16-5 16-4 16-5 16-4 16-5 16-5 16-4 17-5 16-4 16-5 16-5 16-4 16-5 16-4 16-5 16-5 16-4 17-5 16-11 16-17 11 17-16 16-16 5-16 5-17 5-16 4-16 5-16 4-16 5-16 5-16 4-16 5-16 4-16 5-17 5-16 4-16 5-16 4-16 5-16 5-16 4-16 5z"/><path class=a d="M1255 2350l16 5 11 10-16-3z"/><path class=b d="M1223 2343l16 3 16 4 11 12-16-4-16-3z"/><path class=c d="M1175 2334l16 3 16 2 16 4 11 12-16-2-16-2-16-1z"/><path class=d d="M1143 2331l16 2 16 1 11 16-16-1-16-1z"/><path class=e d="M1078 2331l16-1 16 0 16 1 17 0 11 17-16 0-17 0-16 1-16 1z"/><path class=f d="M869 2386l16-8 16-7 16-6 16-6 16-5 16-5 17-4 16-4 16-3 16-2 16-2 16-2 16-1 11 19-16 1-16 2-16 3-16 3-16 3-16 4-16 4-17 5-16 5-16 6-16 7-16 7-16 7z"/><path class=e d="M821 2414l16-10 16-9 16-9 11 21-16 8-16 9-16 10z"/><path class=d d="M772 2448l16-12 16-12 17-10 11 20-16 10-16 11-17 11z"/><path class=c d="M756 2461l16-13 11 18-16 13z"/><path class=b d="M724 2489l16-15 16-13 11 18-16 12-16 14z"/><path class=a d="M370 2613l16-5 16-4 16-5 16-5 16-4 16-5 16-4 17-5 16-5 16-4 16-5 16-4 16-5 16-5 16-4 16-5 16-4 17-5 16-5 16-5 16-16 16-15 11 16-16 14-16 12-16 5-16 4-16 5-16 4-17 5-16 5-16 4-16 5-16 4-16 5-16 5-16 4-16 5-16 4-17 5-16 5-16 4-16 5-16 4-16 5z"/><path class=a d="M1266 2362l16 3 12 11-16-4z"/><path class=b d="M1218 2353l16 2 16 3 16 4 12 10-17-3-16-2-16-2z"/><path class=c d="M1186 2350l16 1 16 2 11 12-16-2-16-1z"/><path class=d d="M1121 2348l17 0 16 0 16 1 16 1 11 12-16-1-16 0-16 0-16 0z"/><path class=e d="M1025 2359l16-3 16-3 16-2 16-1 16-1 16-1 12 13-16 1-17 2-16 1-16 3-16 2-16 3z"/><path class=f d="M944 2380l16-5 17-5 16-4 16-4 16-3 11 14-16 4-16 4-16 5-16 5-16 5z"/><path class=e d="M848 2424l16-9 16-8 16-7 16-7 16-7 16-6 12 16-17 6-16 7-16 7-16 8-16 8-16 9z"/><path class=d d="M816 2444l16-10 16-10 11 17-16 10-16 10z"/><path class=c d="M767 2479l16-13 17-11 16-11 11 17-16 10-16 12-17 12z"/><path class=b d="M735 2505l16-14 16-12 11 16-16 12-16 13z"/><path class=a d="M381 2623l16-5 16-4 16-5 16-4 16-5 17-5 16-4 16-5 16-4 16-5 16-5 16-4 16-5 16-4 16-5 17-5 16-4 16-5 16-4 16-5 16-12 16-14 11 15-16 14-16 7-16 5-16 4-16 5-16 5-16 4-17 5-16 4-16 5-16 5-16 4-16 5-16 4-16 5-16 5-16 4-17 5-16 4-16 5-16 5-16 4z"/><path class=a d="M1261 2369l17 3 16 4 11 10-16-3-16-3z"/><path class=b d="M1229 2365l16 2 16 2 12 11-17-3-16-2z"/><path class=c d="M1181 2361l16 1 16 1 16 2 11 10-16-2-16-1-16-1z"/><path class=d d="M1117 2362l16-1 16 0 16 0 16 0 11 10-16 0-16 0-16 1-16 1z"/><path class=e d="M891 2424l16-8 16-7 16-7 17-6 16-5 16-5 16-5 16-4 16-4 16-3 16-2 16-3 16-1 17-2 11 11-16 1-17 2-16 2-16 3-16 4-16 3-16 5-16 4-16 6-16 6-16 6-17 7-16 7-16 8z"/><path class=d d="M843 2451l16-10 16-9 16-8 11 13-16 9-16 9-16 10z"/><path class=c d="M795 2483l16-12 16-10 16-10 11 14-16 10-16 11-16 12z"/><path class=b d="M762 2507l16-12 17-12 11 15-16 12-16 12z"/><path class=a d="M392 2633l16-4 16-5 16-5 16-4 17-5 16-4 16-5 16-5 16-4 16-5 16-4 16-5 16-5 16-4 17-5 16-4 16-5 16-5 16-4 16-5 16-7 16-14 16-13 12 15-17 14-16 11-16 4-16 5-16 5-16 4-16 5-16 4-16 5-16 5-17 4-16 5-16 4-16 5-16 5-16 4-16 5-16 4-16 5-16 5-17 4-16 5-16 4z"/><path class=a d="M1273 2380l16 3 16 3 11 10-16-3-16-3z"/><path class=b d="M1240 2375l16 2 17 3 11 10-16-3-17-2z"/><path class=c d="M1192 2371l16 1 16 1 16 2 11 10-16-2-16-1-16-1z"/><path class=d d="M1128 2373l16-1 16-1 16 0 16 0 11 10-16-1-16 1-16 0-16 1z"/><path class=e d="M918 2429l16-7 17-7 16-6 16-6 16-6 16-4 16-5 16-3 16-4 16-3 16-2 17-2 16-1 11 9-16 2-16 2-16 2-17 3-16 4-16 4-16 4-16 5-16 6-16 6-16 6-16 8-16 7z"/><path class=d d="M854 2465l16-10 16-9 16-9 16-8 12 12-17 9-16 9-16 9-16 10z"/><path class=c d="M822 2486l16-11 16-10 11 13-16 11-16 11z"/><path class=b d="M790 2510l16-12 16-12 11 14-16 11-16 13z"/><path class=a d="M403 2643l16-4 16-5 17-4 16-5 16-5 16-4 16-5 16-4 16-5 16-5 16-4 16-5 17-4 16-5 16-5 16-4 16-5 16-4 16-5 16-5 16-4 16-11 17-14 16-12 11 14-16 13-16 13-17 7-16 5-16 4-16 5-16 4-16 5-16 5-16 4-16 5-16 4-17 5-16 5-16 4-16 5-16 4-16 5-16 5-16 4-16 5-16 4-17 5-16 5z"/><path class=a d="M1284 2390l16 3 16 3 11 10-16-3-16-3z"/><path class=b d="M1251 2385l17 2 16 3 11 10-16-3-16-2z"/><path class=c d="M1203 2381l16 1 16 1 16 2 12 10-16-2-17-2-16-1z"/><path class=d d="M1139 2382l16-1 16 0 16-1 16 1 11 9-16 0-16 0-16 1-16 1z"/><path class=e d="M930 2441l16-7 16-8 16-6 16-6 16-6 16-5 16-4 16-4 16-4 17-3 16-2 16-2 16-2 11 10-16 1-16 2-16 3-16 3-17 4-16 4-16 4-16 6-16 5-16 7-16 6-16 8-16 8z"/><path class=d d="M881 2468l16-9 16-9 17-9 11 12-16 8-17 10-16 9z"/><path class=c d="M833 2500l16-11 16-11 16-10 11 12-16 10-16 11-16 12z"/><path class=b d="M801 2524l16-13 16-11 11 13-16 12-16 12z"/><path class=a d="M414 2654l16-5 17-5 16-4 16-5 16-4 16-5 16-5 16-4 16-5 16-4 16-5 17-5 16-4 16-5 16-4 16-5 16-5 16-4 16-5 16-4 16-5 17-7 16-13 16-13 11 13-16 13-16 13-16 4-17 5-16 5-16 4-16 5-16 4-16 5-16 5-16 4-16 5-16 4-16 5-17 5-16 4-16 5-16 4-16 5-16 5-16 4-16 5-16 4-16 5z"/><path class=a d="M1295 2400l16 3 16 3 11 11-16-4-16-3z"/><path class=b d="M1263 2395l16 2 16 3 11 10-16-3-16-2z"/><path class=c d="M1214 2390l16 1 17 2 16 2 11 10-16-2-16-2-17-1z"/><path class=d d="M1166 2391l16-1 16 0 16 0 11 10-16 0-16 0-16 1z"/><path class=e d="M957 2445l16-8 16-6 16-7 16-5 16-6 16-4 16-4 17-4 16-3 16-3 16-2 16-1 16-1 11 10-16 1-16 1-16 2-16 3-16 3-16 4-16 4-17 5-16 5-16 6-16 7-16 7-16 7z"/><path class=d d="M892 2480l16-9 17-10 16-8 16-8 11 11-16 9-16 8-16 10-16 10z"/><path class=c d="M860 2501l16-11 16-10 12 13-17 10-16 11z"/><path class=b d="M812 2537l16-12 16-12 16-12 11 13-16 12-16 12-16 12z"/><path class=a d="M426 2664l16-5 16-4 16-5 16-4 16-5 16-5 16-4 16-5 16-4 17-5 16-5 16-4 16-5 16-4 16-5 16-5 16-4 16-5 16-4 16-5 17-5 16-4 16-13 16-13 11 13-16 13-16 10-16 5-16 4-16 5-17 4-16 5-16 5-16 4-16 5-16 4-16 5-16 5-16 4-16 5-17 4-16 5-16 5-16 4-16 5-16 4-16 5-16 5-16 4z"/><path class=a d="M1306 2410l16 3 16 4 11 10-16-4-16-3z"/><path class=b d="M1274 2405l16 2 16 3 11 10-16-3-16-2z"/><path class=c d="M1225 2400l17 1 16 2 16 2 11 10-16-2-16-1-16-1z"/><path class=d d="M1177 2401l16-1 16 0 16 0 12 11-16 0-17 0-16 0z"/><path class=e d="M968 2456l16-7 16-7 16-7 16-6 16-5 17-5 16-4 16-4 16-3 16-3 16-2 16-1 16-1 11 10-16 2-16 1-16 2-16 3-16 4-16 3-16 5-16 5-17 5-16 6-16 7-16 7-16 8z"/><path class=d d="M920 2483l16-10 16-8 16-9 11 13-16 8-16 9-16 10z"/><path class=c d="M871 2514l16-11 17-10 16-10 11 13-16 9-16 11-17 11z"/><path class=b d="M839 2538l16-12 16-12 11 13-16 12-16 12z"/><path class=a d="M437 2674l16-4 16-5 16-5 16-4 16-5 16-4 16-5 16-5 17-4 16-5 16-4 16-5 16-5 16-4 16-5 16-4 16-5 16-5 17-4 16-5 16-4 16-5 16-10 16-13 16-12 11 13-16 13-16 13-16 6-16 5-16 4-16 5-16 5-17 4-16 5-16 4-16 5-16 5-16 4-16 5-16 4-16 5-16 5-16 4-17 5-16 4-16 5-16 5-16 4-16 5-16 4z"/><path class=a d="M1317 2420l16 3 16 4 11 10-16-3-16-3z"/><path class=b d="M1285 2415l16 2 16 3 11 11-16-3-16-2z"/><path class=c d="M1237 2411l16 1 16 1 16 2 11 11-16-2-16-1-16-1z"/><path class=d d="M1172 2413l16-2 16 0 17 0 16 0 11 11-16 0-16 0-17 1-16 1z"/><path class=e d="M995 2461l16-7 16-7 16-6 17-5 16-5 16-5 16-3 16-4 16-3 16-2 16-1 11 11-16 2-16 2-16 3-16 4-16 4-16 4-16 5-16 6-16 6-17 7-16 7z"/><path class=d d="M931 2496l16-10 16-9 16-8 16-8 11 13-16 8-16 8-16 9-16 9z"/><path class=c d="M882 2527l17-11 16-11 16-9 11 12-16 10-16 11-16 11z"/><path class=b d="M850 2551l16-12 16-12 12 13-16 12-17 12z"/><path class=a d="M448 2684l16-4 16-5 16-4 16-5 16-5 16-4 17-5 16-4 16-5 16-5 16-4 16-5 16-4 16-5 16-5 16-4 16-5 17-4 16-5 16-5 16-4 16-5 16-6 16-13 16-13 11 13-16 12-16 13-16 4-16 5-16 5-16 4-16 5-16 4-16 5-17 5-16 4-16 5-16 4-16 5-16 5-16 4-16 5-16 4-16 5-17 5-16 4-16 5-16 4-16 5-16 5z"/><path class=a d="M1328 2431l16 3 16 3 12 10-16-3-17-3z"/><path class=b d="M1296 2426l16 2 16 3 11 10-16-2-16-2z"/><path class=c d="M1248 2422l16 1 16 1 16 2 11 11-16-2-16-1-16 0z"/><path class=d d="M1183 2424l16-1 17-1 16 0 16 0 11 12-16-1-16 1-16 1-16 1z"/><path class=e d="M1022 2467l17-7 16-6 16-6 16-5 16-4 16-4 16-4 16-3 16-2 16-2 12 12-17 2-16 2-16 3-16 4-16 4-16 5-16 5-16 5-16 7-16 6z"/><path class=d d="M958 2499l16-9 16-8 16-8 16-7 12 12-17 8-16 7-16 9-16 9z"/><path class=c d="M910 2529l16-11 16-10 16-9 11 13-16 9-16 10-16 11z"/><path class=b d="M878 2552l16-12 16-11 11 13-16 11-16 11z"/><path class=a d="M459 2695l16-5 16-5 16-4 16-5 16-4 17-5 16-5 16-4 16-5 16-4 16-5 16-5 16-4 16-5 16-4 17-5 16-5 16-4 16-5 16-4 16-5 16-5 16-4 16-13 16-12 17-12 11 12-16 12-17 13-16 10-16 5-16 4-16 5-16 4-16 5-16 5-16 4-16 5-17 4-16 5-16 5-16 4-16 5-16 4-16 5-16 5-16 4-16 5-16 4-17 5-16 5-16 4-16 5z"/><path class=a d="M1339 2441l17 3 16 3 11 11-16-4-16-2z"/><path class=b d="M1307 2437l16 2 16 2 12 11-17-3-16-1z"/><path class=c d="M1259 2434l16 0 16 1 16 2 11 11-16-2-16-1-16 0z"/><path class=d d="M1178 2438l17-2 16-1 16-1 16-1 16 1 11 11-16 0-16 0-16 1-16 2-16 2z"/><path class=e d="M1050 2473l16-7 16-5 16-5 16-5 16-4 16-4 16-3 16-2 12 12-17 2-16 3-16 4-16 4-16 5-16 5-16 6-16 6z"/><path class=d d="M969 2512l16-9 16-9 16-7 17-8 16-6 11 12-16 7-16 7-17 8-16 8-16 9z"/><path class=c d="M921 2542l16-11 16-10 16-9 11 12-16 10-16 10-16 10z"/><path class=b d="M889 2564l16-11 16-11 11 12-16 11-16 11z"/><path class=a d="M470 2705l16-5 16-4 16-5 17-5 16-4 16-5 16-4 16-5 16-5 16-4 16-5 16-4 16-5 16-5 17-4 16-5 16-4 16-5 16-5 16-4 16-5 16-4 16-5 16-10 17-13 16-12 11 12-16 12-16 13-16 8-17 5-16 5-16 4-16 5-16 4-16 5-16 4-16 5-16 5-16 4-17 5-16 4-16 5-16 5-16 4-16 5-16 4-16 5-16 5-16 4-17 5-16 4-16 5z"/><path class=a d="M1351 2452l16 2 16 4 11 10-16-3-16-3z"/><path class=b d="M1318 2448l16 1 17 3 11 10-16-2-16-2z"/><path class=c d="M1270 2445l16 0 16 1 16 2 12 10-17-1-16-1-16 0z"/><path class=d d="M1173 2452l17-2 16-2 16-2 16-1 16 0 16 0 11 11-16 0-16 0-16 2-16 1-16 2-16 3z"/><path class=e d="M1077 2479l16-6 16-5 16-5 16-4 16-4 16-3 12 12-16 3-17 4-16 4-16 5-16 5-16 6z"/><path class=d d="M996 2515l16-8 17-8 16-7 16-7 16-6 11 12-16 6-16 7-16 7-16 8-16 8z"/><path class=c d="M948 2544l16-10 16-10 16-9 12 12-17 9-16 10-16 10z"/><path class=b d="M900 2576l16-11 16-11 16-10 11 12-16 10-16 11-16 11z"/><path class=a d="M481 2715l16-5 16-4 17-5 16-4 16-5 16-5 16-4 16-5 16-4 16-5 16-5 16-4 17-5 16-4 16-5 16-5 16-4 16-5 16-4 16-5 16-4 16-5 17-5 16-8 16-13 16-12 11 12-16 12-16 12-16 8-16 4-17 5-16 4-16 5-16 5-16 4-16 5-16 4-16 5-16 5-16 4-17 5-16 4-16 5-16 5-16 4-16 5-16 4-16 5-16 5-16 4-17 5-16 4z"/><path class=a d="M1362 2462l16 3 16 3 11 10-16-3-16-2z"/><path class=b d="M1330 2458l16 2 16 2 11 11-16-3-16-1z"/><path class=c d="M1265 2456l16 0 16 0 16 1 17 1 11 11-16-2-17 0-16-1-16 0z"/><path class=d d="M1185 2464l16-3 16-2 16-1 16-2 16 0 11 10-16 1-16 1-16 2-16 2-16 2z"/><path class=e d="M1104 2485l16-5 16-5 16-4 17-4 16-3 11 10-16 4-16 3-17 5-16 4-16 6z"/><path class=d d="M1008 2527l16-8 16-8 16-7 16-7 16-6 16-6 11 11-16 6-16 6-16 7-16 7-16 8-16 9z"/><path class=c d="M959 2556l16-10 16-10 17-9 11 12-16 9-17 9-16 10z"/><path class=b d="M911 2588l16-11 16-11 16-10 11 11-16 11-16 10-16 12z"/><path class=a d="M492 2725l16-4 17-5 16-4 16-5 16-5 16-4 16-5 16-4 16-5 16-5 16-4 17-5 16-4 16-5 16-5 16-4 16-5 16-4 16-5 16-5 16-4 17-5 16-4 16-8 16-12 16-12 11 12-16 12-16 12-16 6-16 4-16 5-16 5-17 4-16 5-16 4-16 5-16 5-16 4-16 5-16 4-16 5-16 5-17 4-16 5-16 4-16 5-16 5-16 4-16 5-16 4-16 5-16 5z"/><path class=a d="M1373 2473l16 2 16 3 11 10-16-3-16-2z"/><path class=b d="M1341 2469l16 1 16 3 11 10-16-2-16-2z"/><path class=c d="M1276 2466l16 0 16 1 17 0 16 2 11 10-16-1-16-1-16-1-17 1z"/><path class=d d="M1180 2478l16-4 16-2 16-2 16-2 16-1 16-1 11 11-16 0-16 1-16 2-16 2-16 3-16 3z"/><path class=e d="M1131 2490l16-4 17-5 16-3 11 10-16 4-16 4-16 5z"/><path class=d d="M1019 2539l16-9 16-8 16-7 16-7 16-6 16-6 16-6 12 11-17 5-16 6-16 7-16 7-16 7-16 8-16 9z"/><path class=c d="M970 2567l16-10 17-9 16-9 11 11-16 9-16 9-16 10z"/><path class=b d="M938 2588l16-10 16-11 12 11-17 11-16 11z"/><path class=a d="M504 2736l16-5 16-5 16-4 16-5 16-4 16-5 16-5 16-4 16-5 17-4 16-5 16-5 16-4 16-5 16-4 16-5 16-5 16-4 16-5 17-4 16-5 16-5 16-4 16-6 16-12 16-12 16-12 11 12-16 11-16 12-16 12-16 5-16 5-16 4-16 5-16 4-17 5-16 5-16 4-16 5-16 4-16 5-16 5-16 4-16 5-16 4-17 5-16 5-16 4-16 5-16 4-16 5-16 5-16 4-16 5z"/><path class=a d="M1384 2483l16 2 16 3 11 10-16-2-16-3z"/><path class=b d="M1352 2479l16 2 16 2 11 10-16-2-16-2z"/><path class=c d="M1287 2477l17-1 16 1 16 1 16 1 11 10-16-1-16-1-16 0-16 0z"/><path class=d d="M1191 2488l16-3 16-3 16-2 16-2 16-1 16 0 12 10-17 0-16 1-16 2-16 2-16 3-16 3z"/><path class=e d="M1143 2501l16-5 16-4 16-4 11 10-16 4-16 4-16 5z"/><path class=d d="M1030 2550l16-9 16-8 16-7 16-7 16-7 16-6 17-5 11 10-16 6-17 6-16 6-16 7-16 8-16 8-16 8z"/><path class=c d="M982 2578l16-10 16-9 16-9 11 10-16 10-16 9-16 10z"/><path class=b d="M949 2600l16-11 17-11 11 11-16 11-17 11z"/><path class=a d="M515 2746l16-5 16-4 16-5 16-5 16-4 16-5 16-4 16-5 17-5 16-4 16-5 16-4 16-5 16-5 16-4 16-5 16-4 16-5 17-5 16-4 16-5 16-4 16-5 16-5 16-12 16-12 16-11 11 11-16 11-16 12-16 12-16 4-16 5-16 4-16 5-16 5-16 4-16 5-17 4-16 5-16 5-16 4-16 5-16 4-16 5-16 5-16 4-16 5-17 4-16 5-16 5-16 4-16 5-16 4-16 5z"/><path class=a d="M1395 2493l16 3 16 2 11 11-16-3-16-3z"/><path class=b d="M1363 2489l16 2 16 2 11 10-16-2-16-1z"/><path class=c d="M1299 2487l16 0 16 0 16 1 16 1 11 11-16-2-16 0-16-1-16 0z"/><path class=d d="M1202 2498l16-3 16-3 16-2 16-2 16-1 17 0 11 10-16 1-17 1-16 2-16 2-16 3-16 3z"/><path class=e d="M1154 2511l16-5 16-4 16-4 11 11-16 4-16 4-16 5z"/><path class=d d="M1057 2552l16-8 16-8 16-7 16-6 17-6 16-6 11 11-16 5-16 6-16 7-17 7-16 8-16 8z"/><path class=c d="M993 2589l16-10 16-9 16-10 16-8 11 11-16 8-16 10-16 9-16 10z"/><path class=b d="M960 2611l17-11 16-11 11 11-16 11-16 11z"/><path class=a d="M526 2756l16-5 16-4 16-5 16-4 16-5 16-5 17-4 16-5 16-4 16-5 16-5 16-4 16-5 16-4 16-5 16-5 17-4 16-5 16-4 16-5 16-5 16-4 16-5 16-4 16-12 16-12 16-11 12 11-16 11-17 12-16 11-16 4-16 5-16 5-16 4-16 5-16 4-16 5-16 5-17 4-16 5-16 4-16 5-16 5-16 4-16 5-16 4-16 5-16 5-17 4-16 5-16 4-16 5-16 5-16 4z"/><path class=a d="M1406 2503l16 3 16 3 12 10-16-3-17-2z"/><path class=b d="M1374 2500l16 1 16 2 11 11-16-2-16-2z"/><path class=c d="M1310 2497l16 0 16 1 16 0 16 2 11 10-16-1-16 0-16-1-16 1z"/><path class=d d="M1197 2513l16-4 16-3 16-3 16-2 16-2 17-1 16-1 11 12-16 0-16 1-16 2-17 2-16 3-16 4-16 3z"/><path class=e d="M1181 2517l16-4 11 11-16 5z"/><path class=d d="M1068 2563l16-8 16-8 17-7 16-7 16-6 16-5 16-5 11 12-16 5-16 5-16 6-16 7-16 7-17 7-16 8z"/><path class=c d="M1004 2600l16-10 16-9 16-10 16-8 11 11-16 9-16 9-16 9-16 10z"/><path class=b d="M972 2622l16-11 16-11 11 11-16 11-16 11z"/><path class=a d="M537 2766l16-4 16-5 16-5 16-4 16-5 17-4 16-5 16-5 16-4 16-5 16-4 16-5 16-5 16-4 16-5 17-4 16-5 16-5 16-4 16-5 16-4 16-5 16-5 16-4 16-11 17-12 16-11 11 11-16 11-16 11-17 11-16 5-16 4-16 5-16 5-16 4-16 5-16 4-16 5-16 4-17 5-16 5-16 4-16 5-16 4-16 5-16 5-16 4-16 5-16 4-16 5-17 5-16 4-16 5-16 4z"/><path class=a d="M1417 2514l17 2 16 3 11 10-16-2-16-3z"/><path class=b d="M1385 2510l16 2 16 2 12 10-17-1-16-2z"/><path class=c d="M1321 2509l16-1 16 1 16 0 16 1 11 11-16-1-16 0-16-1-16 1z"/><path class=d d="M1079 2574l16-8 17-7 16-7 16-7 16-6 16-5 16-5 16-5 16-3 16-4 16-3 17-2 16-2 16-1 16 0 11 11-16 1-16 1-16 2-16 2-17 3-16 3-16 4-16 4-16 5-16 6-16 6-16 6-16 7-16 8-16 8z"/><path class=c d="M1031 2601l16-9 16-9 16-9 12 12-17 8-16 9-16 10z"/><path class=b d="M983 2633l16-11 16-11 16-10 11 12-16 10-16 10-16 11z"/><path class=a d="M548 2776l16-4 16-5 16-4 17-5 16-5 16-4 16-5 16-4 16-5 16-5 16-4 16-5 16-4 16-5 17-5 16-4 16-5 16-4 16-5 16-4 16-5 16-5 16-4 16-5 17-11 16-11 16-11 11 11-16 11-16 11-16 10-16 5-17 5-16 4-16 5-16 4-16 5-16 5-16 4-16 5-16 4-16 5-17 5-16 4-16 5-16 4-16 5-16 5-16 4-16 5-16 4-16 5-17 5-16 4-16 5z"/><path class=a d="M1429 2524l16 3 16 2 11 10-16-2-16-2z"/><path class=b d="M1380 2520l16 1 16 2 17 1 11 11-16-2-16-1-17-1z"/><path class=c d="M1332 2520l16-1 16 1 16 0 11 11-16 0-16-1-16 1z"/><path class=d d="M1091 2586l16-8 16-8 16-7 16-6 16-6 16-6 16-5 16-4 16-4 16-3 17-3 16-2 16-2 16-1 16-1 11 11-16 1-16 1-16 2-16 2-16 3-16 4-17 4-16 4-16 5-16 5-16 6-16 7-16 7-16 7-16 8z"/><path class=c d="M1042 2613l16-10 16-9 17-8 11 11-16 9-17 9-16 9z"/><path class=b d="M994 2644l16-11 16-10 16-10 11 11-16 10-16 10-16 11z"/><path class=a d="M559 2787l16-5 16-4 17-5 16-5 16-4 16-5 16-4 16-5 16-5 16-4 16-5 16-4 17-5 16-5 16-4 16-5 16-4 16-5 16-5 16-4 16-5 16-4 17-5 16-5 16-10 16-11 16-11 11 11-16 11-16 11-16 10-16 4-16 5-17 4-16 5-16 5-16 4-16 5-16 4-16 5-16 5-16 4-16 5-17 4-16 5-16 5-16 4-16 5-16 4-16 5-16 5-16 4-16 5-16 4-17 5z"/><path class=a d="M1440 2535l16 2 16 2 11 11-16-3-16-2z"/><path class=b d="M1391 2531l17 1 16 1 16 2 11 10-16-1-16-1-16-1z"/><path class=c d="M1343 2531l16-1 16 1 16 0 12 11-17-1-16 1-16 0z"/><path class=d d="M1118 2589l16-7 16-7 16-7 16-6 16-5 16-5 16-4 17-4 16-4 16-3 16-2 16-2 16-1 16-1 11 11-16 1-16 1-16 2-16 3-16 3-16 3-16 4-17 4-16 5-16 6-16 6-16 6-16 7-16 8z"/><path class=c d="M1053 2624l16-9 17-9 16-9 16-8 11 12-16 8-16 8-16 9-16 9z"/><path class=b d="M1005 2655l16-11 16-10 16-10 12 11-17 10-16 10-16 10z"/><path class=a d="M570 2797l17-5 16-4 16-5 16-4 16-5 16-5 16-4 16-5 16-4 16-5 16-5 17-4 16-5 16-4 16-5 16-5 16-4 16-5 16-4 16-5 16-5 17-4 16-5 16-4 16-10 16-11 16-11 11 10-16 11-16 12-16 9-16 4-16 5-16 5-16 4-17 5-16 4-16 5-16 5-16 4-16 5-16 4-16 5-16 5-16 4-17 5-16 4-16 5-16 5-16 4-16 5-16 4-16 5-16 5-16 4z"/><path class=a d="M1451 2545l16 2 16 3 11 10-16-2-16-2z"/><path class=b d="M1403 2542l16 1 16 1 16 1 11 11-16-2-16-1-16 0z"/><path class=c d="M1338 2543l16-1 16 0 16-1 17 1 11 11-16-1-16 1-17 0-16 1z"/><path class=d d="M1129 2601l16-8 16-7 16-6 16-6 16-6 16-5 17-4 16-4 16-3 16-3 16-3 16-2 16-1 11 11-16 2-16 2-16 2-16 3-16 4-16 4-16 4-16 5-17 5-16 6-16 7-16 7-16 7z"/><path class=c d="M1065 2635l16-9 16-9 16-8 16-8 11 11-16 8-16 8-16 9-16 9z"/><path class=b d="M1016 2665l16-10 16-10 17-10 11 11-16 10-17 10-16 10z"/><path class=a d="M582 2807l16-4 16-5 16-5 16-4 16-5 16-4 16-5 16-5 16-4 17-5 16-4 16-5 16-5 16-4 16-5 16-4 16-5 16-5 16-4 17-5 16-4 16-5 16-5 16-4 16-9 16-12 16-11 11 11-16 11-16 11-16 9-16 5-16 4-16 5-16 4-16 5-17 5-16 4-16 5-16 4-16 5-16 5-16 4-16 5-16 4-16 5-17 5-16 4-16 5-16 4-16 5-16 5-16 4-16 5-16 4z"/><path class=a d="M1462 2556l16 2 16 2 11 10-16-2-16-2z"/><path class=b d="M1414 2553l16 0 16 1 16 2 11 10-16-1-16-1-16 0z"/><path class=c d="M1349 2554l16-1 17 0 16-1 16 1 11 11-16-1-16 1-16 0-17 2z"/><path class=d d="M1140 2612l16-7 16-7 16-7 16-6 17-5 16-5 16-4 16-4 16-4 16-3 16-2 16-2 16-2 11 12-16 1-16 2-16 3-16 3-16 3-16 4-16 5-16 4-16 6-17 6-16 6-16 7-16 7z"/><path class=c d="M1076 2646l16-9 16-9 16-8 16-8 11 11-16 8-16 8-16 9-16 9z"/><path class=b d="M1027 2676l16-10 17-10 16-10 11 11-16 10-16 10-17 10z"/><path class=a d="M593 2817l16-4 16-5 16-4 16-5 16-5 16-4 16-5 16-4 17-5 16-5 16-4 16-5 16-4 16-5 16-5 16-4 16-5 16-4 17-5 16-5 16-4 16-5 16-4 16-5 16-9 16-11 16-11 11 11-16 10-16 11-16 9-16 5-16 4-16 5-16 5-16 4-16 5-16 4-17 5-16 5-16 4-16 5-16 4-16 5-16 5-16 4-16 5-16 4-17 5-16 5-16 4-16 5-16 4-16 5-16 5z"/><path class=a d="M1473 2566l16 2 16 2 11 10-16-1-16-2z"/><path class=b d="M1425 2564l16 0 16 1 16 1 11 11-16-1-16-1-16 0z"/><path class=c d="M1360 2566l17-2 16 0 16-1 16 1 11 11-16-1-16 1-16 1-16 1z"/><path class=d d="M1167 2616l16-7 16-6 17-6 16-6 16-4 16-5 16-4 16-3 16-3 16-3 16-2 16-1 12 11-16 1-17 3-16 2-16 3-16 4-16 4-16 4-16 5-16 5-16 6-16 7-17 6z"/><path class=c d="M1103 2648l16-9 16-8 16-8 16-7 11 11-16 8-16 7-16 8-16 9z"/><path class=b d="M1038 2687l17-10 16-10 16-10 16-9 11 11-16 9-16 9-16 10-16 10z"/><path class=a d="M604 2828l16-5 16-5 16-4 16-5 16-4 16-5 17-5 16-4 16-5 16-4 16-5 16-5 16-4 16-5 16-4 16-5 17-5 16-4 16-5 16-4 16-5 16-5 16-4 16-5 16-9 16-11 16-10 12 10-16 11-17 11-16 9-16 4-16 5-16 4-16 5-16 5-16 4-16 5-16 4-17 5-16 4-16 5-16 5-16 4-16 5-16 4-16 5-16 5-16 4-17 5-16 4-16 5-16 5-16 4-16 5z"/><path class=a d="M1484 2577l16 2 16 1 12 11-16-2-17-1z"/><path class=b d="M1436 2575l16 0 16 1 16 1 11 11-16-2-16 0-16-1z"/><path class=c d="M1356 2578l16-1 16-1 16-1 16-1 16 1 11 10-16 0-16 1-16 1-16 1-16 2z"/><path class=d d="M1178 2627l17-6 16-7 16-6 16-5 16-5 16-4 16-4 16-4 16-3 16-2 17-3 11 12-16 2-17 2-16 4-16 3-16 4-16 4-16 5-16 6-16 6-16 6-16 7z"/><path class=c d="M1114 2659l16-9 16-8 16-7 16-8 12 12-17 7-16 7-16 8-16 9z"/><path class=b d="M1050 2697l16-10 16-10 16-9 16-9 11 11-16 9-16 9-16 10-16 10z"/><path class=a d="M615 2838l16-5 16-4 16-5 16-5 16-4 17-5 16-4 16-5 16-5 16-4 16-5 16-4 16-5 16-5 16-4 17-5 16-4 16-5 16-4 16-5 16-5 16-4 16-5 16-4 16-9 17-11 16-11 11 11-16 10-16 11-17 9-16 4-16 5-16 5-16 4-16 5-16 4-16 5-16 5-16 4-16 5-17 4-16 5-16 5-16 4-16 5-16 4-16 5-16 5-16 4-16 5-17 4-16 5-16 5-16 4z"/><path class=a d="M1495 2588l17 1 16 2 11 10-16-2-16-1z"/><path class=b d="M1447 2585l16 1 16 0 16 2 12 10-17-1-16 0-16-1z"/><path class=c d="M1367 2590l16-2 16-1 16-1 16-1 16 0 11 11-16 0-16 1-16 1-16 1-16 2z"/><path class=d d="M1206 2632l16-6 16-6 16-6 16-5 16-4 16-4 16-3 16-4 17-2 16-2 11 11-16 2-16 3-16 3-17 4-16 3-16 5-16 5-16 5-16 6-16 6z"/><path class=c d="M1125 2670l16-9 16-8 16-7 17-7 16-7 11 11-16 7-16 7-16 8-17 7-16 9z"/><path class=b d="M1077 2698l16-10 16-9 16-9 11 11-16 9-16 9-16 9z"/><path class=a d="M626 2848l16-4 16-5 16-5 17-4 16-5 16-4 16-5 16-5 16-4 16-5 16-4 16-5 16-5 17-4 16-5 16-4 16-5 16-5 16-4 16-5 16-4 16-5 16-5 16-4 17-9 16-11 16-10 16-10 11 10-16 10-16 10-16 11-16 9-16 5-17 4-16 5-16 4-16 5-16 5-16 4-16 5-16 4-16 5-16 5-17 4-16 5-16 4-16 5-16 5-16 4-16 5-16 4-16 5-16 5-17 4-16 5-16 4z"/><path class=a d="M1507 2598l16 1 16 2 11 10-16-1-16-1z"/><path class=b d="M1442 2596l16 0 16 1 16 0 17 1 11 11-16-1-16-1-17 0-16 1z"/><path class=c d="M1362 2603l16-2 16-2 16-1 16-1 16-1 11 12-16 0-16 1-16 2-16 1-16 3z"/><path class=d d="M1217 2643l16-6 16-6 16-5 16-5 16-5 16-3 17-4 16-3 16-3 11 12-16 2-16 3-16 4-17 4-16 4-16 5-16 6-16 5-16 7z"/><path class=c d="M1136 2681l16-9 17-7 16-8 16-7 16-7 11 12-16 6-16 7-16 8-16 8-17 8z"/><path class=b d="M1088 2708l16-9 16-9 16-9 11 11-16 9-16 9-16 9z"/><path class=a d="M637 2858l16-4 16-5 17-4 16-5 16-5 16-4 16-5 16-4 16-5 16-5 16-4 16-5 17-4 16-5 16-5 16-4 16-5 16-4 16-5 16-5 16-4 16-5 17-4 16-5 16-9 16-11 16-10 16-10 11 11-16 10-16 10-16 10-16 9-16 5-16 4-17 5-16 5-16 4-16 5-16 4-16 5-16 5-16 4-16 5-16 4-16 5-17 5-16 4-16 5-16 4-16 5-16 5-16 4-16 5-16 4-16 5-17 5z"/><path class=a d="M1518 2609l16 1 16 1 11 10-16-1-16-1z"/><path class=b d="M1453 2608l16-1 17 0 16 1 16 1 11 10-16-1-16 0-16 0-17 1z"/><path class=c d="M1373 2615l16-3 16-1 16-2 16-1 16 0 11 11-16 0-16 1-16 2-16 2-16 2z"/><path class=d d="M1244 2648l16-5 16-6 16-5 16-4 17-4 16-4 16-3 16-2 11 11-16 3-16 3-16 4-16 4-17 4-16 5-16 5-16 6z"/><path class=c d="M1147 2692l17-8 16-8 16-8 16-7 16-6 16-7 11 12-16 6-16 7-16 7-16 7-16 8-16 8z"/><path class=b d="M1099 2719l16-9 16-9 16-9 12 11-16 8-17 9-16 10z"/><path class=a d="M648 2869l17-5 16-5 16-4 16-5 16-4 16-5 16-5 16-4 16-5 16-4 17-5 16-5 16-4 16-5 16-4 16-5 16-5 16-4 16-5 16-4 16-5 17-5 16-4 16-5 16-9 16-10 16-10 16-10 11 11-16 9-16 10-16 10-16 9-16 5-16 5-16 4-16 5-17 4-16 5-16 5-16 4-16 5-16 4-16 5-16 5-16 4-16 5-17 4-16 5-16 5-16 4-16 5-16 4-16 5-16 5-16 4-16 5z"/><path class=a d="M1529 2619l16 1 16 1 11 11-16-2-16 0z"/><path class=b d="M1464 2619l17-1 16 0 16 0 16 1 11 11-16-1-16 0-16 0-16 1z"/><path class=c d="M1368 2629l16-3 16-2 16-2 16-2 16-1 16 0 12 11-16 0-17 2-16 1-16 2-16 3-16 2z"/><path class=d d="M1271 2654l16-5 16-5 17-4 16-4 16-4 16-3 11 11-16 4-16 3-16 4-16 5-16 4-17 6z"/><path class=c d="M1159 2703l16-8 16-8 16-7 16-7 16-7 16-6 16-6 11 12-16 5-16 6-16 7-16 7-16 7-16 8-16 8z"/><path class=b d="M1110 2730l16-10 17-9 16-8 11 11-16 8-16 9-17 9z"/><path class=a d="M660 2879l16-5 16-4 16-5 16-5 16-4 16-5 16-4 16-5 16-5 17-4 16-5 16-4 16-5 16-5 16-4 16-5 16-4 16-5 16-5 17-4 16-5 16-4 16-5 16-5 16-9 16-10 16-10 16-9 11 10-16 10-16 9-16 10-16 10-16 4-16 5-16 4-16 5-16 5-17 4-16 5-16 4-16 5-16 5-16 4-16 5-16 4-16 5-16 5-17 4-16 5-16 4-16 5-16 5-16 4-16 5-16 4-16 5z"/><path class=a d="M1524 2629l16 1 16 0 16 2 11 10-16-1-16-1-16 0z"/><path class=b d="M1476 2630l16-1 16 0 16 0 11 11-16 0-16 0-16 1z"/><path class=c d="M1347 2647l16-3 16-4 16-2 16-3 16-2 16-1 17-2 16 0 11 11-16 1-16 1-17 2-16 2-16 2-16 3-16 3-16 4z"/><path class=d d="M1299 2660l16-4 16-5 16-4 11 12-16 4-16 4-16 5z"/><path class=c d="M1170 2714l16-8 16-8 16-7 16-7 16-7 16-6 16-5 17-6 11 12-16 5-17 6-16 6-16 6-16 7-16 7-16 8-16 8z"/><path class=b d="M1121 2740l17-9 16-9 16-8 11 11-16 8-16 9-16 9z"/><path class=a d="M671 2889l16-5 16-4 16-5 16-4 16-5 16-5 16-4 16-5 17-4 16-5 16-5 16-4 16-5 16-4 16-5 16-5 16-4 16-5 17-4 16-5 16-5 16-4 16-5 16-4 16-10 16-10 16-9 16-10 12 11-16 9-17 10-16 10-16 9-16 5-16 4-16 5-16 4-16 5-16 4-16 5-17 5-16 4-16 5-16 4-16 5-16 5-16 4-16 5-16 4-16 5-17 5-16 4-16 5-16 4-16 5-16 5-16 4z"/><path class=a d="M1535 2640l16 0 16 1 16 1 11 10-16-1-16 0-16 0z"/><path class=b d="M1471 2642l16-1 16-1 16 0 16 0 11 11-16 0-16 0-16 1-16 1z"/><path class=c d="M1197 2717l16-8 16-7 16-7 16-6 16-6 17-6 16-5 16-5 16-4 16-4 16-4 16-3 16-3 16-2 16-2 17-2 16-1 11 11-16 1-16 2-16 2-17 3-16 3-16 3-16 3-16 4-16 5-16 5-16 5-16 5-16 6-17 7-16 7-16 7-16 7z"/><path class=b d="M1133 2751l16-9 16-9 16-8 16-8 11 11-16 8-16 8-16 9-16 8z"/><path class=a d="M682 2899l16-4 16-5 16-5 16-4 16-5 16-4 17-5 16-5 16-4 16-5 16-4 16-5 16-5 16-4 16-5 16-4 17-5 16-5 16-4 16-5 16-4 16-5 16-4 16-5 16-9 16-10 17-10 16-9 11 10-16 10-16 9-17 10-16 9-16 5-16 4-16 5-16 5-16 4-16 5-16 4-16 5-17 5-16 4-16 5-16 4-16 5-16 5-16 4-16 5-16 4-16 5-17 5-16 4-16 5-16 4-16 5-16 5z"/><path fill="none" d="M219 2455l11 10 11 10 11 10 11 11 11 10 12 10 11 10 11 11 11 10 11 10 11 10 11 10 12 11 11 10 11 10 11 10 11 11 11 10 11 10 12 10 11 11 11 10 11 10 11 10 11 10 11 11 12 10 11 10 11 10 11 11 11 10 11 10 12 10 11 11 11 10 11 10 11 10 11 11 11 10 12 10 11 10 11 10 11 11 11 10M246 2460l11 11 11 10 11 10 12 10 11 10 11 11 11 10 11 10 11 10 11 11 12 10 11 10 11 10 11 11 11 10 11 10 11 10 12 10 11 11 11 10 11 10 11 10 11 11 11 10 12 10 11 10 11 11 11 10 11 10 11 10 11 11 12 10 11 10 11 10 11 10 11 11 11 10 11 10 12 10 11 11 11 10 11 10 11 10M273 2466l11 10 12 10 11 11 11 10 11 10 11 10 11 11 11 10 12 10 11 10 11 10 11 11 11 10 11 10 11 10 12 11 11 10 11 10 11 10 11 11 11 10 11 10 12 10 11 11 11 10 11 10 11 10 11 10 11 11 12 10 11 10 11 10 11 11 11 10 11 10 11 10 12 11 11 10 11 10 11 10 11 10 11 11M289 2449l11 23 12 10 11 10 11 10 11 10 11 11 11 10 11 10 12 10 11 11 11 10 11 10 11 10 11 11 11 10 12 10 11 10 11 11 11 10 11 10 11 10 12 10 11 11 11 10 11 10 11 10 11 11 11 10 12 10 11 10 11 11 11 10 11 10 11 10 11 10 12 11 11 10 11 10 11 10 11 11 11 10 11 10M317 2467l11 10 11 10 11 11 11 10 11 10 11 10 12 11 11 10 11 10 11 10 11 11 11 10 11 10 12 10 11 10 11 11 11 10 11 10 11 10 11 11 12 10 11 10 11 10 11 11 11 10 11 10 11 10 12 10 11 11 11 10 11 10 11 10 11 11 11 10 12 10 11 10 11 11 11 10 11 10 11 10 11 11M344 2473l11 10 11 10 11 10 11 11 12 10 11 10 11 10 11 10 11 11 11 10 11 10 12 10 11 11 11 10 11 10 11 10 11 11 11 10 12 10 11 10 11 10 11 11 11 10 11 10 11 10 12 11 11 10 11 10 11 10 11 11 11 10 11 10 12 10 11 11 11 10 11 10 11 10 11 10 11 11 12 10M360 2454l11 24 11 10 11 11 11 10 12 10 11 10 11 11 11 10 11 10 11 10 11 11 12 10 11 10 11 10 11 10 11 11 11 10 12 10 11 10 11 11 11 10 11 10 11 10 11 11 12 10 11 10 11 10 11 11 11 10 11 10 11 10 12 10 11 11 11 10 11 10 11 10 11 11 11 10 12 10 11 10M387 2474l11 10 11 10 12 10 11 11 11 10 11 10 11 10 11 10 11 11 12 10 11 10 11 10 11 11 11 10 11 10 11 10 12 11 11 10 11 10 11 10 11 11 11 10 11 10 12 10 11 10 11 11 11 10 11 10 11 10 11 11 12 10 11 10 11 10 11 11 11 10 11 10 11 10 12 10 11 11M403 2461l11 18 12 10 11 11 11 10 11 10 11 10 11 11 11 10 12 10 11 10 11 11 11 10 11 10 11 10 11 11 12 10 11 10 11 10 11 10 11 11 11 10 11 10 12 10 11 11 11 10 11 10 11 10 11 11 11 10 12 10 11 10 11 10 11 11 11 10 11 10 11 10 12 11 11 10 11 10M430 2475l12 10 11 10 11 10 11 11 11 10 11 10 12 10 11 11 11 10 11 10 11 10 11 10 11 11 12 10 11 10 11 10 11 11 11 10 11 10 11 10 12 11 11 10 11 10 11 10 11 10 11 11 11 10 12 10 11 10 11 11 11 10 11 10 11 10 11 11 12 10 11 10 11 10 11 11M447 2470l11 10 11 11 11 10 11 10 11 10 11 10 12 11 11 10 11 10 11 10 11 11 11 10 11 10 12 10 11 11 11 10 11 10 11 10 11 10 11 11 12 10 11 10 11 10 11 11 11 10 11 10 11 10 12 11 11 10 11 10 11 10 11 11 11 10 12 10 11 10 11 10 11 11 11 10M474 2476l11 10 11 10 11 10 11 11 12 10 11 10 11 10 11 11 11 10 11 10 11 10 12 10 11 11 11 10 11 10 11 10 11 11 11 10 12 10 11 10 11 11 11 10 11 10 11 10 11 11 12 10 11 10 11 10 11 10 11 11 11 10 11 10 12 10 11 11 11 10 11 10 11 10M490 2471l11 10 11 11 11 10 12 10 11 10 11 10 11 11 11 10 11 10 11 10 12 11 11 10 11 10 11 10 11 11 11 10 11 10 12 10 11 11 11 10 11 10 11 10 11 10 11 11 12 10 11 10 11 10 11 11 11 10 11 10 11 10 12 11 11 10 11 10 11 10 11 10 11 11M517 2477l11 10 11 10 12 10 11 11 11 10 11 10 11 10 11 11 11 10 12 10 11 10 11 11 11 10 11 10 11 10 11 10 12 11 11 10 11 10 11 10 11 11 11 10 11 10 12 10 11 11 11 10 11 10 11 10 11 10 12 11 11 10 11 10 11 10 11 11 11 10 11 10M544 2476l12 17 11 10 11 10 11 10 11 11 11 10 11 10 12 10 11 10 11 11 11 10 11 10 11 10 11 11 12 10 11 10 11 10 11 11 11 10 11 10 11 10 12 10 11 11 11 10 11 10 11 10 11 11 11 10 12 10 11 10 11 11 11 10 11 10 11 10 11 11M572 2479l11 19 11 10 11 11 11 10 11 10 12 10 11 11 11 10 11 10 11 10 11 11 11 10 12 10 11 10 11 10 11 11 11 10 11 10 11 10 12 11 11 10 11 10 11 10 11 11 11 10 11 10 12 10 11 11 11 10 11 10 11 10 11 10 11 11 12 10M599 2488l11 16 11 10 11 10 11 11 12 10 11 10 11 10 11 10 11 11 11 10 11 10 12 10 11 11 11 10 11 10 11 10 11 11 12 10 11 10 11 10 11 11 11 10 11 10 11 10 12 10 11 11 11 10 11 10 11 10 11 11 11 10 12 10 11 10M626 2498l11 11 11 11 12 10 11 10 11 10 11 11 11 10 11 10 11 10 12 11 11 10 11 10 11 10 11 11 11 10 11 10 12 10 11 10 11 11 11 10 11 10 11 10 11 11 12 10 11 10 11 10 11 11 11 10 11 10 11 10 12 10 11 11M653 2503l12 12 11 10 11 11 11 10 11 10 11 10 11 11 12 10 11 10 11 10 11 10 11 11 11 10 11 10 12 10 11 11 11 10 11 10 11 10 11 11 11 10 12 10 11 10 11 11 11 10 11 10 11 10 11 10 12 11 11 10 11 10M681 2504l11 16 11 11 11 10 11 10 11 11 11 10 12 10 11 10 11 11 11 10 11 10 11 10 12 11 11 10 11 10 11 10 11 11 11 10 11 10 12 10 11 10 11 11 11 10 11 10 11 10 11 11 12 10 11 10 11 10 11 11M552 1886l11 44M686 2465l11 22M708 2504l11 15 11 15 11 13 11 10 12 10 11 11 11 10 11 10 11 10 11 11 11 10 12 10 11 10 11 10 11 11 11 10 11 10 11 10 12 11 11 10 11 10 11 10 11 11 11 10 11 10 12 10 11 10 11 11 11 10M546 1795l11 34M601 2010l12 67M691 2416l11 31M713 2470l11 19M746 2520l11 16 12 14 11 13 11 10 11 10 11 10 11 11 11 10 12 10 11 10 11 11 11 10 11 10 11 10 11 11 12 10 11 10 11 10 11 10 11 11 11 10 11 10 12 10 11 11 11 10 11 10 11 10M740 2474l11 17 11 16M774 2522l11 15 11 13 11 13 11 14 11 12 11 10 12 10 11 11 11 10 11 10 11 10 11 10 11 11 12 10 11 10 11 10 11 11 11 10 11 10 11 10 12 11 11 10 11 10 11 10 11 11 11 10M589 1801l11 39 11 42 11 45 12 51M645 2042l11 70M778 2495l12 15M823 2550l11 14 11 12 11 13 12 12 11 11 11 12 11 11 11 11 11 10 11 10 12 10 11 11 11 10 11 10 11 10 11 11 11 10 12 10 11 10 11 10 11 11 11 10 11 10M594 1756l11 34M650 1964l11 63M683 2157l11 43 11 35M750 2400l11 26 11 22M783 2466l12 17M806 2498l11 13 11 14 11 13M861 2564l12 12 11 12 11 12 11 12 11 11 11 11 11 11 12 10 11 11 11 11 11 11 11 10 11 10 11 11 12 10 11 10 11 10 11 10 11 10 11 11 11 10M610 1747l11 34 11 37 11 41 12 45 11 48M688 2081l11 61M733 2264l11 46 11 42 11 34M788 2436l12 19 11 16 11 15M844 2513l11 13 11 13 12 13M922 2600l11 11 11 11 12 11 11 11 11 11 11 11 11 10 11 11 11 10 12 11 11 10 11 10 11 11 11 10 11 10 11 11 12 10M626 1740l11 33 11 37 12 41M671 1894l11 48 11 61 11 66M738 2206l11 44M782 2373l11 28 11 23 12 20M827 2461l11 14 11 14 11 12M894 2540l11 13 11 12 11 12 11 11M1061 2708l11 10 11 11 11 10 11 11 12 10 11 11M642 1734l11 33 12 37 11 40 11 43M698 1934l11 60 11 64 11 58 12 41 11 36M765 2238l11 46 11 43 11 34M832 2434l11 17M865 2478l11 12 11 13 12 13 11 13M932 2554l11 12 11 12 11 11 12 11 11 11 11 11 11 11 11 11 11 11 11 11 12 11 11 10 11 11M658 1731l11 32 12 37 11 39 11 42 11 47 11 58M736 2049l12 57 11 41M770 2183l11 44M814 2350l12 29 11 25 11 20M859 2441l11 14 11 13M904 2493l11 12 11 13 11 13 11 13M1015 2611l11 12 11 11 11 11 12 11 11 11 11 10 11 11 11 11 11 11 11 10 12 11 11 11 11 11M674 1729l12 32 11 36 11 39 11 41 11 46 11 57 11 61 12 56M775 2137l11 36 11 44 11 47 11 42 11 35 12 29 11 25 11 20 11 17 11 14 11 13 11 12 12 12M942 2508l11 13 11 13 11 12 11 11 12 11 11 11 11 11 11 11M1087 2657l11 11 11 11 11 11 11 11 12 10 11 11 11 11 11 11M691 1729l11 32 11 35 11 38M735 1875l11 45 11 55 12 60M780 2089l11 40 11 36 11 44 11 46 11 43 12 34M880 2407l11 17M902 2437l11 13 12 11 11 12 11 13 11 13M980 2524l11 12 12 12 11 11 11 11 11 11 11 11 11 11 11 12 12 11 11 11 11 11M1181 2725l11 11M707 1731l11 31M729 1797l11 38 11 40M762 1918l12 54 11 59 11 53 11 39 11 35M840 2247l12 43 11 34 11 29 11 25 11 22 11 16 11 13M941 2453l11 12 11 12 11 13 11 13 11 12M1041 2560l11 11 11 12 11 11 12 12 11 11 11 11 11 11 11 11 11 11 11 11 12 12 11 11 11 11 11 11M734 1765l11 35M756 1837l11 39 11 42 12 53M812 2079l11 39 11 35 11 43 11 45M879 2316l11 30 11 25 11 22 11 16 11 13 12 12 11 11M979 2469l11 13 11 12 11 13 12 12 11 11 11 11 11 11M1102 2597l11 12 11 11 11 11 11 11 11 11 12 12 11 11 11 11 11 11 11 11 11 12M761 1804l11 36M795 1920l11 51 11 55 11 50 11 38 11 35 11 42 12 44 11 42 11 33 11 29 11 26 11 21 11 16 12 13 11 11 11 11 11 12 11 12M1006 2474l11 13 12 12 11 12 11 11 11 11 11 11 11 11 11 11 12 12 11 11M1151 2623l11 12 11 11 12 11 11 11 11 12 11 11 11 11 11 12M755 1747l11 30 11 33M788 1845l12 38 11 40M822 1973l11 53 11 49 11 37 11 34 12 41 11 44 11 40 11 33 11 29 11 26 11 21M956 2396l11 13 11 11 11 11 11 11 11 12 11 13M1034 2479l11 13 11 12 11 11 11 11 11 10 11 11 12 12 11 11 11 12 11 11 11 12 11 11M1190 2639l11 11 11 11 11 12 11 11 11 11 11 12M849 2027l11 47M871 2110l11 34M916 2267l11 32 11 29 11 26 11 21 12 16 11 12 11 11 11 10 11 11 11 12 12 13 11 13M1061 2485l11 12 11 11 11 11 11 10 12 11 11 12 11 11 11 12 11 11 11 12 11 11 12 12 11 11M1228 2655l11 11 11 11 11 12 12 11M809 1826l12 34M832 1896l11 38 11 46 11 50M876 2075l11 35 12 33 11 40 11 42 11 39 11 31 11 29 11 25 12 21 11 16 11 11 11 11 11 11 11 10 11 12 12 13 11 12 11 13M1088 2491l11 11 11 10 11 11 12 10 11 12 11 12 11 11 11 12 11 11 11 12 12 11 11 12 11 11 11 11M1255 2660l11 11 11 12 12 11M881 2033l11 44 12 34M915 2143l11 39 11 41 11 38 11 31 11 28 12 25 11 21 11 15 11 12 11 10 11 10 11 11 12 12 11 12 11 13 11 12 11 12M1115 2496l11 10 12 11 11 10 11 12 11 12 11 11 11 12 11 11 12 12 11 11 11 12 11 11 11 12 11 11M1282 2666l12 11 11 12M920 2113l11 31M942 2182l11 40 11 37M975 2289l11 28 12 24 11 21 11 15 11 11 11 11 11 10 12 10 11 12 11 12 11 13 11 12 11 12 11 10M1165 2522l11 12 11 11 11 12 11 11 12 12 11 11 11 12 11 11 11 12 11 11 11 12 12 11M1310 2672l11 12M902 2001l11 43M925 2085l11 31M947 2147l11 36M969 2222l11 35 11 30 12 27 11 24 11 21M1036 2373l11 12 11 10 11 10 12 10 11 11 11 13 11 12 11 12 11 12 11 11 12 10 11 10 11 11M1192 2529l11 11 11 12 11 11 12 12 11 12 11 11 11 11 11 12 11 11 11 12 12 12 11 11 11 12M930 2051l11 39M952 2121l11 29 11 35 11 37M996 2257l12 29 11 26 11 24 11 20 11 14 11 11 11 10 12 10 11 10 11 12 11 12 11 12 11 12 11 12 12 10 11 11 11 10 11 11M1208 2524l11 12 11 12 12 11 11 12 11 11 11 12 11 11 11 11 11 12 12 12 11 11 11 12 11 11M990 2188l11 36 12 33 11 28 11 25 11 24 11 19 11 15 11 10 12 10 11 10 11 10 11 11 11 12 11 12 11 12 12 12 11 11M1213 2509l11 12 11 11 12 12 11 11 11 12 11 11 11 12 11 11 11 12 12 11 11 12 11 11M1358 2659l11 11M973 2104l11 28 11 27M1017 2226l12 32M1062 2332l11 19 11 14 11 11 12 10 11 9 11 10 11 11 11 12 11 12 11 12M1196 2474l11 11 11 10 11 11 11 11 11 12 12 11 11 12 11 11 11 12 11 11 11 12 12 11 11 11 11 12 11 12 11 11 11 12M1011 2165l11 31 12 32M1045 2259l11 26 11 24 11 22M1089 2350l11 14 12 10 11 10 11 9 11 10 11 11 11 12 11 12M1190 2450l11 11 11 11 11 10 11 10 11 11 11 11 12 12 11 11 11 12 11 11 11 12 11 11 11 11 12 12 11 11 11 12M1379 2640l11 12 11 12M1050 2232l11 29 11 25 11 23 11 21 11 19 12 13M1150 2392l11 10 11 11M1195 2436l11 12 11 11 11 11 11 10 11 10 11 11 12 11 11 12 11 11 11 11 11 12 11 11 11 12 12 11 11 11M1384 2626l11 12 11 11 11 12M1110 2330l11 18M1133 2361l11 11 11 9 11 10M1188 2411l11 12 12 12 11 11 11 12 11 10 11 10 11 10 11 11 12 11 11 12 11 11 11 11 11 12 11 11 12 11M1378 2601l11 11 11 12 11 11 11 12 12 11M1060 2187l11 26 11 28 11 26 11 22 11 22 11 20 12 17 11 13 11 10 11 10 11 9 11 10 11 11 12 11 11 12 11 11 11 11 11 11 11 10 11 10 12 11 11 11 11 12 11 11 11 11M1372 2577l11 11 11 11 11 12 11 11 11 11 11 12 12 11M1131 2312l12 19M1154 2348l11 13 11 10 11 9 11 10 11 10 12 11 11 11 11 11 11 12 11 11M1354 2542l11 11 12 11 11 12 11 11 11 11 11 11 11 11 11 12 12 11 11 11M1081 2185l11 20M1125 2275l11 20 11 20M1159 2333l11 16 11 12M1281 2456l11 10 12 10 11 11 11 10 11 11 11 11 11 11 11 12 12 11 11 11 11 11 11 11 11 11 11 11 11 11 12 11 11 12M1130 2259l11 21M1164 2317l11 17M1197 2362l11 10 11 10 11 9 12 10 11 11 11 11 11 11 11 11 11 11 11 11 12 10 11 10 11 11 11 11 11 11 11 11 11 10 12 11 11 11 11 11 11 11 11 11M1487 2641l11 11M1169 2304l11 16M1191 2337l11 14 11 12 11 10 11 10 12 10 11 10 11 10 11 11 11 11 11 11 11 11 12 10 11 11 11 10 11 10 11 11 11 11M1458 2596l11 11 12 11 11 11 11 11 11 11M1151 2256l11 19M1173 2292l12 17M1196 2324l11 15 11 14M1396 2521l12 11 11 11 11 10 11 11 11 11 11 11 11 11 12 10 11 11 11 11 11 11 11 11M1201 2314l11 15M1234 2355l11 12 11 10 12 10 11 10 11 10 11 10 11 11 11 11 11 10 12 11 11 10 11 11 11 10 11 10 11 11 11 11 12 10 11 11 11 10 11 11 11 11 11 10 11 11 12 11 11 10 11 11M1228 2333l11 13 11 12 11 11M1540 2630l11 10 11 11M1278 2372l11 11 11 10 11 10 11 10 11 10 11 11 12 10 11 10 11 11 11 10 11 10 11 11 11 10 12 10 11 11 11 10 11 10 11 11 11 10 11 11 12 10 11 10 11 11 11 10 11 10 11 11 11 10"/></g><g stroke="#151212" stroke-width=".6" fill="none"><path d="M38.3 372.6L138.6 464.7"/><path d="M138.6 464.7L318.9 413.2"/><path d="M138.6 581.9L138.6 464.7"/></g><g stroke="#3c3838" stroke-width=".75" fill="none"><path d="M38.3 489.8L34 491"/><path d="M48.3 499L44 500.2"/><path d="M58.4 508.2L54 509.5"/><path d="M68.4 517.4L64.1 518.7"/><path d="M78.4 526.6L74.1 527.9"/><path d="M88.4 535.8L84.1 537.1"/><path d="M98.5 545.1L94.2 546.3"/><path d="M108.5 554.3L104.2 555.5"/><path d="M118.5 563.5L114.2 564.7"/><path d="M128.6 572.7L124.2 573.9"/><path d="M138.6 581.9L134.3 583.1"/><path d="M138.6 581.9L142.4 585.4"/><path d="M168.7 573.3L172.5 576.8"/><path d="M198.7 564.7L202.5 568.3"/><path d="M228.8 556.1L232.6 559.7"/><path d="M258.8 547.6L262.6 551.1"/><path d="M288.9 539L292.7 542.5"/><path d="M318.9 530.4L322.7 533.9"/><path d="M38.3 489.8L34.3 486.3"/><path d="M38.3 466.4L34.3 462.9"/><path d="M38.3 442.9L34.3 439.4"/><path d="M38.3 419.5L34.3 416"/><path d="M38.3 396L34.3 392.5"/><path d="M38.3 372.6L34.3 369.1"/></g><g class="ti" text-anchor="end"><text x="29.8" y="504.3">0</text><text x="39.8" y="513.5">1</text><text x="49.9" y="522.7">2</text><text x="59.9" y="531.9">3</text><text x="69.9" y="541.1">4</text><text x="79.9" y="550.3">5</text><text x="90" y="559.6">6</text><text x="100" y="568.8">7</text><text x="110" y="578">8</text><text x="120.1" y="587.2">9</text><text x="130.1" y="596.4">10</text><text x="32.3" y="488.9">0</text><text x="32.3" y="465.5">0.2</text><text x="32.3" y="442">0.4</text><text x="32.3" y="418.6">0.6</text><text x="32.3" y="395.1">0.8</text><text x="32.3" y="371.7">1</text></g><g class="ti"><text x="145.6" y="599.6">0</text><text x="175.7" y="591"><tspan class="pi">π</tspan>/6</text><text x="205.7" y="582.4"><tspan class="pi">π</tspan>/3</text><text x="235.8" y="573.9"><tspan class="pi">π</tspan>/2</text><text x="265.8" y="565.3">2<tspan class="pi">π</tspan>/3</text><text x="295.9" y="556.7">5<tspan class="pi">π</tspan>/6</text><text x="325.9" y="548.1"><tspan class="pi">π</tspan></text></g><text class="ax" x="55.1" y="563.8" font-size="16">ωt</text><text class="ax" x="245.7" y="590.5" font-size="17">θ</text><text class="cc" transform="translate(13.9 437.1) rotate(-90)" text-anchor="middle">C</text><text class="lb" x="195.9" y="339.3">(c)</text><g stroke="#eaeaea" stroke-width=".7" fill="none"><path d="M389.7 489.8L570 438.3"/><path d="M570 438.3L570 321.1"/><path d="M399.7 499L580 447.5"/><path d="M580 447.5L580 330.3"/><path d="M409.7 508.2L590 456.7"/><path d="M590 456.7L590 339.5"/><path d="M419.7 517.4L600 465.9"/><path d="M600 465.9L600 348.7"/><path d="M429.8 526.6L610.1 475.1"/><path d="M610.1 475.1L610.1 357.9"/><path d="M439.8 535.8L620.1 484.3"/><path d="M620.1 484.3L620.1 367.1"/><path d="M449.8 545.1L630.1 493.6"/><path d="M630.1 493.6L630.1 376.4"/><path d="M459.9 554.3L640.2 502.8"/><path d="M640.2 502.8L640.2 385.6"/><path d="M469.9 563.5L650.2 512"/><path d="M650.2 512L650.2 394.8"/><path d="M479.9 572.7L660.2 521.2"/><path d="M660.2 521.2L660.2 404"/><path d="M490 581.9L670.2 530.4"/><path d="M670.2 530.4L670.2 413.2"/><path d="M389.7 489.8L490 581.9"/><path d="M389.7 489.8L389.7 372.6"/><path d="M419.7 481.2L520 573.3"/><path d="M419.7 481.2L419.7 364"/><path d="M449.8 472.6L550.1 564.7"/><path d="M449.8 472.6L449.8 355.4"/><path d="M479.8 464L580.1 556.1"/><path d="M479.8 464L479.8 346.8"/><path d="M509.9 455.5L610.2 547.6"/><path d="M509.9 455.5L509.9 338.3"/><path d="M539.9 446.9L640.2 539"/><path d="M539.9 446.9L539.9 329.7"/><path d="M570 438.3L670.2 530.4"/><path d="M570 438.3L570 321.1"/><path d="M389.7 489.8L570 438.3"/><path d="M570 438.3L670.2 530.4"/><path d="M389.7 466.4L570 414.9"/><path d="M570 414.9L670.2 507"/><path d="M389.7 442.9L570 391.4"/><path d="M570 391.4L670.2 483.5"/><path d="M389.7 419.5L570 368"/><path d="M570 368L670.2 460.1"/><path d="M389.7 396L570 344.5"/><path d="M570 344.5L670.2 436.6"/><path d="M389.7 372.6L570 321.1"/><path d="M570 321.1L670.2 413.2"/></g><g stroke="#3c3838" stroke-width=".75" fill="none"><path d="M389.7 489.8L570 438.3"/><path d="M570 438.3L670.2 530.4"/><path d="M570 438.3L570 321.1"/><path d="M389.7 372.6L570 321.1"/><path d="M570 321.1L670.2 413.2"/><path d="M389.7 489.8L389.7 372.6"/><path d="M670.2 530.4L670.2 413.2"/><path d="M389.7 489.8L490 581.9"/><path d="M490 581.9L670.2 530.4"/></g><g transform="scale(0.2)" stroke="#000" stroke-width="2.5" stroke-linejoin="round"><path class=t d="M2689 1926l16 23 11 17-16-23z"/><path class=u d="M2673 1903l16 23 11 17-16-22z"/><path class=w d="M2657 1881l16 22 11 18-16-21z"/><path class=x d="M2640 1861l17 20 11 19-16-20z"/><path class=z d="M2624 1842l16 19 12 19-16-19z"/><path class=za d="M2608 1824l16 18 12 19-17-17z"/><path class=zc d="M2592 1807l16 17 11 20-16-17z"/><path class=zd d="M2576 1792l16 15 11 20-16-14z"/><path class=ze d="M2560 1778l16 14 11 21-16-14z"/><path class=zf d="M2544 1766l16 12 11 21-16-11z"/><path class=zg d="M2528 1755l16 11 11 22-16-10z"/><path class=zh d="M2496 1740l16 7 16 8 11 23-16-9-16-7z"/><path class=zi d="M2479 1734l17 6 11 22-16-5z"/><path class=zj d="M2335 1767l16-11 16-9 16-7 16-6 16-3 16-2 16 0 16 2 16 3 12 23-16-3-17-2-16 0-16 2-16 4-16 6-16 7-16 10-16 11z"/><path class=zi d="M2319 1780l16-13 11 25-16 13z"/><path class=zh d="M2286 1811l16-16 17-15 11 25-16 14-17 17z"/><path class=zg d="M2270 1829l16-18 11 25-16 18z"/><path class=zf d="M2254 1849l16-20 11 25-16 20z"/><path class=ze d="M2238 1870l16-21 11 25-16 21z"/><path class=zd d="M2222 1893l16-23 11 25-16 24z"/><path class=zc d="M2206 1917l16-24 11 26-16 24z"/><path class=za d="M2190 1943l16-26 11 26-16 26z"/><path class=z d="M2174 1970l16-27 11 26-16 28z"/><path class=x d="M2158 1999l16-29 11 27-16 28z"/><path class=w d="M2141 2028l17-29 11 26-16 30z"/><path class=u d="M2125 2059l16-31 12 27-17 32z"/><path class=t d="M2109 2091l16-32 11 28-16 32z"/><path class=r d="M2093 2124l16-33 11 28-16 33z"/><path class=p d="M2077 2158l16-34 11 28-16 34z"/><path class=n d="M2061 2193l16-35 11 28-16 35z"/><path class=l d="M2045 2228l16-35 11 28-16 36z"/><path class=j d="M2029 2264l16-36 11 29-16 36z"/><path class=i d="M2013 2300l16-36 11 29-16 37z"/><path class=g d="M1997 2337l16-37 11 30-16 37z"/><path class=e d="M1980 2374l17-37 11 30-16 38z"/><path class=c d="M1964 2412l16-38 12 31-17 37z"/><path class=a d="M1948 2449l16-37 11 30-16 17z"/><path class=p d="M2732 1990l16 24 11 17-16-24z"/><path class=r d="M2716 1966l16 24 11 17-16-23z"/><path class=s d="M2700 1943l16 23 11 18-16-22z"/><path class=u d="M2684 1921l16 22 11 19-16-22z"/><path class=v d="M2668 1900l16 21 11 19-16-20z"/><path class=x d="M2652 1880l16 20 11 20-16-19z"/><path class=y d="M2636 1861l16 19 11 21-16-18z"/><path class=za d="M2619 1844l17 17 11 22-16-17z"/><path class=zb d="M2603 1827l16 17 12 22-17-16z"/><path class=zc d="M2587 1813l16 14 11 23-16-14z"/><path class=zd d="M2571 1799l16 14 11 23-16-13z"/><path class=ze d="M2555 1788l16 11 11 24-16-11z"/><path class=zf d="M2539 1778l16 10 11 24-16-10z"/><path class=zg d="M2523 1769l16 9 11 24-16-8z"/><path class=zh d="M2491 1757l16 5 16 7 11 25-16-6-16-5z"/><path class=zi d="M2442 1752l16 0 17 2 16 3 11 26-16-3-16-2-17 1z"/><path class=zj d="M2394 1764l16-6 16-4 16-2 11 27-16 2-16 4-16 6z"/><path class=zi d="M2346 1792l16-11 16-10 16-7 11 27-16 7-16 10-16 11z"/><path class=zh d="M2314 1819l16-14 16-13 11 27-16 13-16 15z"/><path class=zg d="M2297 1836l17-17 11 28-16 16z"/><path class=zf d="M2281 1854l16-18 12 27-16 19z"/><path class=ze d="M2265 1874l16-20 12 28-17 19z"/><path class=zd d="M2249 1895l16-21 11 27-16 22z"/><path class=zc d="M2233 1919l16-24 11 28-16 23z"/><path class=zb d="M2217 1943l16-24 11 27-16 25z"/><path class=z d="M2201 1969l16-26 11 28-16 26z"/><path class=y d="M2185 1997l16-28 11 28-16 28z"/><path class=w d="M2169 2025l16-28 11 28-16 29z"/><path class=v d="M2153 2055l16-30 11 29-16 30z"/><path class=t d="M2136 2087l17-32 11 29-16 31z"/><path class=s d="M2120 2119l16-32 12 28-16 33z"/><path class=q d="M2104 2152l16-33 12 29-17 33z"/><path class=o d="M2088 2186l16-34 11 29-16 34z"/><path class=m d="M2072 2221l16-35 11 29-16 35z"/><path class=k d="M2056 2257l16-36 11 29-16 36z"/><path class=i d="M2040 2293l16-36 11 29-16 37z"/><path class=g d="M2024 2330l16-37 11 30-16 37z"/><path class=e d="M2008 2367l16-37 11 30-16 37z"/><path class=c d="M1992 2405l16-38 11 30-16 38z"/><path class=a d="M1959 2459l16-17 17-37 11 30-16 30-16 4z"/><path class=n d="M2759 2031l16 24 12 16-17-23z"/><path class=o d="M2743 2007l16 24 11 17-16-23z"/><path class=q d="M2727 1984l16 23 11 18-16-22z"/><path class=s d="M2711 1962l16 22 11 19-16-21z"/><path class=t d="M2695 1940l16 22 11 20-16-21z"/><path class=v d="M2679 1920l16 20 11 21-16-19z"/><path class=w d="M2663 1901l16 19 11 22-16-19z"/><path class=y d="M2647 1883l16 18 11 22-16-17z"/><path class=z d="M2631 1866l16 17 11 23-16-16z"/><path class=za d="M2614 1850l17 16 11 24-16-15z"/><path class=zb d="M2598 1836l16 14 12 25-16-13z"/><path class=zc d="M2582 1823l16 13 12 26-17-13z"/><path class=zd d="M2566 1812l16 11 11 26-16-10z"/><path class=ze d="M2550 1802l16 10 11 27-16-10z"/><path class=zf d="M2534 1794l16 8 11 27-16-7z"/><path class=zg d="M2502 1783l16 5 16 6 11 28-16-7-16-4z"/><path class=zh d="M2453 1779l17-1 16 2 16 3 11 28-16-3-16-1-16 0z"/><path class=zi d="M2405 1791l16-6 16-4 16-2 12 28-16 3-17 4-16 6z"/><path class=zh d="M2357 1819l16-11 16-10 16-7 11 29-16 7-16 10-16 11z"/><path class=zg d="M2325 1847l16-15 16-13 11 29-16 13-16 15z"/><path class=zf d="M2309 1863l16-16 11 29-16 16z"/><path class=ze d="M2293 1882l16-19 11 29-16 18z"/><path class=zd d="M2276 1901l17-19 11 28-16 20z"/><path class=zc d="M2260 1923l16-22 12 29-17 22z"/><path class=zb d="M2244 1946l16-23 11 29-16 23z"/><path class=za d="M2228 1971l16-25 11 29-16 25z"/><path class=y d="M2212 1997l16-26 11 29-16 26z"/><path class=x d="M2196 2025l16-28 11 29-16 28z"/><path class=v d="M2180 2054l16-29 11 29-16 29z"/><path class=u d="M2164 2084l16-30 11 29-16 30z"/><path class=s d="M2148 2115l16-31 11 29-16 31z"/><path class=q d="M2132 2148l16-33 11 29-16 33z"/><path class=p d="M2115 2181l17-33 11 29-16 33z"/><path class=n d="M2099 2215l16-34 12 29-17 34z"/><path class=l d="M2083 2250l16-35 11 29-16 36z"/><path class=j d="M2067 2286l16-36 11 30-16 36z"/><path class=h d="M2051 2323l16-37 11 30-16 36z"/><path class=f d="M2035 2360l16-37 11 29-16 37z"/><path class=d d="M2019 2397l16-37 11 29-16 37z"/><path class=b d="M2003 2435l16-38 11 29-16 38z"/><path class=a d="M1971 2469l16-4 16-30 11 29-16 11-16 5z"/><path class=m d="M2770 2048l17 23 11 17-16-22z"/><path class=o d="M2754 2025l16 23 12 18-16-22z"/><path class=q d="M2738 2003l16 22 12 19-17-21z"/><path class=r d="M2722 1982l16 21 11 20-16-21z"/><path class=t d="M2706 1961l16 21 11 20-16-19z"/><path class=u d="M2690 1942l16 19 11 22-16-19z"/><path class=w d="M2674 1923l16 19 11 22-16-17z"/><path class=x d="M2658 1906l16 17 11 24-16-17z"/><path class=y d="M2642 1890l16 16 11 24-16-15z"/><path class=z d="M2626 1875l16 15 11 25-16-14z"/><path class=za d="M2610 1862l16 13 11 26-16-13z"/><path class=zb d="M2593 1849l17 13 11 26-16-12z"/><path class=zc d="M2577 1839l16 10 12 27-17-10z"/><path class=zd d="M2561 1829l16 10 11 27-16-9z"/><path class=ze d="M2545 1822l16 7 11 28-16-7z"/><path class=zf d="M2513 1811l16 4 16 7 11 28-16-6-16-4z"/><path class=zg d="M2449 1810l16-3 16 0 16 1 16 3 11 29-16-3-16-1-16 1-16 2z"/><path class=zh d="M2432 1814l17-4 11 29-16 5z"/><path class=zg d="M2368 1848l16-11 16-10 16-7 16-6 12 30-17 5-16 8-16 10-16 11z"/><path class=zf d="M2352 1861l16-13 11 30-16 13z"/><path class=ze d="M2320 1892l16-16 16-15 11 30-16 15-16 16z"/><path class=zd d="M2304 1910l16-18 11 30-16 18z"/><path class=zc d="M2288 1930l16-20 11 30-16 20z"/><path class=zb d="M2271 1952l17-22 11 30-16 21z"/><path class=za d="M2255 1975l16-23 12 29-17 24z"/><path class=y d="M2239 2000l16-25 11 30-16 24z"/><path class=x d="M2223 2026l16-26 11 29-16 26z"/><path class=w d="M2207 2054l16-28 11 29-16 28z"/><path class=u d="M2191 2083l16-29 11 29-16 29z"/><path class=t d="M2175 2113l16-30 11 29-16 30z"/><path class=r d="M2159 2144l16-31 11 29-16 31z"/><path class=p d="M2143 2177l16-33 11 29-16 33z"/><path class=o d="M2127 2210l16-33 11 29-16 33z"/><path class=m d="M2110 2244l17-34 11 29-16 34z"/><path class=k d="M2094 2280l16-36 12 29-16 36z"/><path class=i d="M2078 2316l16-36 12 29-17 35z"/><path class=g d="M2062 2352l16-36 11 28-16 37z"/><path class=e d="M2046 2389l16-37 11 29-16 37z"/><path class=c d="M2030 2426l16-37 11 29-16 37z"/><path class=a d="M1982 2480l16-5 16-11 16-38 11 29-16 26-16 4-16 5z"/><path class=k d="M2798 2088l16 23 11 16-16-22z"/><path class=m d="M2782 2066l16 22 11 17-16-21z"/><path class=n d="M2766 2044l16 22 11 18-16-21z"/><path class=p d="M2749 2023l17 21 11 19-16-20z"/><path class=q d="M2733 2002l16 21 12 20-17-19z"/><path class=s d="M2717 1983l16 19 11 22-16-18z"/><path class=t d="M2701 1964l16 19 11 23-16-18z"/><path class=v d="M2685 1947l16 17 11 24-16-17z"/><path class=w d="M2669 1930l16 17 11 24-16-15z"/><path class=x d="M2653 1915l16 15 11 26-16-15z"/><path class=y d="M2637 1901l16 14 11 26-16-13z"/><path class=z d="M2621 1888l16 13 11 27-16-12z"/><path class=za d="M2605 1876l16 12 11 28-16-11z"/><path class=zb d="M2588 1866l17 10 11 29-16-10z"/><path class=zc d="M2572 1857l16 9 12 29-16-8z"/><path class=zd d="M2556 1850l16 7 12 30-17-7z"/><path class=ze d="M2524 1840l16 4 16 6 11 30-16-6-16-4z"/><path class=zf d="M2395 1867l16-10 16-8 17-5 16-5 16-2 16-1 16 1 16 3 11 30-16-2-16-1-16 1-16 2-16 5-16 6-16 7-17 10z"/><path class=ze d="M2363 1891l16-13 16-11 11 31-16 11-16 13z"/><path class=zd d="M2347 1906l16-15 11 31-16 14z"/><path class=zc d="M2315 1940l16-18 16-16 11 30-16 17-16 18z"/><path class=zb d="M2299 1960l16-20 11 31-16 19z"/><path class=za d="M2283 1981l16-21 11 30-16 22z"/><path class=z d="M2266 2005l17-24 11 31-16 23z"/><path class=x d="M2250 2029l16-24 12 30-16 24z"/><path class=w d="M2234 2055l16-26 12 30-17 26z"/><path class=v d="M2218 2083l16-28 11 30-16 27z"/><path class=t d="M2202 2112l16-29 11 29-16 29z"/><path class=r d="M2186 2142l16-30 11 29-16 30z"/><path class=q d="M2170 2173l16-31 11 29-16 31z"/><path class=o d="M2154 2206l16-33 11 29-16 33z"/><path class=m d="M2138 2239l16-33 11 29-16 33z"/><path class=l d="M2122 2273l16-34 11 29-16 34z"/><path class=j d="M2106 2309l16-36 11 29-16 35z"/><path class=h d="M2089 2344l17-35 11 28-16 36z"/><path class=f d="M2073 2381l16-37 12 29-17 36z"/><path class=d d="M2057 2418l16-37 11 28-16 37z"/><path class=b d="M2041 2455l16-37 11 28-16 37z"/><path class=a d="M1993 2490l16-5 16-4 16-26 11 28-16 8-16 5-16 4z"/><path class=g d="M2841 2150l16 22 11 15-16-21z"/><path class=i d="M2825 2127l16 23 11 16-16-21z"/><path class=k d="M2809 2105l16 22 11 18-16-20z"/><path class=l d="M2793 2084l16 21 11 20-16-20z"/><path class=n d="M2777 2063l16 21 11 21-16-19z"/><path class=o d="M2761 2043l16 20 11 23-16-19z"/><path class=q d="M2744 2024l17 19 11 24-16-18z"/><path class=r d="M2728 2006l16 18 12 25-16-17z"/><path class=t d="M2712 1988l16 18 12 26-17-16z"/><path class=u d="M2696 1971l16 17 11 28-16-16z"/><path class=v d="M2680 1956l16 15 11 29-16-14z"/><path class=w d="M2664 1941l16 15 11 30-16-14z"/><path class=x d="M2648 1928l16 13 11 31-16-12z"/><path class=y d="M2632 1916l16 12 11 32-16-12z"/><path class=z d="M2616 1905l16 11 11 32-16-10z"/><path class=za d="M2600 1895l16 10 11 33-16-9z"/><path class=zb d="M2584 1887l16 8 11 34-16-8z"/><path class=zc d="M2551 1874l16 6 17 7 11 34-16-6-17-5z"/><path class=zd d="M2519 1868l16 2 16 4 11 36-16-4-16-2z"/><path class=ze d="M2423 1888l16-7 16-6 16-5 16-2 16-1 16 1 11 36-16 0-16 1-16 2-16 4-16 6-16 8z"/><path class=zd d="M2374 1922l16-13 16-11 17-10 11 37-16 9-17 11-16 13z"/><path class=zc d="M2358 1936l16-14 11 36-16 14z"/><path class=zb d="M2342 1953l16-17 11 36-16 16z"/><path class=za d="M2326 1971l16-18 11 35-16 18z"/><path class=z d="M2310 1990l16-19 11 35-16 19z"/><path class=y d="M2294 2012l16-22 11 35-16 21z"/><path class=x d="M2278 2035l16-23 11 34-16 23z"/><path class=w d="M2262 2059l16-24 11 34-16 24z"/><path class=v d="M2245 2085l17-26 11 34-16 26z"/><path class=t d="M2229 2112l16-27 12 34-17 27z"/><path class=s d="M2213 2141l16-29 11 34-16 29z"/><path class=q d="M2197 2171l16-30 11 34-16 29z"/><path class=p d="M2181 2202l16-31 11 33-16 31z"/><path class=n d="M2165 2235l16-33 11 33-16 32z"/><path class=l d="M2149 2268l16-33 11 32-16 33z"/><path class=j d="M2133 2302l16-34 11 32-16 34z"/><path class=i d="M2117 2337l16-35 11 32-16 35z"/><path class=g d="M2101 2373l16-36 11 32-16 36z"/><path class=e d="M2084 2409l17-36 11 32-16 36z"/><path class=c d="M2068 2446l16-37 12 32-16 36z"/><path class=a d="M2004 2500l16-4 16-5 16-8 16-37 12 31-17 20-16 4-16 5-16 4z"/><path class=e d="M2868 2187l16 22 12 14-17-20z"/><path class=g d="M2852 2166l16 21 11 16-16-20z"/><path class=i d="M2836 2145l16 21 11 17-16-19z"/><path class=j d="M2820 2125l16 20 11 19-16-18z"/><path class=l d="M2804 2105l16 20 11 21-16-18z"/><path class=m d="M2788 2086l16 19 11 23-16-18z"/><path class=n d="M2772 2067l16 19 11 24-16-17z"/><path class=p d="M2756 2049l16 18 11 26-16-16z"/><path class=q d="M2740 2032l16 17 11 28-16-16z"/><path class=r d="M2723 2016l17 16 11 29-16-15z"/><path class=t d="M2707 2000l16 16 12 30-17-14z"/><path class=u d="M2691 1986l16 14 11 32-16-13z"/><path class=v d="M2675 1972l16 14 11 33-16-13z"/><path class=w d="M2659 1960l16 12 11 34-16-11z"/><path class=x d="M2643 1948l16 12 11 35-16-11z"/><path class=y d="M2627 1938l16 10 11 36-16-9z"/><path class=z d="M2611 1929l16 9 11 37-16-8z"/><path class=za d="M2579 1915l16 6 16 8 11 38-16-7-16-6z"/><path class=zb d="M2546 1906l16 4 17 5 11 39-16-5-16-3z"/><path class=zc d="M2418 1934l16-9 16-8 16-6 16-4 16-2 16-1 16 0 16 2 12 40-17-2-16 0-16 1-16 3-16 4-16 6-16 7-16 9z"/><path class=zb d="M2385 1958l16-13 17-11 11 40-16 11-16 12z"/><path class=za d="M2353 1988l16-16 16-14 12 39-17 14-16 16z"/><path class=z d="M2337 2006l16-18 11 39-16 17z"/><path class=y d="M2321 2025l16-19 11 38-16 20z"/><path class=x d="M2305 2046l16-21 11 39-16 20z"/><path class=w d="M2289 2069l16-23 11 38-16 22z"/><path class=v d="M2273 2093l16-24 11 37-16 24z"/><path class=t d="M2257 2119l16-26 11 37-16 25z"/><path class=s d="M2240 2146l17-27 11 36-16 27z"/><path class=q d="M2224 2175l16-29 12 36-16 28z"/><path class=p d="M2208 2204l16-29 12 35-17 29z"/><path class=n d="M2192 2235l16-31 11 35-16 31z"/><path class=m d="M2176 2267l16-32 11 35-16 31z"/><path class=k d="M2160 2300l16-33 11 34-16 33z"/><path class=i d="M2144 2334l16-34 11 34-16 33z"/><path class=g d="M2128 2369l16-35 11 33-16 35z"/><path class=e d="M2112 2405l16-36 11 33-16 35z"/><path class=c d="M2096 2441l16-36 11 32-16 35z"/><path class=a d="M2015 2510l16-4 16-5 16-4 17-20 16-36 11 31-16 30-16 5-17 4-16 5-16 5z"/><path class=e d="M2879 2203l17 20 11 13-16-18z"/><path class=g d="M2863 2183l16 20 12 15-16-17z"/><path class=h d="M2847 2164l16 19 12 18-17-17z"/><path class=i d="M2831 2146l16 18 11 20-16-17z"/><path class=k d="M2815 2128l16 18 11 21-16-17z"/><path class=l d="M2799 2110l16 18 11 22-16-16z"/><path class=m d="M2783 2093l16 17 11 24-16-15z"/><path class=o d="M2767 2077l16 16 11 26-16-15z"/><path class=p d="M2751 2061l16 16 11 27-16-14z"/><path class=q d="M2735 2046l16 15 11 29-16-13z"/><path class=r d="M2718 2032l17 14 11 31-16-13z"/><path class=s d="M2702 2019l16 13 12 32-16-12z"/><path class=u d="M2686 2006l16 13 12 33-17-11z"/><path class=v d="M2654 1984l16 11 16 11 11 35-16-11-16-9z"/><path class=w d="M2638 1975l16 9 11 37-16-9z"/><path class=x d="M2622 1967l16 8 11 37-16-7z"/><path class=y d="M2590 1954l16 6 16 7 11 38-16-6-16-6z"/><path class=z d="M2558 1946l16 3 16 5 11 39-16-4-16-2z"/><path class=za d="M2509 1945l16-1 16 0 17 2 11 41-16-2-17 0-16 1z"/><path class=zb d="M2477 1952l16-4 16-3 11 41-16 3-16 4z"/><path class=za d="M2413 1985l16-11 16-9 16-7 16-6 11 41-16 6-16 7-16 9-16 11z"/><path class=z d="M2380 2011l17-14 16-12 11 41-16 12-16 13z"/><path class=y d="M2364 2027l16-16 12 40-17 16z"/><path class=x d="M2348 2044l16-17 11 40-16 17z"/><path class=w d="M2332 2064l16-20 11 40-16 18z"/><path class=v d="M2316 2084l16-20 11 38-16 20z"/><path class=u d="M2300 2106l16-22 11 38-16 22z"/><path class=t d="M2284 2130l16-24 11 38-16 23z"/><path class=s d="M2268 2155l16-25 11 37-16 25z"/><path class=q d="M2252 2182l16-27 11 37-16 26z"/><path class=p d="M2236 2210l16-28 11 36-16 27z"/><path class=n d="M2219 2239l17-29 11 35-16 29z"/><path class=m d="M2203 2270l16-31 12 35-17 29z"/><path class=k d="M2187 2301l16-31 11 33-16 31z"/><path class=i d="M2171 2334l16-33 11 33-16 32z"/><path class=h d="M2155 2367l16-33 11 32-16 33z"/><path class=f d="M2139 2402l16-35 11 32-16 33z"/><path class=d d="M2123 2437l16-35 11 30-16 34z"/><path class=b d="M2107 2472l16-35 11 29-16 35z"/><path class=a d="M2026 2521l16-5 16-5 17-4 16-5 16-30 11 29-16 11-16 5-16 5-16 4-17 5z"/><path class=c d="M2907 2236l16 19 11 12-16-17z"/><path class=e d="M2891 2218l16 18 11 14-16-16z"/><path class=f d="M2875 2201l16 17 11 16-16-17z"/><path class=g d="M2858 2184l17 17 11 16-16-15z"/><path class=i d="M2842 2167l16 17 12 18-17-16z"/><path class=j d="M2826 2150l16 17 11 19-16-14z"/><path class=k d="M2810 2134l16 16 11 22-16-15z"/><path class=m d="M2794 2119l16 15 11 23-16-14z"/><path class=n d="M2778 2104l16 15 11 24-16-13z"/><path class=o d="M2762 2090l16 14 11 26-16-13z"/><path class=p d="M2746 2077l16 13 11 27-16-12z"/><path class=q d="M2730 2064l16 13 11 28-16-12z"/><path class=r d="M2714 2052l16 12 11 29-16-10z"/><path class=s d="M2697 2041l17 11 11 31-16-10z"/><path class=t d="M2681 2030l16 11 12 32-17-10z"/><path class=u d="M2665 2021l16 9 11 33-16-8z"/><path class=v d="M2633 2005l16 7 16 9 11 34-16-8-16-6z"/><path class=w d="M2617 1999l16 6 11 36-16-6z"/><path class=x d="M2585 1989l16 4 16 6 11 36-16-5-16-3z"/><path class=y d="M2520 1986l16-1 17 0 16 2 16 2 11 38-16-2-16-1-16 0-17 1z"/><path class=z d="M2472 1999l16-6 16-4 16-3 11 39-16 3-16 5-16 5z"/><path class=y d="M2424 2026l16-11 16-9 16-7 11 39-16 8-16 8-16 10z"/><path class=x d="M2392 2051l16-13 16-12 11 38-16 12-16 13z"/><path class=w d="M2375 2067l17-16 11 38-16 15z"/><path class=v d="M2359 2084l16-17 12 37-16 17z"/><path class=u d="M2327 2122l16-20 16-18 12 37-17 18-16 19z"/><path class=s d="M2311 2144l16-22 11 36-16 21z"/><path class=r d="M2295 2167l16-23 11 35-16 22z"/><path class=q d="M2279 2192l16-25 11 34-16 24z"/><path class=p d="M2263 2218l16-26 11 33-16 25z"/><path class=n d="M2247 2245l16-27 11 32-16 27z"/><path class=m d="M2231 2274l16-29 11 32-16 27z"/><path class=k d="M2214 2303l17-29 11 30-16 29z"/><path class=j d="M2198 2334l16-31 12 30-16 30z"/><path class=h d="M2182 2366l16-32 12 29-17 31z"/><path class=f d="M2166 2399l16-33 11 28-16 32z"/><path class=e d="M2150 2432l16-33 11 27-16 32z"/><path class=c d="M2134 2466l16-34 11 26-16 33z"/><path class=a d="M2037 2531l17-5 16-4 16-5 16-5 16-11 16-35 11 25-16 27-16 5-16 4-16 5-16 5-16 4z"/><path class=c d="M2918 2250l16 17 11 11-16-15z"/><path class=d d="M2902 2234l16 16 11 13-16-14z"/><path class=f d="M2886 2217l16 17 11 15-16-15z"/><path class=g d="M2870 2202l16 15 11 17-16-14z"/><path class=h d="M2853 2186l17 16 11 18-16-14z"/><path class=i d="M2837 2172l16 14 12 20-16-13z"/><path class=k d="M2821 2157l16 15 12 21-17-13z"/><path class=l d="M2805 2143l16 14 11 23-16-13z"/><path class=m d="M2789 2130l16 13 11 24-16-11z"/><path class=n d="M2773 2117l16 13 11 26-16-12z"/><path class=o d="M2757 2105l16 12 11 27-16-11z"/><path class=p d="M2741 2093l16 12 11 28-16-10z"/><path class=q d="M2725 2083l16 10 11 30-16-10z"/><path class=r d="M2709 2073l16 10 11 30-16-8z"/><path class=s d="M2676 2055l16 8 17 10 11 32-16-9-16-7z"/><path class=t d="M2660 2047l16 8 12 34-17-7z"/><path class=u d="M2628 2035l16 6 16 6 11 35-16-5-16-5z"/><path class=v d="M2596 2027l16 3 16 5 11 37-16-4-16-3z"/><path class=w d="M2564 2024l16 1 16 2 11 38-16-1-16-1z"/><path class=x d="M2467 2046l16-8 16-5 16-5 16-3 17-1 16 0 11 39-16 1-16 2-16 3-17 4-16 6-16 7z"/><path class=w d="M2419 2076l16-12 16-10 16-8 11 40-16 9-16 10-16 11z"/><path class=v d="M2403 2089l16-13 11 40-16 13z"/><path class=u d="M2371 2121l16-17 16-15 11 40-16 15-16 15z"/><path class=t d="M2354 2139l17-18 11 38-16 18z"/><path class=s d="M2338 2158l16-19 12 38-17 18z"/><path class=r d="M2322 2179l16-21 11 37-16 20z"/><path class=q d="M2306 2201l16-22 11 36-16 22z"/><path class=p d="M2290 2225l16-24 11 36-16 23z"/><path class=n d="M2274 2250l16-25 11 35-16 24z"/><path class=m d="M2258 2277l16-27 11 34-16 25z"/><path class=l d="M2242 2304l16-27 11 32-16 26z"/><path class=j d="M2226 2333l16-29 11 31-16 28z"/><path class=i d="M2210 2363l16-30 11 30-16 28z"/><path class=g d="M2193 2394l17-31 11 28-16 30z"/><path class=e d="M2177 2426l16-32 12 27-17 30z"/><path class=d d="M2161 2458l16-32 11 25-16 31z"/><path class=b d="M2145 2491l16-33 11 24-16 31z"/><path class=a d="M2049 2541l16-4 16-5 16-5 16-4 16-5 16-27 11 22-16 15-16 5-16 5-16 4-16 5-16 4z"/><path class=b d="M2945 2278l16 16 11 10-16-14z"/><path class=c d="M2929 2263l16 15 11 12-16-13z"/><path class=d d="M2913 2249l16 14 11 14-16-13z"/><path class=e d="M2897 2234l16 15 11 15-16-13z"/><path class=f d="M2881 2220l16 14 11 17-16-12z"/><path class=h d="M2865 2206l16 14 11 19-16-12z"/><path class=i d="M2849 2193l16 13 11 21-16-11z"/><path class=j d="M2832 2180l17 13 11 23-16-12z"/><path class=k d="M2816 2167l16 13 12 24-17-10z"/><path class=l d="M2800 2156l16 11 11 27-16-11z"/><path class=m d="M2784 2144l16 12 11 27-16-10z"/><path class=n d="M2768 2133l16 11 11 29-16-9z"/><path class=o d="M2752 2123l16 10 11 31-16-9z"/><path class=p d="M2720 2105l16 8 16 10 11 32-16-8-16-7z"/><path class=q d="M2704 2096l16 9 11 35-16-7z"/><path class=r d="M2688 2089l16 7 11 37-16-6z"/><path class=s d="M2655 2077l16 5 17 7 11 38-16-6-17-4z"/><path class=t d="M2623 2068l16 4 16 5 11 40-16-4-16-3z"/><path class=u d="M2575 2063l16 1 16 1 16 3 11 42-16-2-16-1-16 0z"/><path class=v d="M2478 2086l16-7 16-6 17-4 16-3 16-2 16-1 11 44-16 1-16 3-16 3-16 5-17 6-16 7z"/><path class=u d="M2430 2116l16-11 16-10 16-9 11 46-16 8-16 10-16 11z"/><path class=t d="M2398 2144l16-15 16-13 11 45-16 13-16 14z"/><path class=s d="M2382 2159l16-15 11 44-16 15z"/><path class=r d="M2366 2177l16-18 11 44-16 16z"/><path class=q d="M2349 2195l17-18 11 42-16 18z"/><path class=p d="M2333 2215l16-20 12 42-16 19z"/><path class=o d="M2317 2237l16-22 12 41-17 21z"/><path class=n d="M2301 2260l16-23 11 40-16 21z"/><path class=m d="M2285 2284l16-24 11 38-16 23z"/><path class=l d="M2269 2309l16-25 11 37-16 24z"/><path class=j d="M2253 2335l16-26 11 36-16 25z"/><path class=i d="M2237 2363l16-28 11 35-16 26z"/><path class=h d="M2221 2391l16-28 11 33-16 27z"/><path class=f d="M2205 2421l16-30 11 32-16 27z"/><path class=d d="M2188 2451l17-30 11 29-16 29z"/><path class=c d="M2172 2482l16-31 12 28-16 29z"/><path class=a d="M2060 2551l16-4 16-5 16-4 16-5 16-5 16-15 16-31 12 26-17 26-16 5-16 4-16 5-16 4-16 5-16 5z"/><path class=b d="M2956 2290l16 14 11 10-16-11z"/><path class=c d="M2940 2277l16 13 11 13-16-12z"/><path class=d d="M2924 2264l16 13 11 14-16-11z"/><path class=e d="M2908 2251l16 13 11 16-16-11z"/><path class=f d="M2892 2239l16 12 11 18-16-10z"/><path class=g d="M2876 2227l16 12 11 20-16-11z"/><path class=h d="M2860 2216l16 11 11 21-16-9z"/><path class=i d="M2844 2204l16 12 11 23-16-10z"/><path class=j d="M2827 2194l17 10 11 25-16-9z"/><path class=k d="M2811 2183l16 11 12 26-16-8z"/><path class=l d="M2779 2164l16 9 16 10 12 29-17-9-16-7z"/><path class=m d="M2763 2155l16 9 11 32-16-8z"/><path class=n d="M2747 2147l16 8 11 33-16-6z"/><path class=o d="M2731 2140l16 7 11 35-16-6z"/><path class=p d="M2699 2127l16 6 16 7 11 36-16-6-16-5z"/><path class=q d="M2666 2117l17 4 16 6 11 38-16-4-16-3z"/><path class=r d="M2634 2110l16 3 16 4 12 41-16-3-17-2z"/><path class=s d="M2586 2107l16 0 16 1 16 2 11 43-16-1-16 0-16 1z"/><path class=t d="M2489 2132l16-7 17-6 16-5 16-3 16-3 16-1 11 46-16 2-16 2-16 4-16 5-16 6-16 7z"/><path class=s d="M2441 2161l16-11 16-10 16-8 12 47-17 9-16 9-16 11z"/><path class=r d="M2409 2188l16-14 16-13 11 47-16 12-16 13z"/><path class=q d="M2393 2203l16-15 11 45-16 15z"/><path class=p d="M2377 2219l16-16 11 45-16 16z"/><path class=o d="M2361 2237l16-18 11 45-16 17z"/><path class=n d="M2345 2256l16-19 11 44-16 18z"/><path class=m d="M2328 2277l17-21 11 43-16 19z"/><path class=l d="M2312 2298l16-21 12 41-17 20z"/><path class=k d="M2296 2321l16-23 11 40-16 22z"/><path class=j d="M2280 2345l16-24 11 39-16 22z"/><path class=i d="M2264 2370l16-25 11 37-16 23z"/><path class=h d="M2248 2396l16-26 11 35-16 25z"/><path class=f d="M2232 2423l16-27 11 34-16 25z"/><path class=e d="M2216 2450l16-27 11 32-16 26z"/><path class=c d="M2200 2479l16-29 11 31-16 26z"/><path class=b d="M2184 2508l16-29 11 28-16 27z"/><path class=a d="M2071 2562l16-5 16-5 16-4 16-5 16-4 16-5 17-26 11 26-16 10-17 5-16 4-16 5-16 5-16 4-16 5z"/><path class=b d="M2951 2291l16 12 16 11 12 11-16-10-17-10z"/><path class=c d="M2935 2280l16 11 11 14-16-9z"/><path class=d d="M2919 2269l16 11 11 16-16-9z"/><path class=e d="M2903 2259l16 10 11 18-16-9z"/><path class=f d="M2887 2248l16 11 11 19-16-9z"/><path class=g d="M2871 2239l16 9 11 21-16-8z"/><path class=h d="M2855 2229l16 10 11 22-16-8z"/><path class=i d="M2839 2220l16 9 11 24-16-7z"/><path class=j d="M2806 2203l17 9 16 8 11 26-16-7-16-6z"/><path class=k d="M2790 2196l16 7 12 30-17-7z"/><path class=l d="M2774 2188l16 8 11 30-16-5z"/><path class=m d="M2742 2176l16 6 16 6 11 33-16-6-16-4z"/><path class=n d="M2710 2165l16 5 16 6 11 35-16-4-16-4z"/><path class=o d="M2678 2158l16 3 16 4 11 38-16-3-16-2z"/><path class=p d="M2645 2153l17 2 16 3 11 40-16-2-16-1z"/><path class=q d="M2565 2157l16-2 16-2 16-1 16 0 16 1 12 42-17 0-16 1-16 1-16 3-16 3z"/><path class=r d="M2533 2166l16-5 16-4 11 46-16 4-16 5z"/><path class=q d="M2468 2197l16-9 17-9 16-7 16-6 11 46-16 7-16 7-16 8-17 10z"/><path class=p d="M2436 2220l16-12 16-11 11 47-16 10-16 12z"/><path class=o d="M2404 2248l16-15 16-13 11 46-16 12-16 14z"/><path class=n d="M2388 2264l16-16 11 44-16 15z"/><path class=m d="M2372 2281l16-17 11 43-16 16z"/><path class=l d="M2340 2318l16-19 16-18 11 42-16 17-16 18z"/><path class=k d="M2323 2338l17-20 11 40-16 19z"/><path class=j d="M2307 2360l16-22 12 39-16 20z"/><path class=h d="M2291 2382l16-22 12 37-17 21z"/><path class=g d="M2275 2405l16-23 11 36-16 22z"/><path class=f d="M2259 2430l16-25 11 35-16 23z"/><path class=e d="M2243 2455l16-25 11 33-16 23z"/><path class=d d="M2227 2481l16-26 11 31-16 24z"/><path class=b d="M2211 2507l16-26 11 29-16 25z"/><path class=a d="M2082 2572l16-5 16-4 16-5 16-5 16-4 17-5 16-10 16-27 11 28-16 15-16 4-16 5-16 5-17 4-16 5-16 4-16 5z"/><path class=a d="M2979 2315l16 10 11 10-16-9z"/><path class=b d="M2962 2305l17 10 11 11-16-8z"/><path class=c d="M2946 2296l16 9 12 13-17-7z"/><path class=d d="M2930 2287l16 9 11 15-16-8z"/><path class=e d="M2914 2278l16 9 11 16-16-7z"/><path class=f d="M2882 2261l16 8 16 9 11 18-16-7-16-6z"/><path class=g d="M2866 2253l16 8 11 22-16-6z"/><path class=h d="M2850 2246l16 7 11 24-16-6z"/><path class=i d="M2818 2233l16 6 16 7 11 25-16-6-16-5z"/><path class=j d="M2801 2226l17 7 11 27-16-5z"/><path class=k d="M2769 2215l16 6 16 5 12 29-17-4-16-4z"/><path class=l d="M2737 2207l16 4 16 4 11 32-16-3-16-3z"/><path class=m d="M2705 2200l16 3 16 4 11 34-16-3-16-2z"/><path class=n d="M2657 2195l16 1 16 2 16 2 11 36-16-1-16-1-16 0z"/><path class=o d="M2479 2244l17-10 16-8 16-7 16-7 16-5 16-4 16-3 16-3 16-1 16-1 17 0 11 39-16 1-16 1-17 2-16 3-16 4-16 5-16 5-16 6-16 8-16 8-16 9z"/><path class=n d="M2447 2266l16-12 16-10 12 42-16 10-17 11z"/><path class=m d="M2415 2292l16-14 16-12 11 41-16 13-16 13z"/><path class=l d="M2399 2307l16-15 11 41-16 14z"/><path class=k d="M2367 2340l16-17 16-16 11 40-16 15-16 16z"/><path class=j d="M2351 2358l16-18 11 38-16 17z"/><path class=i d="M2335 2377l16-19 11 37-16 18z"/><path class=h d="M2319 2397l16-20 11 36-16 19z"/><path class=g d="M2302 2418l17-21 11 35-16 19z"/><path class=f d="M2286 2440l16-22 12 33-17 21z"/><path class=e d="M2270 2463l16-23 11 32-16 21z"/><path class=d d="M2254 2486l16-23 11 30-16 22z"/><path class=b d="M2238 2510l16-24 11 29-16 22z"/><path class=a d="M2093 2582l16-5 16-4 16-5 17-4 16-5 16-5 16-4 16-15 16-25 11 27-16 18-16 5-16 5-16 4-16 5-16 4-17 5-16 5-16 4z"/><path class=a d="M2990 2326l16 9 11 10-16-7z"/><path class=b d="M2974 2318l16 8 11 12-16-6z"/><path class=c d="M2957 2311l17 7 11 14-16-6z"/><path class=d d="M2925 2296l16 7 16 8 12 15-16-6-17-5z"/><path class=e d="M2909 2289l16 7 11 19-16-6z"/><path class=f d="M2877 2277l16 6 16 6 11 20-16-5-16-4z"/><path class=g d="M2861 2271l16 6 11 23-16-5z"/><path class=h d="M2829 2260l16 5 16 6 11 24-16-4-16-4z"/><path class=i d="M2796 2251l17 4 16 5 11 27-16-3-16-3z"/><path class=j d="M2764 2244l16 3 16 4 12 30-16-3-17-2z"/><path class=k d="M2732 2238l16 3 16 3 11 32-16-2-16-1z"/><path class=l d="M2684 2234l16 1 16 1 16 2 11 35-16-1-16 0-16 0z"/><path class=m d="M2491 2286l16-9 16-8 16-8 16-6 16-5 16-5 16-4 16-3 17-2 16-1 16-1 16 0 11 38-16 1-16 1-16 2-16 3-17 3-16 4-16 5-16 5-16 7-16 7-16 8-16 9z"/><path class=l d="M2458 2307l17-11 16-10 11 41-16 10-16 10z"/><path class=k d="M2426 2333l16-13 16-13 12 40-17 12-16 12z"/><path class=j d="M2394 2362l16-15 16-14 11 38-16 13-16 15z"/><path class=i d="M2378 2378l16-16 11 37-16 15z"/><path class=h d="M2362 2395l16-17 11 36-16 15z"/><path class=g d="M2346 2413l16-18 11 34-16 17z"/><path class=f d="M2330 2432l16-19 11 33-16 17z"/><path class=e d="M2297 2472l17-21 16-19 11 31-16 18-16 19z"/><path class=c d="M2281 2493l16-21 12 28-17 19z"/><path class=b d="M2265 2515l16-22 11 26-16 20z"/><path class=a d="M2104 2592l16-4 16-5 17-5 16-4 16-5 16-4 16-5 16-5 16-18 16-22 11 24-16 21-16 6-16 4-16 5-16 5-16 4-16 5-16 4-16 5-17 4z"/><path class=a d="M3001 2338l16 7 11 10-16-5z"/><path class=b d="M2985 2332l16 6 11 12-16-5z"/><path class=c d="M2953 2320l16 6 16 6 11 13-16-4-16-4z"/><path class=d d="M2920 2309l16 6 17 5 11 17-16-5-17-3z"/><path class=e d="M2904 2304l16 5 11 20-16-4z"/><path class=f d="M2872 2295l16 5 16 4 11 21-16-3-16-3z"/><path class=g d="M2840 2287l16 4 16 4 11 24-16-3-16-2z"/><path class=h d="M2808 2281l16 3 16 3 11 27-16-3-16-1z"/><path class=i d="M2759 2274l16 2 17 2 16 3 11 29-16-2-16-1-17-1z"/><path class=j d="M2711 2272l16 0 16 1 16 1 11 32-16 0-16 0-16 1z"/><path class=k d="M2502 2327l16-9 16-8 16-7 16-7 16-5 16-5 16-4 17-3 16-3 16-2 16-1 16-1 16 0 11 35-16 1-16 1-16 2-16 3-16 3-16 3-16 5-17 5-16 5-16 7-16 7-16 8-16 8z"/><path class=j d="M2453 2359l17-12 16-10 16-10 11 38-16 9-16 10-16 11z"/><path class=i d="M2421 2384l16-13 16-12 12 36-16 12-17 12z"/><path class=h d="M2405 2399l16-15 11 35-16 13z"/><path class=g d="M2373 2429l16-15 16-15 11 33-16 14-16 14z"/><path class=f d="M2357 2446l16-17 11 31-16 15z"/><path class=e d="M2341 2463l16-17 11 29-16 16z"/><path class=d d="M2325 2481l16-18 11 28-16 17z"/><path class=c d="M2292 2519l17-19 16-19 11 27-16 17-16 17z"/><path class=b d="M2276 2539l16-20 12 23-16 18z"/><path class=a d="M2115 2602l17-4 16-5 16-4 16-5 16-4 16-5 16-5 16-4 16-6 16-21 12 21-17 11-16 5-16 5-16 4-16 5-16 4-16 5-16 5-16 4-16 5z"/><path class=a d="M3012 2350l16 5 11 10-16-3z"/><path class=b d="M2980 2341l16 4 16 5 11 12-16-4-16-3z"/><path class=c d="M2948 2332l16 5 16 4 11 14-16-3-16-3z"/><path class=d d="M2915 2325l16 4 17 3 11 17-16-3-16-2z"/><path class=e d="M2883 2319l16 3 16 3 12 19-17-2-16-2z"/><path class=f d="M2851 2314l16 2 16 3 11 21-16-2-16-1z"/><path class=g d="M2803 2308l16 2 16 1 16 3 11 23-16-1-16-1-16 0z"/><path class=h d="M2754 2306l16 0 17 1 16 1 11 27-16-1-16 1-16 0z"/><path class=i d="M2674 2311l16-2 16-1 16-1 16-1 16 0 12 29-17 1-16 1-16 2-16 2-16 3z"/><path class=j d="M2561 2342l16-7 16-5 17-5 16-5 16-3 16-3 16-3 11 33-16 3-16 3-16 4-16 5-16 5-17 6-16 6z"/><path class=i d="M2497 2374l16-9 16-8 16-8 16-7 11 34-16 7-16 8-16 8-16 9z"/><path class=h d="M2449 2407l16-12 16-11 16-10 11 34-16 9-16 10-16 11z"/><path class=g d="M2416 2432l16-13 17-12 11 31-16 12-17 12z"/><path class=f d="M2400 2446l16-14 11 30-16 12z"/><path class=e d="M2368 2475l16-15 16-14 11 28-16 14-16 14z"/><path class=d d="M2352 2491l16-16 11 27-16 14z"/><path class=c d="M2320 2525l16-17 16-17 11 25-16 15-16 16z"/><path class=b d="M2304 2542l16-17 11 22-16 16z"/><path class=a d="M2127 2613l16-5 16-4 16-5 16-5 16-4 16-5 16-4 16-5 16-5 17-11 16-18 11 21-16 14-16 5-17 4-16 5-16 4-16 5-16 5-16 4-16 5-16 4-16 5z"/><path class=a d="M3023 2362l16 3 11 11-16-3z"/><path class=b d="M2975 2352l16 3 16 3 16 4 11 11-16-3-16-2-16-3z"/><path class=c d="M2943 2346l16 3 16 3 11 13-16-2-16-1z"/><path class=d d="M2910 2342l17 2 16 2 11 16-16-2-16-1z"/><path class=e d="M2862 2337l16 1 16 2 16 2 12 17-17-1-16-1-16-1z"/><path class=f d="M2814 2335l16 0 16 1 16 1 11 19-16 0-16 0-16 0z"/><path class=g d="M2749 2336l17-1 16 0 16-1 16 1 11 21-16 0-16 1-16 1-16 2z"/><path class=h d="M2540 2391l16-8 16-7 16-6 17-6 16-5 16-5 16-4 16-3 16-3 16-3 16-2 16-2 16-1 12 24-17 2-16 2-16 2-16 3-16 4-16 4-16 4-16 5-16 5-16 6-16 7-17 7-16 7z"/><path class=g d="M2476 2427l16-10 16-9 16-9 16-8 11 27-16 8-16 9-16 9-16 10z"/><path class=f d="M2444 2450l16-12 16-11 11 27-16 10-16 11z"/><path class=e d="M2411 2474l16-12 17-12 11 25-16 12-16 12z"/><path class=d d="M2379 2502l16-14 16-14 12 25-17 12-16 14z"/><path class=c d="M2363 2516l16-14 11 23-16 13z"/><path class=b d="M2331 2547l16-16 16-15 11 22-16 14-16 15z"/><path class=a d="M2138 2623l16-5 16-4 16-5 16-4 16-5 16-5 16-4 16-5 17-4 16-5 16-14 16-16 11 20-16 15-16 5-16 5-16 4-16 5-17 5-16 4-16 5-16 4-16 5-16 5-16 4z"/><path class=a d="M3018 2370l16 3 16 3 11 10-16-2-16-3z"/><path class=b d="M2986 2365l16 3 16 2 11 11-16-2-16-1z"/><path class=c d="M2938 2360l16 2 16 1 16 2 11 13-16-2-16-1-16-1z"/><path class=d d="M2889 2357l16 1 17 1 16 1 11 14-16-1-16-1-16 0z"/><path class=e d="M2841 2356l16 0 16 0 16 1 12 15-17 0-16 0-16 0z"/><path class=f d="M2777 2358l16-1 16-1 16 0 16 0 11 16-16 1-16 1-16 1-16 2z"/><path class=g d="M2551 2418l16-7 17-7 16-7 16-6 16-5 16-5 16-4 16-4 16-4 16-3 16-2 16-2 17-2 16-2 11 19-16 2-16 2-16 3-17 3-16 3-16 4-16 4-16 5-16 5-16 5-16 6-16 7-16 7-17 8z"/><path class=f d="M2487 2454l16-10 16-9 16-9 16-8 11 23-16 8-16 8-16 9-16 10z"/><path class=e d="M2455 2475l16-11 16-10 11 22-16 10-16 11z"/><path class=d d="M2423 2499l16-12 16-12 11 22-16 11-16 12z"/><path class=c d="M2390 2525l16-14 17-12 11 21-16 12-17 13z"/><path class=b d="M2358 2552l16-14 16-13 11 20-16 13-16 13z"/><path class=a d="M2149 2633l16-4 16-5 16-5 16-4 16-5 16-4 17-5 16-5 16-4 16-5 16-5 16-15 16-15 11 19-16 14-16 8-16 4-16 5-16 5-16 4-16 5-17 4-16 5-16 5-16 4-16 5-16 4z"/><path class=a d="M3029 2381l16 3 16 2 12 10-16-2-17-2z"/><path class=b d="M2997 2378l16 1 16 2 11 11-16-1-16-2z"/><path class=c d="M2949 2374l16 1 16 1 16 2 11 11-16-1-16-1-16 0z"/><path class=d d="M2884 2372l17 0 16 0 16 1 16 1 11 13-16-1-16 0-16 0-16 0z"/><path class=e d="M2820 2374l16-1 16-1 16 0 16 0 12 14-17 1-16 0-16 2-16 1z"/><path class=f d="M2707 2390l16-3 17-3 16-3 16-2 16-2 16-2 16-1 11 16-16 2-16 2-16 2-16 2-16 3-16 4-17 4z"/><path class=g d="M2643 2408l16-5 16-5 16-4 16-4 11 19-16 4-16 4-16 5-16 5z"/><path class=f d="M2546 2449l16-8 17-8 16-7 16-7 16-6 16-5 11 19-16 6-16 7-16 6-16 7-16 8-17 8z"/><path class=e d="M2482 2486l16-10 16-10 16-9 16-8 11 20-16 9-16 9-16 9-16 10z"/><path class=d d="M2450 2508l16-11 16-11 11 20-16 11-16 11z"/><path class=c d="M2418 2532l16-12 16-12 11 20-16 11-16 12z"/><path class=b d="M2385 2558l16-13 17-13 11 19-16 12-16 13z"/><path class=a d="M2160 2643l16-4 16-5 16-4 16-5 16-5 17-4 16-5 16-4 16-5 16-5 16-4 16-8 16-14 16-13 12 18-17 13-16 9-16 5-16 5-16 4-16 5-16 4-16 5-16 5-16 4-17 5-16 4-16 5-16 5z"/><path class=a d="M3040 2392l17 2 16 2 11 10-16-1-16-2z"/><path class=b d="M2992 2388l16 1 16 2 16 1 12 11-17-1-16-1-16-1z"/><path class=c d="M2944 2386l16 1 16 0 16 1 11 12-16-1-16 0-16 0z"/><path class=d d="M2879 2387l17-1 16 0 16 0 16 0 11 13-16 0-16 0-16 1-16 0z"/><path class=e d="M2799 2394l16-2 16-2 16-1 16-2 16 0 12 13-16 2-17 1-16 2-16 2-16 2z"/><path class=f d="M2606 2446l16-6 16-7 16-6 16-5 16-5 16-4 16-4 17-4 16-4 16-3 16-2 16-2 11 15-16 2-16 3-16 4-16 3-16 4-16 5-17 5-16 5-16 5-16 6-16 7-16 7z"/><path class=e d="M2525 2487l16-9 16-9 17-8 16-8 16-7 11 19-16 7-16 8-16 8-16 9-17 9z"/><path class=d d="M2477 2517l16-11 16-10 16-9 11 19-16 9-16 10-16 10z"/><path class=c d="M2445 2539l16-11 16-11 11 18-16 11-16 11z"/><path class=b d="M2413 2563l16-12 16-12 11 18-16 12-16 12z"/><path class=a d="M2171 2654l16-5 16-5 16-4 17-5 16-4 16-5 16-5 16-4 16-5 16-4 16-5 16-5 16-9 17-13 16-13 11 18-16 12-16 11-17 5-16 4-16 5-16 5-16 4-16 5-16 4-16 5-16 5-16 4-17 5-16 4-16 5z"/><path class=a d="M3052 2403l16 2 16 1 11 11-16-2-16-1z"/><path class=b d="M3003 2400l16 1 16 1 17 1 11 11-16-1-16-1-17-1z"/><path class=c d="M2955 2399l16 0 16 0 16 1 11 11-16 0-16 0-16 0z"/><path class=d d="M2875 2402l16-2 16 0 16-1 16 0 16 0 11 12-16 0-16 1-16 0-16 1-16 2z"/><path class=e d="M2762 2418l16-4 16-3 16-2 16-2 16-2 16-2 17-1 11 13-16 1-17 2-16 3-16 2-16 3-16 3-16 4z"/><path class=f d="M2681 2440l16-5 17-5 16-5 16-4 16-3 11 15-16 4-16 4-16 5-16 5-17 5z"/><path class=e d="M2569 2488l16-8 16-8 16-7 16-7 16-7 16-6 16-5 11 16-16 6-16 6-16 7-16 7-16 7-16 8-16 8z"/><path class=d d="M2520 2515l16-9 17-9 16-9 11 17-16 9-16 9-17 10z"/><path class=c d="M2472 2546l16-11 16-10 16-10 11 18-16 9-16 11-16 10z"/><path class=b d="M2440 2569l16-12 16-11 11 17-16 11-16 12z"/><path class=a d="M2182 2664l16-5 16-4 17-5 16-4 16-5 16-5 16-4 16-5 16-4 16-5 16-5 16-4 17-5 16-11 16-12 16-12 11 17-16 11-16 12-16 5-16 5-16 5-17 4-16 5-16 4-16 5-16 5-16 4-16 5-16 4-16 5-16 5-17 4z"/><path class=a d="M3063 2414l16 1 16 2 11 10-16-1-16-2z"/><path class=b d="M3014 2411l17 1 16 1 16 1 11 10-16 0-16-1-16-1z"/><path class=c d="M2950 2411l16 0 16 0 16 0 16 0 12 11-17 0-16 0-16 0-16 1z"/><path class=d d="M2870 2416l16-1 16-2 16-1 16 0 16-1 11 12-16 1-16 1-16 1-16 1-16 2z"/><path class=e d="M2612 2489l16-7 16-7 16-7 16-6 16-6 17-5 16-5 16-5 16-4 16-4 16-4 16-3 16-3 16-2 16-3 17-2 11 13-16 3-16 2-17 3-16 3-16 4-16 3-16 5-16 4-16 5-16 5-16 6-16 6-17 6-16 7-16 7-16 8z"/><path class=d d="M2548 2523l16-9 16-9 16-8 16-8 11 17-16 8-16 8-16 9-16 9z"/><path class=c d="M2499 2553l16-11 16-9 17-10 11 17-16 9-16 10-17 10z"/><path class=b d="M2467 2574l16-11 16-10 11 16-16 11-16 11z"/><path class=a d="M2193 2674l17-4 16-5 16-5 16-4 16-5 16-4 16-5 16-5 16-4 16-5 17-4 16-5 16-5 16-5 16-12 16-11 16-12 11 17-16 11-16 11-16 7-16 5-16 4-16 5-16 4-17 5-16 5-16 4-16 5-16 4-16 5-16 5-16 4-16 5-16 4z"/><path class=a d="M3074 2424l16 2 16 1 11 10-16-1-16-1z"/><path class=b d="M3009 2422l17 0 16 1 16 1 16 0 11 11-16-1-16 0-16-1-16 0z"/><path class=c d="M2961 2423l16-1 16 0 16 0 12 11-16 0-17 1-16 0z"/><path class=d d="M2865 2432l16-3 16-2 16-1 16-1 16-1 16-1 11 11-16 1-16 1-16 2-16 2-16 2-16 2z"/><path class=e d="M2671 2484l17-6 16-6 16-6 16-5 16-5 16-4 16-5 16-3 16-4 16-3 17-3 16-2 11 12-16 3-16 3-17 3-16 4-16 4-16 4-16 5-16 5-16 6-16 5-16 7-16 6z"/><path class=d d="M2591 2522l16-8 16-8 16-8 16-7 16-7 12 15-17 7-16 8-16 7-16 8-16 9z"/><path class=c d="M2527 2559l16-10 16-9 16-9 16-9 11 16-16 8-16 10-16 9-16 10z"/><path class=b d="M2494 2580l16-11 17-10 11 16-16 10-17 10z"/><path class=a d="M2205 2684l16-4 16-5 16-4 16-5 16-5 16-4 16-5 16-4 16-5 17-5 16-4 16-5 16-4 16-5 16-7 16-11 16-11 16-11 11 15-16 11-16 11-16 9-16 4-16 5-16 4-16 5-16 5-16 4-16 5-17 4-16 5-16 5-16 4-16 5-16 4-16 5-16 5z"/><path class=a d="M3085 2435l16 1 16 1 11 10-16-1-16-1z"/><path class=b d="M3021 2433l16 0 16 1 16 0 16 1 11 10-16 0-16-1-16 0-16 0z"/><path class=c d="M2956 2435l16-1 16 0 17-1 16 0 11 11-16 0-16 1-17 0-16 1z"/><path class=d d="M2860 2447l16-3 16-2 16-2 16-2 16-2 16-1 11 11-16 2-16 1-16 2-16 3-16 2-16 3z"/><path class=e d="M2715 2486l16-5 16-6 16-5 16-5 16-4 16-4 16-4 17-3 16-3 11 12-16 3-16 4-17 4-16 4-16 5-16 4-16 6-16 5-16 6z"/><path class=d d="M2618 2529l16-8 16-7 16-8 17-7 16-6 16-7 11 14-16 7-16 7-16 7-16 7-17 8-16 8z"/><path class=c d="M2554 2565l16-9 16-10 16-8 16-9 11 15-16 9-16 8-16 10-16 9z"/><path class=b d="M2505 2595l17-10 16-10 16-10 11 15-16 10-16 10-16 10z"/><path class=a d="M2216 2695l16-5 16-5 16-4 16-5 16-4 16-5 16-5 17-4 16-5 16-4 16-5 16-5 16-4 16-5 16-4 16-9 16-11 16-11 12 15-16 11-17 10-16 5-16 4-16 5-16 5-16 4-16 5-16 4-16 5-16 5-17 4-16 5-16 4-16 5-16 5-16 4-16 5z"/><path class=a d="M3096 2445l16 1 16 1 12 11-17-1-16-1z"/><path class=b d="M3032 2444l16 0 16 0 16 1 16 0 11 11-16-1-16 0-16 0-16 0z"/><path class=c d="M2967 2446l16-1 17 0 16-1 16 0 11 11-16 0-16 1-16 1-16 1z"/><path class=d d="M2822 2470l17-4 16-4 16-3 16-3 16-2 16-3 16-2 16-1 16-2 12 12-17 1-16 2-16 2-16 2-16 3-16 3-16 4-16 3-16 4z"/><path class=e d="M2790 2479l16-5 16-4 12 12-16 5-17 5z"/><path class=d d="M2645 2536l17-8 16-7 16-7 16-7 16-7 16-6 16-5 16-6 16-4 11 13-16 5-16 5-16 6-16 6-16 7-16 7-16 7-16 7-16 8z"/><path class=c d="M2581 2571l16-10 16-8 16-9 16-8 12 14-17 9-16 8-16 9-16 9z"/><path class=b d="M2533 2600l16-10 16-10 16-9 11 14-16 10-16 10-16 10z"/><path class=a d="M2227 2705l16-5 16-4 16-5 16-5 16-4 16-5 17-4 16-5 16-5 16-4 16-5 16-4 16-5 16-5 16-4 16-5 17-10 16-11 16-10 11 15-16 10-16 10-16 6-17 5-16 5-16 4-16 5-16 4-16 5-16 5-16 4-16 5-16 4-17 5-16 5-16 4-16 5-16 4-16 5z"/><path class=a d="M3091 2455l16 1 16 1 17 1 11 10-16-1-17-1-16 0z"/><path class=b d="M3043 2455l16 0 16 0 16 0 11 11-16-1-16 0-16 1z"/><path class=c d="M2979 2458l16-1 16-1 16-1 16 0 11 11-16 0-16 1-16 1-16 1z"/><path class=d d="M2689 2535l16-7 16-7 16-7 16-6 16-6 16-5 16-5 17-5 16-5 16-4 16-3 16-4 16-3 16-3 16-2 16-2 16-2 17-1 11 11-16 2-17 2-16 2-16 3-16 2-16 4-16 3-16 4-16 4-16 5-16 5-17 5-16 6-16 6-16 6-16 7-16 7-16 7z"/><path class=c d="M2608 2576l16-9 16-8 17-9 16-8 16-7 11 14-16 8-16 8-16 8-16 9-17 9z"/><path class=b d="M2560 2605l16-10 16-10 16-9 11 15-16 9-16 9-16 10z"/><path class=a d="M2238 2715l16-5 16-4 16-5 16-4 16-5 17-5 16-4 16-5 16-4 16-5 16-5 16-4 16-5 16-4 16-5 17-5 16-6 16-10 16-10 16-10 11 14-16 10-16 10-16 8-16 5-16 4-16 5-17 5-16 4-16 5-16 4-16 5-16 5-16 4-16 5-16 4-16 5-17 5-16 4-16 5-16 4z"/><path class=a d="M3102 2466l16 0 17 1 16 1 11 10-16-1-16 0-17-1z"/><path class=b d="M3054 2466l16-1 16 0 16 1 11 10-16 0-16 0-16 1z"/><path class=c d="M2974 2471l16-2 16-1 16-1 16-1 16 0 11 11-16 0-16 1-16 1-16 2-16 2z"/><path class=d d="M2716 2542l16-7 16-7 16-6 16-6 16-6 17-5 16-5 16-5 16-4 16-4 16-3 16-4 16-2 16-3 16-2 17-2 11 12-16 2-16 2-17 3-16 3-16 3-16 4-16 4-16 4-16 5-16 5-16 6-16 5-17 7-16 6-16 7-16 7z"/><path class=c d="M2636 2582l16-9 16-8 16-8 16-8 16-7 11 14-16 7-16 8-16 8-16 9-16 8z"/><path class=b d="M2587 2609l16-9 16-9 17-9 11 14-16 9-17 10-16 9z"/><path class=a d="M2249 2725l16-4 16-5 16-4 17-5 16-5 16-4 16-5 16-4 16-5 16-5 16-4 16-5 16-4 17-5 16-5 16-4 16-5 16-8 16-10 16-10 16-10 11 15-16 10-16 10-16 9-16 4-16 5-16 5-16 4-16 5-17 4-16 5-16 5-16 4-16 5-16 4-16 5-16 5-16 4-16 5-17 4-16 5-16 5z"/><path class=a d="M3113 2476l17 1 16 0 16 1 11 10-16 0-16-1-16 0z"/><path class=b d="M3065 2477l16-1 16 0 16 0 12 11-16 0-17 0-16 1z"/><path class=c d="M2969 2485l16-2 16-2 16-2 16-1 16-1 16 0 11 11-16 0-16 1-16 2-16 1-16 2-16 3z"/><path class=d d="M2759 2542l16-6 17-7 16-5 16-6 16-5 16-5 16-4 16-4 16-4 16-3 16-3 17-3 16-2 11 12-16 2-16 3-17 3-16 4-16 4-16 4-16 4-16 5-16 6-16 5-16 6-16 6-17 7z"/><path class=c d="M2663 2588l16-9 16-8 16-8 16-7 16-7 16-7 11 14-16 7-16 7-16 8-16 8-16 8-16 8z"/><path class=b d="M2614 2615l17-10 16-9 16-8 11 14-16 9-16 9-16 9z"/><path class=a d="M2260 2736l16-5 16-5 17-4 16-5 16-4 16-5 16-5 16-4 16-5 16-4 16-5 16-5 17-4 16-5 16-4 16-5 16-5 16-4 16-9 16-10 16-10 16-9 12 14-16 10-17 10-16 9-16 5-16 5-16 4-16 5-16 4-16 5-16 5-16 4-17 5-16 4-16 5-16 5-16 4-16 5-16 4-16 5-16 5-16 4-17 5z"/><path class=a d="M3125 2487l16 0 16 1 16 0 11 10-16 0-16 0-16 0z"/><path class=b d="M3060 2488l16 0 16-1 17 0 16 0 11 11-16 0-16 0-17 1-16 1z"/><path class=c d="M2980 2497l16-3 16-2 16-1 16-2 16-1 11 12-16 1-16 1-16 2-16 2-16 2z"/><path class=d d="M2787 2549l16-6 16-6 16-5 16-6 16-5 16-4 16-4 16-4 16-4 17-3 16-3 16-2 11 11-16 3-16 3-16 4-16 3-17 4-16 5-16 4-16 6-16 5-16 6-16 6-16 6z"/><path class=c d="M2706 2586l16-8 16-8 16-7 16-7 17-7 11 14-16 7-16 7-17 7-16 8-16 8z"/><path class=b d="M2642 2620l16-9 16-9 16-8 16-8 11 14-16 8-16 9-16 9-16 9z"/><path class=a d="M2271 2746l17-5 16-4 16-5 16-5 16-4 16-5 16-4 16-5 16-5 16-4 17-5 16-4 16-5 16-5 16-4 16-5 16-4 16-5 16-5 16-9 17-10 16-10 16-9 11 15-16 9-16 9-16 10-17 6-16 4-16 5-16 4-16 5-16 5-16 4-16 5-16 4-16 5-17 5-16 4-16 5-16 4-16 5-16 5-16 4-16 5-16 4-16 5z"/><path class=a d="M3136 2498l16 0 16 0 16 0 11 11-16-1-16 0-16 0z"/><path class=b d="M3071 2500l16-1 17-1 16 0 16 0 11 10-16 1-16 0-16 1-16 1z"/><path class=c d="M2959 2514l16-3 16-3 16-2 16-2 16-2 16-1 16-1 12 11-17 1-16 2-16 2-16 2-16 3-16 3-16 3z"/><path class=d d="M2830 2551l16-6 16-5 16-6 16-4 16-5 17-4 16-3 16-4 11 13-16 3-16 4-16 4-17 5-16 5-16 5-16 5-16 6z"/><path class=c d="M2733 2592l16-8 17-7 16-7 16-7 16-6 16-6 11 13-16 7-16 6-16 7-16 7-16 7-17 8z"/><path class=b d="M2669 2626l16-9 16-9 16-8 16-8 11 14-16 8-16 9-16 8-16 9z"/><path class=a d="M2283 2756l16-5 16-4 16-5 16-4 16-5 16-5 16-4 16-5 16-4 17-5 16-5 16-4 16-5 16-4 16-5 16-5 16-4 16-5 16-4 17-6 16-10 16-9 16-9 16-9 11 14-16 9-16 9-16 10-16 6-16 5-17 4-16 5-16 5-16 4-16 5-16 4-16 5-16 5-16 4-16 5-16 4-17 5-16 5-16 4-16 5-16 4-16 5-16 5-16 4z"/><path class=a d="M3147 2508l16 0 16 0 16 1 11 10-16 0-16 0-16 0z"/><path class=b d="M3083 2511l16-1 16-1 16 0 16-1 11 11-16 1-16 0-16 1-16 2z"/><path class=c d="M2761 2598l16-7 16-7 16-7 16-6 16-7 16-6 16-5 16-5 16-5 17-5 16-4 16-4 16-3 16-3 16-3 16-3 16-2 16-2 16-2 17-1 11 12-16 1-17 2-16 2-16 3-16 2-16 3-16 4-16 3-16 4-16 5-16 4-16 5-17 6-16 5-16 6-16 6-16 7-16 7-16 7-16 8z"/><path class=b d="M2696 2631l16-8 16-9 16-8 17-8 11 15-16 7-16 8-17 9-16 8z"/><path class=a d="M2294 2766l16-4 16-5 16-5 16-4 16-5 16-4 16-5 17-5 16-4 16-5 16-4 16-5 16-5 16-4 16-5 16-4 16-5 16-5 17-4 16-5 16-6 16-10 16-9 16-9 16-9 11 14-16 9-16 9-16 9-16 8-16 5-16 4-16 5-16 4-17 5-16 4-16 5-16 5-16 4-16 5-16 4-16 5-16 5-16 4-17 5-16 4-16 5-16 5-16 4-16 5-16 4z"/><path class=a d="M3158 2519l16 0 16 0 16 0 12 10-17 0-16 1-16 0z"/><path class=b d="M3078 2524l16-1 16-2 16-1 16 0 16-1 11 11-16 1-16 1-16 1-16 1-16 2z"/><path class=c d="M2788 2605l16-7 16-7 16-7 16-6 16-6 16-5 17-6 16-5 16-4 16-5 16-4 16-3 16-4 16-3 16-2 16-3 16-2 17-2 11 12-16 2-16 3-17 2-16 3-16 3-16 4-16 3-16 5-16 4-16 5-16 5-16 5-17 6-16 6-16 6-16 7-16 7-16 7z"/><path class=b d="M2707 2645l16-8 17-9 16-8 16-7 16-8 11 14-16 7-16 8-16 8-16 8-17 8z"/><path class=a d="M2305 2776l16-4 16-5 16-4 16-5 16-5 16-4 17-5 16-4 16-5 16-5 16-4 16-5 16-4 16-5 16-5 16-4 17-5 16-4 16-5 16-4 16-5 16-8 16-9 16-9 16-9 11 13-16 9-16 9-16 9-16 5-16 5-16 4-16 5-16 5-16 4-17 5-16 4-16 5-16 5-16 4-16 5-16 4-16 5-16 5-16 4-16 5-17 4-16 5-16 5-16 4-16 5z"/><path class=a d="M3169 2530l16 0 16-1 17 0 11 10-16 1-17 0-16 1z"/><path class=b d="M3073 2538l16-2 16-2 16-1 16-1 16-1 16-1 11 11-16 1-16 1-16 2-16 1-16 2-16 2z"/><path class=c d="M2815 2612l16-7 16-7 16-6 16-6 17-6 16-5 16-5 16-5 16-4 16-5 16-3 16-4 16-3 16-3 17-2 16-3 11 12-16 3-16 2-17 3-16 4-16 3-16 4-16 5-16 4-16 5-16 5-16 5-16 6-16 6-17 6-16 7-16 7z"/><path class=b d="M2735 2650l16-8 16-8 16-8 16-7 16-7 11 13-16 7-16 7-16 8-16 8-16 8z"/><path class=a d="M2316 2787l16-5 16-4 16-5 16-5 17-4 16-5 16-4 16-5 16-5 16-4 16-5 16-4 16-5 16-5 16-4 17-5 16-4 16-5 16-5 16-4 16-5 16-5 16-9 16-9 16-9 17-8 11 13-16 8-16 9-17 9-16 7-16 4-16 5-16 5-16 4-16 5-16 4-16 5-16 5-17 4-16 5-16 4-16 5-16 5-16 4-16 5-16 4-16 5-16 5-17 4-16 5-16 4-16 5z"/><path class=a d="M3164 2542l16-1 16-1 17 0 16-1 11 11-16 0-16 1-16 1-17 1z"/><path class=b d="M3084 2550l16-2 16-2 16-1 16-2 16-1 11 11-16 1-16 2-16 2-16 2-16 2z"/><path class=c d="M2858 2611l17-6 16-6 16-6 16-5 16-5 16-5 16-4 16-5 16-4 16-3 16-4 17-3 16-2 16-3 11 12-16 3-16 3-16 3-16 3-17 4-16 4-16 4-16 5-16 5-16 5-16 5-16 6-16 6-16 6z"/><path class=b d="M2762 2655l16-8 16-8 16-7 16-7 16-7 16-7 12 13-17 7-16 7-16 7-16 7-16 8-16 7z"/><path class=a d="M2327 2797l16-5 16-4 16-5 17-4 16-5 16-5 16-4 16-5 16-4 16-5 16-5 16-4 16-5 17-4 16-5 16-5 16-4 16-5 16-4 16-5 16-5 16-4 16-7 17-9 16-9 16-8 16-8 11 12-16 8-16 9-16 8-16 9-17 5-16 5-16 4-16 5-16 4-16 5-16 5-16 4-16 5-16 4-17 5-16 5-16 4-16 5-16 4-16 5-16 5-16 4-16 5-16 4-16 5-17 5-16 4z"/><path class=a d="M3175 2553l17-1 16-1 16-1 16 0 11 10-16 1-16 1-16 1-16 1z"/><path class=b d="M3063 2568l16-3 16-3 16-2 16-2 16-2 16-2 16-1 12 11-17 2-16 1-16 2-16 3-16 2-16 3-16 3z"/><path class=c d="M2886 2618l16-6 16-6 16-5 16-5 16-5 16-5 16-4 16-4 17-4 16-3 16-3 11 12-16 3-16 4-16 3-17 4-16 5-16 4-16 5-16 6-16 5-16 6-16 6z"/><path class=b d="M2789 2660l16-8 16-7 16-7 16-7 17-7 16-6 11 13-16 6-16 7-17 6-16 7-16 8-16 7z"/><path class=a d="M2338 2807l16-4 17-5 16-5 16-4 16-5 16-4 16-5 16-5 16-4 16-5 16-4 16-5 17-5 16-4 16-5 16-4 16-5 16-5 16-4 16-5 16-4 16-5 17-5 16-9 16-8 16-9 16-8 16-7 11 12-16 8-16 8-16 8-16 8-16 8-16 4-16 5-17 4-16 5-16 5-16 4-16 5-16 4-16 5-16 5-16 4-16 5-17 4-16 5-16 5-16 4-16 5-16 4-16 5-16 5-16 4-16 5-17 4z"/><path class=a d="M3187 2564l16-1 16-1 16-1 16-1 11 10-16 1-16 1-16 1-16 2z"/><path class=b d="M3058 2583l16-3 16-3 16-3 16-2 16-3 16-2 16-1 17-2 11 11-16 2-16 1-17 3-16 2-16 3-16 2-16 4-16 3z"/><path class=c d="M2929 2619l16-5 16-6 16-5 16-4 16-5 17-4 16-3 16-4 11 12-16 4-16 3-16 5-16 4-17 5-16 5-16 5-16 6z"/><path class=b d="M2800 2672l16-7 16-8 16-7 17-6 16-7 16-6 16-6 16-6 11 13-16 5-16 6-16 7-16 6-16 7-16 7-17 7-16 8z"/><path class=a d="M2349 2817l17-4 16-5 16-4 16-5 16-5 16-4 16-5 16-4 16-5 16-5 17-4 16-5 16-4 16-5 16-5 16-4 16-5 16-4 16-5 16-5 17-4 16-5 16-4 16-8 16-8 16-8 16-8 16-8 11 13-16 7-16 8-16 8-16 9-16 5-16 4-16 5-16 5-17 4-16 5-16 4-16 5-16 5-16 4-16 5-16 4-16 5-16 5-17 4-16 5-16 4-16 5-16 5-16 4-16 5-16 4-16 5-16 5z"/><path class=a d="M3198 2575l16-2 16-1 16-1 16-1 11 10-16 1-16 2-16 1-16 2z"/><path class=b d="M3021 2607l16-5 16-3 16-4 16-3 16-4 16-2 16-3 16-2 17-3 16-1 16-2 11 11-16 2-16 2-16 2-17 2-16 3-16 3-16 3-16 4-16 3-16 4-16 5z"/><path class=c d="M3005 2611l16-4 11 12-16 4z"/><path class=b d="M2827 2677l17-7 16-7 16-7 16-6 16-7 16-6 16-5 16-6 16-5 16-5 17-5 11 12-16 5-17 5-16 5-16 6-16 6-16 6-16 6-16 7-16 6-16 7-16 8z"/><path class=a d="M2361 2828l16-5 16-5 16-4 16-5 16-4 16-5 16-5 16-4 16-5 17-4 16-5 16-5 16-4 16-5 16-4 16-5 16-5 16-4 16-5 17-4 16-5 16-5 16-4 16-5 16-9 16-8 16-8 16-7 16-8 12 13-17 7-16 8-16 8-16 8-16 7-16 4-16 5-16 4-16 5-16 5-16 4-17 5-16 4-16 5-16 4-16 5-16 5-16 4-16 5-16 4-16 5-17 5-16 4-16 5-16 4-16 5-16 5-16 4-16 5z"/><path class=a d="M3193 2588l16-2 16-2 16-1 16-2 16-1 11 11-16 1-16 1-16 2-16 1-16 2z"/><path class=b d="M2855 2682l16-7 16-6 16-7 16-6 16-6 16-6 16-6 16-5 17-5 16-5 16-4 16-5 16-4 16-3 16-4 16-3 16-3 16-3 17-2 16-2 16-2 11 10-16 3-16 2-16 3-17 2-16 4-16 3-16 3-16 4-16 4-16 5-16 4-16 5-16 5-16 5-17 6-16 6-16 6-16 6-16 7-16 7-16 7z"/><path class=a d="M2372 2838l16-5 16-4 16-5 16-5 16-4 16-5 16-4 17-5 16-5 16-4 16-5 16-4 16-5 16-5 16-4 16-5 16-4 17-5 16-4 16-5 16-5 16-4 16-5 16-4 16-7 16-8 16-8 16-8 17-7 16-8 11 13-16 7-16 7-16 8-17 8-16 8-16 5-16 4-16 5-16 5-16 4-16 5-16 4-16 5-17 5-16 4-16 5-16 4-16 5-16 5-16 4-16 5-16 4-16 5-17 5-16 4-16 5-16 4-16 5-16 5-16 4z"/><path class=a d="M3204 2598l16-2 16-1 16-2 16-1 16-1 12 10-17 1-16 2-16 1-16 2-16 2z"/><path class=b d="M2882 2688l16-7 16-7 16-6 16-6 16-6 17-6 16-5 16-5 16-5 16-4 16-5 16-4 16-4 16-3 16-3 16-4 17-2 16-3 16-2 16-3 11 11-16 3-16 2-16 3-16 3-16 3-17 3-16 4-16 4-16 4-16 4-16 5-16 5-16 5-16 5-16 6-17 6-16 6-16 6-16 7-16 7z"/><path class=a d="M2383 2848l16-4 16-5 16-5 16-4 16-5 16-4 17-5 16-5 16-4 16-5 16-4 16-5 16-5 16-4 16-5 16-4 17-5 16-5 16-4 16-5 16-4 16-5 16-5 16-4 16-5 16-8 17-8 16-8 16-7 16-7 16-7 11 12-16 7-16 7-16 7-16 8-16 7-17 7-16 5-16 5-16 4-16 5-16 4-16 5-16 5-16 4-16 5-16 4-17 5-16 5-16 4-16 5-16 4-16 5-16 5-16 4-16 5-16 4-17 5-16 5-16 4-16 5-16 4z"/><path class=a d="M3215 2609l16-2 16-2 16-1 16-2 17-1 11 10-16 2-17 1-16 2-16 2-16 2z"/><path class=b d="M2909 2693l16-7 16-6 16-6 17-6 16-6 16-5 16-5 16-5 16-5 16-4 16-4 16-4 16-4 17-3 16-3 16-3 16-3 16-2 16-3 11 11-16 3-16 2-16 3-16 3-16 3-16 4-17 3-16 4-16 5-16 4-16 5-16 5-16 5-16 5-16 6-16 6-16 6-17 6-16 7z"/><path class=a d="M2394 2858l16-4 16-5 16-4 16-5 17-5 16-4 16-5 16-4 16-5 16-5 16-4 16-5 16-4 16-5 17-5 16-4 16-5 16-4 16-5 16-5 16-4 16-5 16-4 16-5 16-5 17-7 16-7 16-8 16-7 16-7 16-7 16-7 11 12-16 7-16 6-16 8-16 7-16 8-16 7-16 6-16 4-17 5-16 4-16 5-16 5-16 4-16 5-16 4-16 5-16 5-16 4-17 5-16 4-16 5-16 5-16 4-16 5-16 4-16 5-16 5-16 4-17 5-16 4-16 5-16 5z"/><path class=a d="M3210 2623l16-3 16-2 16-2 16-2 17-1 16-2 11 10-16 2-16 2-16 2-17 2-16 2-16 2z"/><path class=b d="M2920 2705l16-7 17-6 16-6 16-6 16-6 16-5 16-5 16-5 16-5 16-4 16-5 16-4 17-3 16-4 16-3 16-3 16-3 16-2 11 10-16 3-16 3-16 3-16 3-16 4-16 4-16 4-17 4-16 5-16 4-16 5-16 6-16 5-16 6-16 6-16 6-16 6-17 7z"/><path class=a d="M2405 2869l16-5 16-5 16-4 17-5 16-4 16-5 16-5 16-4 16-5 16-4 16-5 16-5 16-4 17-5 16-4 16-5 16-5 16-4 16-5 16-4 16-5 16-5 16-4 17-5 16-4 16-6 16-7 16-8 16-7 16-8 16-6 16-7 11 12-16 6-16 7-16 7-16 8-16 7-16 7-16 5-16 4-16 5-17 5-16 4-16 5-16 4-16 5-16 5-16 4-16 5-16 4-16 5-17 5-16 4-16 5-16 4-16 5-16 5-16 4-16 5-16 4-16 5-16 5-17 4-16 5z"/><path class=a d="M3221 2633l16-2 16-2 17-2 16-2 16-2 16-2 11 11-16 1-16 2-16 2-16 2-17 3-16 2z"/><path class=b d="M2948 2710l16-6 16-6 16-6 16-6 16-5 16-6 16-5 16-4 16-5 17-4 16-4 16-4 16-4 16-3 16-3 16-3 16-3 11 11-16 3-16 3-16 3-16 4-16 3-16 4-16 4-16 5-17 4-16 5-16 5-16 5-16 6-16 5-16 6-16 6-16 7z"/><path class=a d="M2416 2879l16-5 17-4 16-5 16-5 16-4 16-5 16-4 16-5 16-5 16-4 16-5 16-4 17-5 16-5 16-4 16-5 16-4 16-5 16-5 16-4 16-5 16-4 17-5 16-5 16-4 16-5 16-7 16-7 16-8 16-7 16-7 16-6 17-7 11 12-16 6-16 7-17 7-16 7-16 7-16 8-16 5-16 5-16 5-16 4-16 5-16 4-17 5-16 5-16 4-16 5-16 4-16 5-16 5-16 4-16 5-16 4-17 5-16 5-16 4-16 5-16 4-16 5-16 5-16 4-16 5-16 4-17 5z"/><path class=a d="M3232 2644l16-2 17-3 16-2 16-2 16-2 16-1 11 10-16 2-16 2-16 2-16 2-16 2-16 3z"/><path class=b d="M2975 2715l16-6 16-6 16-5 16-6 16-5 16-5 16-5 17-4 16-5 16-4 16-4 16-3 16-4 16-3 16-3 16-3 12 11-17 3-16 3-16 3-16 4-16 4-16 3-16 5-16 4-16 5-16 4-17 5-16 6-16 5-16 6-16 6-16 6z"/><path class=a d="M2427 2889l17-5 16-4 16-5 16-4 16-5 16-5 16-4 16-5 16-4 16-5 17-5 16-4 16-5 16-4 16-5 16-5 16-4 16-5 16-4 16-5 17-5 16-4 16-5 16-4 16-5 16-5 16-5 16-8 16-7 16-7 17-7 16-7 16-6 16-7 11 12-16 6-16 7-16 6-16 7-17 7-16 8-16 7-16 5-16 4-16 5-16 5-16 4-16 5-16 4-17 5-16 4-16 5-16 5-16 4-16 5-16 4-16 5-16 5-16 4-17 5-16 4-16 5-16 5-16 4-16 5-16 4-16 5-16 5-16 4z"/><path class=a d="M3227 2658l17-3 16-3 16-2 16-2 16-2 16-2 16-2 11 10-16 2-16 2-16 2-16 3-16 2-16 3-16 3z"/><path class=b d="M3002 2721l16-6 16-6 16-5 16-6 17-5 16-4 16-5 16-4 16-5 16-3 16-4 16-4 16-3 16-3 12 11-17 3-16 3-16 4-16 4-16 4-16 4-16 4-16 5-16 5-16 5-17 5-16 6-16 5-16 6z"/><path class=a d="M2439 2899l16-4 16-5 16-5 16-4 16-5 16-4 16-5 16-5 16-4 17-5 16-4 16-5 16-5 16-4 16-5 16-4 16-5 16-5 16-4 17-5 16-4 16-5 16-4 16-5 16-5 16-4 16-5 16-7 16-8 17-7 16-7 16-6 16-7 16-6 16-6 11 11-16 6-16 7-16 6-16 7-16 7-16 7-17 7-16 6-16 5-16 5-16 4-16 5-16 4-16 5-16 5-16 4-16 5-17 4-16 5-16 5-16 4-16 5-16 4-16 5-16 5-16 4-16 5-17 4-16 5-16 5-16 4-16 5-16 4-16 5-16 5z"/><path fill="none" d="M1975 2442l12 23 11 10 11 10 11 11 11 10 11 10 12 10 11 11 11 10 11 10 11 10 11 10 11 11 12 10 11 10 11 10 11 11 11 10 11 10 11 10 12 11 11 10 11 10 11 10 11 10 11 11 11 10 12 10 11 10 11 11 11 10 11 10 11 10 11 11 12 10 11 10 11 10 11 11 11 10 11 10 11 10 12 10 11 11 11 10M2014 2464l11 17 11 10 11 10 11 10 12 11 11 10 11 10 11 10 11 11 11 10 11 10 12 10 11 11 11 10 11 10 11 10 11 10 11 11 12 10 11 10 11 10 11 11 11 10 11 10 11 10 12 11 11 10 11 10 11 10 11 11 11 10 12 10 11 10 11 10 11 11 11 10 11 10 11 10 12 11 11 10 11 10 11 10M2052 2483l11 14 12 10 11 10 11 10 11 11 11 10 11 10 11 10 12 10 11 11 11 10 11 10 11 10 11 11 11 10 12 10 11 10 11 11 11 10 11 10 11 10 11 11 12 10 11 10 11 10 11 10 11 11 11 10 11 10 12 10 11 11 11 10 11 10 11 10 11 11 11 10 12 10 11 10 11 10 11 11M2080 2477l11 25 11 10 11 11 11 10 11 10 11 10 12 11 11 10 11 10 11 10 11 11 11 10 11 10 12 10 11 11 11 10 11 10 11 10 11 10 11 11 12 10 11 10 11 10 11 11 11 10 11 10 11 10 12 11 11 10 11 10 11 10 11 10 11 11 11 10 12 10 11 10 11 11 11 10 11 10M2118 2501l11 17 11 10 11 11 11 10 12 10 11 10 11 11 11 10 11 10 11 10 11 10 12 11 11 10 11 10 11 10 11 11 11 10 11 10 12 10 11 11 11 10 11 10 11 10 11 10 12 11 11 10 11 10 11 10 11 11 11 10 11 10 12 10 11 11 11 10 11 10 11 10 11 11M2156 2513l11 21 12 10 11 10 11 11 11 10 11 10 11 10 11 11 12 10 11 10 11 10 11 11 11 10 11 10 11 10 12 10 11 11 11 10 11 10 11 10 11 11 11 10 12 10 11 10 11 11 11 10 11 10 11 10 11 11 12 10 11 10 11 10 11 10 11 11 11 10M2195 2534l11 16 11 10 11 10 11 11 11 10 12 10 11 10 11 10 11 11 11 10 11 10 11 10 12 11 11 10 11 10 11 10 11 11 11 10 11 10 12 10 11 11 11 10 11 10 11 10 11 10 11 11 12 10 11 10 11 10 11 11 11 10 11 10 11 10M2222 2535l11 20 11 11 11 10 11 10 12 10 11 11 11 10 11 10 11 10 11 11 12 10 11 10 11 10 11 11 11 10 11 10 11 10 12 10 11 11 11 10 11 10 11 10 11 11 11 10 12 10 11 10 11 11 11 10 11 10 11 10 11 10 12 11M2249 2537l11 23 11 11 12 11 11 10 11 10 11 10 11 11 11 10 11 10 12 10 11 10 11 11 11 10 11 10 11 10 11 11 12 10 11 10 11 10 11 11 11 10 11 10 11 10 12 10 11 11 11 10 11 10 11 10 11 11 11 10 12 10M2288 2560l11 17 11 10 11 10 11 11 11 10 11 10 12 10 11 11 11 10 11 10 11 10 11 11 11 10 12 10 11 10 11 10 11 11 11 10 11 10 11 10 12 11 11 10 11 10 11 10 11 11 11 10 11 10 12 10 11 11M2315 2563l11 19 11 11 11 10 11 10 12 11 11 10 11 10 11 10 11 10 11 11 11 10 12 10 11 10 11 11 11 10 11 10 11 10 11 11 12 10 11 10 11 10 11 11 11 10 11 10 11 10 12 10 11 11 11 10M2309 2500l11 25M2342 2567l11 18 11 13 11 11 12 10 11 10 11 10 11 11 11 10 11 10 11 10 12 11 11 10 11 10 11 10 11 11 11 10 11 10 12 10 11 10 11 11 11 10 11 10 11 10 11 11 12 10 11 10 11 10M2314 2451l11 30M2336 2508l11 23 11 21M2369 2571l11 18 12 15 11 10 11 11 11 10 11 10 11 10 11 11 12 10 11 10 11 10 11 10 11 11 11 10 11 10 12 10 11 11 11 10 11 10 11 10 11 11 11 10 12 10 11 10 11 10 11 11M2374 2538l11 20M2397 2576l11 17 11 16 11 11 11 10 11 10 11 11 12 10 11 10 11 10 11 11 11 10 11 10 11 10 12 11 11 10 11 10 11 10 11 10 11 11 11 10 12 10 11 10 11 11 11 10 11 10M2401 2545l12 18M2424 2581l11 16 11 16 11 13 11 10 11 10 12 10 11 11 11 10 11 10 11 10 11 10 11 11 12 10 11 10 11 10 11 11 11 10 11 10 12 10 11 11 11 10 11 10 11 10 11 11M2384 2460l11 28 11 23 12 21M2429 2551l11 18M2451 2586l11 16 11 15 11 14 12 10 11 11 11 10 11 10 11 10 11 11 11 10 12 10 11 10 11 11 11 10 11 10 11 10 11 11 12 10 11 10 11 10 11 10 11 11 11 10M2356 2299l11 41M2389 2414l11 32M2434 2520l11 19M2456 2557l11 17M2478 2591l11 15 12 15 11 14 11 12 11 10 11 11 11 10 11 10 12 10 11 11 11 10 11 10 11 10 11 10 11 11 12 10 11 10 11 10 11 11 11 10 11 10 11 10M2383 2323l11 39M2427 2462l12 25 11 21M2461 2528l11 18M2483 2563l11 17M2517 2610l11 15 11 14 11 14 11 10 11 10 11 10 12 11 11 10 11 10 11 10 11 11 11 10 12 10 11 10 11 11 11 10 11 10 11 10 11 10 12 11M2343 2102l11 37M2410 2347l11 37M2432 2419l12 31M2466 2497l11 20M2488 2535l11 18M2510 2569l12 16 11 15M2544 2615l11 14 11 15 11 14 11 11 12 10 11 10 11 10 11 11 11 10 11 10 11 10 12 11 11 10 11 10 11 10 11 10 11 11 11 10 12 10M2437 2371l12 36M2460 2438l11 26 11 22M2493 2506l11 19 11 17 12 17M2538 2575l11 15 11 15M2571 2619l11 15 11 15 12 14 11 11 11 11 11 10 11 10 11 10 11 10 12 11 11 10 11 10 11 10 11 11 11 10 11 10 12 10 11 11M2331 1922l11 31M2387 2104l11 40M2420 2233l11 45 11 42 11 39M2465 2395l11 32M2498 2476l11 20 11 19M2531 2533l12 16 11 16M2565 2580l11 15 11 14M2598 2624l12 15 11 14 11 15 11 12 11 10 11 10 11 11 12 10 11 10 11 10 11 11 11 10 11 10 11 10 12 10 11 11 11 10M2302 1795l12 24M2336 1876l11 30M2369 1972l11 39M2414 2129l11 45 11 46M2470 2347l11 37 11 33 11 27 11 22 11 21M2536 2506l12 17M2559 2540l11 16 11 15M2592 2585l11 15 11 15M2626 2629l11 15 11 14 11 14 11 13 11 11 11 10 12 10 11 10 11 11 11 10 11 10 11 10 11 11 12 10 11 10 11 10M2330 1805l11 27 11 29M2397 1997l11 41 11 38M2452 2208l11 46 12 42 11 41 11 37M2508 2408l11 27 11 22 11 21 12 19 11 17 11 17 11 15 11 15 11 15M2619 2591l12 14 11 15M2653 2635l11 14 11 14 11 13 11 13 12 12 11 11 11 10 11 10 11 10 11 11 11 10 12 10 11 10 11 11 11 10M2379 1878l11 31 11 36 12 40M2435 2064l11 41 11 45 11 47M2513 2365l11 34 11 27 11 23M2557 2469l12 19M2580 2505l11 17M2602 2538l11 15 11 14 12 15M2647 2596l11 15 11 15M2680 2640l11 14 11 13 12 13 11 12 11 12 11 13 11 11 11 10 11 10 12 10 11 10 11 11 11 10 11 10M2351 1756l11 25 11 27 11 29 11 30M2406 1898l12 36M2429 1974l11 41 11 39 11 41 11 45 11 48 12 46 11 43 11 41 11 39 11 34M2562 2441l12 20 11 19 11 17 11 17 11 15M2629 2544l11 15 12 14 11 15M2674 2602l11 15 11 14M2718 2658l12 13 11 13 11 12 11 12 11 13 11 12 11 10 12 11 11 10 11 10 11 10 11 11M2367 1747l11 24 11 27 11 29 11 30 12 31M2434 1925l11 40 11 41 11 40M2501 2179l11 47 11 43 11 41 11 39 11 34 11 28 12 22 11 20 11 19 11 17M2623 2506l11 15 11 15M2657 2550l11 15 11 14 11 15 11 14 11 15 11 14 12 13M2746 2663l11 12 11 13 11 12 11 13 11 12 12 11 11 12 11 11 11 10 11 11 11 10M2383 1740l11 24M2416 1820l11 29 12 32 11 36 11 41 11 41M2483 2038l11 41 11 46 12 47 11 47 11 42 11 42 11 39M2572 2376l12 28 11 22 11 20M2617 2465l11 17 11 16 11 16 12 14 11 14 11 15 11 14 11 15M2717 2600l11 14 12 14 11 14 11 13M2773 2667l11 13 11 12 11 13 12 12 11 12 11 12 11 11 11 12 11 11 11 10M2399 1734l11 24 11 27 11 29M2444 1844l11 31 11 36 11 41M2488 1993l11 40 11 40 12 46 11 47M2544 2212l11 43 11 41 11 39 11 35 12 27 11 22 11 21 11 18 11 17 11 16 11 15 12 15 11 14M2700 2549l11 14 11 15 11 14M2744 2606l12 14 11 14 11 13 11 13M2811 2685l11 12 12 12 11 12 11 12 11 12 11 11 11 12 11 11M2415 1731l11 23 11 27 12 29M2460 1839l11 31 11 37 11 41 11 41 11 39 12 41 11 45 11 47 11 46 11 43 11 41 11 39 12 34 11 27 11 22 11 20 11 18 11 17 11 16M2683 2499l11 15 11 14 11 14M2727 2556l11 14 11 14 12 14M2772 2613l11 13 11 13 11 13 11 13 11 12M2839 2690l11 12 11 12 11 12 11 11 11 12 11 11 12 12M2431 1729l11 23M2465 1807l11 30 11 31 11 37 11 40M2531 2025l12 41 11 45 11 46M2576 2203l11 42 11 41 12 39 11 34 11 27 11 22M2654 2427l11 18 11 17 12 16 11 15 11 14 11 14 11 14 11 14 11 14 12 14 11 14 11 14M2799 2619l11 13 11 13 11 12 12 13 11 12M2866 2695l11 12 11 11 11 12 11 12 12 11 11 12M2447 1729l11 23 12 26 11 29 11 29 11 31 11 37 11 40 11 41 12 39 11 40 11 44 11 47 11 45 11 41 11 41 12 38 11 34 11 27 11 22 11 19 11 18M2692 2456l12 16 11 14M2726 2500l11 14 11 14 11 14M2770 2556l12 14 11 14 11 14 11 14M2826 2625l11 13 11 12 12 13 11 12 11 13M2893 2700l11 12 11 11 12 12 11 11 11 12M2463 1731l12 23 11 26 11 28 11 29 11 31M2530 1904l11 40 12 41 11 39M2597 2153l11 44 11 41 12 41 11 38 11 33 11 27 11 21 11 19 11 18 12 16 11 15 11 15 11 13 11 14 11 14 11 14 12 13M2798 2563l11 14 11 14 11 14 11 13 11 13 12 13 11 12 11 13 11 12 11 12M2931 2717l12 11 11 12 11 11M2535 1870l11 36M2569 1987l11 38 11 39 11 43 11 45 11 44 12 40 11 40 11 38 11 33 11 26 11 21 11 19 12 17 11 16 11 15 11 14 11 14 11 13 11 14 12 13 11 14 11 14 11 14 11 13 11 14 11 13M2870 2624l11 13 11 13 11 12 11 12 11 12 11 12 12 12M2959 2722l11 11 11 12M2507 1762l11 26 11 27 11 29 11 30M2562 1910l12 39 11 40M2607 2065l11 43 11 44 11 43 12 40 11 39 11 37M2685 2344l11 25 11 21M2718 2409l12 16 11 16 11 15 11 14 11 13 11 14 11 13 12 14 11 13 11 14M2841 2564l11 14 11 14 12 13 11 13M2897 2631l11 12 11 13 11 12 11 12 12 12 11 12 11 11M2986 2727l11 11M2512 1747l11 22M2567 1880l12 35M2601 1993l11 37 11 38M2668 2234l11 39 11 36 11 32 11 25 11 21 12 18 11 16 11 16 11 15 11 13 11 14M2801 2492l12 13 11 13 11 14 11 13 11 13 11 14 11 14 12 13 11 13 11 13 11 12 11 13 11 12 11 12 12 12 11 12 11 11 11 12M2595 1921l11 39 11 39M2639 2072l11 41 12 42 11 41 11 38M2695 2272l11 36 11 31 11 25 12 20 11 17 11 17M2773 2433l11 14 11 14 11 13 12 13 11 13 11 13 11 13 11 14 11 13 11 14 12 13 11 13 11 13 11 13M2940 2632l11 12 11 12 12 12 11 12 11 12 11 11 11 12 11 11M2644 2041l11 36M2689 2198l11 37 11 37M2722 2307l11 30 11 25 12 19 11 17 11 16 11 15 11 15 11 13 11 13M2834 2482l11 13 11 13 11 13 11 13 11 14 12 13 11 14 11 13 11 13 11 13 11 12 11 12 12 12 11 12 11 12 11 12 11 12 11 11 11 12M2649 2012l11 35M2671 2082l12 39 11 40 11 39M2716 2236l11 36 11 34 11 30M2761 2360l11 19 11 17 11 15 11 15 11 14 11 13 12 13 11 12 11 13 11 13 11 13 11 13 11 13 12 13 11 14 11 13 11 13 11 12 11 13 11 12 12 12 11 12 11 12 11 12 11 11 11 12 11 11M2721 2203l11 35M2743 2273l11 33M2766 2335l11 23M2788 2377l11 17M2810 2409l11 14 11 14 12 13 11 12 11 13 11 12 11 13 11 13 11 12 12 13 11 14 11 13 11 13 11 13 11 12 11 13 12 12 11 12 11 12 11 12 11 11 11 12 11 11 12 12M2670 1995l11 35M2692 2063l12 33M2715 2133l11 37 11 37M2748 2241l11 33M2770 2306l12 29 11 22 11 18 11 17 11 15 11 14 12 13 11 13M2871 2459l11 12 11 13 11 12 11 13 12 12 11 13 11 13 11 14 11 13 11 12 11 13 12 12M3016 2623l11 12 11 12 11 12 11 11 11 12 12 11 11 12M2753 2211l11 33M2775 2276l12 31 11 27 11 22 11 18M2831 2390l11 15 11 13 12 14M2876 2444l11 12 11 12 11 12 11 13 11 12 12 13 11 12 11 13 11 13 11 13 11 13 11 12 12 13M3032 2619l11 12 11 11 11 12 11 12 11 11 12 12 11 11M2736 2113l11 34M2758 2182l11 33M2780 2247l12 31 11 30M2825 2356l11 17 11 16 11 14 12 13M2881 2429l11 13 11 12 11 11 11 13 11 12 12 12 11 12M2970 2527l11 13 11 13 11 12 11 13 12 12 11 12 11 12 11 12 11 12 11 12 11 11 12 12 11 11 11 11M2785 2221l11 30M2819 2310l11 25 11 21M2852 2372l11 15 12 15M2886 2415l11 12 11 13 11 11 11 12 11 12 12 12 11 12 11 12 11 13 11 12 11 13 11 13 12 12 11 13 11 12 11 11 11 12 11 12 11 11 12 12 11 11 11 12 11 11M2813 2255l11 29 11 27 11 25 11 20 11 16 11 15M2891 2400l11 13 11 13 11 12 11 11 11 12 11 12 12 12M2991 2508l11 13 11 12 11 13 11 12 12 13 11 12M3069 2595l11 12 11 11 11 12 11 11 12 12 11 11 11 11 11 12M2795 2173l11 30M2873 2356l11 16M2896 2386l11 14 11 12 11 13 11 11 11 12 11 11 12 12M2985 2483l11 11 11 12 11 12 11 13 11 12 12 12 11 13M3074 2580l11 12 11 11 11 12 11 11 12 12 11 11 11 11 11 12 11 11M2823 2212l11 27 11 26 11 26 11 25 11 22 11 19M2901 2372l11 14 11 13 11 13 11 12 11 11M2990 2469l11 12 11 11 11 12 11 12 11 12 12 13 11 12 11 12 11 12 11 11 11 12 11 12 12 11 11 11 11 11 11 12 11 11 11 11M2894 2340l11 18 12 14 11 14 11 13 11 12M2972 2434l11 11 12 12 11 11 11 11 11 12 11 11 11 12 11 12 12 12M3095 2562l11 12 11 12 11 11 11 11 12 12 11 11 11 11 11 11 11 11 11 11M2888 2300l11 22 11 20M2922 2359l11 14 11 13M2966 2411l11 11 11 12 12 11 11 11 11 11 11 11 11 11 11 12 11 11 12 12M3089 2536l11 12 11 12 11 12 11 11 11 11 12 12 11 11 11 11 11 11 11 11 11 11 11 11M2893 2283l11 21M2927 2344l11 16M2960 2387l11 12 11 12 11 11 12 11 11 11 11 11 11 11 11 11 11 11M3094 2523l11 11 11 12 11 12 11 11 11 12 12 11 11 11 11 11 11 11 11 11 11 11 11 11M2898 2269l11 20M2931 2329l12 17M2954 2362l11 13 11 12 11 12 11 12 11 11M3076 2488l11 11 12 11 11 11 11 12 11 12 11 11 11 11 12 11 11 12 11 11 11 11 11 11M3244 2655l11 11M2936 2315l12 17M2959 2349l11 14 11 13 11 12M3026 2422l11 11 11 11 11 11 11 10 11 11 11 11 12 11 11 11 11 11 11 12 11 11 11 11 11 12 12 11 11 11M3226 2620l11 11 11 11 12 10 11 11M2941 2303l12 17M2964 2337l11 15M3008 2389l11 12 12 11 11 11 11 11 11 10 11 11 11 10 11 11 12 11 11 11 11 11 11 11 11 11 11 11M3209 2586l11 10 11 11 11 11 11 11 12 10 11 11 11 11M2969 2326l11 15M2991 2355l11 13 11 11 11 12 11 11 12 11 11 11 11 10 11 11 11 10M3180 2541l12 11 11 11 11 10 11 11 11 11 11 10 11 11 12 11 11 10 11 11 11 10M2996 2345l11 13 11 12M3107 2456l11 10 12 11 11 10 11 11 11 10 11 11 11 11 11 10 12 11 11 11 11 10 11 11 11 10 11 11 11 10 12 11 11 10 11 11 11 10M2967 2303l12 12M3034 2373l11 11 12 10 11 11 11 10 11 11 11 10 11 10 11 11 12 10 11 10 11 11 11 10 11 10 11 11 11 10 12 11 11 10 11 11 11 10 11 10 11 11 11 10 12 11 11 10 11 10 11 11 11 10"/></g><g stroke="#151212" stroke-width=".6" fill="none"><path d="M389.7 372.6L490 464.7"/><path d="M490 464.7L670.2 413.2"/><path d="M490 581.9L490 464.7"/></g><g stroke="#3c3838" stroke-width=".75" fill="none"><path d="M389.7 489.8L385.3 491"/><path d="M399.7 499L395.4 500.2"/><path d="M409.7 508.2L405.4 509.5"/><path d="M419.7 517.4L415.4 518.7"/><path d="M429.8 526.6L425.4 527.9"/><path d="M439.8 535.8L435.5 537.1"/><path d="M449.8 545.1L445.5 546.3"/><path d="M459.9 554.3L455.5 555.5"/><path d="M469.9 563.5L465.6 564.7"/><path d="M479.9 572.7L475.6 573.9"/><path d="M490 581.9L485.6 583.1"/><path d="M490 581.9L493.8 585.4"/><path d="M520 573.3L523.8 576.8"/><path d="M550.1 564.7L553.9 568.3"/><path d="M580.1 556.1L583.9 559.7"/><path d="M610.2 547.6L614 551.1"/><path d="M640.2 539L644 542.5"/><path d="M670.2 530.4L674.1 533.9"/><path d="M389.7 489.8L385.7 486.3"/><path d="M389.7 466.4L385.7 462.9"/><path d="M389.7 442.9L385.7 439.4"/><path d="M389.7 419.5L385.7 416"/><path d="M389.7 396L385.7 392.5"/><path d="M389.7 372.6L385.7 369.1"/></g><g class="ti" text-anchor="end"><text x="381.2" y="504.3">0</text><text x="391.2" y="513.5">1</text><text x="401.2" y="522.7">2</text><text x="411.2" y="531.9">3</text><text x="421.3" y="541.1">4</text><text x="431.3" y="550.3">5</text><text x="441.3" y="559.6">6</text><text x="451.4" y="568.8">7</text><text x="461.4" y="578">8</text><text x="471.4" y="587.2">9</text><text x="481.5" y="596.4">10</text><text x="383.7" y="488.9">0</text><text x="383.7" y="465.5">0.2</text><text x="383.7" y="442">0.4</text><text x="383.7" y="418.6">0.6</text><text x="383.7" y="395.1">0.8</text><text x="383.7" y="371.7">1</text></g><g class="ti"><text x="497" y="599.6">0</text><text x="527" y="591"><tspan class="pi">π</tspan>/6</text><text x="557.1" y="582.4"><tspan class="pi">π</tspan>/3</text><text x="587.1" y="573.9"><tspan class="pi">π</tspan>/2</text><text x="617.2" y="565.3">2<tspan class="pi">π</tspan>/3</text><text x="647.2" y="556.7">5<tspan class="pi">π</tspan>/6</text><text x="677.2" y="548.1"><tspan class="pi">π</tspan></text></g><text class="ax" x="406.5" y="563.8" font-size="16">ωt</text><text class="ax" x="597.1" y="590.5" font-size="17">θ</text><text class="cc" transform="translate(365.2 437.1) rotate(-90)" text-anchor="middle">C</text><text class="lb" x="547.2" y="339.3">(d)</text></svg>
</body></html>
